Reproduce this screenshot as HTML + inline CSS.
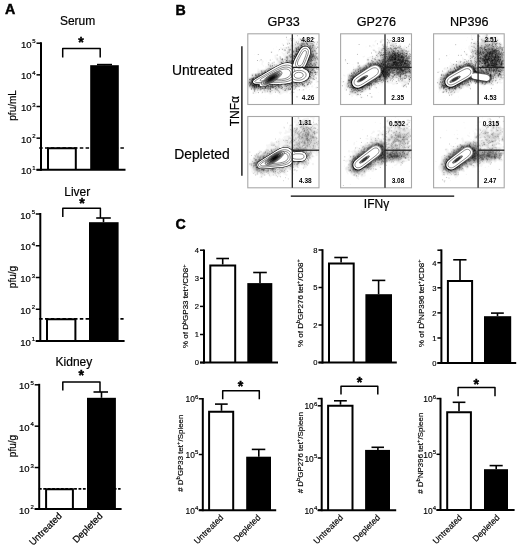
<!DOCTYPE html>
<html><head><meta charset="utf-8"><style>
html,body{margin:0;padding:0;background:#fff;}
body{width:520px;height:551px;overflow:hidden;}
svg{display:block;}
text{font-family:'Liberation Sans', Arial, Helvetica, sans-serif;fill:#000;stroke:#000;stroke-width:0.2px;}
text[font-weight=bold]{stroke-width:0.45px;}
</style></head><body>
<svg width="520" height="551" viewBox="0 0 520 551">
<rect width="520" height="551" fill="#fff"/>
<text x="5.10" y="13.80" font-size="14.2" text-anchor="start" font-weight="bold">A</text>
<text x="77.60" y="24.80" font-size="12" text-anchor="middle">Serum</text>
<path d="M48.00 169.80V148.30H75.80V169.80" fill="#fff" stroke="#000" stroke-width="2"/>
<rect x="90.20" y="65.20" width="28.60" height="104.60" fill="#000" stroke="none" stroke-width="0"/>
<line x1="104.50" y1="65.20" x2="104.50" y2="64.60" stroke="#000" stroke-width="1.6" />
<line x1="97.00" y1="64.60" x2="112.00" y2="64.60" stroke="#000" stroke-width="1.6" />
<line x1="39.20" y1="148.00" x2="124.50" y2="148.00" stroke="#000" stroke-width="1.6" stroke-dasharray="3.5 2.3"/>
<line x1="41.00" y1="42.20" x2="41.00" y2="170.80" stroke="#000" stroke-width="2" />
<line x1="36.50" y1="43.20" x2="41.00" y2="43.20" stroke="#000" stroke-width="1.5" />
<text x="35.70" y="47.80" font-size="9.5" text-anchor="end">10<tspan dx="0.9" dy="-4.5" font-size="6.0">5</tspan></text>
<line x1="36.50" y1="74.85" x2="41.00" y2="74.85" stroke="#000" stroke-width="1.5" />
<text x="35.70" y="79.45" font-size="9.5" text-anchor="end">10<tspan dx="0.9" dy="-4.5" font-size="6.0">4</tspan></text>
<line x1="36.50" y1="106.50" x2="41.00" y2="106.50" stroke="#000" stroke-width="1.5" />
<text x="35.70" y="111.10" font-size="9.5" text-anchor="end">10<tspan dx="0.9" dy="-4.5" font-size="6.0">3</tspan></text>
<line x1="36.50" y1="138.15" x2="41.00" y2="138.15" stroke="#000" stroke-width="1.5" />
<text x="35.70" y="142.75" font-size="9.5" text-anchor="end">10<tspan dx="0.9" dy="-4.5" font-size="6.0">2</tspan></text>
<line x1="36.50" y1="169.80" x2="41.00" y2="169.80" stroke="#000" stroke-width="1.5" />
<text x="35.70" y="174.40" font-size="9.5" text-anchor="end">10<tspan dx="0.9" dy="-4.5" font-size="6.0">1</tspan></text>
<line x1="36.50" y1="169.80" x2="125.50" y2="169.80" stroke="#000" stroke-width="2" />
<polyline points="62.70,57.50 62.70,48.50 100.20,48.50 100.20,57.50" stroke="#000" stroke-width="1.5" fill="none" stroke-linejoin="round"/>
<text x="81.00" y="47.00" font-size="14.2" text-anchor="middle" font-weight="bold">*</text>
<text x="16.20" y="105.40" font-size="10" text-anchor="middle" transform="rotate(-90 16.20 105.40)">pfu/mL</text>
<text x="77.30" y="196.20" font-size="12" text-anchor="middle">Liver</text>
<path d="M47.00 341.00V319.20H75.40V341.00" fill="#fff" stroke="#000" stroke-width="2"/>
<rect x="89.00" y="222.20" width="29.60" height="118.80" fill="#000" stroke="none" stroke-width="0"/>
<line x1="103.50" y1="222.20" x2="103.50" y2="218.00" stroke="#000" stroke-width="1.6" />
<line x1="96.20" y1="218.00" x2="110.80" y2="218.00" stroke="#000" stroke-width="1.6" />
<line x1="39.20" y1="318.90" x2="123.60" y2="318.90" stroke="#000" stroke-width="1.6" stroke-dasharray="3.5 2.3"/>
<line x1="40.30" y1="213.00" x2="40.30" y2="342.00" stroke="#000" stroke-width="2" />
<line x1="35.80" y1="214.00" x2="40.30" y2="214.00" stroke="#000" stroke-width="1.5" />
<text x="35.00" y="218.60" font-size="9.5" text-anchor="end">10<tspan dx="0.9" dy="-4.5" font-size="6.0">5</tspan></text>
<line x1="35.80" y1="245.75" x2="40.30" y2="245.75" stroke="#000" stroke-width="1.5" />
<text x="35.00" y="250.35" font-size="9.5" text-anchor="end">10<tspan dx="0.9" dy="-4.5" font-size="6.0">4</tspan></text>
<line x1="35.80" y1="277.50" x2="40.30" y2="277.50" stroke="#000" stroke-width="1.5" />
<text x="35.00" y="282.10" font-size="9.5" text-anchor="end">10<tspan dx="0.9" dy="-4.5" font-size="6.0">3</tspan></text>
<line x1="35.80" y1="309.25" x2="40.30" y2="309.25" stroke="#000" stroke-width="1.5" />
<text x="35.00" y="313.85" font-size="9.5" text-anchor="end">10<tspan dx="0.9" dy="-4.5" font-size="6.0">2</tspan></text>
<line x1="35.80" y1="341.00" x2="40.30" y2="341.00" stroke="#000" stroke-width="1.5" />
<text x="35.00" y="345.60" font-size="9.5" text-anchor="end">10<tspan dx="0.9" dy="-4.5" font-size="6.0">1</tspan></text>
<line x1="35.80" y1="341.00" x2="124.60" y2="341.00" stroke="#000" stroke-width="2" />
<polyline points="62.80,217.00 62.80,208.30 100.40,208.30 100.40,218.00" stroke="#000" stroke-width="1.5" fill="none" stroke-linejoin="round"/>
<text x="82.00" y="208.00" font-size="14.2" text-anchor="middle" font-weight="bold">*</text>
<text x="16.20" y="277.00" font-size="10" text-anchor="middle" transform="rotate(-90 16.20 277.00)">pfu/g</text>
<text x="73.90" y="365.70" font-size="12" text-anchor="middle">Kidney</text>
<path d="M46.10 508.91V489.20H72.90V508.91" fill="#fff" stroke="#000" stroke-width="2"/>
<rect x="87.00" y="397.80" width="28.90" height="111.11" fill="#000" stroke="none" stroke-width="0"/>
<line x1="101.50" y1="397.80" x2="101.50" y2="392.00" stroke="#000" stroke-width="1.6" />
<line x1="93.50" y1="392.00" x2="108.00" y2="392.00" stroke="#000" stroke-width="1.6" />
<line x1="38.90" y1="488.90" x2="120.60" y2="488.90" stroke="#000" stroke-width="1.6" stroke-dasharray="2.8 1.6"/>
<line x1="39.20" y1="383.80" x2="39.20" y2="509.91" stroke="#000" stroke-width="2" />
<line x1="34.70" y1="384.80" x2="39.20" y2="384.80" stroke="#000" stroke-width="1.5" />
<text x="33.90" y="389.40" font-size="9.5" text-anchor="end">10<tspan dx="0.9" dy="-4.5" font-size="6.0">5</tspan></text>
<line x1="34.70" y1="426.17" x2="39.20" y2="426.17" stroke="#000" stroke-width="1.5" />
<text x="33.90" y="430.77" font-size="9.5" text-anchor="end">10<tspan dx="0.9" dy="-4.5" font-size="6.0">4</tspan></text>
<line x1="34.70" y1="467.54" x2="39.20" y2="467.54" stroke="#000" stroke-width="1.5" />
<text x="33.90" y="472.14" font-size="9.5" text-anchor="end">10<tspan dx="0.9" dy="-4.5" font-size="6.0">3</tspan></text>
<line x1="34.70" y1="508.91" x2="39.20" y2="508.91" stroke="#000" stroke-width="1.5" />
<text x="33.90" y="513.51" font-size="9.5" text-anchor="end">10<tspan dx="0.9" dy="-4.5" font-size="6.0">2</tspan></text>
<line x1="34.70" y1="508.91" x2="121.60" y2="508.91" stroke="#000" stroke-width="2" />
<polyline points="62.80,390.40 62.80,381.90 100.00,381.90 100.00,392.00" stroke="#000" stroke-width="1.5" fill="none" stroke-linejoin="round"/>
<text x="81.30" y="380.00" font-size="14.2" text-anchor="middle" font-weight="bold">*</text>
<text x="16.20" y="446.00" font-size="10" text-anchor="middle" transform="rotate(-90 16.20 446.00)">pfu/g</text>
<text x="62.50" y="516.60" font-size="9.5" text-anchor="end" transform="rotate(-45 62.50 516.60)">Untreated</text>
<text x="103.30" y="516.60" font-size="9.5" text-anchor="end" transform="rotate(-45 103.30 516.60)">Depleted</text>
<text x="175.60" y="14.50" font-size="14.2" text-anchor="start" font-weight="bold">B</text>
<text x="283.65" y="25.60" font-size="12.6" text-anchor="middle">GP33</text>
<text x="376.30" y="25.60" font-size="12.6" text-anchor="middle">GP276</text>
<text x="469.15" y="25.60" font-size="12.6" text-anchor="middle">NP396</text>
<g clip-path="url(#cp00)"><clipPath id="cp00"><rect x="247.7" y="33.8" width="71.90" height="71.20"/></clipPath><path d="M308.5 35.4 307.9 35.4 307.6 35 308 34 308.4 34 308.7 34.6 308.5 35.4ZM297.2 36 296.5 36 296.5 35.2 297.3 35.3 297.2 36ZM316.5 36 315.8 36 315.9 35.2 316.6 35.3 316.5 36ZM280.9 95.1 279.9 95.1 278.7 94 276.2 92.3 273 93.3 271.9 94.4 270.5 94.8 269.5 94.5 267.5 92.6 265.2 93.5 263.2 92.8 262.4 94 261.9 94.2 261.2 93.6 261.1 92 258.9 91.5 258.4 91.6 258.8 92.6 258.2 93.2 257.2 93.1 255.5 93.8 254.2 93.5 252.5 93.4 252.3 93 252.5 91.6 252.3 90.6 250.5 90 247.9 87.7 247.7 82.6 247.9 77.8 250.6 76.6 250.6 74.6 250.9 74 251.5 73.4 252.9 72.8 254.5 73 256.2 72.7 256.9 72.4 257.6 68.6 257.9 68.2 258.5 68.2 259.2 69.4 259.9 69.7 262.9 69.1 264.2 69 265 68.6 265.4 68 265.1 66.6 265.9 66.3 267.2 66.6 267.4 66.3 267.3 63.6 267.7 62.3 268.1 62 268.9 62 270 63.3 270.5 63.5 271.7 62.3 273.9 61.7 274.4 62 274.8 63 275.2 63.4 275.9 63.5 276.5 63.3 277 62.6 277 62.3 276.4 61.3 275.8 59.6 274.8 58.6 274.5 58 274.7 57 274.3 55.6 274.8 55 276.5 54.4 277.2 54.5 277.3 55.3 276.2 56 275.8 56.3 275.9 56.6 277.2 57.1 278.2 57.9 278.5 57.9 279.2 56.6 279.9 56.3 281.4 57.3 283.5 57.9 283.9 57.8 283.9 57 283.1 56 282.5 54 281.5 53.1 281.3 52.6 281.5 52.2 282.2 52.1 283.2 52.9 284.5 53.3 285.1 53 285.1 52.3 284.9 51.9 283.5 51.5 282.5 50.2 281.2 49.6 280.3 48.6 280.1 48 280.4 47.3 280.9 47.1 282.5 48.1 283.5 47.3 286.2 47.1 289.2 45.7 289.2 44.9 287.2 44.8 286.4 44 286.5 42.6 287.7 41.3 287.3 40.6 286.1 40 286.2 38.3 285.6 37.3 285.9 36.9 286.6 37 286.6 38.6 287.9 39.5 288.9 39.3 290.2 38 292.9 37.8 294.2 38.4 296.2 40.2 296.9 40.5 298 39.6 298.5 38 299.2 37.5 303.9 38.9 304.5 38.6 305.9 37.4 306.5 37.4 308.9 39.8 309.1 39.6 309.4 38.6 309.9 38.3 312.5 38.2 313.5 37.8 314.2 37.9 314.3 38.6 313 39.3 312.6 40 313.4 40.6 315.2 41.3 316.9 40.9 317.7 41.3 318.1 42.3 317.2 45 318.6 47 318.5 47.6 317.7 49 317.7 52 318 54.6 319 56.3 319.2 57.4 319.4 63.6 319.2 65.2 318.1 66.3 318.5 67.3 319.2 67.7 319.4 69.6 319.2 70.6 318.2 71.1 317.9 71.6 317.9 72.6 318.5 74.6 318.4 75.3 317.9 75.9 316.6 76.3 316.5 76.6 316.7 77.6 316.6 80.3 317.9 81 318.1 82 317.5 82.6 316.2 83.1 315.9 82.9 315.5 82.3 316 81 315.8 80.6 314.9 80.3 312.9 80.9 312.7 83 312.2 83.9 311.2 84.7 309.5 85 309.4 85.6 309.8 86.6 309.5 87.5 308.9 87.9 307.1 87.6 306.8 88 306.8 89 306.5 89.4 305.9 89.5 305 88.6 303.2 87.6 301.2 87.2 299.9 87.9 298.2 88 297.2 88.6 297.1 89.3 297.5 89.4 299.2 88.9 299.5 89 299.8 89.6 299.3 90.3 297.2 90.9 296.7 90.6 296.2 89.6 295.5 89.7 293.5 90.4 291.9 89.6 290.5 91 288.5 91.6 287.9 93 287.5 93.3 286.9 93.4 285.2 92.8 284.5 92.9 282.2 93.7 280.9 95.1ZM291.1 43.6 291.6 43 292.2 42.7 293.2 43.3 293.5 43.2 294.1 42.3 294.2 41.6 293.9 41.3 292.5 41.2 290.9 41.4 289.5 41.1 289 41.3 289 41.6 290 42.6 290.4 43.6 290.5 43.8 291.1 43.6ZM283.2 46 282.5 45.6 281.8 44.3 281.6 43.6 281.9 43.2 282.2 43.1 282.7 43.3 283.6 44.6 283.7 45.6 283.2 46ZM276.9 47.4 276.1 47.3 276.2 46.6 276.9 46.6 276.9 47.4ZM264.1 84.6 269.5 82.5 271.9 82 278.5 82.5 281.2 82.3 283.2 82.7 286.2 81.8 287.9 81.7 290.2 80.8 292.5 80.3 294.9 80.1 297.5 80.6 300.2 80.6 303.5 79.6 305.5 78.3 306.5 77.1 307.2 76 307.5 74.6 307.3 74 305.9 71.6 303.5 70.5 302.8 70 302.3 69 302.2 68 302.5 67 303.5 65.1 305.9 59.7 306.7 57 308.4 53.3 308.3 50.6 307.5 49 306.6 48.3 304.5 48 303.5 48.3 302.9 49 300.5 51.9 298.7 55.6 296.9 58.1 295.1 63.3 293.9 65 293.2 65.3 292.2 65.3 289.2 64.3 286.9 64.1 284.9 63.3 283.5 64.8 280.3 65.3 276.5 67.6 275.2 68.7 273.5 69.5 272.5 70.5 270.7 71.3 269.5 72.4 267.8 73.3 266.2 74.5 259.2 78 255.5 80.6 255.4 81.3 255.9 81.6 259.2 81.7 260.2 82.1 261 83 262.1 84.6 263.2 84.8 264.1 84.6ZM273.9 49.4 273.1 49.3 273.2 48.6 273.9 48.6 273.9 49.4ZM278.9 51.8 278.2 51.7 277.9 51 278.4 49 279.2 48.7 279.6 49 279.7 49.3 279.2 51.3 278.9 51.8ZM286.9 50 286.9 49 286.5 48.8 286 49.3 286.1 50 286.5 50.2 286.9 50ZM272.2 53 271.2 53.3 270.5 52.8 270.3 52 270.9 51.2 271.9 51 272.5 51.4 272.7 52.3 272.2 53ZM254.5 54.7 253.8 54.6 253.9 53.9 254.6 54 254.5 54.7ZM258.2 54.7 257.5 54.6 257.5 53.9 258.3 54 258.2 54.7ZM272.9 59.7 272.5 59.9 272 59.6 272.1 59 272.5 58.8 273 59 273.1 59.3 272.9 59.7ZM262.5 65.2 261.5 64.8 261.3 64.3 261.7 63 261.5 61 261.2 60.7 260.9 60.8 260.1 61.6 259.5 61.9 258.8 61.3 258.9 60.8 260.5 59.2 261.2 59.2 261.9 60 263.2 60.4 263.7 61 263.6 62 262.7 63.6 262.8 65 262.5 65.2ZM270.2 60.4 269.9 60.5 269.4 60.3 269.5 59.6 269.9 59.4 270.4 59.6 270.5 60 270.2 60.4ZM257.9 60.7 257.2 60.9 256.9 60.7 256.8 60 257.5 59.9 257.9 60.3 257.9 60.7ZM266.5 61.4 265.8 61.3 265.7 61 265.9 60.6 266.6 60.6 266.8 61 266.5 61.4ZM264.2 66.3 263.9 66.5 263.2 66.4 262.6 65.3 262.9 65 263.9 65.4 264.3 66 264.2 66.3ZM314.9 85.1 314.5 85.2 314 85 314.2 84.2 314.5 84.1 315 84.3 314.9 85.1ZM312.2 87.7 311.3 87.3 311 86.6 311.2 85.7 311.9 85.2 312.9 85.3 313.4 86 313.2 87.1 312.2 87.7ZM316.9 88.7 315.9 88.8 315.4 88.3 315.3 87.3 315.9 86.5 316.9 86.5 317.4 87 317.4 88 316.9 88.7ZM302.5 91.1 301.5 91.1 301.2 90.3 302.5 89.1 303.5 89 303.8 89.3 303.8 90 302.5 91.1ZM309.9 90 309.1 90 309 89.6 309.2 89.1 309.5 89 310 89.3 309.9 90ZM292.5 96 292.2 96.2 291.5 96.2 291 95.6 290.7 94.6 289.5 94.1 289.2 93.6 289.3 93.3 290.9 91.2 292.2 91.8 293.5 91.6 294 92 294 92.6 293 93.6 293 95 292.5 96ZM277.5 96.4 276.8 96.3 276.9 95.6 277.6 95.6 277.5 96.4ZM297.9 97.7 297.2 97.9 296.2 97.5 295.8 96.6 296.1 96 296.9 95.7 297.9 96.1 298.3 97 297.9 97.7ZM266.2 99 265.5 99 265.5 98.2 266.3 98.3 266.2 99ZM306.5 100 305.8 100 305.9 99.2 306.6 99.3 306.5 100Z" fill="rgb(245,245,245)"/><path d="M280.5 93.8 280.2 93.9 276.5 91.3 275.9 91.1 274.5 91.4 273.2 90.8 272.5 90.9 271.9 91.5 270.5 93.3 270.2 93.4 269.2 93 267.9 91.2 267.2 91.4 265.5 92.7 264.9 92.7 264.2 92.2 263.2 90.4 262.5 90 260.5 91 259.9 91 258.5 90.5 256.2 90.5 255.8 91 255.8 92.3 255.5 92.6 253.9 92 253.4 91.6 252.9 90 250.9 89.3 248.9 87.7 247.9 85.7 247.7 82.3 248 79 248.9 78 250.5 77.4 251.2 76.9 251.5 76.3 251.3 74.6 251.9 74 252.9 73.7 254.2 74 255.2 73.5 256.9 73.2 257.6 72.6 258.2 71 258.5 70.8 259.5 71.4 260.9 70.2 264.9 69.4 268 67.3 268.4 66.6 268.1 64.3 268.5 63.6 270.5 64.4 271.5 64.4 272.5 63.8 273.2 63.6 275.5 64.6 276.2 64.5 278.5 63.4 278.2 61.9 277.2 60.6 277.2 60 277.5 59.7 278.9 60.6 279.2 60.6 279.5 60.3 280.2 58.5 281.5 58 282.5 58.2 283.9 58.9 284.5 58.9 284.8 58.3 284.9 55.8 285.5 55.5 287.3 55.6 287.8 55.3 288.1 54.6 287.9 54 286.6 53.3 286.3 52.3 286.4 51.6 287.6 50.3 287.9 47.6 288.1 47.3 289.9 46.7 290.4 45.3 291.2 44.8 292.2 44.6 294 45 294.7 43 295.5 41.8 296.2 41.7 297.4 42 299.2 43 299.9 42.9 300.3 42.3 300.4 41.3 300.3 40.6 299.4 39.3 299.8 38.6 301.2 38.7 303.9 39.7 305.9 38.7 306.5 38.7 307.3 39.3 308.5 40.9 309.9 41 311.5 41.6 313.2 41.5 314.7 42 315.1 42.6 314.8 43.6 314.8 44.3 316.2 46.3 317.4 47 317 48.3 316.8 51.3 317.4 53.3 317.3 55 318.2 56.3 318.7 59 318.1 61 318.9 63.3 318.5 64.6 317 66 317.2 66.6 318.8 68.6 319 69.3 318.2 70.1 316.5 70.1 316.1 70.3 316.2 70.8 317 72 317.6 74.6 317.2 75.1 314.9 75.6 314.9 76.3 315.7 77.6 315.5 78.2 313.5 80 312.2 80.2 311.2 79.6 310.8 79.6 310.7 80 312.1 81.6 312.2 82.3 311.9 83.2 310.9 83.9 309.2 84.1 307.9 85.9 306.5 86.4 305.2 87.2 304.5 87.2 300.9 86.3 299.5 86.9 297.5 87.4 295.9 88.7 293.9 89.5 293.2 89.4 292.2 88.7 291.5 88.7 290.2 90.3 287.6 91.3 286.5 92 283.2 91.2 281.5 90 279.9 89.9 279.7 90 279.8 90.3 280.4 90.6 280.7 91.3 280.5 93.8ZM290.9 40.1 290.6 40 290.5 39.6 290.9 39.5 291.2 40 290.9 40.1ZM288.9 43.7 287.8 43.6 287.7 43 288.2 42.7 288.9 42.8 289.1 43.3 288.9 43.7ZM292 49.3 293.2 48.6 293.2 48 292.9 47.3 291.5 47 290.9 47.3 290.6 48 291.2 49.2 291.5 49.4 292 49.3ZM263.5 85.3 269.2 83.1 272.2 82.4 278.5 83 280.9 82.8 283.2 83.3 285.5 82.5 287.9 82.2 289.5 81.4 292.2 80.7 294.9 80.5 297.2 81 300.2 81.2 303.9 80 305.9 78.6 307.5 76.3 307.9 75 307.9 74 306.2 71.3 303.9 70.2 303.1 69.6 302.7 69 302.6 68 303.1 66.6 304.2 64.7 308.9 53.3 308.8 50.6 307.9 48.6 307.1 48 305.2 47.5 303.9 47.6 303.2 48 300.1 51.6 298.4 55.3 296.5 57.7 295.4 60.6 294.6 63.3 293.5 64.6 292.2 64.8 288.9 63.7 286.9 63.5 284.5 62.3 283.7 64 283.2 64.4 279.4 64.6 278.6 65.3 276.5 66.3 275 68 273.4 68.6 272.2 70 270.3 71 269.2 72 267.5 72.8 265.9 74.2 258.9 77.6 255.2 80.3 254.8 81.3 255.2 81.7 256.9 82.2 259.5 82.2 260.5 83 261.6 85 263.5 85.3ZM284.9 50.8 284.2 50.9 283.7 50.3 283.8 49.6 284.2 49.3 284.9 49.5 285.2 50 284.9 50.8Z" fill="rgb(232,232,232)"/><path d="M270.2 92.1 269.5 92.1 268.8 90.6 268.2 90.3 266.5 90.3 265.6 91.6 264.9 91.7 263.6 90 262.5 89.5 261.9 89.6 260.9 90.4 260.2 90.6 258.5 89.9 255.9 89.7 254.2 90.7 252.9 89.3 251.2 88.8 249.1 87 247.9 84.1 247.8 83 247.9 81.3 248.3 80.6 248.7 79 249.2 78.4 251.4 77.3 252.9 75.5 253.9 75.6 255.2 74.1 257.2 73.7 258.9 72.4 260.2 72.4 261.2 70.8 264.9 69.9 266.5 69.1 267.5 68.2 269.1 67.3 269 65.3 269.9 65 272.2 65 272.6 65.3 272.6 68 272 69.6 270.2 70.5 268.9 71.8 267.5 72.3 265.9 73.8 261.2 76 255.5 79.4 254.6 81 254.6 81.6 254.9 81.9 256.5 82.4 259.5 82.5 260.5 83.3 261.4 85.3 263.2 85.7 264.2 85.5 269.5 83.4 272.2 82.7 278.5 83.3 280.9 83.1 283.2 83.8 284.9 83 287.9 82.6 289.9 81.7 292.2 81.1 294.9 80.9 297.2 81.4 300.2 81.6 304.5 80.1 306.5 78.5 307.8 76.6 308.3 75 308.1 73.6 306.9 71.5 305.9 70.7 303.6 69.6 303.1 69 302.9 68.3 303.1 67.3 304.4 65 306.5 60 307.4 57.3 308.5 55.3 309.2 53.4 309.1 50.3 307.9 48.1 306.9 47.5 304.9 47.1 303.5 47.2 302.9 47.8 299.7 51.6 298.1 55.3 296.2 57.6 295.1 60.3 294.2 63.3 293.2 64.4 292.2 64.5 289 63.3 286.9 63.1 285.6 62.3 285 61.6 284.9 61 285 60.3 285.8 59 285.5 57.3 286.2 56.5 287.9 56.2 289.2 54.5 291.2 53.2 291.6 52.6 291.9 50.3 292.5 49.8 294 49.3 294.6 47.6 297.2 45.6 297.4 45.3 297.1 44.3 297.5 43.7 299.2 43.7 300.5 43 301.5 40 302.2 40 303.5 40.5 304 41 304.2 41.6 304.5 41.7 305.1 41.3 305.4 40 305.9 39.6 306.5 39.6 308.2 41.5 309.9 41.6 311.5 42.5 313.2 42.3 313.9 42.5 314 43 313.5 43.6 313.6 44 314.8 45.3 316.3 48.6 316.2 49.3 315.5 50.5 315.5 51.6 316.8 53 316.9 54 316.7 55.3 317.8 57 317.8 59.6 316.6 61 316.6 61.3 318 62.6 318.2 63.6 317.9 64.5 316.8 65 316.3 65.6 316.5 66.6 317.4 68.6 316.9 68.9 315.5 68.4 315.2 68.5 315 69 315.3 70.6 316.3 72.3 316.3 74 316.2 74.3 315.5 74.6 314.2 74.3 313.9 74.7 313.6 75.6 314.3 77.3 313.8 79 313.2 79.6 312.5 79.7 311.2 78.7 310.9 78.7 309.9 80 309.9 80.3 311.5 81.6 311.6 82.3 311.2 83 310.5 83.3 309.2 83.4 307.9 84.7 307.2 85 306.5 84.8 305.9 83.5 305.2 83.3 304.4 84 304.8 85.6 304.5 86.3 303.5 86.4 300.9 85.7 300.2 85.8 296.9 87 295.4 88.3 294.2 88.8 293.5 88.8 292.2 88.1 291.2 88.1 289.9 89.9 287.9 90.5 284.9 90.3 284.5 90 284.9 88.6 283.5 87.5 283.2 87.4 282.5 88.5 281.9 89 278.5 89.2 277.2 90.3 274.7 90.3 274.2 90 273.5 89 272.3 89 271.7 89.3 271.6 90.6 270.2 92.1ZM292.2 45.9 291.9 45.9 291.8 45.6 292.3 45.6 292.2 45.9ZM288.9 53.3 287.6 53 287.1 52 288.2 50.5 288.5 49 288.9 48.6 289.5 48.5 290.2 48.9 290.5 49.6 289.8 51 289.6 52.6 288.9 53.3ZM282.9 64.1 280.2 63.9 279.6 63.3 279.3 62.6 279.4 61.6 280.7 61 280.7 59.3 281.5 58.6 282.5 58.7 283.2 59.3 283.5 60 283 61.3 283.5 62.3 283.5 63.3 282.9 64.1ZM282 61.3 281.8 61.3 282 61.3ZM252.5 75.5 252.5 74.9 252.7 75.3 252.5 75.5Z" fill="rgb(215,215,215)"/><path d="M270.2 90.5 268.9 89.7 267.2 89.5 265.9 88.7 264.5 89.5 261.9 89.1 260.2 90 258.9 89.5 256.2 89.2 254.2 89.6 252.9 88.8 251.5 88.4 249.5 86.6 247.9 82.6 248.9 80.6 249.2 79.3 252.5 76.9 254.5 76.3 255.5 74.6 257.2 74.2 258.9 73.1 260.5 73 261.9 71.5 263.8 70.6 266.5 69.9 268.2 68.4 270.9 67.5 271.5 67.8 271.8 68.3 271.8 69 271.5 69.4 269.9 70.2 268.5 71.5 267.2 71.9 265.5 73.7 263.9 74.2 261.5 75.4 255.5 79 254.9 79.6 254.3 81 254.2 81.6 254.5 82 256.5 82.7 258.9 82.6 259.5 82.8 260.4 83.6 261.2 85.6 261.9 85.9 263.2 86.1 264.2 85.9 266.1 85 269.5 83.8 272.2 83 273.2 83 275.2 83.6 278.9 83.7 280.9 83.5 283.2 84.6 284.9 83.4 287.9 82.9 289.9 82 291.9 81.5 294.9 81.2 296.9 81.8 300.5 82.1 304.9 80.5 306.9 78.7 308.1 77 308.8 75 308.6 74 307.1 71.3 306.2 70.5 303.9 69.5 303.2 68.3 303.4 67.3 304.7 65 307.7 57.3 308.7 55.6 309.6 53.3 309.5 50.3 307.9 47.5 307.2 47.2 304.9 46.8 303.5 46.8 302.9 47.2 300.9 50 299.3 51.6 297.8 55.3 295.8 57.6 294.7 60.3 294.1 63 293.2 64 291.9 64.1 289.2 62.9 286.9 62.6 285.6 61.6 285.4 60.6 286.2 59.8 286.9 59.7 287.9 60.1 288.9 60 289.5 59.9 290.2 59.3 290.4 59 290.3 58.3 288.9 57 289.1 55.6 289.9 55.2 291.2 55.2 293.1 54 292.4 52.3 292.7 50.6 294.5 49.8 295.3 48 296 47.3 297.5 46.3 299.2 46 299.2 44.6 301.1 43 301.7 41.3 302 41 302.5 40.9 302.9 41.2 303.3 42.3 303.9 42.8 304.5 42.8 306.5 41.7 308.2 42.2 309.5 42.2 311.5 43.4 312.5 44.4 313.9 45.2 315.3 48.6 314.4 52.3 314.5 52.7 315.9 52.8 316.3 53.3 316.3 54.3 315.5 55.6 315.7 56 317 56.6 317.3 57.3 317.2 59.3 315.5 60.6 317.2 63.6 316 65 315.3 67 313.9 68 314.7 71 315.6 72.3 315.5 72.8 315.2 73.1 313.5 73.1 312.5 74.9 311.5 75.6 310.8 77.6 309.9 79.2 308 81 308.1 81.6 308.5 81.8 309.6 81.3 310.2 81.3 310.7 81.6 310.7 82.3 308.9 82.5 307.9 83.7 307.2 84.1 306.2 82.8 305.5 82.6 304.9 82.8 303.8 83.6 303.6 85.3 303.2 85.5 302.2 85.5 300.5 85 299.5 85.1 297.5 85.7 294.9 87.1 294.2 86.2 293.5 85.9 292.5 87.2 290.5 87.5 289.9 89.3 289.2 89.7 287.9 89.7 287.2 89.4 286.6 88.6 286.2 87.4 284.2 86.7 283.2 85.2 282.9 85.1 282.1 86 282.3 87.6 281.5 88.5 279.2 88.5 277.7 87.6 276.5 87.5 276.3 88 276.7 89 276.4 89.3 275.2 89.4 273.9 88.4 271.7 88.6 271 89 270.2 90.5ZM309.6 44.3 309.2 43.7 308.9 43.8 308.9 44.4 309.2 44.6 309.6 44.3ZM288.9 52.4 288.5 52.6 288 52.3 288.1 51.6 288.9 51.6 288.9 52.4ZM288.2 58.3 287.5 58.6 286.9 58.5 286.3 58 286.2 57.6 286.9 57.1 287.9 57.2 288.4 57.6 288.2 58.3ZM313.6 62 314.1 61 314.2 60.6 313.9 60.5 313.1 61.6 313.2 62.1 313.6 62ZM282.2 63.7 280.4 63.3 280 62.6 280.2 62 280.9 61.9 282.7 62.6 282.9 63.3 282.2 63.7ZM312.9 79 312.5 79 312.2 78.6 312.2 78.2 312.5 77.9 312.9 77.9 313.2 78.3 312.9 79Z" fill="rgb(197,197,197)"/><path d="M307.2 80 307.4 78.6 308.6 77 309.4 74.6 307.2 71 306.2 70.2 304.1 69.3 303.6 68.6 303.5 68 303.8 67 305.1 65 308 57.3 309.1 55.6 309.9 53.3 309.8 50 307.9 46.9 307.2 46.6 305.2 46.4 302.9 46.5 300.8 49.6 298.8 51.6 297.8 54.6 297.2 55.6 295.6 57.3 294.5 59.6 293.9 62.6 293.2 63.7 292.5 63.9 291.9 63.8 289.2 62.4 286.9 62 286.2 61.5 286 61 286.2 60.6 286.5 60.5 287.9 61.1 288.9 60.9 290.9 59.8 292.5 59.3 292.4 58.6 291.3 57.3 291.3 56.6 292.2 55.5 293.9 54.6 294.2 53 293.5 52 293.5 51.3 294.9 50.3 296.1 48 297.5 46.9 299.5 46.8 299.9 46.3 300 44.6 301.2 43.7 302.2 43.4 302.9 43.7 304.9 44 305.5 43 306.5 42.5 307.7 43 308.1 44.6 308.5 45.2 310.5 45.6 311.5 45.1 312.6 45.6 313.2 46.3 313.6 47.3 314 50.3 313.6 52.3 314.3 54 314.5 55.6 315.1 56.6 316.5 57.3 316.7 58 316.3 59 315.5 59.4 313.5 59 312.8 60.6 311.6 62.3 312.4 64.3 312.9 64.6 314.5 63.4 314.6 62.3 314.9 61.9 315.3 62 315.8 63 315.2 65.5 314.5 66.4 312.9 66.5 312.5 67 312.2 68.3 313.5 69.3 313.7 70.3 313.4 70.6 312.4 71 312.2 71.3 312.6 72.6 312.4 73.3 310.4 75 310.4 76.6 309.5 79 308.9 79.6 307.2 80ZM268.5 70.7 268.2 70.9 267.7 70.6 268.5 69.1 270.2 68.6 270.9 68.7 270.9 69 270.5 69.3 269.2 69.8 268.5 70.7ZM269.9 89 267.5 89 265.9 88 264.2 88.8 261.5 88.7 260.2 89 256.2 88.8 254.2 88.9 251.5 87.8 250.2 86.5 248.7 83 248.7 82 250.5 79 252.5 77.5 254.8 77 255.9 75.2 258.9 73.8 260.9 73.5 261.9 72.6 263.2 72.2 263.8 71.3 264.5 70.8 265.9 70.8 266.4 71.3 266.5 71.6 265.9 73 265.2 73.5 263.5 73.8 255.2 78.6 254.5 79.6 253.9 81.6 254.5 82.3 255.9 82.7 257.2 82.9 258.9 82.8 259.5 83 260.2 83.7 261.1 86 262.9 86.5 263.9 86.4 266.5 85.2 272.5 83.3 275.2 84 279.2 84.2 280.7 84 281.5 84.3 281.6 84.6 281.2 85.6 281.7 87.3 281.2 88 279.9 88 278.2 87.2 276.2 86.9 273.5 88 271.2 88.3 269.9 89ZM287.2 86 285.9 86.3 284.9 86 284.2 85.1 284.4 84.3 285.2 83.8 288.2 83.2 290.2 82.2 294.2 81.5 295.4 81.6 297.2 82.4 299.1 82.3 300.1 83 300.1 83.3 299.5 83.9 297.9 84.3 296.5 85 295.2 84.3 293.5 83.8 292.2 84.7 290.5 85 289.2 85.8 287.2 86ZM302.2 84.6 301.3 84 301.1 83.3 301.3 83 303.9 81.5 304.5 81.4 305.1 81.6 303.2 83 302.7 84.3 302.2 84.6ZM288.5 88.1 288.2 88 288.5 87.9 288.5 88.1Z" fill="rgb(176,176,176)"/><path d="M306.9 44.1 306.5 44 306.5 43.6 306.9 43.7 306.9 44.1ZM294.2 59 293.5 59.1 293.2 58.6 292.7 57.3 292.6 56.3 294.5 54.6 294.9 53.4 295.5 52.3 295.6 51 296.7 48.3 297.5 47.6 298.9 47.7 299.9 47.2 300.6 46.3 300.7 45 301.2 44.7 302 46.3 301.8 47.6 300.2 49.9 297.7 51.6 297.9 53 297.6 54.3 296.9 55.5 295.5 56.7 294.2 59ZM310.5 73.8 309.5 73.8 308.9 73 308 71 306.6 70 304.2 69 303.8 68 304.1 67 305.5 65 308.2 57.7 309.4 56 310.4 53.3 310.8 50.6 309 47.6 308.8 46.6 309.2 46.3 310.2 46.7 311.4 47.6 311.6 48.3 311.2 49.6 311.4 51 311.9 52.3 313.3 53.3 314.1 57 313.9 57.4 312.4 58 312.4 60.3 311.9 61.1 310.7 62 310.7 62.6 311.9 66.3 311.7 67.3 310.2 68.6 308.6 69 309.1 70.3 310.5 70.5 311.5 72 311.5 73 310.5 73.8ZM315.2 58.3 314.7 58 314.9 57.8 315.4 58 315.2 58.3ZM292.9 63.4 291.5 63.3 290.3 62.3 290 61.6 290.8 60.6 292.9 60.1 293.5 60.1 293.8 61 293.7 62 293.3 63 292.9 63.4ZM265.2 73.1 264.5 73.1 264 72.6 264.2 71.7 264.9 71.2 265.5 71.4 265.9 72 265.7 72.6 265.2 73.1ZM257.2 77 256.5 77.2 256 77 256.5 75.6 258.8 74.6 259.5 74.7 259.7 75 259.3 75.6 257.2 77ZM268.5 88.4 267.5 88.4 265.9 87.1 264.2 88.1 261.5 88 257.9 88.5 254.2 88.2 251.9 87.3 250.8 86.3 249.3 83 249.3 82.3 250.2 81.1 251.2 79 252.5 78 253.5 77.8 254.2 78.2 254.4 78.6 253.7 81.3 253.9 82.2 256.5 83.1 258.9 83.1 259.5 83.3 260.1 84 260.8 86.3 261.9 86.9 263.2 87.2 263.9 87.1 265.5 86.5 266.5 85.6 268.9 85 272.5 83.7 273.2 83.8 274.9 84.6 277.9 84.4 279.5 85 279.8 85.3 279.8 86 279.2 86.4 277.9 86.6 275.2 86.4 273 87.6 270.9 87.8 268.5 88.4ZM308.5 79 308.2 79 308.2 78.3 308.9 77.8 309.2 78.4 308.5 79ZM288.9 85 287.5 85 286.9 84.6 287 84.3 290.4 82.6 294.5 82 295.4 82.3 295.7 82.6 295.6 83 295.2 83.2 293.2 82.9 291.8 84 288.9 85Z" fill="rgb(154,154,154)"/><path d="M299.2 50.1 298.5 50.3 297.9 50 297.9 49 300.9 47.6 300.2 49.2 299.2 50.1ZM294.2 57.7 293.9 57.8 293.5 57.3 293.7 56.3 294.9 55.6 295.5 53.5 296.2 53 296.9 53 297.3 53.6 296.9 54.6 296.4 55.3 295.2 55.9 294.2 57.7ZM307.2 64.4 306.5 64.3 306.5 64 308.5 58.1 309 57.3 310 56.3 310.9 54 311.5 53.7 312.2 53.9 312.6 54.3 313 56 312.7 56.6 311.4 57.3 311.4 58.3 311.9 59.6 311.7 60.3 311.2 60.8 309.7 61.3 309.2 62.8 307.2 64.4ZM292.2 63 291.5 62.6 291.3 61.6 292.1 61 292.9 60.9 293.2 61.3 293.1 62.3 292.9 62.7 292.2 63ZM306.9 69.4 304.9 68.9 304.2 68.3 304.3 67.3 305.5 65.8 306.2 65.5 307.9 66.7 309.9 66.2 310.9 66.3 311 67 310.1 67.6 309.2 67.8 307.9 67.7 307.5 68 307.2 69.3 306.9 69.4ZM310.2 73 309.9 73 309.4 72.6 309.3 72 309.5 71.6 310.2 71.6 310.5 72 310.5 72.6 310.2 73ZM259.5 87.7 256.5 87.8 254.2 87.5 252.5 86.9 251.5 86 251 85 250.4 82.6 251.2 80 251.9 78.9 253.2 78.4 253.8 79 253.8 79.6 253.2 81.6 253.5 82.4 256.5 83.4 258.9 83.3 259.5 83.7 260 84.6 260.4 87 260.3 87.3 259.5 87.7ZM271.5 86.4 270.7 86.3 270.5 85.6 271.9 84.6 272.5 84.4 272.9 84.6 272.8 85 271.5 86.4ZM277.9 85.8 276.9 85.7 276.7 85.3 277.2 85 277.9 85.1 278.2 85.3 278.2 85.6 277.9 85.8ZM268.2 87.4 267.9 87.6 267.5 87.5 267.2 87 267.1 86.3 267.5 86 268 86 268.4 86.3 268.2 87.4Z" fill="rgb(128,128,128)"/><path d="M305.9 68.4 305 68.3 304.8 67.6 305.2 67 305.9 66.7 306.3 67 306.4 67.6 306.2 68.2 305.9 68.4ZM256.5 87 253.5 86.5 252.5 86 252 85.3 251.5 83.2 251.6 81 251.9 80 252.5 79.3 252.9 79.3 253.2 79.6 252.5 82 252.9 82.6 256.9 83.9 258.9 83.7 259.5 84.3 259.7 85.6 259.3 86.6 258.9 86.8 257.5 86.7 256.5 87Z" fill="rgb(101,101,101)"/><path d="M304.1 82h.6M267.4 70.6h.6M254.1 77.4h.6M272 66h.6M269 68.8h.6M286.3 88.7h.6M262.8 88.5h.6M255.6 85.9h.6M296.1 84.4h.6M280.9 59.6h.6M261.2 87.9h.6M265.9 87h.6M267.8 68.8h.6M253.3 85.3h.6M256.4 87h.6M271.9 69.3h.6M254.1 87h.6M260.2 88.7h.6M288.3 88.5h.6M256.8 74h.6M251.3 82h.6M272.5 85.1h.6M261.4 89.1h.6M253.1 80.2h.6M289 84.2h.6M277.5 84.1h.6M286.8 60.5h.6M296.8 86.1h.6M274.5 65.1h.6M270.9 69.2h.6M270.3 65.2h.6M252.5 85.6h.6M265.1 87.4h.6M271.9 63.2h.6M257.6 76.3h.6M270.2 88h.6M258.1 92.6h.6M281.1 84.2h.6M278.1 84.8h.6M277.9 86.7h.6M258.1 84.2h.6M274 84.6h.6M281.7 84.3h.6M265 88.5h.6M278.6 84.8h.6M253.3 78.6h.6M267.5 90.1h.6M280.7 84.3h.6M253.6 88.8h.6M250.3 84.8h.6M254.8 84.5h.6M265.3 87.7h.6M269.8 91.4h.6M267.8 71.1h.6M262.3 73.8h.6M283.2 61.8h.6M264.8 72.7h.6M265.3 88h.6M278.5 87.8h.6M287.1 59.6h.6M280.3 85.6h.6M255 83.8h.6M272.6 87.8h.6M263.3 73.9h.6M276.5 85.5h.6M276.8 90.5h.6M250.1 83.9h.6M286.1 60.6h.6M286.1 84.1h.6M270.1 91.9h.6M266.6 85.7h.6M279.3 65h.6M260.3 89.7h.6M289.9 85.1h.6M254.4 84.5h.6M254.3 86.9h.6M252.2 79.9h.6M272.4 86.5h.6M285.2 84.2h.6M253.9 85.1h.6M254.7 83.9h.6M260.3 75.2h.6M262.6 74.4h.6M252 81.6h.6M272.8 86.9h.6M282.2 59.2h.6M282.4 63.2h.6M258.8 85.8h.6M255.7 85.4h.6M272.8 84.8h.6M270.8 83.9h.6M269.2 86.5h.6M271.9 84.9h.6M254.1 86.1h.6M270.8 68.8h.6M255.7 75.5h.6M250.1 84.9h.6M266.5 69.8h.6M256.5 85h.6M248.7 83.4h.6M276.2 65.2h.6M252.6 81.5h.6M291.4 82.6h.6M258.7 85.6h.6M258.3 74.5h.6M251.1 82.9h.6M282.1 87.7h.6M256.5 84.2h.6M278.5 86.3h.6M252.2 79.3h.6M258.3 86h.6M279.3 85.8h.6M256.2 84.2h.6M251.8 78.7h.6M260.9 74.1h.6M304 85.9h.6M274 86.7h.6M307.3 84.4h.6M272.1 65.6h.6M292.7 82.3h.6M260.1 87.4h.6M250.7 84.3h.6M264.6 72.7h.6M252.2 81.4h.6M251.2 83.4h.6M290 57.6h.6M258.4 88.3h.6M271.5 84.5h.6M259.4 85.9h.6M273.7 86.6h.6M297.5 85.3h.6M259.3 85h.6M249.4 82.4h.6M255.7 77.5h.6M250.3 83.4h.6M259 76.3h.6M254.2 87.3h.6M262.3 92.2h.6M281 62.4h.6M266.4 86.3h.6M262.8 73.3h.6M273 87.2h.6M270.4 85.2h.6M281.8 86.9h.6M256 85.9h.6M265.1 72.5h.6M305.6 67.8h.6M285.1 90.3h.6M261.9 86.6h.6M261.7 72.5h.6M284.7 49.9h.6M251.2 81.1h.6M258.8 84.1h.6M270 89.2h.6M274.7 67.5h.6M290 89.4h.6M253.7 79h.6M287.8 62.6h.6M253.9 83.6h.6M255.7 87.8h.6M253.9 87.3h.6M274.4 84.2h.6M290.9 86.8h.6M292.2 86.8h.6M264.8 72.1h.6M271.7 90.6h.6M276.8 59.1h.6M264.7 71.3h.6M275.5 88.6h.6M288.3 89.6h.6M255 78.2h.6M254.2 91h.6M275.5 85.9h.6M288.8 87.2h.6M291.6 87.4h.6M282.7 63.8h.6M272.1 85.6h.6M259.4 75.2h.6M262.5 88.6h.6M266.5 88.6h.6M296.2 82.8h.6M254.6 89.1h.6M256.5 86.2h.6M260.9 70.9h.6M275 92.2h.6M280.9 63h.6M252.1 84h.6M264.7 88.4h.6M253.8 86h.6M289.1 52h.6M256.9 84.1h.6M255.1 74.2h.6M252.9 79.9h.6M259.5 87.1h.6M255.9 75.1h.6M257.1 84.1h.6M292.3 82h.6M256.5 84h.6M251.2 89.5h.6M262.4 74.8h.6M265 87.1h.6M254.7 85.6h.6M258.2 86.1h.6M281.9 87.7h.6M287.7 85.4h.6M253.6 84.1h.6M258 85.7h.6M276.3 84.1h.6M289.7 89.5h.6M261.8 73.4h.6M275.2 88.9h.6M290.3 84.4h.6M269.6 84.4h.6M286.3 60.3h.6M268.2 89.1h.6M251.9 75.6h.6M254.7 88.7h.6M251.3 88.5h.6M276 89.1h.6M280.8 88.5h.6M288.9 84.3h.6M261.2 73.9h.6M256.8 76.4h.6M256.6 76.8h.6M291.4 92h.6M251.7 82.3h.6M257.6 84.5h.6M250 82.6h.6M249.2 85.5h.6M299.4 83.7h.6M258.9 75.6h.6M277.8 84.6h.6M282 59.2h.6M255.7 77.8h.6M294.4 85.2h.6M253.2 85.2h.6M257.9 84.2h.6M285.9 86h.6M249.3 82.4h.6M258.5 86.8h.6M250.9 83.8h.6M252.4 78.5h.6M270.7 86.2h.6M287.5 58.1h.6M292.6 62.6h.6M275 86.8h.6M272.4 84.3h.6M254.5 84.5h.6M281.5 88.6h.6M268.1 86.8h.6M290.8 61.3h.6M290 89h.6M275.3 84.7h.6M282.7 63.1h.6M267 91.7h.6M286.1 56.8h.6M256.6 84.7h.6M254.3 85.9h.6M248.7 84.7h.6M310 72.5h.6M255.2 84.5h.6M255.3 77.2h.6M265.1 72.7h.6M250.9 80.3h.6M276.4 87.5h.6M254.1 84.5h.6M255.5 75.6h.6M279.2 92.2h.6M255.8 77.2h.6M254.1 90.9h.6M268.6 62.8h.6M270.2 89.7h.6M295.1 87.9h.6M270.5 86.9h.6M277.2 89.1h.6M279.3 87.2h.6M287.5 56.4h.6M293.6 92.3h.6M259.4 73.9h.6M256.8 77h.6M291.6 83.9h.6M249 79.6h.6M260.3 87.6h.6M263.2 73.2h.6M267.8 86.2h.6M267.4 72h.6M253.3 77.5h.6M262.5 88.5h.6M269.8 88.3h.6M284.7 84.7h.6M263.9 88.9h.6M254.7 89.8h.6M304.6 86.1h.6M255.3 85h.6M256.1 85.4h.6M284.7 59.4h.6M281.4 62.9h.6M285 90h.6M289.5 83.4h.6M254.9 84.2h.6M252.9 85.3h.6M286.3 86.5h.6M291.9 61h.6M282.7 89.3h.6M252.4 82.6h.6M292.3 83.2h.6M258.5 75.7h.6M271.6 87.3h.6M264.2 87.9h.6M272.8 87.7h.6M265.6 70.7h.6M253 83.4h.6M253.1 85.8h.6M277.3 85h.6M262.2 87h.6M272.8 67.9h.6M268.4 64.8h.6M251.9 79.9h.6M253.6 83.3h.6M284.6 88.7h.6M271.9 87h.6M249.8 85.1h.6M251.6 84.8h.6M254.1 83.5h.6M273.6 67.1h.6M252.6 86.2h.6M289.5 89.2h.6M293.4 60.9h.6M265.1 87.5h.6M285.8 84.1h.6M275.1 86.4h.6M284.6 84.2h.6M311 70.5h.6M267.6 88.2h.6M249.5 79.3h.6M278.4 85.3h.6M262.6 86.5h.6M285.8 61.8h.6M277.8 85h.6M253.9 89.2h.6M279.8 85.9h.6M253.1 78.6h.6M292.6 61.1h.6M287 83.6h.6M279.9 58.2h.6M273.8 62.2h.6M255.8 87.4h.6M253.6 79.8h.6M289.5 61.3h.6M281.3 84.9h.6M259.3 84.5h.6M287.4 85.1h.6M251.8 85.4h.6M250.8 78.7h.6M278.1 86.7h.6M258.5 86.2h.6M252.9 93.1h.6M278.2 90.9h.6M269.6 88.9h.6M250.3 79.6h.6M264.6 72.9h.6M260.1 75.3h.6M257.5 90.1h.6M305.6 67.6h.6M253.1 78.8h.6M252.7 81.2h.6M254.5 78.8h.6M262.7 73.2h.6M258.4 85.2h.6M284.9 84.3h.6M249.5 86.6h.6M258 76h.6M270.2 66.5h.6M297.6 84h.6M260.1 85.8h.6M284.3 90.4h.6M271.3 86.4h.6M252 79.4h.6M256.2 77.9h.6M261.6 71.3h.6M263.8 90.1h.6M291.8 62.8h.6M294.9 83.8h.6M255.4 75h.6M272.1 87.1h.6M292.3 86.6h.6M291 83.6h.6M252.6 87.3h.6M264.9 72.1h.6M293.8 89.3h.6M267.9 86.8h.6M268.5 70.3h.6M265.7 86.2h.6M284.8 86h.6M258.5 73.9h.6M270.6 86.9h.6M271.7 67.1h.6M266 86.3h.6M256.5 85.8h.6M295.9 86.6h.6M257.5 77.2h.6M296.7 96.8h.6M258.5 86.4h.6M254.1 84.2h.6M276.6 85.3h.6M304.3 85.3h.6M281.4 86.3h.6M253.1 80.3h.6M256.1 84.3h.6M269.8 69.3h.6M255.1 85.2h.6M270.3 86.4h.6M255.8 86.8h.6M268.2 71.2h.6M270.4 88.9h.6M310.4 57.5h.6M293.6 57.2h.6M295.9 54.1h.6M297.2 43.7h.6M311.1 50h.6M297.2 52.5h.6M305.6 66.3h.6M310.9 59.8h.6M292.4 62.2h.6M302 46.3h.6M310.7 56h.6M306.7 67.1h.6M308.2 59.8h.6M308.1 64.2h.6M294.3 56.7h.6M313 54.1h.6M301.2 45.2h.6M309 61.9h.6M297.6 49.3h.6M308.1 60.8h.6M301.7 47.2h.6M306 42.8h.6M303.5 44.3h.6M295.9 51.2h.6M307.3 64.3h.6M311.2 53.4h.6M308.4 60.4h.6M312.4 58.2h.6M307.2 44.7h.6M293.2 62.3h.6M295.7 56.6h.6M310.1 48.1h.6M316.6 44.2h.6M311.1 63.8h.6M298.5 46.9h.6M306.7 63.4h.6M307.1 44.3h.6M294.5 59.6h.6M308.7 67.9h.6M310.2 49.4h.6M293.2 55.6h.6M301.4 46.8h.6M288.9 55.4h.6M316.1 48.5h.6M291.4 62.9h.6M291.6 60.6h.6M287 62.1h.6M307.7 64.3h.6M315.9 53.2h.6M313.4 45h.6M310 63h.6M312.1 54.8h.6M308.5 47.4h.6M308 62.9h.6M293.6 61.2h.6M311.4 55h.6M285.9 57.9h.6M308 45.5h.6M300 39.3h.6M312.8 55.3h.6M299.4 49.6h.6M306.4 38h.6M304.2 45.4h.6M303.4 43.1h.6M309.4 46.1h.6M311.6 52.3h.6M296.1 55.6h.6M294.3 56.7h.6M293.6 58.6h.6M309.2 57h.6M300.2 47.2h.6M308.6 64.9h.6M311.2 57.7h.6M303.9 43.9h.6M310.7 48.4h.6M312 51.5h.6M311.2 51.7h.6M294.1 59.7h.6M315 51.7h.6M310.2 63.6h.6M297.5 51.7h.6M304 40.7h.6M311.3 54.6h.6M310.1 45.6h.6M310.8 56h.6M299 49.4h.6M290.8 61.9h.6M309 58h.6M309 57.2h.6M308.8 67.4h.6M306.3 64.5h.6M311.7 60.6h.6M311.5 48.3h.6M294.2 56.1h.6M298.5 52.2h.6M310.8 58.7h.6M294.6 55.7h.6M303.8 43.4h.6M296.6 50.5h.6M308.6 61.9h.6M311.4 54h.6M294 58.5h.6M298.3 49h.6M295.2 59h.6M304.3 68.8h.6M295.7 54.5h.6M310.2 67.1h.6M306.5 65.5h.6M308.6 60.4h.6M313 54.3h.6M296.9 55.4h.6M298.5 51.9h.6M302 47h.6M307.1 62.1h.6M294.8 56.3h.6M309 71.4h.6M294 60.7h.6M295.5 54h.6M293.6 62.3h.6M306.7 66.4h.6M306.9 66.2h.6M295.8 54.1h.6M296.4 55.2h.6M305.7 39.7h.6M300.9 44h.6M307.5 61.8h.6M310.2 46.6h.6M310.8 64.2h.6M302.5 46.1h.6M313.8 42.5h.6M293.5 61.3h.6M310.1 56.2h.6M297.7 47.5h.6M312 43.8h.6M312.8 56.2h.6M296.9 54.4h.6M311.9 56.4h.6M292.4 56h.6M311 59.9h.6M299.8 45.3h.6M294.6 58.2h.6M309.6 66.2h.6M312.2 46.1h.6M306.6 43.4h.6M295.5 54.4h.6M312.1 47.5h.6M297.9 50.2h.6M295.9 50.7h.6M292.3 62.6h.6M313.7 55.8h.6M312.1 45.4h.6M304.8 67.6h.6M299.2 49.5h.6M309.3 65h.6M316.5 68.5h.6M305.5 82.1h.6M303.5 85.9h.6M305.9 80.3h.6M309.2 76.6h.6M304.6 68.4h.6M308.3 78.5h.6M306 82.1h.6M299.1 83.1h.6M307.4 69.3h.6M313.6 76.6h.6M307.7 69h.6M287.7 85h.6M295.7 82.2h.6M307 80.8h.6M294.7 82.1h.6M300 82.7h.6M312.9 70.9h.6M311.6 82h.6M310.4 83.9h.6M310.4 67.5h.6M312.8 78.8h.6M303.5 89.8h.6M313.1 68.7h.6M310.2 74.6h.6M309.9 78.7h.6M307.1 66.8h.6M297.2 82.4h.6M299.4 89.8h.6M311.8 69.8h.6M316.7 69.4h.6M309 76.5h.6M302.5 83.5h.6M305.8 67.9h.6M300.8 84h.6M302.5 84.2h.6M304.4 83.4h.6M292.3 94.4h.6M311.7 72.8h.6M294.6 83.7h.6M291.4 84h.6M306.1 66.4h.6M306.6 64.2h.6M315.6 74.3h.6M308.8 66.6h.6M310.1 72.3h.6M310.1 77.4h.6M318.4 68.7h.6M310.1 71.7h.6M304.6 81.5h.6M317.2 72.1h.6M313.7 75.5h.6M307 65.4h.6M306.8 79.9h.6M310.1 71.8h.6M312.4 75h.6M314.1 79.5h.6M309.7 76.5h.6M302.6 81.8h.6M298 86.3h.6M308 70.3h.6M301.4 82.2h.6M312.3 72.7h.6M310.5 66.7h.6M315 72.4h.6M315.5 72.9h.6M296.6 84.7h.6M306.8 69.2h.6M302 84.6h.6M307.3 66.5h.6M312.6 73.2h.6M303.4 84.1h.6M308.9 77.4h.6M313.3 79h.6M308.4 71h.6M314.6 72.3h.6M307.3 84.4h.6M315.9 72.4h.6M299.5 82.8h.6M315.9 78.1h.6M311.5 66.8h.6M292.9 85.8h.6M305.7 68.2h.6M291.2 86.6h.6M310.6 72.9h.6M310.1 76.6h.6M302 85.5h.6M308.6 78.5h.6M310.1 73.8h.6M290.4 83.2h.6M295.2 86.1h.6M305 81.1h.6M302.7 84.5h.6M308.5 82.2h.6M304.6 67.4h.6M311.2 72.5h.6M308.4 71.2h.6M312.2 69.7h.6M309.4 80.5h.6M307.9 84.5h.6M308.2 78.2h.6M291.3 83.6h.6M311 77.9h.6M289.8 85.8h.6M308 83.3h.6M307 67.8h.6M296 83.6h.6M309.2 82.4h.6M302.6 84.1h.6M308.1 79.8h.6M308 69.6h.6M309.6 69.3h.6M299.9 84.7h.6M314 70.8h.6M317.8 81.7h.6M306.8 85.2h.6M299.1 86.2h.6M305.5 67.8h.6M310.6 69.1h.6M301.5 83.3h.6M289.8 62.1h.6M313.1 69.1h.6M306.2 81.1h.6M290.3 88.6h.6M308.6 65.1h.6M291.9 45.5h.6M312.5 56.1h.6M296.6 55.8h.6M314.2 72.6h.6M301.4 45.6h.6M279.8 56.9h.6M311.1 57.2h.6M305.2 41.7h.6M314.7 67.7h.6M308 65.1h.6M314.4 57.3h.6M315.8 53.9h.6M314.7 50.5h.6M312.9 58.9h.6M291.3 54.7h.6M310.2 61.2h.6M311.5 67h.6M284.8 50.4h.6M288.8 49.7h.6M314.2 38.4h.6M293.5 58.8h.6M282.1 59.1h.6M309.7 58.9h.6M292.9 63.9h.6M316.7 57h.6M293.2 51.2h.6M293.5 51.6h.6M289 43.4h.6M315.4 74.5h.6M312.6 65.6h.6M310.6 71.2h.6M311.9 56.8h.6M293.1 63h.6M312.3 51h.6M312.2 69h.6M312.1 57.2h.6M296.3 51.5h.6M316.1 66.3h.6M313.4 63.9h.6M318.1 69.9h.6M306.9 43.9h.6M297.1 35.7h.6M318.1 65.2h.6M308.5 59.6h.6M315.5 67.1h.6M310.8 59.7h.6M310.3 55h.6M314.7 60.4h.6M312.3 65.6h.6M316.2 57.2h.6M296.8 54.5h.6M291.4 56.8h.6M308.3 59.2h.6M312 39h.6M292.8 52.5h.6M296.2 48.6h.6M317.8 60h.6M296.6 54.4h.6M296 51.6h.6M315.4 72h.6M316.9 87.5h.6M295.7 56.9h.6M309.2 59.4h.6M309.6 76h.6M310.2 39h.6M286.2 37.3h.6M288.8 60.4h.6M298.6 52.5h.6M310.9 57.9h.6M306.9 63.5h.6M301 47.9h.6M310.4 64.1h.6M315.1 65.7h.6M296.1 49.7h.6M314.8 64.9h.6M302.2 43.7h.6M317.5 58.4h.6M317.3 47.1h.6M296.3 48.2h.6M290.5 49.3h.6M290.6 56.9h.6M296.1 42.1h.6M314.9 59h.6M285.9 47.9h.6M309.8 60.9h.6M292.2 45.6h.6M311.1 75.3h.6M287 53.6h.6M312.5 70.3h.6M313.6 55.8h.6M300.1 47.8h.6M282.5 60.8h.6M311.6 68.7h.6M294.7 56.1h.6M309.6 46.9h.6M308.3 71.8h.6M310.8 43.5h.6M292.6 38.6h.6M315.2 55.9h.6M297.4 51.3h.6M282.1 49.4h.6M295.1 44.8h.6M310.4 55.9h.6M309.7 41.8h.6M310.7 61.4h.6M289.6 50.3h.6M289.8 49.9h.6M297.8 53.7h.6M300 49.3h.6M313 45.4h.6M315.5 64.7h.6M316.2 62.4h.6M287.7 52.3h.6M309.7 47.8h.6M317 59.1h.6M293.5 60.9h.6M314.7 58.4h.6M310.1 58.3h.6M313.7 51.4h.6M295.2 48h.6M308.9 63h.6M309.1 58.4h.6M317.2 42.2h.6M296.1 49.7h.6M292.3 57.7h.6M286.6 57.8h.6M287.4 44h.6M314.6 68.3h.6M290.6 55.9h.6M312.7 57h.6M298.2 47.1h.6M310.4 52.1h.6M290.5 54.3h.6M310.2 56.9h.6M308.3 67.4h.6M290.6 38.7h.6M287 57.9h.6M305.6 66.2h.6M313.7 56.5h.6M317.8 47.3h.6M292.2 50.5h.6M289.7 56.4h.6M316.9 53.4h.6M311.7 64.8h.6M313.9 66.3h.6M301.8 46.3h.6M311.1 62.1h.6M283.3 45.3h.6M298.9 49.2h.6M279 49.5h.6M287.9 47.2h.6M302.1 44.4h.6M317.2 67.6h.6M314.5 50.6h.6M298 42h.6M293.1 61h.6M301.7 43.4h.6M312.1 60.5h.6M311.8 65.9h.6M314 63.7h.6M306.6 43.9h.6M298.4 49.1h.6M309.6 60.2h.6M292.3 55.1h.6M309.2 67.1h.6M301.5 47.7h.6M301.4 45.5h.6M309.5 65.1h.6M313 60h.6M291.3 40.3h.6M257.3 60.5h.6M257.9 54.5h.6M271.4 52.3h.6M305.8 65h.6M298.6 43.7h.6M269.9 60.1h.6M260.8 59.7h.6M276.9 55.1h.6M252.3 75.1h.6M270.5 69.1h.6" stroke="#000" stroke-opacity="0.7" stroke-width=".6" fill="none"/><path d="M280.6 83.9 255.6 83.7 254.3 83.5 253.6 83.1 253.1 82.4 252.9 81.7 253.5 80.4 255.1 79.2 275.3 67.3 280.8 64.5 284.3 63.3 287.3 62.9 290.3 63.3 292.8 64.4 294.4 65.7 295.7 67.2 296.6 68.9 297.2 70.7 297.5 72.7 297.4 74.7 296.8 76.7 296 78.4 294.8 79.9 293.6 81 292.1 81.9 290.3 82.7 286.3 83.6 280.6 83.9ZM264.1 86.2 262.1 86.4 260.6 86.2 259.7 85.4 259.5 84.4 259.9 83.2 261.1 81.4 262.9 79.4 265.1 77.6 270.3 74.1 273.3 72.5 276.3 71.3 278.8 70.5 280.8 70.2 282.6 70.4 283.5 70.9 283.8 71.4 283.9 72.2 283 74.2 281.2 76.4 278.3 79 274.8 81.5 271.1 83.6 267.3 85.2 264.1 86.2ZM299.8 70.2 298.3 70.1 297.1 69.8 295.8 69.1 294.7 67.9 293.9 66.7 293.5 65.2 293.5 63.7 293.8 62.2 294.6 59.9 296.2 56.9 299.4 50.9 300.9 48.7 302.3 47.4 303.6 46.7 305.1 46.4 306.6 46.6 307.6 47 308.6 47.7 309.8 49.4 310.3 51.7 309.9 54.2 306.5 63.2 304.6 66.9 303.7 68.2 302.5 69.2 301.3 69.8 299.8 70.2ZM299.8 82.2 296.8 82.3 293.8 81.7 291.3 80.7 289.3 78.9 288.3 76.9 288.3 74.9 289.1 72.9 290.7 71.2 292.6 69.9 294.8 69 297.3 68.4 299.8 68.3 302.3 68.5 304.6 69.2 306.6 70.3 308.1 71.7 308.9 73.2 309.2 74.9 308.8 76.7 308 78.2 306.4 79.7 304.6 80.8 302.3 81.7 299.8 82.2ZM295.6 73.7 293.6 73.6 291.8 72.9 290.5 71.4 289.8 69.7 289.9 67.7 290.6 65.9 292.1 64.6 293.8 63.9 295.8 64 297.6 64.7 298.9 66.2 299.6 67.9 299.5 69.9 298.8 71.7 297.3 73 295.6 73.7Z" fill="none" stroke="#000" stroke-width="1.2"/><path d="M280.6 83.9 255.6 83.7 254.3 83.5 253.6 83.1 253.1 82.4 252.9 81.7 253.5 80.4 255.1 79.2 275.3 67.3 280.8 64.5 284.3 63.3 287.3 62.9 290.3 63.3 292.8 64.4 294.4 65.7 295.7 67.2 296.6 68.9 297.2 70.7 297.5 72.7 297.4 74.7 296.8 76.7 296 78.4 294.8 79.9 293.6 81 292.1 81.9 290.3 82.7 286.3 83.6 280.6 83.9ZM264.1 86.2 262.1 86.4 260.6 86.2 259.7 85.4 259.5 84.4 259.9 83.2 261.1 81.4 262.9 79.4 265.1 77.6 270.3 74.1 273.3 72.5 276.3 71.3 278.8 70.5 280.8 70.2 282.6 70.4 283.5 70.9 283.8 71.4 283.9 72.2 283 74.2 281.2 76.4 278.3 79 274.8 81.5 271.1 83.6 267.3 85.2 264.1 86.2ZM299.8 70.2 298.3 70.1 297.1 69.8 295.8 69.1 294.7 67.9 293.9 66.7 293.5 65.2 293.5 63.7 293.8 62.2 294.6 59.9 296.2 56.9 299.4 50.9 300.9 48.7 302.3 47.4 303.6 46.7 305.1 46.4 306.6 46.6 307.6 47 308.6 47.7 309.8 49.4 310.3 51.7 309.9 54.2 306.5 63.2 304.6 66.9 303.7 68.2 302.5 69.2 301.3 69.8 299.8 70.2ZM299.8 82.2 296.8 82.3 293.8 81.7 291.3 80.7 289.3 78.9 288.3 76.9 288.3 74.9 289.1 72.9 290.7 71.2 292.6 69.9 294.8 69 297.3 68.4 299.8 68.3 302.3 68.5 304.6 69.2 306.6 70.3 308.1 71.7 308.9 73.2 309.2 74.9 308.8 76.7 308 78.2 306.4 79.7 304.6 80.8 302.3 81.7 299.8 82.2ZM295.6 73.7 293.6 73.6 291.8 72.9 290.5 71.4 289.8 69.7 289.9 67.7 290.6 65.9 292.1 64.6 293.8 63.9 295.8 64 297.6 64.7 298.9 66.2 299.6 67.9 299.5 69.9 298.8 71.7 297.3 73 295.6 73.7Z" fill="#fff"/><path d="M272.8 82.4 257.1 82.5 255.3 82.2 254.8 81.7 254.9 81.2 255.7 80.4 260.2 77.7 276.1 68.8 279.6 67 282.3 65.9 285.8 65.2 287.6 65.1 289.1 65.4 290.6 65.9 291.8 66.6 292.8 67.4 293.8 68.7 294.6 70.2 295 71.7 295.1 73.2 295 74.7 294.5 76.2 293.6 77.7 292.6 78.8 291.3 79.8 288.6 81.1 285.1 81.9 280.6 82.3 272.8 82.4Z" fill="rgb(255,255,255)" stroke="#000" stroke-width=".45"/><path d="M266.8 81.2 261.3 81 260.3 80.7 260 80.2 260.5 79.4 262.2 78.2 269.1 74.2 277.8 69.6 282.8 67.5 286.1 67 288.8 67.4 290.1 68 291.1 68.7 291.9 69.7 292.6 70.9 292.9 72.2 293 73.4 292.8 74.7 292.2 75.9 290.6 77.9 288 79.4 285.1 80.2 281.6 80.7 266.8 81.2Z" fill="rgb(255,255,255)" stroke="#000" stroke-width=".45"/><path d="M278.3 79.4 272.8 79.6 268.8 79.5 267.1 79.2 266.6 78.9 266.4 78.4 266.9 77.7 267.7 76.9 271.3 74.7 277.4 71.4 281.6 69.6 284.3 69 286.6 69 288.3 69.5 289.8 70.7 290.6 72.2 290.6 73.9 290 75.4 288.6 76.9 286.9 77.9 284.6 78.7 281.8 79.2 278.3 79.4Z" fill="rgb(255,255,255)" stroke="#000" stroke-width=".45"/><path d="M263.6 85.2 262.3 85 261.6 84.5 261.4 83.7 261.6 82.7 262.3 81.4 263.6 79.9 267.3 76.8 271.8 74 276.3 72.1 278.3 71.6 279.8 71.4 281.1 71.6 281.9 72.2 282 72.7 282 73.4 280.9 75.4 278.8 77.7 276.1 79.8 272.6 82.1 269.3 83.7 266.1 84.8 263.6 85.2Z" fill="rgb(215,215,215)" stroke="#000" stroke-width=".45"/><path d="M265.8 83.9 264.6 84 263.6 83.7 263.2 83.2 263.2 82.4 263.6 81.4 264.5 80.2 267.5 77.4 271.3 75 275.3 73.2 278.3 72.6 279.3 72.7 280.1 73.2 280.2 74.2 279.5 75.7 278 77.4 275.9 79.2 273.3 80.9 270.6 82.4 268.1 83.4 265.8 83.9Z" fill="rgb(165,165,165)" stroke="#000" stroke-width=".45"/><path d="M267.6 82.7 265.6 82.8 265 82.4 264.8 81.9 265 81.2 265.6 80.2 267.9 77.9 271.1 75.8 274.3 74.3 277.1 73.7 277.8 73.8 278.4 74.2 278.6 74.9 278.1 75.9 277.1 77.2 275.5 78.7 271.6 81.2 269.3 82.2 267.6 82.7Z" fill="rgb(115,115,115)" stroke="#000" stroke-width=".45"/><path d="M268.3 81.7 266.9 81.7 266.6 81.4 266.5 80.9 267.1 79.7 268.9 77.9 271.3 76.4 273.8 75.2 275.8 74.8 276.5 74.9 276.8 75.2 276.9 75.9 276.5 76.7 274.5 78.7 271.3 80.6 268.3 81.7Z" fill="rgb(70,70,70)" stroke="#000" stroke-width=".45"/><path d="M269.1 80.7 268.3 80.6 268.1 79.9 268.8 78.9 270 77.9 271.5 76.9 273.2 76.2 274.6 75.9 275.2 76.2 275.3 76.7 275 77.2 273.4 78.7 271.3 80 269.1 80.7Z" fill="rgb(35,35,35)" stroke="#000" stroke-width=".45"/><path d="M270.8 79.5 270.1 79.6 269.8 79.4 269.9 78.9 270.7 78.2 272.5 77.2 273.3 77 273.6 77.2 273.5 77.7 272.7 78.4 270.8 79.5Z" fill="rgb(10,10,10)" stroke="#000" stroke-width=".45"/><path d="M300.3 68 299.1 68.1 298.1 67.9 297.1 67.4 296.3 66.7 295.8 65.7 295.5 64.7 295.5 63.4 295.8 62.2 297.5 58.2 300.4 52.7 301.8 50.4 302.8 49.3 303.8 48.7 304.8 48.4 306.1 48.4 307.4 49.2 308.2 50.4 308.4 52.2 308 54.2 305.3 61.4 303.7 64.9 302.1 67 300.3 68Z" fill="rgb(255,255,255)" stroke="#000" stroke-width=".45"/><path d="M299.6 65.9 298.3 65.6 297.5 64.4 297.5 62.9 298 60.9 300.8 55.4 302.8 52.1 303.6 51.2 304.3 50.7 305.1 50.6 305.6 50.7 306.1 51.1 306.4 51.7 306.4 53.2 305.8 55.4 304.3 59.4 303.1 62.4 302.1 64.2 300.8 65.5 299.6 65.9Z" fill="rgb(255,255,255)" stroke="#000" stroke-width=".45"/><path d="M299.3 80.2 297.1 80.2 294.8 79.7 293.1 78.8 291.9 77.7 291.4 76.4 291.4 74.9 292.1 73.4 293.3 72.2 294.6 71.4 296.3 70.7 298.1 70.4 299.8 70.4 301.6 70.6 303.2 71.2 304.5 71.9 305.5 72.9 306 73.9 306.1 75.2 305.8 76.4 305.2 77.4 304.1 78.4 302.8 79.2 301.1 79.9 299.3 80.2Z" fill="rgb(255,255,255)" stroke="#000" stroke-width=".45"/><path d="M299.6 78.2 298.3 78.3 297 78.2 295.8 77.8 294.9 77.2 294.4 76.4 294.2 75.7 294.3 74.7 294.8 73.9 296.3 72.8 298.6 72.3 300.8 72.5 302.5 73.4 303.2 74.7 303.2 75.4 302.9 76.2 301.7 77.4 299.6 78.2Z" fill="rgb(255,255,255)" stroke="#000" stroke-width=".45"/></g>
<rect x="247.80" y="33.80" width="71.20" height="70.70" fill="none" stroke="#a8a8a8" stroke-width="1.1"/>
<line x1="292.30" y1="34.30" x2="292.30" y2="104.50" stroke="#222" stroke-width="1.3" />
<line x1="292.30" y1="67.40" x2="319.10" y2="67.40" stroke="#222" stroke-width="1.3" />
<text x="307.50" y="41.80" font-size="6.5" text-anchor="middle" font-weight="bold" style="stroke-width:0">4.82</text>
<text x="308.10" y="99.80" font-size="6.5" text-anchor="middle" font-weight="bold" style="stroke-width:0">4.26</text>
<g clip-path="url(#cp01)"><clipPath id="cp01"><rect x="340.5" y="33.8" width="71.60" height="71.20"/></clipPath><path d="M397.3 40.5 396.7 40.5 396.2 40 395.9 38.6 396.3 37.8 397 37.8 397.4 38.3 397.7 39.6 397.3 40.5ZM362.7 98 360.7 97.8 359.9 96.3 359 95.7 357.3 96.4 356.3 96.3 354.7 94.7 353.8 95 352.7 97 352 97.3 351.7 97.2 351.3 96.6 351 95.3 349.3 95.4 348.5 94.6 348.5 94 349 92.6 348.7 90.3 348 89.1 347.3 88.8 347.3 90.3 346.7 91 346 91.2 345.1 90.6 344.1 89 344.1 88.3 344.7 87.3 344.7 86.3 344.4 85.6 343.5 85 343.5 84.6 344.7 83 346.3 81.6 347.1 78 346.8 74.6 347.3 73.8 349 73.3 350.3 71.8 351.9 70.6 353.1 68 352.8 67 353 66.4 353.7 66.5 354 67.6 354.3 67.9 355.3 67.8 356.3 67.4 357.4 64.6 356.7 63.3 356.7 62.6 357 62.1 357.7 61.8 358.3 61.9 358.8 62.3 359 63 358.9 64 359.1 64.3 360.7 64.5 362 65.1 364.4 64 366.6 62 366.8 61.3 366.2 60 366.2 59.3 367.3 57.6 372.7 55.2 373.3 55.3 374.3 56.4 374.7 56.2 375.2 54.6 375.9 53.3 375.8 53 374.9 52.6 374 51.6 372.7 50.8 372.3 50 372.6 49 373.3 48.7 374 48.9 375 49.8 376.3 50.5 377 51.7 378.2 50 377.6 48.6 377.8 48 378.3 47.3 379.3 46.9 380.3 47.4 381 47.5 381.8 47 381.1 45 381.7 43.9 384 43.1 385.7 43.6 386 42.3 387 40.6 386.4 39.6 386.7 38.9 387.3 38.8 388 39.6 388.7 39.9 390.7 39.6 391.3 40 392.3 41.6 392.7 41.6 393.3 40.5 394 40.5 394.2 41 394.1 42 396.2 43 397 45 397.3 45.4 397.8 45.3 399.5 44 400.3 42.9 401 42.9 401.2 43.3 401.1 44.3 401.7 46.6 402 47.1 403.9 46.6 404.1 45.6 404.7 45.1 405.1 45.3 405.8 46.6 407 47.1 408.4 45.3 408.4 44 409 43.4 411.6 44.6 411.7 45.2 411 45.6 409.3 45.6 409.1 47 410.3 48.6 411.1 50.6 411.1 51.3 410.6 52.3 410.6 52.6 411.7 53.3 411.9 54.3 411.6 57.3 411.9 61.3 411.8 80.3 411.7 80.9 410.4 81.6 409.5 82.6 408.7 84.6 406.6 85.3 406.6 86.6 406 87.3 403.7 87.6 402.7 87.5 401.9 87 401.3 86 401.3 85.3 401.9 84.3 400.7 83.2 399 82.7 397.7 81.9 396.8 81 396.7 79.6 396.3 79.3 395.7 79.6 395.6 80 396.8 81.3 397.6 82.6 397.7 83.3 397.3 84.3 396.7 84.6 395 84.3 394 85.1 393.3 85.3 392.7 85 392 84 391 83.5 390.3 83.4 387.7 83.9 385.7 82.7 384.3 82.3 384 82.6 383.4 84.3 382.4 85.3 382.6 86.3 382.3 86.7 381.7 86.8 381.3 86.3 381.2 86 381.9 85.3 382 85 381 84.3 380.3 84.6 380.4 85.6 380 85.9 379.3 85.8 378.7 85.1 376.7 85.2 376.1 86 376.3 87.6 376 88.1 375 88.1 373.3 86.8 372.7 86.7 371.3 88 370.7 89.6 370 90.4 369 90.6 367.3 90.3 366.8 90.6 366.3 92.1 366 92.3 364.7 92.2 363.3 93.1 361.3 93.6 361.3 95.6 361.5 96.3 363 96.7 363.5 97 363.4 97.6 362.7 98ZM380.7 43 379.8 42.6 379.4 42 379.7 41 380.6 39.6 381.7 39.1 383 39.2 384 39 384.5 39.3 384.6 39.6 384.3 40.1 383 40.9 381.6 42.6 380.7 43ZM404 40.4 403.3 40.3 403.3 39.6 404.1 39.6 404 40.4ZM375.7 42.3 375.3 42.5 374.7 42.4 374.4 41.6 375.3 40.1 376 39.7 376.4 40 376.6 40.6 375.7 42.3ZM377.3 44.4 376.6 44.3 376.4 44 376.7 43.5 377.4 43.6 377.3 44.4ZM359 44.7 358.3 44.6 358.3 43.9 359.1 44 359 44.7ZM388.7 46.3 389 46 389.3 44.3 389.1 44 388.7 43.8 388 44 387.7 44.6 388.3 46.1 388.7 46.3ZM374.7 46.5 374 46.6 372.7 46.1 372.3 45.3 372.5 44.6 373.3 44.3 374.4 45 374.9 45.6 374.7 46.5ZM370 46.6 369.2 46.3 369.3 45.6 370 45.5 370.4 46 370.5 46.3 370 46.6ZM366.3 47.4 365.6 47.3 365.7 46.6 366.4 46.6 366.3 47.4ZM372 47.8 371.2 47.6 370.8 47 370.9 46.6 372.1 46.6 372.3 47.3 372 47.8ZM371.7 53.4 370.9 53.3 371 52.6 371.7 52.6 371.7 53.4ZM357.3 54.7 356.6 54.6 356.7 53.9 357.4 54 357.3 54.7ZM364 57.4 363.3 57.6 362.7 57.4 362.5 56.6 363 56.2 364 55.7 365 55.8 365.2 56.6 364 57.4ZM370.2 59 370.7 58.3 370.7 58 369.5 58 369.3 58.3 369.6 59 370 59.1 370.2 59ZM346.3 62.1 345.3 61.9 344.9 61.3 344.6 60 345 59.1 345.7 59.1 346.1 59.6 346.4 61 346.3 62.1ZM349.7 63.7 349 63.8 348 63.5 347 63.9 346.4 63.3 346.4 62.6 346.7 62.4 348.3 63.1 349.3 62.7 349.8 63 349.7 63.7ZM353.3 64.8 353 65 352.6 64.6 352.7 63.9 353.4 64 353.5 64.3 353.3 64.8ZM358.9 85.6 361.3 84.7 363.3 83.2 366.7 81.3 372.3 77.6 377 74.2 378 72.6 378.1 71.6 378 69.9 377.3 68.7 376.4 68 374.7 67.3 372.6 68 369 69.9 363.3 73.8 357.9 77 355.6 79 354.7 80 353.9 81.6 353.7 82.6 354 83.5 356.3 85.5 357.3 85.7 358.9 85.6ZM348.3 70 347.6 70 347.7 69.2 348.4 69.3 348.3 70ZM345.3 76.4 344.7 76.5 343.1 75.6 342.8 75.3 342.9 74.6 343.7 74.4 345.3 75.3 345.6 76 345.3 76.4ZM342 79.1 341.7 79.2 340.8 79 340.7 78.4 341.3 78.1 342 78.2 342.2 78.6 342 79.1ZM406.7 80 406.7 80ZM343.3 82.7 342.3 82.8 341.7 82.6 341.4 82.3 341.3 81.6 342.3 80.8 343.6 81 343.9 81.3 344 82 343.3 82.7ZM394.7 82.3 394.8 81.6 394.3 80.9 393.6 81 392.4 82 393 82.6 394.7 82.3ZM379.6 84.3 379.8 84 379.3 83.8 379.3 84.3 379.6 84.3ZM342.3 86.1 341.6 86 341.4 85.6 341.7 85.2 342.3 85.1 342.7 85.3 342.7 85.6 342.3 86.1ZM411.7 88.5 411 88.4 410.5 88 410.5 87.3 410.8 87 411.7 86.8 411.7 88.5ZM408 92 407.3 92 407.3 91.2 408.1 91.3 408 92ZM378.7 93 377.9 93 378 92.2 378.7 92.3 378.7 93ZM370 93.7 369.7 93.8 369.3 93.6 369.3 92.9 370.1 93 370 93.7ZM365.3 94.8 364.6 94.6 364.5 94.3 364.7 93.8 365 93.7 365.5 94 365.6 94.3 365.3 94.8ZM395 95 394.3 95 394.3 94.2 395.1 94.3 395 95ZM367.7 96 367 96.1 366.8 95.3 367.3 95.1 367.7 95.2 367.9 95.6 367.7 96ZM371.7 98 370.7 97.6 370.3 97 370.6 96 371.3 95.6 372.3 96 372.7 96.6 372.4 97.6 371.7 98ZM355.3 99.7 354.6 99.6 354.7 98.9 355.4 99 355.3 99.7Z" fill="rgb(245,245,245)"/><path d="M381 41.7 380.7 41.6 380.7 41.3 381 40.6 381.7 40.3 381.7 41 381 41.7ZM357.3 95.8 356.3 95.5 355.3 94 352.3 93.9 350 94.1 349.5 91.6 349.5 90 348.3 88.2 346.5 87.3 345.8 86.3 346 83.6 346.8 82 347.1 80 347.7 78 347.6 75 348 74.5 349.7 73.9 350.8 72.3 352.5 71 353.3 69.3 356.6 68 357.2 67.3 357.9 65.6 358.3 65.4 359.3 65.5 361.7 66.3 363.3 65 364.9 64.3 367.7 61.6 367.8 61.3 367 59.6 367.7 58.8 368 58.8 368.7 59.3 369.3 61.2 369.7 61.5 370.2 61.3 371 59.6 372.4 58.6 373.7 58.1 375 57.9 376.3 58.5 378 58.1 379.1 58.3 379.4 58 379.3 57.3 379 57.2 378 57.6 377.3 57.4 376.7 56.6 376.2 55.3 377 54.1 378.5 51 379 50.5 380 50.2 380.7 48.6 382.6 47.3 382.8 46.3 382.1 45 382.7 44.5 384 44.4 385.3 45 386.7 45.2 387.3 45.8 388 47.1 388.7 47.3 389.4 47 390 46.3 390.3 45.3 390.9 44.3 391 43 391.7 42.7 393 42.8 395.3 43.8 397 46.2 398 46 399.3 44.8 400.3 44.8 400.9 45.6 401.1 47.3 401.7 48 403.7 47.8 404.7 48.3 405.7 49.6 407 50.4 409 50.6 409.3 51.3 408.8 53 410.7 53.5 411.7 54 411.7 54.3 411.7 55.7 411.1 56.3 410.9 57.3 411.8 61 411.8 64.3 411.5 66 411.8 68 411.8 72.6 411.7 74.3 411.2 75.3 411.1 80 410.7 80.5 408.5 82.3 408 83.9 407 84.1 406 83.5 405 83.4 403 82 402.3 82.1 401 81.4 399.7 81.9 399 81.7 397.9 80.6 397.3 78 395 78.7 393.7 78.4 393.2 78.6 392.8 79.6 392.1 80.3 389.3 80.8 389.1 82.3 388.3 83 387.3 83 384.7 81 383.7 81.5 382.9 83 382.3 83.4 381 83.3 379.7 82.5 379.3 82.5 377.7 83.9 376 84.3 374.7 85.9 373.3 85.6 372.3 86 370.8 87.6 370.1 89.3 369.7 89.8 369 89.9 367.3 89.6 364.8 91 363 92.5 360.3 92.6 359.7 92.9 358.8 94.6 357.3 95.8ZM359.3 86 361.3 85.2 364 83.2 367 81.6 372.1 78.3 377.3 74.4 378.3 72.7 378.5 71.6 378.3 69.6 377.5 68.3 376.7 67.6 375 66.9 374 67 372.3 67.6 369.2 69.3 363 73.5 357.7 76.6 354.9 79 354.3 79.7 353.3 82 353.3 83 353.7 83.8 355.3 85.3 356.3 86 358.3 86.1 359.3 86ZM407.4 81.6 407.9 80.3 407.7 78.7 407.3 78.3 404.1 80 403.3 81 403.3 81.4 404.3 80.6 405 80.5 405.9 81 406.7 81.9 407.4 81.6ZM404 86.7 403 86.6 402.7 86.3 402.6 85.6 403.7 84.8 404.7 84.6 404.9 85 404.8 86 404 86.7Z" fill="rgb(232,232,232)"/><path d="M357.3 95.1 356.7 94.7 356.3 93.3 354 93.4 351.3 93.1 350.7 92.8 350.1 91.6 350.4 90.3 350.3 89.6 349.3 88.8 348.5 87.6 347.1 87 346.6 86.3 346.6 85.3 347.3 82 347.4 80 348.2 78 348.1 76.3 348.3 75.3 350.3 74.3 351.2 73 353.5 71 354.3 69.6 356.7 68.4 358.7 66.5 362 66.8 363.3 65.6 365.1 64.6 368 62.4 370.3 62.1 371.7 60.6 373.3 60.8 374.4 60.6 373.8 59.6 374.1 59 374.7 58.9 376 59.3 378 59 379.3 59.1 379.7 59 380.2 58.3 380.5 57 379.2 55.6 378.3 53.6 378.4 52.6 378.8 51.6 379.3 51.3 380 51.4 381.7 52.6 382.2 52.3 382.7 51.3 381.4 50.3 381.2 49.3 382.9 48 384 46 384.7 45.8 386.3 46 386.8 46.3 387.5 47.6 388.3 48 391.3 46.6 391.4 45.6 392.7 43.7 393.3 44 394.2 45 395.6 45.6 396.3 46.6 396.7 46.8 398 46.6 399.3 45.5 400 45.4 400.5 46 400.6 47.6 401.3 48.5 402.3 49 404 49 405 50.5 407.8 51.6 408 54.1 410 53.9 410.7 54.1 411.2 54.6 410.5 57.3 410.8 59.6 411.6 61.6 411.7 64.1 411.1 65.3 411 66.3 411.7 68.1 411.7 72.3 411.7 73 410.7 74.6 410.5 79.3 410 80.3 409.3 80.5 408.7 80.4 408.3 79.6 408.2 78 407.3 77.3 406.7 77.6 405.3 78.8 403.3 79.6 402.3 80.5 401.7 80.6 400 79.1 398.7 79.4 398.7 78 398.3 77.3 397.1 76.3 396.3 76.1 396 76.3 396.2 77 395.9 77.6 395 77.9 394 77.4 392.3 78 391.9 78.3 391.7 79.4 391 79.8 390.2 79.6 389.7 78.7 389 78.7 388.5 79 388 79.6 388.4 81.6 388 82.3 387.3 82.2 386 80.6 385 80.3 383.8 80.6 381.7 82.5 381 82.5 380 81.6 379.3 81.8 378 82.9 376 83.6 374.7 84.7 373 85 372.3 85.4 370.4 87.3 369.7 88.9 369.3 89.2 368.7 89.2 368 88.8 367.3 88.9 364.3 90.6 363.3 91.7 362.7 92.1 360.3 91.8 358.9 92.3 358.1 93 358 94.3 357.3 95.1ZM359.4 86.3 361.7 85.3 364 83.5 367 82 372.2 78.6 377.5 74.6 378.5 73 378.8 71.6 378.6 69.6 377.7 68.1 376.7 67.3 375 66.6 374 66.6 372.3 67.3 369 69.1 362.7 73.4 357.7 76.1 354.4 79 353 82 353 83 353.4 84 355.3 85.7 356.3 86.3 358.3 86.5 359.4 86.3ZM391 77.3 391 77.3Z" fill="rgb(215,215,215)"/><path d="M354.3 92.7 353.3 92.6 351.2 92 351 91.3 351.5 90.3 351.4 89.6 349.7 88.5 348.7 86.7 347.7 86.3 347.5 86 347.9 84.3 347.7 80.3 348.9 78 348.7 76.6 348.9 76 351.7 74 353 72 354.6 71.3 355.3 70.3 358.7 67.3 359.3 67.1 361.3 67.3 362.3 67.2 363.7 66 368.5 63 370.7 62.4 372 61.5 375.3 61.7 375.9 61.3 376.3 60.3 376.8 60 378 59.6 379.3 59.8 380 59.6 381.6 58 381.9 57 381.7 56.6 380.3 55.8 379.9 55.3 379.4 53 379.7 52.6 380 52.6 381.3 53.6 382 53.7 383 53.3 384.7 50.6 384.3 49.5 383.7 49 384.3 47.2 384.7 47 384.9 47.3 384.7 48.6 385 48.8 386.7 48.1 388.3 48.8 390.3 48 392 48.8 392.7 48.9 393.1 48.6 394 47.2 394.7 46.8 397 47.7 399.7 46.9 400.2 48.3 403 50.1 403.3 51 403.9 51.6 405.3 52.4 407 52.5 407.2 53 407.1 54.6 407.3 55 408 55 409.7 54.6 410.3 54.9 410.1 57.3 410.1 59.3 411.1 61.3 411.2 63.3 410.7 66.3 411.4 70 411.2 72.3 410.7 73.5 409.7 74.3 408 73.6 407.4 74 406.9 74.6 406.8 76 404.9 78.3 403.3 78.8 402.9 78.6 402.7 78.3 402.9 77.6 404.5 76.6 404.3 75.5 403.7 75 402.7 75.4 401.6 76.6 400.3 77.7 399.7 77.7 397.3 75.8 396 75.4 394.5 76 393 77.2 392.3 77.3 391.7 76.8 391.2 76 392.3 74.8 392.4 74.3 392 74 391.3 73.9 390.9 74.3 390.7 75.6 389.7 77.5 388 78.6 387 79.8 384 79.9 381.3 81.2 380 80.8 379.3 81 378 82.4 373 84.4 369.3 87.6 367.7 87.9 366.2 89 363.7 90.3 362.7 91.4 362 91.5 360.3 91.3 357.3 92.4 355.7 92.2 354.3 92.7ZM399.1 50 399.4 49.6 399.3 49.1 398.3 48.5 397.3 48.3 396.6 49.3 396.7 49.9 399.1 50ZM359.3 86.6 361.7 85.7 364 83.8 367.1 82.3 368.3 81.3 372.3 78.9 374.7 76.9 377.7 74.8 378.8 73 379 71.6 378.8 69.3 377.7 67.7 376.6 67 374.7 66.3 372.3 67 369 68.7 366.3 70.7 363.7 72.2 362.7 73.1 357.3 75.9 354 79 352.7 82 352.7 83 353.1 84 356 86.4 358.3 86.8 359.3 86.6ZM409.3 77.3 408.3 76.6 408 76 409 75 409.7 74.8 410 75.3 410.1 76.3 409.7 77.2 409.3 77.3ZM409.3 79.7 409 79.3 409.3 78.7 409.7 78.9 409.7 79.3 409.3 79.7Z" fill="rgb(197,197,197)"/><path d="M395.3 48.7 394.9 48.6 395 48.3 395.3 48.3 395.3 48.7ZM357.7 91.7 356.7 91.6 355 90.7 354.3 91 353.7 91.6 353.2 91.6 352.7 91.1 351.7 89 349.8 88 348.1 80.6 348.4 79.6 349.9 77.6 350.2 76.3 350.6 75.6 351.3 74.9 352.9 74 353.3 72.5 354 72.2 355 72.3 356 71.6 357.3 69.2 358.6 68.6 359.3 67.9 362.7 67.6 365.3 65.5 367.3 65 369.2 63.3 372 62.3 375.7 62.2 377.3 61.2 378.7 61.9 380 61.4 380.7 60 382.5 58.3 382.8 56.6 382.7 55.9 380.8 55.3 380.5 54.6 380.7 54.3 382.3 54.6 383.3 54.3 383.9 53.6 384.5 52 385.7 51 386 49.6 386.7 49.1 387.3 49.6 387.4 50.3 387 51 387.3 51.3 389 50.2 390.3 50.7 391.3 49.8 393.7 49.7 395 50 396.3 51.2 397.7 50.9 399.3 51.3 400.6 50 401 49.9 401.6 50.3 401.7 51.4 403.9 52.3 405.6 53.6 405.9 54.6 406.7 55.7 407.3 55.9 408.7 55.6 409.3 55.7 409.6 56.6 409.3 59.6 410.6 61.3 410.8 63.3 410.4 66.6 410.9 70 410.8 72 410.6 72.6 410 73.3 409.3 73.4 407.7 73 405.7 74.7 404.3 74.3 403.3 74.5 400 76.8 399.3 76.7 397.3 75.3 396 74.9 394 75.5 392.7 76.6 392.2 76.3 392.2 76 393.2 75 393.2 74 392 73.4 391 73.5 390.3 74.3 389.3 77 386.7 79.2 383.7 79.4 382.3 78.9 382 79.6 381.5 80 379 80.5 377.7 82.1 375.3 82.8 373.7 82.9 370.3 86.1 369 86.8 367.7 87 364.9 89 363.3 89.6 362.2 90.6 360.3 90.6 359 91.3 357.7 91.7ZM359.4 87 362 85.8 364.3 83.8 367.3 82.5 368.7 81.4 372.3 79.2 374.7 77.2 377.9 75 378.9 73.3 379.2 72 379 69.3 377.9 67.6 376.7 66.7 374.7 66 372.3 66.7 369 68.4 365.3 71.1 363.7 71.9 362.3 73 357.3 75.5 353.9 78.6 352.4 82 352.4 83 352.7 84 356 86.8 358.7 87.1 359.4 87Z" fill="rgb(176,176,176)"/><path d="M358.3 91 357 90.9 355 89.9 353.3 90 351.7 88.4 350.3 87.7 349.9 86.6 350.2 84.3 349.4 83 348.6 80.6 348.9 80 350.8 77.6 351.1 76 351.6 75.3 353.7 74.5 354.3 73.4 355.4 73 358 71.3 360.3 69.2 363 68.2 365.7 66.1 367.3 66.1 368.3 65.8 369.3 64 370 63.5 374.7 62.7 379 62.7 380.2 62.3 380.9 61.6 383.4 58.3 383.7 56.6 384.8 55 385 53 385.2 52.6 386.3 52.8 389 51.7 390 52.3 390.3 52.2 392.7 50.6 393.7 50.4 394.7 50.6 395.3 51.1 396.3 52.4 398 52 400.7 52.8 402.3 52.4 403.3 52.6 404.1 53.3 404.3 54.6 405.7 55.6 406.7 56.8 408.3 56.6 408.7 56.7 408.9 58 408.2 59.3 408.6 60 410.1 61.3 410.4 63 409.9 67 410.4 70.3 410.2 72 409.7 72.6 409 72.6 407.7 72.1 406 73.6 404 73.6 400 75.6 399 74.9 397.7 74.8 395.7 74.2 395.3 74 395.3 73 395 72.1 394.4 71.6 394 71.6 393 72.7 391.3 72.7 390.7 73 390.2 73.6 388.8 76.6 386.3 78.6 384 78.7 382.7 77.8 382 77.7 381.6 78 380.7 79.4 378.3 79.9 377.3 81.6 375.7 82.2 373.7 82.1 371.3 84.7 370 85.7 369 86.1 367.3 86.3 366 86.9 364.3 88.5 362.7 89.1 361.7 89.7 359.7 89.1 359.4 90.3 358.3 91ZM359.6 87.3 360.7 86.6 362 86.2 364.3 84.1 367.3 82.9 368.8 81.6 372.3 79.6 374.7 77.5 378.2 75 379.4 72.6 379.4 70 379 68.6 377.7 67.1 374.7 65.6 373.7 65.7 372 66.4 369 67.9 366.5 70 365 71 363.4 71.6 362.3 72.7 360 73.6 357 75.2 355.5 77 353.4 78.6 352.1 82 352 83.3 352.3 84 353.2 85 356 87.1 359 87.6 359.6 87.3Z" fill="rgb(154,154,154)"/><path d="M362 88.3 360.7 88.4 360.1 88 360.2 87.6 360.7 87.1 362.3 86.6 364.7 84.3 367.7 83.2 369 81.9 372.7 80 374.9 77.6 378 75.7 378.8 74.6 379.6 73 379.5 69 378 66.9 375 65.1 374 64.8 372.3 65.3 370.6 66.6 369.7 66.9 369.3 66.8 370 64.3 370.7 64.1 372 64.9 373.3 64.3 374.7 63.4 376 63.7 379.3 63.6 382.3 61.4 383 61.6 383.7 62.3 384 62.3 385 60.8 386.7 59.3 386.9 58.6 386.7 58.3 386 58.9 385.3 58.7 384.7 57.6 385 57 386.3 57.3 387 58.1 388.7 56 388.8 55 389.1 54.6 391.3 53.6 392.5 52.6 393.3 51.4 394 51.2 394.9 51.6 396 53.5 396.7 53.5 398 53.1 399 53.2 401.9 55 405 56 405.4 56.6 404.6 58 404.7 58.7 405.3 59.2 407.7 59.9 409.3 61.6 409.6 65.6 408.9 67.6 408.9 69 408.7 69.3 407.3 69.3 406.8 69.6 406.5 72 406 72.7 405.3 72.7 404 71.9 403.3 71.8 401.3 73.6 400.4 73 399.3 72.7 398.3 72.9 397 73.7 396.7 73.6 396.4 73 396.4 72.3 397.1 70.6 396.7 70.3 394 70.4 392 71.1 391 71.2 388.3 76.2 386.3 77.7 385.7 78 384.3 78 382 77 381.3 77.3 380 78.9 379.3 78.8 378.7 78.3 378 78.2 377.6 78.6 377 80.3 376.5 81 373.7 81.3 371.9 83 370.9 84.3 370 85 369 85.5 366.3 86 365 86.6 363.8 88 362 88.3ZM361.3 72.7 360 72.6 359.8 71 360.2 70.3 361 69.9 362.3 69.9 363.2 69 365.7 67 367 66.8 368.3 67 368.5 67.3 368.4 67.6 367.3 69 364.7 70.7 363.3 71 362.3 72.3 361.3 72.7ZM351 82.8 350.3 82.5 350.1 80.6 350.7 79 351.9 78 351.7 76.3 352 75.8 354 75.2 355.3 74 357 72.9 357.7 72.8 358.7 73.2 358.7 73.6 358.3 74 356.7 74.4 354.9 77 352.6 78.3 352.5 80 351 82.8ZM358 90 357.3 90 355.3 88.9 353.3 89.1 350.9 87.3 350.6 86.3 351.3 84.6 352 84.5 354.3 86.2 355.7 87.6 357.5 87.6 358.3 88 358.5 88.6 358 90Z" fill="rgb(128,128,128)"/><path d="M385 77.3 384 77.2 382 76.3 381 76.5 379.7 77.6 377.6 77 379.1 75 379.9 73.3 379.9 69.3 379.4 68 377.7 65.9 376.7 65.3 376.5 65 376.7 64.8 380.4 64.6 380.9 64.3 381.3 63.3 382 62.8 382.3 62.8 383 63.7 384.7 63.5 385 63.3 385.3 62.3 385.7 62.1 385.9 62.6 385.4 63.6 386.3 64.3 386.7 64.3 388 63.2 389.3 63.6 391 63.4 391.6 62 391.4 61.3 391 61 389.3 60.6 387.7 61.5 387 61.3 386.9 61 387.8 59.6 388.7 57.5 390.3 56.3 390.7 55.3 394 53 396 54.7 398.3 54.2 400 55.3 403.3 56.6 403.6 57 403.9 59 404.7 60.3 406.7 60.3 407.8 61 407.9 61.6 407 62.2 404.7 60.8 404.2 61 404.2 61.3 405.7 62.5 407 63 408.4 65.3 408.3 65.7 406.9 66 406.3 67.8 405 70.3 404.7 70.3 404 69.9 403.9 69.6 404.2 68.6 403.9 68 402 67.6 401.6 67.6 401.7 68.6 402 69.2 403.1 70 402.3 70.9 401.3 71.2 399 71.2 398.6 70 398.3 69.6 395.7 69 394.3 69.1 392.3 69.7 390.7 69.6 390 69.8 389.2 70.6 389.4 72.3 388.7 74 387.9 74.6 386.8 76.3 386 77 385 77.3ZM406.1 65.3 405.7 64.8 405 65 405 65.3 405.3 65.5 406.1 65.3ZM391 67.6 390.9 67 389.7 66.1 389.3 66.6 389.4 67.3 390.3 67.8 391 67.6ZM399.7 67 399.7 67ZM366.7 68.6 366 68.9 365.7 68.6 366.3 67.8 367.1 67.6 367.3 68 366.7 68.6ZM364.3 70 364 70 364.3 69.7 364.3 70ZM375 80 374 80 373.9 79.3 374.3 78.7 376 77.4 377.3 77.2 376.3 79.3 375 80ZM365 85.7 364.3 85.6 365.1 84.6 366.3 84.2 367.7 84.1 368.3 83.7 369.3 82.4 370 82.2 370.4 82.3 370.5 83.3 369.6 84.3 368.7 84.7 367.3 84.8 365 85.7ZM354 88.1 353.3 88.1 352.7 87.6 352.4 87 352.6 86.3 353.3 86.2 354 86.6 354.4 87.6 354 88.1Z" fill="rgb(101,101,101)"/><path d="M372.8 81.1h.6M376.3 78.2h.6M382.7 71.6h.6M379.3 76.1h.6M370.4 83.3h.6M371.4 65.9h.6M377.7 63.1h.6M372.2 82.1h.6M355 88.8h.6M380 65.2h.6M352.2 77.6h.6M379.3 77.3h.6M376.9 65.9h.6M364.9 84.9h.6M375.6 57.3h.6M378.3 66.1h.6M361 87h.6M369.7 64.9h.6M382 72.9h.6M351.7 75.3h.6M363.1 86.1h.6M366 69.6h.6M353.9 90.6h.6M361.9 88h.6M351.8 92.2h.6M363.1 68.1h.6M358.7 74.1h.6M374.6 79.4h.6M358.8 72.8h.6M380.8 70.5h.6M370.6 65.5h.6M351.3 89.9h.6M367.2 87.2h.6M370 67.5h.6M351.6 76.3h.6M360.7 87.5h.6M366.7 85h.6M363.8 85.7h.6M353.9 88.6h.6M353.2 78.2h.6M370.5 66.1h.6M384.7 68.5h.6M366.5 68.4h.6M379.5 77.1h.6M353.1 76h.6M359.3 88.4h.6M363.4 86.8h.6M375.2 64.3h.6M351.6 81.8h.6M381.4 63.6h.6M353.4 77.2h.6M365 84.8h.6M369.1 85.9h.6M347.5 87h.6M360.1 88.4h.6M379.8 79.5h.6M351.2 73.5h.6M376.6 77.6h.6M382.5 68.1h.6M382 64.9h.6M366.2 69.2h.6M365.1 65.8h.6M352.6 79.8h.6M369.2 85.2h.6M361.4 72.5h.6M380.4 69.5h.6M378.2 66.3h.6M378.3 66.3h.6M350.6 83h.6M364.8 84.7h.6M368 67.2h.6M368.7 83.8h.6M361.6 70.8h.6M373 64.7h.6M352.8 87h.6M363.5 87.8h.6M383.1 61.1h.6M367.1 59.8h.6M369.1 82.7h.6M355.5 87.9h.6M385.3 72.1h.6M384.7 70.9h.6M348.5 85.8h.6M372.5 65.6h.6M377.7 66.5h.6M369.1 67.9h.6M378.4 77h.6M382.3 62.2h.6M365.1 69.1h.6M378 65.1h.6M377.2 81.9h.6M381 74.1h.6M366.5 67.8h.6M375.1 63.5h.6M353.3 74.1h.6M348.8 80.4h.6M377.3 64.8h.6M380.7 72.2h.6M362.3 87.2h.6M362.2 89h.6M382.9 70.1h.6M386.5 70.3h.6M362.3 91.6h.6M361.3 87.7h.6M375.1 63.1h.6M370.4 67.2h.6M383 75.3h.6M376.5 65.4h.6M369.5 87.3h.6M353.9 87h.6M383.4 74.4h.6M353.7 86.1h.6M359.7 68.2h.6M380.7 65.4h.6M373.7 63h.6M354.9 92.5h.6M371.2 84h.6M360.7 70.9h.6M376.8 55h.6M372.8 64.4h.6M368.4 63.4h.6M385.6 73h.6M365.8 70h.6M354.8 92.8h.6M360.7 92.5h.6M362 72.3h.6M347.8 83.1h.6M378.6 76.3h.6M349.9 79.2h.6M371.9 80.8h.6M367.8 85.1h.6M349.5 94.4h.6M368.9 85h.6M371.6 80.8h.6M380.5 73.7h.6M352.6 78.1h.6M350.2 85.2h.6M365.5 86.2h.6M371 60.7h.6M379.3 66.7h.6M377.8 76.7h.6M368.1 59.8h.6M383 70h.6M369.4 66.6h.6M372.9 63.5h.6M352.9 79h.6M348 82.9h.6M388.9 70.3h.6M364.9 70.1h.6M364.8 68.3h.6M363.3 69.6h.6M360.3 87.5h.6M364.8 68.1h.6M352 85.1h.6M364.9 87.8h.6M374.9 81.1h.6M375.2 78.8h.6M361.9 87.9h.6M352 87.5h.6M380.6 66.6h.6M361.2 88.9h.6M366.9 68.7h.6M347.2 83.9h.6M379.6 76.8h.6M371.8 82.7h.6M363.9 70.4h.6M377.8 65.9h.6M357.2 89.7h.6M350.8 83.2h.6M357.9 66.3h.6M357.3 91.6h.6M367 64.1h.6M366.6 86.6h.6M350.1 78h.6M384.4 70.5h.6M374 79.9h.6M367.7 83.4h.6M359.8 69.8h.6M356 90.6h.6M349.7 76h.6M373.2 81h.6M352.6 88.6h.6M383.4 64.6h.6M368.8 85.1h.6M376.2 64.9h.6M384.8 72.7h.6M378.3 60h.6M350.5 76.3h.6M374.5 63.7h.6M365.4 89h.6M358.2 71.7h.6M377 76.9h.6M359.1 88.4h.6M346.2 89.9h.6M353.4 86.3h.6M372.5 58.6h.6M349.9 91.8h.6M351.5 79h.6M371.3 86.9h.6M368.3 84.9h.6M361 69.8h.6M381.7 69h.6M351.6 85.2h.6M361.5 72.5h.6M362 71.9h.6M377.7 77.4h.6M363.2 68.7h.6M365.1 85h.6M351.6 80h.6M348.4 80.7h.6M376.9 64.8h.6M377.1 66.3h.6M379.6 66.8h.6M367.4 68.2h.6M381.4 72.2h.6M379.8 66.4h.6M370.9 64.2h.6M361.1 87.5h.6M372.9 79.6h.6M374.6 58.9h.6M369.3 66.7h.6M353.9 72.9h.6M356.9 88.2h.6M375 78.9h.6M371.9 63.2h.6M381.3 63.6h.6M351.7 81.8h.6M353.2 86.6h.6M349 75.2h.6M355.1 89.2h.6M378.7 66.2h.6M380.1 79h.6M359.1 73.9h.6M350.8 75.9h.6M368 65.1h.6M351 86.7h.6M374.6 81.3h.6M381 71.6h.6M351.1 78.9h.6M354.7 75.5h.6M375.8 80.7h.6M379.1 79.6h.6M380.9 71.4h.6M367 85.1h.6M366.2 84.5h.6M380.7 72.5h.6M382.9 68.9h.6M355.3 87.4h.6M356.6 88h.6M380.9 70.2h.6M364.3 69.3h.6M349.5 82h.6M374.8 81.9h.6M351.8 91.5h.6M352.7 85.7h.6M353.4 85.9h.6M357.7 74.8h.6M348.5 80.9h.6M378.6 77.5h.6M362.1 72.4h.6M384.2 71.4h.6M353.1 86.8h.6M376.1 78.1h.6M354.2 87.1h.6M380.8 63.9h.6M379.3 64.6h.6M358.6 73.7h.6M373.5 81.9h.6M363.7 69.6h.6M374.7 59.1h.6M352.6 79.3h.6M351.7 84.6h.6M382.7 69.2h.6M354.1 73h.6M354.5 89.4h.6M381.7 66.4h.6M354.3 87.9h.6M360.9 91.5h.6M355.2 76.5h.6M378.8 67.2h.6M367.4 85.4h.6M349.4 87.6h.6M373.1 79.7h.6M375.1 80h.6M373.4 84.3h.6M379 79.9h.6M369 67.5h.6M354 76.8h.6M348.3 79.3h.6M357.3 88.2h.6M353 88h.6M357.7 88.4h.6M376.8 63.1h.6M379.1 76.6h.6M351.1 82.3h.6M364.4 86.9h.6M353.5 77.4h.6M358.9 73.7h.6M362 69.3h.6M372.8 65.9h.6M352.2 85.4h.6M377.7 62.5h.6M362.3 89.4h.6M358.6 90h.6M369.5 67.1h.6M351.7 77.9h.6M375 79.3h.6M375.6 78.7h.6M380.1 76.5h.6M379.5 76.1h.6M382.8 70.5h.6M360.1 94.5h.6M366.6 87.2h.6M362.8 71.5h.6M357.9 70.2h.6M362.1 69.2h.6M376.6 77.7h.6M379.1 64.7h.6M382.9 81.4h.6M353.8 73.2h.6M376.1 64.9h.6M372.9 61.5h.6M380.4 67h.6M373 65.2h.6M382.8 69h.6M379.5 63.1h.6M366 84.9h.6M349.4 80.2h.6M360.4 73.3h.6M381.8 61.6h.6M368.7 82.5h.6M353.3 72.2h.6M355.6 73.9h.6M381.9 63.1h.6M372.8 80.6h.6M360 90.1h.6M358 90.7h.6M351.3 85h.6M380.2 75.9h.6M377.9 79.4h.6M374.6 65h.6M348 86.6h.6M353.7 77.1h.6M364.2 70.8h.6M362.4 87.3h.6M377 64.1h.6M367.5 84h.6M349.8 82.6h.6M364.1 70h.6M366.7 84.8h.6M365.9 84.5h.6M381.5 79.8h.6M367.5 68.5h.6M351.5 89.5h.6M359.8 73.3h.6M385.2 74.3h.6M386.8 68.2h.6M368.4 85h.6M357.8 88.2h.6M375.6 77.8h.6M375.6 82.5h.6M353.4 76h.6M376.8 80.4h.6M374.7 81.9h.6M349.9 87.4h.6M352.2 85.3h.6M370.7 81.4h.6M350.3 81.1h.6M371 85.2h.6M352.1 76.4h.6M358.4 71.5h.6M352.8 88.5h.6M379.1 60h.6M360 70.9h.6M359.4 65.9h.6M379.3 75.8h.6M369.2 88.7h.6M365.9 69h.6M373.7 83.2h.6M383.6 67.6h.6M359.5 73.2h.6M383.3 64.6h.6M366.1 67.4h.6M363.7 86.9h.6M358.6 90.3h.6M374 79.7h.6M371.8 60.7h.6M379.1 77.2h.6M356.9 72.5h.6M357.5 88.4h.6M351 84.3h.6M376.7 61.5h.6M381.2 74.6h.6M364.4 67.7h.6M351.6 75.2h.6M366.4 66.1h.6M371.7 85.5h.6M377.9 63.4h.6M362.2 70.3h.6M358.1 69.6h.6M369.6 88.3h.6M370.9 64.3h.6M383.5 75.1h.6M352.9 87.9h.6M384.8 64.3h.6M370.9 84h.6M376.6 82.1h.6M351.7 79.8h.6M385.9 70.1h.6M369.7 89.3h.6M359.7 67.9h.6M370.6 82.9h.6M374.2 64.9h.6M376.7 78h.6M369.5 66.5h.6M380.8 67.9h.6M358.8 90.2h.6M354.9 90.2h.6M355.5 87.8h.6M352.3 80h.6M374.1 65.3h.6M352.6 91h.6M376.5 78.5h.6M370.5 65.5h.6M383.2 67.8h.6M378.6 78.2h.6M379.8 75.3h.6M369.5 84.4h.6M360.4 72.5h.6M374.7 64.2h.6M348.7 77.2h.6M385.8 71.3h.6M366.2 66.1h.6M368.3 84.3h.6M363.2 71.3h.6M353.5 90.2h.6M374.4 79.1h.6M364.8 84.7h.6M350.9 87.6h.6M380.4 77h.6M351.3 82.4h.6M370.3 83.5h.6M383.7 69.5h.6M356.3 75h.6M348.8 80.7h.6M352.5 74.3h.6M380.4 72.5h.6M357.9 94.4h.6M352.1 83.2h.6M354.9 71.5h.6M380 67h.6M364.3 69.9h.6M369.8 63.3h.6M378.7 60.7h.6M380.4 81.1h.6M351.5 73.1h.6M369.3 65.2h.6M343.5 81.7h.6M367.6 67h.6M380.8 80.8h.6M378.8 66.3h.6M375.7 81.6h.6M370.9 81.2h.6M379.4 74.9h.6M351.7 80.8h.6M376.9 77.5h.6M375.9 87.8h.6M370.6 84.5h.6M368.5 64.4h.6M371 83.7h.6M355.3 70.3h.6M371.6 97h.6M370.9 81.9h.6M387.9 76.1h.6M351.3 78.7h.6M374.7 84.7h.6M353.3 87h.6M357.6 63h.6M379.9 74.2h.6M379.4 65.3h.6M367.3 95.7h.6M380.6 71h.6M355 74.5h.6M376.3 65.7h.6M378 76.5h.6M377.4 79.5h.6M370.5 63.6h.6M353.5 69.7h.6M376.5 81.1h.6M383.7 71.9h.6M349.7 80.6h.6M379.1 81.4h.6M358.6 71.5h.6M379.5 77.1h.6M386.2 77h.6M377.5 76.5h.6M396.7 67.4h.6M385.2 66.3h.6M381.7 64.3h.6M358.2 63.1h.6M375.9 78.3h.6M352 86.9h.6M360.4 71.1h.6M369.3 83.5h.6M360.9 97.6h.6M342.1 85.8h.6M381.5 75.1h.6M369.8 93.5h.6M381.4 80.6h.6M382 72.9h.6M350.6 79.2h.6M361.9 71.7h.6M359.9 90.6h.6M375.3 59.7h.6M348.2 85.2h.6M356.3 73h.6M378.2 81.4h.6M359.4 90.8h.6M390.7 64.7h.6M394.2 63.6h.6M393.7 64.3h.6M392.1 56.6h.6M394.9 56.3h.6M400.3 54.6h.6M404.8 61.1h.6M385 61.7h.6M401.2 56.8h.6M390.1 53.9h.6M382.9 62.9h.6M389.2 65.2h.6M400.2 63.8h.6M379.6 52.2h.6M394 67.7h.6M386 54.1h.6M403.1 86.6h.6M394.6 74.5h.6M399.3 63.6h.6M388.7 67h.6M395.5 48h.6M403.1 51.1h.6M386.9 44.9h.6M385.4 58.5h.6M395.9 77h.6M391.9 71.1h.6M399.3 61h.6M402.1 59.5h.6M396.1 63.7h.6M401.5 69.8h.6M396.3 48.4h.6M402.6 53h.6M395.4 58.6h.6M387 54.2h.6M389.3 56h.6M388.8 71h.6M390.9 66.3h.6M386.8 65.8h.6M390.3 67.7h.6M396.6 57.5h.6M397.9 60.5h.6M398.2 59.7h.6M402.4 51.8h.6M378.9 51.9h.6M400.4 60h.6M398.7 59.7h.6M397.2 62.9h.6M400.8 69h.6M392.2 52.7h.6M390.3 45.3h.6M401.2 62.9h.6M403 65h.6M402.7 56.9h.6M376.9 62.2h.6M396 70.1h.6M404.5 62.7h.6M380.2 69.2h.6M382.5 60h.6M394.8 74.9h.6M403.2 61.9h.6M400.2 78.1h.6M390.2 55.8h.6M405.4 63.3h.6M377.1 43.9h.6M402.9 58h.6M396.4 65.9h.6M401.6 64.2h.6M398.9 60.4h.6M410.5 72.4h.6M400.9 65.1h.6M405.4 75.4h.6M400.1 76.9h.6M410.3 77.7h.6M396.4 54.6h.6M401.3 64h.6M386.6 70.9h.6M392.5 59.1h.6M401.6 55.9h.6M404 55.3h.6M391.7 66h.6M391.2 75.9h.6M387.1 60.8h.6M391.5 51.7h.6M404.4 57.1h.6M406.8 63.8h.6M397.1 53.4h.6M382.9 65.6h.6M394 62.4h.6M406.5 68.4h.6M400.3 67.1h.6M395.3 59.7h.6M383.1 54.5h.6M405.1 56.2h.6M402.3 61.5h.6M395 68h.6M397.2 52.9h.6M392.4 70.8h.6M406.7 60.6h.6M398.5 56.5h.6M389.3 70h.6M404.6 73.1h.6M405.1 61.7h.6M402 70.3h.6M402.2 57.6h.6M393.3 61.1h.6M389.5 69.2h.6M410.5 63h.6M397 69.8h.6M395 57.6h.6M383.2 55.9h.6M395.3 49h.6M410 56.6h.6M410.1 75.8h.6M399 62.5h.6M394.4 57.8h.6M383.8 59.6h.6M390.6 61.4h.6M396.9 59.1h.6M408.4 76.2h.6M408.8 78.2h.6M407.2 51.9h.6M408.5 66.9h.6M394.5 61.5h.6M390.6 58h.6M384.6 46.8h.6M404.5 70.5h.6M391.6 45.4h.6M395 65h.6M396.3 63.3h.6M394.8 64.8h.6M399.8 64.9h.6M398.6 56.3h.6M391.9 49.8h.6M400.7 58h.6M404.1 63.3h.6M406.7 69.3h.6M397.7 50.4h.6M390.1 59.3h.6M399.8 54.2h.6M383.7 48h.6M391.2 55.5h.6M396.7 58.8h.6M409.5 71.8h.6M406 47.6h.6M391.8 68.8h.6M392.7 53.9h.6M399.8 61.9h.6M398.3 60.1h.6M397.8 55.4h.6M385.9 69.5h.6M391.5 59.4h.6M394.2 66.8h.6M405.1 64.4h.6M398 59.1h.6M384.4 56.5h.6M408.7 69.7h.6M389.5 63.4h.6M400.9 68.2h.6M396.9 56.5h.6M408.5 68.6h.6M407.2 65h.6M386.8 46.6h.6M397.7 54.1h.6M385.4 62.3h.6M390.6 68.2h.6M409.6 56h.6M404.7 78.2h.6M381.3 68.5h.6M400.1 60.2h.6M401.9 59.2h.6M386 61.6h.6M395.1 62.3h.6M405.7 64.3h.6M396.9 60.1h.6M399 65.3h.6M372.1 62h.6M401.2 65.9h.6M379.9 60.6h.6M395.2 48.3h.6M390.5 60.2h.6M391.2 60.3h.6M409.3 79.4h.6M398.1 59.5h.6M398 65.8h.6M385 66h.6M400.1 71h.6M392.1 59.4h.6M392.7 66.1h.6M392.4 62.8h.6M383.4 48.4h.6M392.1 68.4h.6M403.1 57.7h.6M384.5 44.9h.6M395.7 70.8h.6M395.4 61.4h.6M405.4 61.3h.6M391.4 67.3h.6M392.3 57.4h.6M406.9 67.1h.6M406.2 86.9h.6M405.8 50.9h.6M402 64.4h.6M401 48.7h.6M393.4 63h.6M393.3 51.3h.6M407.5 57.5h.6M406.7 66.8h.6M401.1 55.5h.6M397.9 56.8h.6M409.2 76.2h.6M405.9 75.5h.6M402.2 56.3h.6M393.3 70.4h.6M384.3 63.9h.6M401.9 70.9h.6M392.2 68.6h.6M406.1 55.2h.6M388.7 59.2h.6M391.8 59.7h.6M387.1 59.3h.6M406.7 75.8h.6M402.1 56.2h.6M404.9 75.2h.6M405.5 60.5h.6M398.6 73.5h.6M389.1 51.9h.6M398.7 54.7h.6M384.4 62.8h.6M390.4 80.2h.6M394.4 59.6h.6M404.1 78.5h.6M397 67.2h.6M395.3 61.6h.6M397 74.3h.6M392.2 67.1h.6M400.6 62.7h.6M387 75.3h.6M387.2 39.4h.6M395.1 59.2h.6M403.1 58.4h.6M393.1 51.4h.6M383.9 49.2h.6M400.3 68.3h.6M396 61.8h.6M398 54.6h.6M390.2 66.4h.6M393.8 48.2h.6M398.2 63.9h.6M393.7 65.1h.6M388.2 67.1h.6M397.6 65.6h.6M381.6 72.7h.6M406.2 60.3h.6M392.2 61.6h.6M403.7 67.6h.6M392.8 65.7h.6M393.7 62.7h.6M382.7 50.2h.6M401.9 55.8h.6M394.9 62.1h.6M384.7 57.7h.6M393.2 65.8h.6M395.4 67.9h.6M403.6 59.1h.6M395.9 57.8h.6M394.3 59.5h.6M386.3 54.5h.6M399.8 76.6h.6M385.9 77.8h.6M399.9 74.9h.6M401.4 57h.6M395.6 64.9h.6M396.1 61h.6M408.2 64.4h.6M409 69.4h.6M393.8 67.6h.6M395.8 59.5h.6M389.3 66h.6M405.1 67.7h.6M399.7 73.2h.6M392.7 72.9h.6M402.8 72.7h.6M389.1 59.1h.6M390.3 56.6h.6M401.1 64.8h.6M394 59.6h.6M405.4 67.2h.6M403.9 73.6h.6M390.5 47.9h.6M401.1 57.8h.6M403.4 60.2h.6M393.4 63.1h.6M392.1 64.7h.6M400.8 65.2h.6M386.5 47.9h.6M382.6 45h.6M393.6 64.5h.6M407.8 61.8h.6M393.3 55.7h.6M400.5 62.8h.6M404.1 62.6h.6M387.5 42.4h.6M400.8 69.3h.6M398 65.2h.6M400.2 75.1h.6M392.4 80.9h.6M394.6 52.8h.6M389.6 54.8h.6M395.2 64h.6M394.4 58.6h.6M406.4 53.4h.6M388.6 59.4h.6M400.8 69.3h.6M397.7 64.2h.6M408 68.5h.6M388.8 56.6h.6M398.5 71.5h.6M391.2 57.8h.6M393.9 57.4h.6M397.3 69h.6M405 67.8h.6M403.2 64.7h.6M392.6 58.3h.6M385.9 76h.6M399.2 65.5h.6M388.1 61.6h.6M382.9 60h.6M383.5 46.4h.6M408.5 70.5h.6M400.5 55.8h.6M397.6 70.8h.6M390 48.2h.6M403.5 64.1h.6M399.8 59.3h.6M397.1 64.5h.6M395.9 62.3h.6M381.8 82.4h.6M397.4 64.9h.6M393.3 67.2h.6M380.1 62.9h.6M388.5 40.8h.6M401.7 74.1h.6M397.4 40.1h.6M400.1 79.4h.6M389.6 64.9h.6M396.3 66.5h.6M394.3 72.7h.6M394.6 54.3h.6M409.7 72.8h.6M399.1 55.4h.6M401.3 62.9h.6M409.3 81.7h.6M398 67.3h.6M389.6 63.9h.6M401.4 65.2h.6M398 50.6h.6M389 61.5h.6M408.5 46.2h.6M391.8 50.8h.6M389 53.2h.6M373.7 50.3h.6M383.3 61.9h.6M393.5 64.1h.6M401.7 61.3h.6M410.9 71.8h.6M400.4 72.9h.6M393.3 67.6h.6M394.3 64.7h.6M389 42.7h.6M383 64.4h.6M394.6 62.5h.6M379.3 60.5h.6M400.6 71.9h.6M375.6 52h.6M399.8 48.2h.6M378.4 53.4h.6M399 59.4h.6M389.6 52.5h.6M401.6 74h.6M397 65.2h.6M408 61.2h.6M396.7 62.4h.6M393.2 56.2h.6M402.4 67.1h.6M388.9 67h.6M398.6 80.7h.6M393.7 59.3h.6M405.6 65.5h.6M395 59.9h.6M393.1 65.4h.6M401.9 62.1h.6M393.2 50.4h.6M393.4 46.4h.6M386.9 48.8h.6M396.5 65.3h.6M396 66.2h.6M384.4 48.5h.6M404 66.3h.6M386.2 52.3h.6M387.1 68.3h.6M396.8 54h.6M401.8 50.1h.6M401.2 56.9h.6M409.5 79.9h.6M405.8 66.1h.6M398.2 72.5h.6M393.7 62.2h.6M388.3 55.8h.6M388.8 65.7h.6M384.4 68.8h.6M410 77.5h.6M371.4 53h.6M393.4 59.1h.6M394.6 56.9h.6M392.1 56.8h.6M402.9 74h.6M400.7 69.1h.6M390.8 68.7h.6M385 53h.6M401.8 67.8h.6M381.4 60.2h.6M400.8 57.1h.6M403.4 65.6h.6M394.8 62.4h.6M395.5 59.2h.6M400.2 57.5h.6M398 62.6h.6M410.6 70.6h.6M391.3 58.8h.6M387.7 56.9h.6M393.9 64.3h.6M400.5 67.3h.6M397 63.9h.6M409.5 53.5h.6M388.8 74.3h.6M395.3 69.2h.6M396.8 83.5h.6M402.3 71.5h.6M396.2 71.2h.6M394.1 55.4h.6M407.4 58.5h.6M397.6 74.8h.6M405.8 56.9h.6M397.2 60.3h.6M399.2 68.7h.6M403.6 66.1h.6M392.3 67.5h.6M402 66.2h.6M409.7 64h.6M396.2 64.3h.6M402.9 60.3h.6M405.1 73.1h.6M403.4 54.3h.6M408.6 58h.6M390.1 59.3h.6M400.6 53.5h.6M400.8 68.3h.6M381.2 54.4h.6M402.2 61.9h.6M382.6 48.8h.6M394.8 67h.6M407 65.7h.6M394.9 59h.6M409.3 44.2h.6M397.6 68.9h.6M396.5 73h.6M389.5 57h.6M409.9 54.6h.6M395 55.9h.6M394.9 57.2h.6M409.1 71.5h.6M392 57.4h.6M400.9 60.4h.6M380.6 57.9h.6M399.4 65h.6M398 51.6h.6M393 57.4h.6M389.8 62h.6M390.8 60.6h.6M387.6 62.6h.6M398.1 62.3h.6M409.5 62.4h.6M391.7 60.9h.6M388.2 48.5h.6M409.7 71.7h.6M393.5 62.2h.6M403.3 71.4h.6M402.3 69.6h.6M392.6 72.1h.6M385.8 62.4h.6M402.9 61.6h.6M394 67h.6M392.3 53h.6M397.3 72.3h.6M386.7 61.3h.6M398.2 56.8h.6M395.3 59.1h.6M395.2 58.7h.6M405.8 63.6h.6M406.6 69.1h.6M403.3 70.4h.6M397.7 73.6h.6M404 54.2h.6M391.1 65h.6M402.1 78.2h.6M394.2 70.5h.6M403.1 67.2h.6M384.8 50.3h.6M392.8 57.6h.6M405.2 63.4h.6M402.6 57.6h.6M395 58.1h.6M401.4 70.4h.6M408.7 64.5h.6M387.1 43.1h.6M395.5 68h.6M387.7 50.1h.6M395 56h.6M387.2 66.2h.6M394.9 56.9h.6M400.9 62.5h.6M402.7 61.2h.6M387.1 58.4h.6M404 57.8h.6M398 74h.6M382.9 63.2h.6M402.3 53.5h.6M395.3 66.7h.6M382.8 61.8h.6M396.7 72.7h.6M400.5 72.6h.6M408.3 84.1h.6M392.1 60.6h.6M400.7 52h.6M393.1 62.8h.6M383.3 60.1h.6M400.1 74.4h.6M404.9 73.8h.6M393.8 55.1h.6M391 57.6h.6M396 45.6h.6M406.7 72.7h.6M388.6 73.9h.6M397.7 52.7h.6M391.6 65.1h.6M400.2 58.2h.6M393.3 77h.6M399.7 70.3h.6M401.8 59.5h.6M400.8 70.3h.6M388.6 58.5h.6M405.7 71.9h.6M369.6 46h.6M410.8 72.8h.6M385.1 49.8h.6M403.2 56.3h.6M393.1 55.8h.6M390 68.6h.6M393.9 67.6h.6M396 81.5h.6M382.5 59.9h.6M388 53.2h.6M407.3 62.7h.6M394.1 54.9h.6M406.2 76.6h.6M404.5 71.1h.6M399.8 69.5h.6M385.7 66.1h.6M387.3 63.7h.6M395.4 67.8h.6M393.9 63.9h.6M405.5 84.6h.6M394.6 63.7h.6M385.7 56.5h.6M397 63.3h.6M395.2 65.7h.6M393 62.7h.6M404.9 51h.6M400.9 53.5h.6M400.1 68.7h.6M399.4 52.2h.6M400 63.4h.6M384 60.4h.6M403.2 73.4h.6M395.4 60.9h.6M391.3 49h.6M386.5 56.3h.6M407.6 60.1h.6M387.3 75.2h.6M410.8 61.6h.6M396.4 64.6h.6M391.3 59h.6M388.2 61.2h.6M395.5 63.4h.6M383.6 59.6h.6M388.8 54.8h.6M398.4 54.7h.6M405.9 55.5h.6M396.1 48.9h.6M396.9 63.8h.6M377.6 56.8h.6M402.1 74.2h.6M409.1 66.4h.6M400.7 70.1h.6M401.5 61.9h.6M396.8 65.7h.6M395.8 64.7h.6M392.9 76.3h.6M393.8 53.3h.6M399 64.7h.6M397.4 60.4h.6M380.9 75.3h.6M399.2 56h.6M399.2 61.9h.6M396.6 58.1h.6M391.4 58h.6M388.5 63.5h.6M394.4 75.2h.6M405.7 72.1h.6M400.8 56.8h.6M408.6 65.3h.6M400.8 60.7h.6M406.4 51h.6M390.7 40.5h.6M390.7 65.3h.6M386.4 50.5h.6M392.3 59.8h.6M400.1 59.6h.6M401.8 62.8h.6M410.3 63.6h.6M409.5 62h.6M394.3 59.2h.6M402.3 70.5h.6M397.6 62.3h.6M398.8 73.8h.6M396.4 63.6h.6M397.6 62.2h.6M396.3 62.7h.6M393.8 61.3h.6M392.9 48.9h.6M391.2 72.9h.6M408 71.4h.6M391.2 55.6h.6M382.4 71.7h.6M400.3 75.5h.6M394.5 67.5h.6M392.4 54h.6M395.1 54.3h.6M398.2 58.8h.6M389.1 74.6h.6M389.4 69.9h.6M396.7 57.4h.6M395.2 65.5h.6M389.3 57.9h.6M393.8 61.7h.6M398.7 69.1h.6M387.3 63.4h.6M389.9 59.1h.6M409.6 70.1h.6M385.3 57.9h.6M390.4 66.2h.6M398.3 63.4h.6M395.1 55.7h.6M388 70.7h.6M408 56.3h.6M400.5 66.3h.6M400 62.9h.6M395 53.6h.6M392 65h.6M403.8 58.1h.6M390.3 55.2h.6M406.1 59h.6M395.2 65h.6M403 70.8h.6M398.9 68.6h.6M401.6 62h.6M388.7 63.1h.6M399.9 59.8h.6M387.1 57.7h.6M391.7 68.4h.6M390.2 68.9h.6M408.4 67.8h.6M392.7 64.3h.6M396.9 56.9h.6M384.1 61.4h.6M401.6 73.2h.6M404.3 69h.6M388.2 54.5h.6M394.7 63.9h.6M397.8 69.1h.6M405.8 58.4h.6M393.9 59.2h.6M402.8 60.4h.6M382.1 62.1h.6M401.1 61.4h.6M396.9 68.6h.6M383.9 54.5h.6M400.1 63.9h.6M391.5 59.8h.6M399.3 62.1h.6M388.8 51.5h.6M395.7 43.6h.6M385.6 66.1h.6M390.3 63.2h.6M400.3 61.3h.6M394.5 54.8h.6M401.7 50.8h.6M402.1 62h.6M379 61.1h.6M402.9 70.7h.6M400.7 65.6h.6M406.7 64.2h.6M398.5 66.1h.6M391.3 54.4h.6M397.5 53.3h.6M387.6 60.3h.6M400.9 71.5h.6M396.4 68.8h.6M398.3 69h.6M398.5 60h.6M396.4 53h.6M391.5 63h.6M375.4 64.8h.6M401.5 68.3h.6M392.4 77h.6M397.2 55.7h.6M397.5 72.4h.6M405.3 60.1h.6M408.9 63.3h.6M408.5 63.8h.6M409 62h.6M388.1 62h.6M369.8 64.4h.6M397.3 53.1h.6M399.3 60.3h.6M380.5 71.5h.6M402.1 63.5h.6M402.4 66.8h.6M397.8 66h.6M394.5 59.1h.6M406.2 53.9h.6M405.1 62.7h.6M406.9 67.7h.6M397.3 47.7h.6M396.9 68.6h.6M396.1 61.2h.6M400.1 76.8h.6M393.2 58.2h.6M395.9 55.6h.6M405 71.6h.6M393.9 70.7h.6M407 66.1h.6M402.8 69.8h.6M398.3 59h.6M400.8 61.9h.6M401.2 70.6h.6M385.7 58.8h.6M407.1 68.2h.6M385.5 62.1h.6M393.7 58.1h.6M403.8 85.3h.6M409.1 65.6h.6M398.9 54.5h.6M398.6 63.1h.6M400.1 54.1h.6M392.7 73h.6M396.7 56.9h.6M394.8 59.6h.6M395.4 55.2h.6M383.5 58.8h.6M390.1 72.3h.6M404.9 63.2h.6M407.9 83.6h.6M402.9 59.9h.6M399.5 47.3h.6M408.7 58.5h.6M394.8 58.3h.6M394.9 62.8h.6M389.1 60.4h.6M410.9 61.3h.6M403.3 73h.6M385.3 54.4h.6M392.5 65.6h.6M398.7 75.9h.6M383.5 75.9h.6M390.4 60.8h.6M406.9 53.4h.6M404.1 63.9h.6M399.7 76.4h.6M392 56.6h.6M399.6 68h.6M381.6 55.1h.6M394.4 54.7h.6M405.1 67.8h.6M402.7 54.6h.6M391.3 56.8h.6M400.1 46.6h.6M400.9 61.2h.6M395.1 64.1h.6M395.2 58.4h.6M408.8 58.3h.6M383.3 54.5h.6M402.1 54.1h.6M392.8 57.4h.6M402.3 79.9h.6M396.7 77.4h.6M404.9 63.5h.6M394.5 55.1h.6M393.2 51.8h.6M385.8 72.6h.6M387.5 52h.6M408.7 64.8h.6M388.8 63.2h.6M403.4 66.6h.6M404.1 63.2h.6M390.5 66.5h.6M395.5 68h.6M404.3 52.7h.6M385.9 57h.6M376.2 55.5h.6M386.9 60.8h.6M402.4 57.2h.6M392.6 67.6h.6M398.9 62.5h.6M394.6 62.6h.6M406.6 60.8h.6M403.9 66.2h.6M384 52h.6M395.5 52.8h.6M401.5 57.2h.6M392.4 57.7h.6M405.7 60.7h.6M408.6 72.2h.6M396.6 62.6h.6M398.2 69.2h.6M396.4 63.2h.6M386.3 67.9h.6M388.6 60h.6M389 66.6h.6M389.1 75.8h.6M399.3 57h.6M406 72.4h.6M391 64.1h.6M383 70.2h.6M399.4 57.4h.6M396 71.2h.6M386.8 56.5h.6M391.9 63.6h.6M394.2 48.5h.6M392.7 68.1h.6M402.2 58.9h.6M407.2 60.7h.6M407.2 54.4h.6M403.5 61.7h.6M407.5 61.8h.6M386.3 67.8h.6M388.2 59.7h.6M397.5 62.1h.6M391.1 49h.6M397.3 60.1h.6M401.8 53.3h.6M393.2 53.5h.6M405.5 53.5h.6M393.2 60h.6M397.4 67h.6M399.9 63.6h.6M405.4 60h.6M394.4 54.5h.6M392.9 64.3h.6M405 56.1h.6M394.2 62.6h.6M393.3 62.5h.6M393.6 53.6h.6M385 52.3h.6M395.2 61.8h.6M400.2 67.8h.6M407.3 69.8h.6M399.1 72.2h.6M400.5 65.7h.6M398.1 67h.6M410.1 73.9h.6M382.9 61.6h.6M406.8 63.5h.6M396.3 75h.6M389.4 72.2h.6M406.4 56.5h.6M398.2 56.1h.6M398.4 60.3h.6M397.3 67.3h.6M405.2 66.7h.6M381.1 52.2h.6M396.6 55.7h.6M394.6 74.5h.6M391.6 67.8h.6M406.5 63.6h.6M406.4 66.9h.6M405.1 78.5h.6M396.7 73.5h.6M401.3 60.7h.6M400.4 53.1h.6M400.1 69h.6M372.2 56.8h.6M392 78.4h.6M398.4 52.2h.6M399.4 70.9h.6M380.6 64.2h.6M383.3 52.6h.6M398.6 54.4h.6M392.3 56.2h.6M401 69.6h.6M382.7 79.6h.6M386 60.1h.6M393.6 62.6h.6M403.3 61.8h.6M406.9 71.5h.6M400.8 56.8h.6M402.4 60.7h.6M386.2 62.2h.6M406.5 57.9h.6M393.8 69.8h.6M389.7 60.6h.6M404.6 67.5h.6M407.8 61h.6M402.6 70.1h.6M395 55.9h.6M393.1 70.8h.6M392.8 59.8h.6M388.9 61.2h.6M400.9 64.5h.6M386.9 64.9h.6M406 77.7h.6M398.2 47.2h.6M399 67.4h.6M387.9 53.3h.6M406.9 59.3h.6M402.3 60.5h.6M380.5 52.8h.6M394.9 62.7h.6M394.1 57.7h.6M396.5 68.4h.6M405.9 65.6h.6M395 58.1h.6M410.7 58.6h.6M407.1 72.2h.6M404.1 75.9h.6M404.2 63.9h.6M399 72.1h.6M387.9 66.7h.6M385.5 62.2h.6M394.1 51.6h.6M397.3 69.3h.6M397.7 63.4h.6M407.7 66h.6M380.6 42.1h.6M395.4 50.1h.6M392 56h.6M406.6 64.9h.6M392.5 58.3h.6M392.2 53.9h.6M403.4 71h.6M392.5 60.2h.6M390.9 69.6h.6M399.8 67.9h.6M392.7 65.5h.6M381.8 55.5h.6M398.6 54.8h.6M396.9 50.6h.6M408 66.4h.6M410.8 67.8h.6M392.9 64h.6M409.3 71.3h.6M401.7 67.5h.6M400.6 64.3h.6M396.8 59h.6M398.4 57.4h.6M395.8 59.9h.6M386.6 61.2h.6M380.4 55.5h.6M396 55.9h.6M394.8 52.3h.6M402.1 62.5h.6M389.8 49h.6M405.5 69.8h.6M402.5 70.8h.6M409.2 69h.6M387.3 65.9h.6M393.7 62.5h.6M404.3 64.3h.6M400.4 60.9h.6M391.3 56.7h.6M389.7 57h.6M378.2 63.4h.6M394.6 72.5h.6M403.1 74.2h.6M394 63.2h.6M401.8 55.9h.6M408.6 51.3h.6M400.9 78.6h.6M389 52.8h.6M394.5 68.8h.6M399.1 60.4h.6M406.3 53.6h.6M395.1 54.4h.6M398.2 58.4h.6M404.1 60.5h.6M402.4 60.7h.6M385.2 64.6h.6M397.5 69.2h.6M397.7 64h.6M404.3 63.5h.6M399.3 61.1h.6M398.1 72.7h.6M402.1 72.1h.6M394.8 61.2h.6M389 57.9h.6M382.6 61.1h.6M390.8 59.3h.6M405.4 69.6h.6M401 57.8h.6M401.6 80.8h.6M380.4 56.1h.6M393.9 60.4h.6M388.6 73.2h.6M393.6 68.5h.6M403.8 50h.6M394.1 53.5h.6M391.1 70.8h.6M390.3 60.1h.6M384.1 69.6h.6M390.6 61.2h.6M398.3 78.9h.6M398.3 65.9h.6M392.5 56.1h.6M399.3 58.4h.6M399.8 67.6h.6M394.3 70h.6M393.3 73.2h.6M400 65.7h.6M396.3 67.7h.6M399.1 59.6h.6M396.9 65.3h.6M404.4 69.3h.6M389.7 57.4h.6M394.7 58.6h.6M410.2 61.4h.6M381.8 57.3h.6M402.9 57.2h.6M385.3 64.2h.6M404.6 85.6h.6M381.1 50.2h.6M405.5 61.8h.6M388.9 58.9h.6M387.8 62.1h.6M405.1 66.3h.6M401.9 50.7h.6M379.9 61.6h.6M402 68.2h.6M382.5 55.2h.6M403.2 59.5h.6M409 57.1h.6M403.8 62.7h.6M381.7 64h.6M409.3 79.5h.6M400.8 73.9h.6M387.5 66.3h.6M389.8 57.4h.6M395.6 53.5h.6M399.7 71.8h.6M406.1 55.5h.6M392.4 72.1h.6M405.7 58.9h.6M383.9 72.7h.6M398 55.8h.6M396.3 65.4h.6M387.9 64.1h.6M383 63.6h.6M395.7 64.7h.6M402.4 72.1h.6M399.1 66.8h.6M387.8 67.4h.6M388.3 66.9h.6M385.3 81.6h.6M383 71.5h.6M382.7 74h.6M385.6 71.6h.6M387.2 71.9h.6M393.1 79.3h.6M381.8 72.7h.6M393 72.2h.6M385 67.5h.6M388.5 73.9h.6M382 71h.6M384.9 73.3h.6M383.5 74h.6M386.7 73.3h.6M381.4 68.3h.6M383.3 74.6h.6M387 78h.6M386.6 67.7h.6M382 70.8h.6M384.9 65.2h.6M387.3 69.5h.6M385.4 71.3h.6M385.4 75.2h.6M382.1 74.2h.6M381.6 66.1h.6M384.5 72.9h.6M383.2 64.6h.6M384.3 76.8h.6M380.4 69.6h.6M387 74.1h.6M384.2 65.3h.6M385 76.5h.6M388.9 69h.6M386 74.8h.6M392.2 73.4h.6M386.7 78.9h.6M381.9 73.2h.6M385.1 66.7h.6M385.3 71.8h.6M385.4 68.4h.6M383.1 72.6h.6M384.5 69.4h.6M380.9 69.5h.6M381.9 71h.6M378.7 76.4h.6M385 66.6h.6M380.7 70.1h.6M387.7 64.2h.6M384.4 71.5h.6M387.5 73.3h.6M380.1 73.4h.6M384.6 72.6h.6M383.5 70.9h.6M385.5 74.6h.6M386.1 75h.6M387 66.6h.6M379.2 65.2h.6M386.6 68.3h.6M389.7 72.2h.6M382.6 73.6h.6M383.2 71h.6M383.4 70.9h.6M387.6 74.8h.6M383.3 71.6h.6M383.6 75h.6M381.7 65.9h.6M382.8 57.8h.6M386.6 65.1h.6M387.6 64.9h.6M388.3 69.3h.6M387.8 64.2h.6M381.9 72.9h.6M387.3 71h.6M386.7 69.3h.6M384.2 68.3h.6M383.7 67.4h.6M384.6 73.5h.6M379.8 78.6h.6M388.2 76.5h.6M383.8 78.7h.6M386 76.7h.6M392.7 77h.6M386.2 71.1h.6M384.3 76.2h.6M382 73.2h.6M384.9 71.6h.6M382.1 73.6h.6M388.6 73.5h.6M383.9 74.8h.6M382.6 72.1h.6M385 75.3h.6M383.9 78.3h.6M385.6 70.5h.6M380.6 77.2h.6M385.1 77h.6M385.2 74.4h.6M387.4 81.5h.6M382.9 71.4h.6M390.9 71.8h.6M383.2 71.3h.6M388.4 76.1h.6M389.6 77.6h.6M383.6 76.6h.6M386 68.5h.6M384.2 76h.6M387 72.4h.6M382.6 67.4h.6M381 72.4h.6M383.5 69.3h.6M384.2 70.3h.6M382.8 67.4h.6M387.3 72.3h.6M390.8 78.7h.6M385.8 73h.6M383.1 74.9h.6M380.8 68.1h.6M384.3 73.9h.6M384.9 72.7h.6M386.5 78.9h.6M384.9 66.9h.6M382 71.5h.6M382.7 71h.6M387.7 70.5h.6M390.6 71.2h.6M386.9 72.5h.6M380.9 72.2h.6M385.8 72h.6M380.4 65.6h.6M388 75.1h.6M378.7 76.2h.6M382.4 71.4h.6M381.6 71h.6M377.9 65.5h.6M385.1 77.7h.6M380 66.2h.6M383.3 69.7h.6M385.8 65.8h.6M388.2 69.3h.6M385.3 71.3h.6M385.8 66.6h.6M383.2 72.6h.6M383.9 68.6h.6M387.4 74.7h.6M382.6 79.3h.6M390.7 65.9h.6M382.7 72.8h.6M382.9 72.1h.6M384.4 69.6h.6M384.8 69.5h.6M384.8 68.2h.6M383.8 68.2h.6M381 66.8h.6M383.7 68.5h.6M389.8 75.2h.6M386.2 73.1h.6M388.5 69.1h.6M382.4 66.9h.6M385.1 69.4h.6M383.4 74.8h.6M384.9 77h.6M386.3 73.5h.6M383.1 65.6h.6M393.9 75.2h.6M382.6 73.3h.6M384.8 69.6h.6M380.7 70.9h.6M381.8 70.8h.6M384.6 67.3h.6M385.6 66.1h.6M385.7 66.8h.6M386.8 74.9h.6M385.3 68.6h.6M385.6 79.4h.6M384.4 76.6h.6M384.2 72.4h.6M383.7 75.5h.6M390.4 72.4h.6M389.3 73.9h.6M388.3 74.8h.6M383.2 73.5h.6M384.2 76.5h.6M380.4 74.8h.6M385.4 78.2h.6M388.5 67.8h.6M386.1 74.4h.6M383.2 68.3h.6M388 70.2h.6M384.5 73.2h.6M389.2 70.8h.6M382.2 66.8h.6M381.4 70.4h.6M385.2 66.7h.6M383.3 76.6h.6M382.3 70.9h.6M384.5 66.8h.6M384.2 69.4h.6M385.5 72.7h.6M389.7 73.7h.6M389.5 75h.6M383.1 80.4h.6M389.2 76h.6M382.8 80.4h.6M383.3 75.9h.6M386.6 72.4h.6M387 71.1h.6M388.9 68.7h.6M387.8 76.8h.6M391.9 65.6h.6M400.2 61.8h.6M358.8 44.5h.6M357.5 94.5h.6M377.9 83.4h.6M345.3 59.9h.6M357.1 54.4h.6M347 63.5h.6M394.7 56.5h.6M368.1 63h.6" stroke="#000" stroke-opacity="0.7" stroke-width=".6" fill="none"/><linearGradient id="og01" gradientUnits="userSpaceOnUse" x1="356.5" y1="85.8" x2="378.5" y2="65.8"><stop offset="0" stop-color="#000"/><stop offset="1" stop-color="#999"/></linearGradient><path d="M358.6 87.7 356.9 87.8 355.1 87.3 353.6 86.2 352.6 84.7 352.1 82.9 352.2 81.2 353 79.4 354.1 78 355.9 76.5 358.4 74.8 368.6 68.3 371.9 66.5 373.9 65.9 375.6 65.8 377.4 66.3 378.9 67.4 380 69.2 380.4 71.4 379.8 73.7 378.4 75.6 375.1 78.1 363.4 85.6 360.6 87.1 358.6 87.7ZM357.1 83.4 355.4 83.5 355 83.2 355 82.7 356.3 80.9 359.1 78.6 362.4 76.5 365.9 74.8 368.4 74.1 369.4 74 369.9 74.2 370 74.9 369.2 76.2 365.9 79 361.4 81.7 359.1 82.8 357.1 83.4Z" fill="none" stroke="url(#og01)" stroke-width="1.8"/><path d="M358.6 87.7 356.9 87.8 355.1 87.3 353.6 86.2 352.6 84.7 352.1 82.9 352.2 81.2 353 79.4 354.1 78 355.9 76.5 358.4 74.8 368.6 68.3 371.9 66.5 373.9 65.9 375.6 65.8 377.4 66.3 378.9 67.4 380 69.2 380.4 71.4 379.8 73.7 378.4 75.6 375.1 78.1 363.4 85.6 360.6 87.1 358.6 87.7ZM357.1 83.4 355.4 83.5 355 83.2 355 82.7 356.3 80.9 359.1 78.6 362.4 76.5 365.9 74.8 368.4 74.1 369.4 74 369.9 74.2 370 74.9 369.2 76.2 365.9 79 361.4 81.7 359.1 82.8 357.1 83.4Z" fill="#fff"/><path d="M358.9 85.7 357.4 85.8 356.1 85.5 355.1 84.9 354.3 83.7 354.1 82.4 354.3 81.2 354.9 79.9 356 78.7 360.9 75.3 369.4 69.9 372.1 68.4 373.6 67.9 375.1 67.8 376.4 68.1 377.6 68.9 378.3 70.4 378.4 71.9 377.8 73.4 376.5 74.9 373.6 77 363.1 83.7 360.6 85.1 358.9 85.7Z" fill="rgb(255,255,255)" stroke="#000" stroke-width=".45"/><path d="M359.1 81.9 357.6 82.1 357.3 81.7 358 80.4 360.1 78.7 362.6 77.1 364.9 76 366.9 75.5 367.7 75.7 367.7 76.2 367.2 76.9 364.9 78.9 361.9 80.8 359.1 81.9Z" fill="rgb(140,140,140)" stroke="#000" stroke-width=".45"/><path d="M360.1 80.7 359.6 80.6 359.6 80.2 361.2 78.7 363.9 77.2 364.9 76.9 365.4 77 365.5 77.2 365.2 77.7 363.8 78.9 361.6 80.2 360.1 80.7Z" fill="rgb(60,60,60)" stroke="#000" stroke-width=".45"/></g>
<rect x="340.60" y="33.80" width="70.90" height="70.70" fill="none" stroke="#a8a8a8" stroke-width="1.1"/>
<line x1="385.00" y1="34.30" x2="385.00" y2="104.50" stroke="#222" stroke-width="1.3" />
<line x1="385.00" y1="67.40" x2="411.60" y2="67.40" stroke="#222" stroke-width="1.3" />
<text x="398.00" y="41.80" font-size="6.5" text-anchor="middle" font-weight="bold" style="stroke-width:0">3.33</text>
<text x="397.70" y="99.80" font-size="6.5" text-anchor="middle" font-weight="bold" style="stroke-width:0">2.35</text>
<g clip-path="url(#cp02)"><clipPath id="cp02"><rect x="433.5" y="33.8" width="71.30" height="71.20"/></clipPath><path d="M449.3 95.8 448.6 95.6 448.3 94.3 447.3 93.6 445.7 93.4 444.7 92.8 443 93.4 442 93.2 441.5 92.6 441.4 92 442 90.2 441 90.9 439.4 91.6 439 92.7 438.3 92.7 438.1 92.3 438.3 91.8 439 91.3 439 91 437.6 86.6 437.7 84.3 436.7 83 436.7 82.3 437.8 81 437.4 80 437.5 79.3 438.5 78.3 439.9 76.3 440.2 74 442.1 72.3 441.7 71.3 441.8 70.6 442.7 70.4 443.9 71.3 445.3 71.9 446.3 71 446.3 70.3 446 70 444.7 70.4 443.7 70 443.4 69 443.7 67.9 444.3 67.3 445 67.2 446.3 67.5 447.7 67.3 448.7 67.8 448.8 66 450.3 65 450.8 64.3 450.8 63.6 450 63.1 449.8 62.6 450.3 62.1 450.8 62.3 451.3 63.1 451.7 63.2 456 62.9 456.5 62.6 455.8 61.6 456 60.8 458 60.7 459.7 59.6 460.3 59.8 462 61.3 462.5 60.6 461.8 58 462 57.1 462.7 57.2 463.7 58.6 466.3 59.6 467.8 59.6 468.6 59.3 468.8 58.3 468.1 57 468 56.3 468.3 55.8 470.7 54.8 471 54.3 470.9 53.6 469.9 52.3 469.5 50.6 468.3 49.3 468.1 47.3 468.2 46.3 468.7 45.7 470 45.1 470.4 44.6 470.2 43 470.7 42.1 471.3 41.9 472.7 42.2 474 41.3 475.3 41.2 476 39.9 477.3 39 477.5 38 477 37 476.9 36.3 477.3 35.6 478 35.1 479 34.9 479.7 35.2 480.3 36 480.5 37 481 37.3 481.8 37 482.3 35.5 483.7 35.3 484.7 34 485.7 33.8 487.7 34 488.2 35.6 489.3 36.9 492 36.7 493.7 36.2 495 36.4 496.3 36 497.3 36.4 497.8 37 498.3 38.6 499.8 39.3 499.9 40 499.3 40.7 499.3 41.3 500.7 42 502.3 43.8 502.8 44.6 503 45.9 504.3 46.7 504.4 47 504.6 67.6 504.2 72.6 504.4 75.6 503.8 76.6 504 78.3 503.6 79.3 502.7 80.1 501.3 80.4 500.9 81.3 501.3 81.9 502.7 82.2 502.8 83 502.3 83.3 500.3 83.7 498.3 83 496.7 84.2 496 84.3 495.4 84 495 82.9 494.7 82.9 492.3 85.4 490.3 85.7 488.3 84.9 486.7 84.9 485.6 85.3 484.5 86.6 484 86.9 483.5 86.6 482.7 85.6 480 85.3 478 84.4 475 84.4 473.2 83.3 472.3 83.2 471.3 84 470.5 86 471 88.3 470.7 89.1 470 89.1 469 88.2 467 88.1 465 87.1 464 88.6 462.3 89 459.9 90.6 459 92.3 458.3 92.9 457.7 92.9 456.7 92.4 453.3 94.6 451.7 95.3 450.3 95.1 449.3 95.8ZM472 40.1 471.3 40.1 471 39.6 471 37.6 471.3 36.6 470.8 35.3 471.3 34.7 472.1 35.3 471.7 36.3 472.5 37.6 472.3 39.6 472 40.1ZM474 36 473.4 35.6 473.3 35.3 473.4 35 474 34.7 474.5 35.3 474.3 35.8 474 36ZM467.7 38.1 467 38.1 466.8 37.6 467 37.2 467.7 37.3 467.7 38.1ZM474.7 38.4 474.3 38.5 473.8 38.3 473.6 38 474 37.3 474.3 37.3 474.8 37.6 474.7 38.4ZM466.7 40.7 465.9 40.6 466 39.9 466.7 39.8 466.9 40.3 466.7 40.7ZM480.1 41.3 480.2 40.6 479.7 39.9 478.7 39.9 478.1 40.3 478.3 41 478.7 41.3 480.1 41.3ZM455.7 45 454.9 45 455 44.2 455.7 44.3 455.7 45ZM466 49 465.3 49 465.3 48.2 466.1 48.3 466.2 48.6 466 49ZM462 49.7 461.3 49.6 461.3 48.9 462.1 49 462.2 49.3 462 49.7ZM467 55.6 466 55.5 465.4 55 464.7 52.6 463.6 52 463.7 51.2 464.3 51.2 465 52.3 466.7 52.8 467.7 53.6 467.9 54.3 467.9 55 467.7 55.4 467 55.6ZM450 55 449.3 55 449.3 54.2 450.1 54.3 450 55ZM458.3 55.8 457.6 55.6 457.7 54.9 458 54.8 458.5 55 458.7 55.3 458.3 55.8ZM461 55.8 460.7 55.9 460.1 55.6 460 55.3 460.1 55 460.7 54.8 461 54.9 461.2 55.3 461 55.8ZM446.7 56 445.9 56 446 55.2 446.7 55.3 446.7 56ZM448.7 59 447.9 59 448 58.2 448.7 58.3 448.7 59ZM439.3 59.5 439 59.6 438.6 59.3 438.7 58.6 439.4 58.6 439.5 59 439.3 59.5ZM439.7 62 438.9 62 438.8 61.6 439 61.1 439.3 61 439.8 61.3 439.7 62ZM451.7 84.6 455.4 83.3 460.7 79.7 465.7 77.3 470 74.3 470.3 73.6 470.6 71.3 470.3 70.5 469.7 69.6 468.7 69 467.5 68.6 466.1 68.6 465 68.9 463.7 69.8 460.7 71 455.3 74.5 453 75.6 449.1 78 447.1 80.6 446.9 81.6 447.3 83 447.9 84 448.8 84.6 450.3 84.9 451.7 84.6ZM438.3 72.7 437.3 72.7 437.2 72 439.3 71.1 440.2 71.3 440.3 71.6 440 72.2 438.3 72.7ZM487.2 78.6 487.4 78.3 487.3 77.5 487 77 486.3 76.6 478 75.5 474.3 75.4 473.5 75.6 473.4 76 473.9 76.6 475.4 77.3 485.3 78.8 487.2 78.6ZM498.1 81.3 498.2 81 498 80.6 497.1 81.3 497.7 81.6 498.1 81.3ZM491.3 88.7 490.6 88.6 490.7 87.9 491.4 88 491.3 88.7ZM502.7 90 501.9 90 502 89.2 502.7 89.3 502.7 90ZM496 90.7 495.3 90.6 495.3 89.9 496.1 90 496 90.7ZM444.3 96.4 443.6 96.3 443.7 95.6 444.4 95.6 444.3 96.4ZM458.7 97.4 457.9 97.3 458 96.6 458.7 96.6 458.7 97.4ZM478 102.4 477.3 102.3 477.3 101.6 478.1 101.6 478 102.4Z" fill="rgb(245,245,245)"/><path d="M453.7 93.3 452.7 93.6 451.9 93.3 450.3 93.4 449 93.1 448.4 92.6 448.8 91.6 448.3 91.3 447.7 92.1 446.7 92.5 446 92.4 444.7 91.6 443.3 92.4 442.7 92.5 442.3 92 443.3 90.6 443 89.6 441.7 89 440.3 90.2 439.7 90 439.4 89.6 438.8 88 438.6 85 438 83 438.9 81.3 439.2 79 440.8 76.6 440.6 75 441 74 442 73.5 443.7 73.2 446 72.3 447.6 70 449 69.3 449.7 68.2 450.6 67.3 450.8 66 452 64.7 454.7 63.9 457.8 64 458.1 63.6 458.1 62 459 61.3 459.7 61.1 460.3 61.2 460.9 62 460.9 63 461.3 63.2 463.3 61.5 464.7 61.5 465.2 60.6 465.7 60.4 467.7 60.6 468.7 61.1 469.2 61 469.7 59.3 469.9 57.3 470.5 56.3 472 54.6 471.7 53.3 470.7 52.2 470.4 51.6 470.8 49.3 471.7 48.6 472.2 48.6 473 49.4 473.5 49.3 473.8 49 473.6 48.6 472.3 48 471.8 46.3 473.7 44.6 473.7 43.2 474.3 42.6 476.3 42.5 477.3 41.8 479.7 42.3 480.6 42 481.1 41.3 480.4 39.3 480.7 38.5 482.7 38 483.3 38.3 484 39.2 485.6 38 484.8 36 484.9 35.3 485.3 34.8 486 34.5 486.7 34.7 487.3 36 489 37.9 490.7 37.6 493 37.8 493.2 38 493.2 39 493.7 39.3 496.7 38.6 497.3 39 498 40 498.2 42 500.3 42.6 501.8 44.3 502 45 502 46.3 503.3 47.3 503.7 48.6 504.3 49.8 504.5 56 504.3 57.1 503.9 58 504.3 59.2 504.5 60.6 504.5 68.3 504.3 70.5 503.5 72.3 503.3 74.6 502.3 76.3 503.3 77.6 503.4 78.3 503 79.2 502.3 79.6 501.7 79.6 500 79 498.7 78.1 498 78.2 497 80 495.3 81.3 494 81.4 493.3 82.9 492.2 83.6 491.4 84.6 490.7 84.9 489 84.3 488 84.2 486.3 84.5 484.3 85.2 481.7 84.9 479.3 84 475.3 83.9 473 82.6 472 82.5 470.6 83.6 470.2 85 469.3 86.1 467.3 87.1 466.7 87 465.3 86.2 464.7 86.1 463.7 87.3 462.3 88.1 460.7 89.5 459.7 89.7 458 89.2 457.3 90.3 456 91 455.3 92.5 453.7 93.3ZM479 36.4 478.7 36.5 478.4 36.3 478.7 36.1 479 36.4ZM473.1 59.3 473.3 58.6 473 58 472.3 58.3 471.7 59 472.3 59.4 473.1 59.3ZM445 69.3 444.5 69.3 444.2 69 444.3 68.3 444.7 68.1 445.3 68.3 445.4 68.6 445 69.3ZM450.4 85.3 452.7 84.8 455.8 83.6 460.7 80.2 466 77.6 469 75.4 470.4 74.6 470.7 74.3 471 71.3 470.7 70.3 470 69.4 469 68.6 467.8 68.3 465.3 68.3 463.3 69.5 460.9 70.3 455.3 74.1 448.9 77.6 446.7 80.3 446.5 81.3 446.6 82.3 447 83.5 448 84.7 449 85.2 450.4 85.3ZM487.6 79 487.9 78.3 487.8 77.6 487.3 76.7 486.7 76.2 478 75.1 474.3 75 473 75.3 472.9 75.6 473.3 76.7 475 77.6 483.3 78.8 485 79.2 487 79.2 487.6 79Z" fill="rgb(232,232,232)"/><path d="M451 92.3 450.2 92.3 450.1 91 449.3 90.6 448 90.4 447 91.5 446.3 91.7 444.4 90.3 443.7 89.3 441.7 88.2 441 88.3 440.3 89.1 440 89 439.7 88.6 439.4 87.3 439.7 85.6 439 84.2 438.9 83.3 440 80.6 440.2 79 441.7 76.6 441.7 76 441.4 75 441.7 74.4 442.3 74.1 444.3 74 446.3 72.5 448 70.6 449.3 70.1 450.3 68.4 451 68.2 452 68.5 452.3 68.4 453.1 67.3 454.8 66.6 455.1 65 455.7 64.6 457.3 64.9 458.7 64.4 461.2 64 462 63.6 463.3 62.5 465.1 62.6 466.3 61.4 468 62 470 62 470.3 61.6 470.4 60.6 470.7 60.3 471.3 60.1 472.4 60.6 472.4 62.3 473.2 63.3 473.8 63.3 474.1 62.6 473.9 61.3 475.1 59.6 474.4 58.6 474.2 57.3 474 57 473.3 56.8 471.7 57.5 471.3 57.3 471.7 56.3 472.7 55.5 473.3 55.5 474.7 56.2 475.1 55.6 474.7 54.6 472.9 53.6 472.5 52.3 471.6 51.6 471.5 51.3 471.7 51 473.3 50.4 475 49.3 474.6 48.3 473.1 47.3 473.1 46.3 473.7 45.6 474.3 45.5 474.9 46 475.4 47 476 47.4 476.3 47.1 476.6 45.6 477 45.1 478 44.8 479.3 45.3 479.7 45.1 480.5 44 480.7 43 481.7 42 481.5 40 481.7 39.5 482.3 39.5 483.7 40.3 484.6 42 485.3 42.4 485.9 42.3 485.6 41.3 485.8 40 487.3 39.4 488.3 39.9 489 40.6 488.9 42.6 489.3 42.9 490.5 42.6 491.8 40.6 492.7 40.3 493.4 40.6 494.7 41.8 496.7 41.7 498 42.9 499.5 43 500.2 43.3 501 44.6 500.9 46.3 502.8 48 503.6 49.6 503.8 51.3 504.3 51.9 504.4 52.3 504.3 56.1 503.4 57.3 503.3 58 504.3 60.3 504.3 62.6 503.9 64 504 65.6 504.4 66.6 504.4 68.6 503.6 71 502.8 72.3 502.4 74.3 501.1 76.6 501.3 77.3 502.3 77.4 502.7 77.7 502.7 78.7 502.3 79 501.7 79 500.7 77.8 498 77.5 497.2 78 496.7 79.1 495.7 79.4 495.2 78.3 494.8 78 494.3 77.9 492.3 80.3 492.7 82 492.3 82.5 490.3 83.6 487 84 484.3 84.7 481.3 84.4 480 83.3 475.3 83.4 473 82.1 472 81.9 470.7 82.6 469.4 83 469.7 84.6 469 85.4 467 86.2 465 85.3 464.3 85.4 463.3 86.6 462 87.5 460.7 89 459.7 89.1 458.3 88.5 457.7 88.5 456.7 89.8 453.8 90.3 451 92.3ZM496.7 41.5 495.9 40.3 496.3 39.7 497 39.9 497.3 40.3 497.2 41 496.7 41.5ZM478.3 43.7 478 43.3 478.3 43 478.8 43.3 478.3 43.7ZM482.7 44.3 482.3 44.3 482.7 44.3ZM498.1 46.6 498.9 46 499 45.3 498.3 44.6 497.7 44.3 496.7 45 496.4 46 497.2 46.6 498.1 46.6ZM452 85.3 456 83.9 460.7 80.5 466 78 469.3 75.4 471.2 74.6 471 73 471.2 71 470 69 469 68.3 467.3 67.9 465 68.1 463.3 69.2 460.7 70.1 454.7 74.2 449.8 76.6 448.5 77.6 447 79.3 446.3 80.4 446.2 81.6 446.5 83.3 447.5 84.6 448.7 85.5 450.3 85.6 452 85.3ZM487.7 79.3 488.1 78.6 488.1 77.6 487.7 76.6 487 76 481.3 75.4 478.7 74.8 474.3 74.7 472.8 75 472.4 75.3 473.2 77 475 77.9 483 79 485 79.5 487 79.5 487.7 79.3Z" fill="rgb(215,215,215)"/><path d="M487.7 42 486.7 41.3 487 40.6 487.7 40.6 488.2 41 488.2 41.6 487.7 42ZM446.7 90.7 446.3 90.8 445.7 90.3 445.1 89 443 88.5 441 87.2 440.6 86.6 440.6 85.3 440 83.3 440.9 80.6 441.2 78.6 442.4 76.6 442.6 75 444.7 74.6 445.4 73.6 448 71.6 450 70.6 450.7 69.1 452.3 69.6 452.9 69.3 453.7 67.9 454.3 67.7 455.3 68.1 455.6 68 456.3 66.3 457.3 66 458.7 65 462 64.3 463.7 63.5 466.7 62.6 471.3 62.7 472 63.1 473 64.1 473.7 64.2 474.1 64 474.6 63.3 474.9 61.3 476 60.3 476.6 59 476.4 58 476.6 57 475.7 55 474.7 53.6 474.6 53 475.3 51.7 476.1 49.6 478 48.5 478.3 48 478.3 47.6 477.3 46.9 477.5 46 478 45.8 479 46.7 480.2 46.3 481 45.5 483.7 45.5 484.1 45.3 484.6 44 485 43.6 489 43.6 490.7 43.4 491.6 43 492.3 41.9 492.8 41.6 493.7 42.4 496 42.6 496.8 43.3 496.5 44.3 494.7 46.2 494.7 47.3 496 47 497.7 47.4 499.7 46.6 502.3 48.3 503.1 50 503.1 50.6 502.5 51.6 503.3 52.1 503.6 52.6 503.5 54 503.8 55.6 502.6 58 504.1 61.3 503.5 63.3 503.5 66 504.3 67.3 504.3 67.9 503.6 69 503.1 71 501.5 72.6 501.2 75 499.8 76.6 497.7 76.9 496.3 76.4 495.3 76.9 494 77.2 491.7 80.3 491.2 82 490.4 82.6 489 83.2 484.7 84.2 482 84.2 481.3 83.9 480.5 83 480 82.7 477.3 83.1 475.7 83 472.7 81.4 471.7 81.4 470.3 82 469 82.2 466.7 84.7 465 84.5 464 84.7 462.7 86.1 461.7 86.4 461 88 460.3 88.5 459.7 88.5 457.7 87.9 456 89.5 453.9 89.6 452 90.4 449 90.1 447.3 89.6 447 89.8 446.7 90.7ZM500.1 49.6 500.3 49 500 48.7 499.4 49.3 499.7 49.8 500 49.8 500.1 49.6ZM479.6 66.6 479.8 66.3 479.7 66 477.7 65.1 477.3 65 476.7 65.5 476.7 65.7 477 65.8 478 65.7 479 66.7 479.6 66.6ZM451.8 85.6 456 84.2 460.7 80.8 466.3 78.1 469.3 75.7 470.7 75.2 471.7 75.3 473 77.1 475 78.2 482.7 79.2 485 79.7 487.7 79.7 488.3 78.9 488.4 77.6 487.7 76.1 487 75.6 481.3 75.1 479 74.6 472 74.6 471.4 74 471.2 73.3 471.4 70.6 470 68.6 469 68.1 467.3 67.7 465.3 67.7 463 69.1 460.3 69.9 454.7 73.9 449.7 76.4 448.3 77.4 446.6 79.3 446.1 80.3 445.9 81.6 446.2 83.3 447 84.6 448 85.5 448.7 85.8 451.8 85.6Z" fill="rgb(197,197,197)"/><path d="M495.3 44.1 494.8 44 494.9 43.6 495.3 43.3 495.7 43.6 495.3 44.1ZM452.3 89.7 448.7 89.6 446.3 88.1 443.3 88.2 442.4 87.6 441.5 86.6 440.9 82.6 441.8 78.6 443.1 77 443.5 76 444.9 75.3 445.7 74 447.3 72.7 451 70.8 453.3 70 454.3 69.1 456 68.6 457 67.4 457.8 67 458.3 66 459 65.4 462.7 64.9 466 63.3 469 63.1 471 63.4 471.7 63.6 473 64.9 473.7 65.1 475.3 64.2 475.7 66 476.3 66.7 477.7 66.8 479 67.8 480 67.3 480.7 66.6 480.7 65.6 478.7 64.6 478.3 64 478.2 62.3 476.7 61.2 476.7 60.6 477.4 59.3 477.6 58 478.4 56.6 478.3 56.3 476.7 55.3 475.8 53 476.7 50 477.3 49.7 478.7 49.6 479.3 49.3 479.4 48 480 47.3 481 47.1 483 47.5 483.8 46.6 485 46 485.2 44.6 485.7 44.3 489.7 44.3 490.3 44.6 490.3 45 489.3 46 489.7 46.1 490.2 46 492 45.1 493 45.4 493.5 46 493.7 47.3 494.1 48 496 48 497.7 48.8 500 52 500.7 52.3 502.3 52.5 502.9 53 503.3 55.6 501.7 58 503 59.7 503.5 61 503 66.3 503.5 67.3 503.5 68 502.8 70.6 500.8 72.3 500.7 74.3 500 75.2 498.3 76 497.7 75.9 497.3 75 497.9 73 497.7 72.5 496 73.4 492.3 72.3 491.7 72.6 491.7 73.3 492.7 73.9 494 74.1 494.6 75 494.6 75.6 493.3 76.6 492.5 78.6 491.2 80.3 490.5 81.6 489.3 82.5 486 83.5 482.3 83.8 481.7 83.6 480.3 82.4 476.3 82.7 474.7 82.2 473 81.1 471.3 80.9 470 81.4 468.7 81.6 467.3 82.9 465.7 83.7 464 84 462.3 85.3 461 85.5 460.6 86 460.5 87.3 460 87.9 457.7 87.5 457 87.8 455.9 89 453.7 89.2 452.3 89.7ZM502.3 50.3 501.7 50.6 501.1 50.3 501 49.6 501.3 48.9 501.7 48.8 502.3 49.3 502.5 50 502.3 50.3ZM475.7 64.2 475.7 63 476 62.9 476.1 63.6 475.7 64.2ZM482.5 64.6 482.3 64.1 482 64 481.6 64.6 482 64.9 482.5 64.6ZM451.6 86 456 84.6 461 80.8 466.3 78.5 469 76.2 470.3 75.5 471 75.4 471.7 75.7 472.9 77.3 474.7 78.4 483 79.5 484.7 80 487.3 80.1 488 80 488.6 79 488.7 78 487.9 76 487.3 75.3 483.3 75.1 479 74.3 472.3 74.4 471.8 74 471.5 73.3 471.7 70.6 470.3 68.6 469.3 67.9 467.3 67.4 465 67.5 463 68.8 460.3 69.6 454.6 73.6 449.7 76.1 448.1 77.3 446.3 79.3 445.7 80.6 445.6 82 445.9 83.3 446.6 84.6 448.3 86.2 451.6 86ZM484.1 69.3 483.7 68.9 483.2 69 483.1 69.3 483.7 69.6 484.1 69.3Z" fill="rgb(176,176,176)"/><path d="M453 89 452 89.3 449 89.2 448.3 88.9 447.3 87.8 445 87.4 443.3 87.6 442.3 86.6 442.1 85.6 442.8 84.3 442 83.8 441.8 83 442.2 81.6 442.3 79 444.1 76.6 445.4 75.6 446.3 74 447.3 73.4 449 73 451.1 71.3 453.3 70.6 455 69.5 456 69.1 457 68.2 458.5 67.3 458.9 66.3 459.3 65.9 463 65.5 465 64.2 466.3 63.7 469.3 63.7 471.3 64.1 473.3 65.8 475 66.3 476.3 67.6 477.3 67.7 477.7 68 478 69 478.3 69.2 479.3 69.2 480.3 68.1 481.3 67.7 482 70 482.7 70.5 484.7 71.5 485 71.2 485.1 70.6 485.1 69 484.9 68.3 483.7 67.6 481.7 67.8 481.4 67.6 481.7 66.1 483.2 65 483 63.8 482.3 63.2 481.7 63.2 481.1 63.6 480.5 64.6 479.8 64.6 479.3 64 479.2 62.3 477.9 60.6 478.6 59.6 478.5 58 479.6 56 479.3 55.4 478 55.2 477.4 54.6 477.1 52.6 477.3 51.9 478.3 51.7 479.7 50.8 481.3 50.5 482.7 51.1 483.3 51 483.7 50.6 483.7 49.3 484 48.9 484.7 48.8 486.3 48.9 487.7 47.7 490.3 47.6 492.7 47.7 494 48.6 495.7 48.7 497.8 50.3 499.7 52.5 502 53.4 502.6 55.6 502.2 56.3 501.2 57 500.9 58 501.3 59 502.7 60.3 502.9 61.3 502.6 63.3 502.8 65 502.1 66.6 502.7 68 502.2 70.3 499.7 72 497.3 71.4 496.7 71.5 495.7 72.2 492.7 71.7 491.3 71.9 490.5 72.3 490.3 72.6 490.5 73.3 492 75 492.3 77.6 492 78.6 489.7 81.5 486.3 83.1 485 83.2 483.7 82.8 482.3 83.2 480.3 81.9 476.7 82.3 474.9 81.6 473.3 80.7 471 80.4 469.7 80.9 468.3 81 467.1 82.3 463.7 83.5 462.3 84.5 460.7 85.1 460.2 85.6 459.7 87.1 459 87.3 457.3 87.1 455.7 88.5 453 89ZM482 49.6 481.7 49.5 481.5 48.6 482.2 49 482 49.6ZM448.8 86.6 453 86 456 85 458.7 82.7 461 81.1 466.3 78.8 469.3 76.3 470.3 75.8 471.5 76 472.7 77.5 474.7 78.8 482.7 79.7 484.7 80.2 488 80.5 488.8 79.3 489 78 488 75.2 487.7 74.9 483.7 74.9 481.3 74.6 479.3 74.1 472.3 74 471.9 73.6 471.7 73 472 71.3 471.8 70.3 470.3 68.2 469.3 67.6 467 67.1 465 67.1 462.7 68.7 460.3 69.2 459 70.3 454.1 73.6 450 75.5 448 77 446.1 79 445.7 79.7 445.3 81.3 445.5 83.6 447.7 86.5 448 86.7 448.8 86.6ZM477 70.3 477.3 70 477.2 69.6 476.7 69.5 476.5 70 477 70.3ZM499 75 498.3 74.9 498.1 74.3 498.5 73.3 499.3 72.5 500 73.2 500.1 74 499.8 74.6 499 75Z" fill="rgb(154,154,154)"/><path d="M495.3 71 491.3 71.2 489.3 70.9 488.8 70.6 488.4 70 488.9 68.6 488.8 68.3 488 68 486.7 68.1 486 67.9 483.5 66.3 483.8 64.6 483.3 63.4 482.7 62.4 481.7 61.6 481.3 60 479.7 59 479.2 58.3 479.6 57.3 480.7 56.7 482 58.3 482.9 58 483.8 55.3 483.7 54 485 52.9 486 51.1 487.3 50.5 488.7 49.2 490.3 49.3 492 49 495.3 49.2 497 50.6 497.1 51.3 496.8 52 497 52.4 499 52.9 500 53.6 500.4 54.3 500.4 55 500 55.6 500.1 58.3 501.9 61.6 501.8 63 502.3 65 502 65.5 500.2 67.3 498.7 67.4 497.7 68 496.7 69.7 495.3 71ZM481 55.4 480 54.1 478.7 53.7 478.6 53.3 480 51.9 481.3 51.6 483.3 52.5 484 53.6 483.7 53.9 482 54.3 481 55.4ZM444.3 83.1 443.6 82.6 442.9 79.6 444.7 77.1 445.9 76 446.7 74.5 447.7 74.1 450 74.1 450.7 72.3 451.4 71.6 454 70.8 455 70.1 456.3 69.5 457.7 68.3 459 67.8 460 66.6 464 66 465 64.9 466 64.4 469.3 64.2 471.3 64.7 473.1 66.3 475.1 67.3 475.7 68.3 475.8 70.3 476.7 70.9 480 71 481 70.8 484.7 72.8 485.3 72.8 486.3 72.1 487 72.1 488.1 72.6 488.5 73.3 488.4 74 486.3 74.6 483.3 74.6 481.3 74.3 479.3 73.7 476.3 74 472.7 73.9 472.3 73.6 472 73 472.3 71 472.2 70.3 470.3 67.8 469.7 67.4 467 66.7 464.7 66.5 464.3 66.6 462.7 68.3 460 68.8 458.9 70 453.7 73.6 450 74.7 445.5 79 444.8 81.3 444.6 82.6 444.3 83.1ZM493.1 68.6 493.3 68.3 492.7 67.8 492 67.6 491.6 68 491.7 68.6 492 68.8 493.1 68.6ZM486.3 70 486.1 69.6 486.3 69.2 486.6 69.6 486.3 70ZM489.7 80.4 489.2 80.3 489.4 78.3 488.6 75.6 488.7 74.4 489 74 490 74.1 490.8 74.6 491.2 75.3 491.7 77.3 491.5 78.6 489.7 80.4ZM452.3 88.6 449.2 88.6 448.7 88.3 448.6 87.6 449.4 87 453.3 86.6 456 85.7 459 82.8 461.3 81.3 464 80.5 466.7 79.2 468.9 77 470 76.2 470.7 76 471.3 76.2 472.4 77.6 473.7 78.6 474.5 79.6 474.2 80 473.7 80.1 471.3 79.8 469.7 80.4 467.7 80.4 466.7 81 465.3 81.4 464.5 82.3 463 83 460.7 84.6 459.8 85.3 459 86.5 456.7 86.5 455.3 87.9 453.7 88 452.3 88.6ZM486.3 82.7 485.3 82.8 483.7 82.2 482 82.4 480.3 81.4 477 81.7 476.1 81.3 474.8 80 475.7 79.4 476.7 79.3 480.7 79.9 482.7 80 484.7 80.6 486.7 80.6 487.4 81 487.6 81.6 487.1 82.3 486.3 82.7ZM446.3 86.7 444.7 86.3 443.4 86.6 443.1 86 445 84.7 446.3 86 446.5 86.3 446.3 86.7Z" fill="rgb(128,128,128)"/><path d="M495.7 67.6 494 67.4 489.7 66 489 66.1 487.3 67.2 486 67 485.2 66.3 485 65 482.6 60.6 482.9 59.3 483.9 58 484.7 54.6 486 53.1 487 52.8 488 53.3 489.7 51.2 490.3 51.1 491.7 51.5 492 51.4 492.8 50.3 494.3 49.8 495 49.9 495.4 50.3 495.5 50.6 494.9 52 494.9 53 497 54 497.6 55 498.7 55.8 499.1 57 498.3 58.6 498.7 59.2 499.7 59.8 500 60.3 499.8 61 499.3 61.3 498 62.1 497 62.3 496.8 62.6 497.5 63.6 497.5 64.3 496.8 65.6 496.6 67.3 495.7 67.6ZM494.3 56 494.7 55.3 494.3 54.1 493.7 54.2 492.9 54.6 492.7 55.3 493 56 493.7 56.2 494.3 56ZM496.6 59 496.7 58.5 496.3 58.4 496.1 59 496.3 59.2 496.6 59ZM490 63.3 490 62.6 489.7 62 489.3 61.6 488.7 61.5 488.3 62 487.9 63.3 489.3 63.6 490 63.3ZM486.1 65 486.7 64.5 487.2 63.6 486.3 63.9 485.5 65 486.1 65ZM501 65.1 500.5 65 500.3 64.6 500.6 64 501 64.1 501.3 64.5 501.3 64.8 501 65.1ZM476.7 73.6 473.3 73.6 472.7 73.4 472.3 72.6 472.6 70.3 471.1 68 470 66.9 468 66.6 467.3 66.3 466.7 65.6 467 65.3 469 64.8 471 65.3 472.7 67 474.7 67.8 475.1 68.6 475.3 70.3 475.7 71 479.8 72.6 479.3 73 476.7 73.6ZM462 68 461 68 460.8 67.6 461.7 67.1 462.7 67.2 462.6 67.6 462 68ZM458.3 69.7 457.7 69.9 457.4 69.6 457.8 69 458.3 68.8 458.7 69 458.7 69.3 458.3 69.7ZM452 73.6 451.3 73.2 451.3 72.6 451.7 72.1 454.3 71.5 455.7 70.5 456.5 70.6 456.1 71.3 453.8 73 452 73.6ZM483.7 74 481.1 73.6 480.3 73 480.3 72.6 481.3 72.3 482.3 72.4 484.1 73.6 484 74 483.7 74ZM486.7 73.6 486.7 73.4 486.7 73.6ZM490.7 78.4 490.3 78.5 490 78.2 489.2 76.3 489.2 75.3 489.7 75 490.4 75.3 490.9 76.6 491 77.6 490.7 78.4ZM447.7 75.7 447.5 75.6 447.7 75.7ZM470 79.7 468.7 79.7 468.1 79.3 468 79 469 77.3 469.8 76.6 470.7 76.4 471.3 76.7 473 79 472.7 79.3 471.3 79.3 470 79.7ZM444 80.3 444 79.9 444.3 80 444 80.3ZM477.7 81 476.8 80.6 476.7 80.2 477.7 80 479.3 80.3 479.3 80.6 477.7 81ZM482.7 81.7 481.7 81.3 481.5 80.6 482.7 80.4 483.7 81 483.7 81.3 482.7 81.7ZM486.3 82.1 485.3 82.2 484.7 81.6 484.8 81.3 485.6 81 486.3 81 486.8 81.3 486.8 81.6 486.3 82.1ZM458.3 85.6 457.8 85.3 457.8 85 459 83.3 461.7 81.7 462.8 81.6 462.9 82 462.6 82.3 458.3 85.6Z" fill="rgb(101,101,101)"/><path d="M461.9 67h.6M448.1 75.9h.6M467 64.6h.6M457.2 85.6h.6M445.9 76.9h.6M455.7 71.4h.6M447.8 76.1h.6M470.5 77.1h.6M455.8 71.3h.6M454.8 87.3h.6M457.4 84.2h.6M466.2 67h.6M464.9 64.6h.6M469.2 66.9h.6M471.4 79h.6M455.7 70.8h.6M471.8 80.8h.6M467.5 78.4h.6M465.5 80.5h.6M447.5 76.8h.6M472 65.7h.6M460.3 66.1h.6M469 67h.6M456.9 86h.6M469.9 66h.6M452.3 72.9h.6M468.5 64.8h.6M453.7 72.5h.6M444.2 78.4h.6M459.1 84.1h.6M472.6 68.5h.6M473.8 71.6h.6M475.2 66h.6M470.2 64.1h.6M450.9 87.1h.6M448.3 75.6h.6M463.6 81.2h.6M449.6 88.1h.6M449.6 87.2h.6M454.3 92.2h.6M470.5 67.6h.6M458.9 66.3h.6M471.4 76.2h.6M448.1 92.8h.6M469.2 64.9h.6M482.2 63.3h.6M467.9 80.8h.6M461.9 66.2h.6M446.4 89.4h.6M442.2 81.8h.6M449.4 72.4h.6M443.7 87.1h.6M464.5 66.6h.6M471.6 63.1h.6M466.2 80.7h.6M466.9 80.1h.6M468.4 63.9h.6M467.5 81.4h.6M442.9 85.8h.6M465.2 66.9h.6M444.7 75.5h.6M456.4 87.3h.6M449.8 72.8h.6M450.2 73.1h.6M464.3 83.9h.6M469.5 67h.6M476.1 62.6h.6M469 63.5h.6M466.2 66.8h.6M448.2 74.1h.6M442.1 82h.6M453.1 72.9h.6M454.8 72.2h.6M460.9 68.6h.6M449.3 90.7h.6M482 70.7h.6M458.4 85.1h.6M441.8 84.9h.6M464.7 59.5h.6M464.8 83h.6M474.6 71.8h.6M477.9 66.1h.6M477.2 73h.6M460.5 84h.6M464.2 82.8h.6M459.3 83.8h.6M455.6 70h.6M474.8 71.6h.6M462.7 84.8h.6M469.3 78.5h.6M472.3 66h.6M467.8 65.4h.6M466.5 80.3h.6M454.3 88.2h.6M444.5 86.8h.6M465.8 81.7h.6M463.9 66.6h.6M444.3 88.1h.6M468.2 79.9h.6M447.5 86.2h.6M451.9 73h.6M471.4 60.9h.6M467.5 82.4h.6M469.8 78.8h.6M441.5 75.6h.6M470.2 67.3h.6M452.3 86.8h.6M450.1 72h.6M454.3 71.2h.6M463.8 62.3h.6M449.9 72h.6M451.7 72.2h.6M477.1 68.7h.6M445.4 86.9h.6M443.1 88.2h.6M456.8 71.4h.6M444.6 85.3h.6M441.7 86.4h.6M445 89.6h.6M473.4 69.4h.6M444.6 81.2h.6M470.3 79.6h.6M459.9 83.5h.6M458.4 69.6h.6M455 86.8h.6M447.1 74.6h.6M455 87.8h.6M445.7 74.9h.6M471.5 68.4h.6M467.5 65h.6M449.3 88.1h.6M465.7 65h.6M474.7 70.8h.6M459.3 87.4h.6M443.4 83.4h.6M450.2 75.5h.6M453.8 73.1h.6M455.3 72h.6M441.3 74.9h.6M468.9 67h.6M459.6 67.1h.6M451.8 71.6h.6M462.6 81.2h.6M456.5 67h.6M440.9 83.1h.6M437.4 82.7h.6M469.5 66.1h.6M472.6 73.1h.6M466.3 63.8h.6M468.3 84.1h.6M478.9 63.6h.6M471.1 67.3h.6M470.8 63.2h.6M446.6 86.4h.6M470.2 76.9h.6M458.9 69h.6M454.8 88.3h.6M471.3 82.9h.6M467.9 65.9h.6M441 87.8h.6M462.5 67.2h.6M457.6 86.1h.6M444 80.9h.6M441.7 85h.6M459.5 66.5h.6M440.3 82.5h.6M459.4 66.7h.6M449.1 75.9h.6M463.5 63.1h.6M473.3 67.8h.6M474.3 69.6h.6M441.8 82.6h.6M443.2 75.2h.6M461.3 81.9h.6M462 84.3h.6M453.4 72.7h.6M469.1 85.4h.6M462.4 68.3h.6M448.3 71.1h.6M474.3 68.4h.6M474.2 70.1h.6M444 83.5h.6M465.6 66.1h.6M461.2 82.1h.6M463.1 81h.6M454.2 85.9h.6M466.1 83.4h.6M453.4 64.5h.6M474.6 71.6h.6M458.9 68.9h.6M473 71.3h.6M460.3 68.1h.6M455.3 70.2h.6M455.5 85.3h.6M471.4 67.9h.6M476 73.3h.6M453.1 71.5h.6M468.7 78h.6M473.7 71.7h.6M463.2 65.9h.6M471 78.7h.6M458 68.9h.6M445.9 87h.6M443.8 87.2h.6M443 88.2h.6M443.3 87.5h.6M454 68.5h.6M464.7 64.6h.6M475.9 72.9h.6M451.9 73.2h.6M456.7 71.1h.6M453 73h.6M465 81.2h.6M464.5 80.3h.6M473.7 66.8h.6M460.5 67.7h.6M449.3 88.9h.6M447.2 76.6h.6M452.6 87.4h.6M468.2 78.4h.6M443.8 82.1h.6M457.8 84h.6M464.9 84.8h.6M465 79.9h.6M447.1 75.2h.6M446.7 75.5h.6M455.1 89.6h.6M452.3 87.9h.6M446.6 76.8h.6M455.1 71.8h.6M453.3 90.3h.6M461.4 82h.6M467.2 65.6h.6M455.5 88.4h.6M441 86.7h.6M458.2 69.7h.6M445.5 78.1h.6M452.2 73.8h.6M445.2 85.7h.6M471.1 67.4h.6M445 82.6h.6M466.9 63.2h.6M443.2 86.1h.6M467.6 82.2h.6M455.4 72.5h.6M470.7 61.8h.6M473.2 67.1h.6M473.7 70.4h.6M448.3 74.9h.6M451.3 74.4h.6M468.2 60.6h.6M468.3 66.1h.6M475.5 72.5h.6M454.7 88.5h.6M450.5 72.6h.6M460.9 88.2h.6M468.6 66.1h.6M460 84.1h.6M454 88.4h.6M459 85.7h.6M466.1 61.3h.6M443.4 89.1h.6M479.4 64.5h.6M460.4 67.5h.6M467.2 80.8h.6M439.6 87.9h.6M453.7 89.1h.6M449.7 87.8h.6M462 83.1h.6M462.8 66.2h.6M457.3 70.5h.6M464 62h.6M453.6 73.2h.6M465.9 63.7h.6M458.8 87.6h.6M477.3 69.9h.6M451.7 73.8h.6M443.1 85.8h.6M461.3 65.3h.6M446.1 87.1h.6M441.5 77.8h.6M470.9 78.3h.6M468.7 79.2h.6M461 84.1h.6M472.1 69.3h.6M474.5 72h.6M447.5 87.7h.6M473.2 69.3h.6M453.1 71h.6M467.7 61.7h.6M446.3 75.9h.6M446.3 90.9h.6M441.6 79.3h.6M448.4 88.5h.6M452.1 87.1h.6M442.6 85.3h.6M449.6 74.7h.6M439.4 84.1h.6M452.9 87.2h.6M462.3 81.9h.6M448.4 72.2h.6M444.2 86h.6M462 68.1h.6M457.2 71.4h.6M456.7 67.6h.6M458.3 84.7h.6M469.8 79.5h.6M475.7 69h.6M443.9 87.8h.6M474.5 70.4h.6M459.7 84.5h.6M455.9 65.8h.6M443.5 84.3h.6M472.1 67h.6M442.3 85.7h.6M474.4 68.3h.6M441.5 74.8h.6M460.4 82.8h.6M462.4 67.4h.6M456.5 66.9h.6M442.1 84.7h.6M446 77.9h.6M475 71.6h.6M475.8 59.2h.6M463.2 84.3h.6M442.8 92.4h.6M448.3 76h.6M462.9 81.3h.6M468 63.7h.6M473.1 71.1h.6M451.5 87.9h.6M444.9 79.6h.6M446.2 78.4h.6M477.8 66.1h.6M460.1 66.9h.6M473.4 68.1h.6M463.5 80.8h.6M460.1 62.2h.6M456.3 70.4h.6M444.6 87.3h.6M460.2 83.3h.6M440.8 84.8h.6M477.2 70.9h.6M461 67.9h.6M454.1 72h.6M446.9 77.3h.6M467.7 79.3h.6M444.1 85.4h.6M454.8 85.6h.6M463.2 81h.6M463.7 64.8h.6M463.2 67.7h.6M477 68.1h.6M449.3 72.9h.6M473.4 68.3h.6M461.8 68h.6M440.1 81.5h.6M461.4 68h.6M448.9 87h.6M450.2 75.3h.6M468 82.5h.6M456.7 67.2h.6M473.2 66.5h.6M444.4 84h.6M443.6 78.6h.6M450.8 73.9h.6M452.3 72.3h.6M462.3 83.3h.6M464 81.4h.6M449.6 87.2h.6M473.4 69.1h.6M471.7 79.8h.6M445.6 86.7h.6M453.9 86.4h.6M455.4 69.3h.6M469.4 78.2h.6M475.8 67.7h.6M457.1 69.3h.6M471.1 66.9h.6M459.7 67.9h.6M448.3 86.5h.6M470.1 78.2h.6M444 81.6h.6M458.5 69.5h.6M448.6 88.2h.6M472.3 63.9h.6M463 66.2h.6M475.3 68.7h.6M473.9 79.4h.6M473.1 72h.6M450.5 88.1h.6M444.8 84.6h.6M465.2 80.1h.6M444.6 77.3h.6M440.4 79.5h.6M452.5 88.4h.6M471.6 67.3h.6M463.8 83.9h.6M459 68.3h.6M446.4 91.7h.6M454.4 67.8h.6M447.5 76.6h.6M455.9 70.9h.6M445.6 86.4h.6M451.7 91.5h.6M463.2 67.9h.6M459.1 85.3h.6M456.6 71.2h.6M475 71h.6M444.7 80.6h.6M452.4 86.6h.6M470.7 66.4h.6M454.5 71.7h.6M462.1 82h.6M464.8 83h.6M470.5 66.3h.6M470.1 76.7h.6M462 82h.6M465.3 80.2h.6M444.2 82.1h.6M466.3 82h.6M455.9 87.7h.6M446.8 74.3h.6M455.4 71.8h.6M461.9 84.9h.6M465.1 81.5h.6M469 78.1h.6M465.6 79.9h.6M443 81.1h.6M450.7 92.5h.6M472.4 69.3h.6M443.1 79h.6M468.1 82h.6M461.6 83.9h.6M450.4 68.9h.6M445.4 84.7h.6M447.4 73.3h.6M457.8 86.2h.6M453.4 73.1h.6M458 69.2h.6M455.2 85.5h.6M475.4 65.9h.6M449.2 88.7h.6M455.7 86.3h.6M454.9 86.6h.6M443.5 85.9h.6M460.3 83.1h.6M464.1 81.5h.6M468.9 84.9h.6M447.4 67.9h.6M471 77.9h.6M451 87.1h.6M456.5 64.3h.6M451.5 94.9h.6M440 77.9h.6M455.9 64.9h.6M448.9 88.8h.6M470.5 78.1h.6M469.5 65h.6M451 74.5h.6M444.6 78.6h.6M467.7 84.9h.6M468.5 63.4h.6M466.5 66.8h.6M442.8 92.1h.6M469.3 78.5h.6M461.3 83.3h.6M477.5 67.4h.6M482.9 67.1h.6M470.4 88.8h.6M449.8 75.2h.6M443.7 91.8h.6M473.4 64.7h.6M457.4 85.9h.6M457.6 68.1h.6M437.7 72.3h.6M456.4 61.5h.6M447.3 74.9h.6M457.4 67.2h.6M472.3 73.9h.6M449.2 95.3h.6M453.1 72.5h.6M462.6 82.1h.6M457.3 69.4h.6M458.7 86.1h.6M454.4 68.1h.6M471.3 67.5h.6M460.6 61.6h.6M452.5 72.4h.6M459 65.9h.6M472.8 78.8h.6M477.4 80.7h.6M478.6 72.9h.6M477.2 72.8h.6M476 72.4h.6M478.4 70.9h.6M486.5 81.2h.6M476.5 82.2h.6M489.5 78.4h.6M478.5 72.7h.6M481.7 70.6h.6M473.2 72.2h.6M472.9 73.5h.6M488.9 82h.6M470.1 81.7h.6M477.3 80.3h.6M474.7 81h.6M471.2 77.4h.6M486.3 81.3h.6M489.6 82.5h.6M481.3 81.9h.6M493 76.7h.6M484.8 74.1h.6M491.8 81.8h.6M476.6 80.2h.6M473.8 79h.6M469.2 77.9h.6M489.2 80.1h.6M474.2 72.6h.6M477.9 80.5h.6M473 72.8h.6M479.4 72.9h.6M488.1 81.8h.6M471.9 78.2h.6M482.3 82.7h.6M474.9 73.2h.6M470.5 76.8h.6M471.6 77.7h.6M480.2 72.9h.6M476.8 71.8h.6M481.7 80.4h.6M471.4 77.9h.6M489.4 81.6h.6M483.2 73.4h.6M478.5 73.2h.6M481.6 73.9h.6M478.1 72.8h.6M477.9 82.4h.6M476 72.8h.6M479.5 71h.6M472.8 73.4h.6M474 81h.6M486.4 81.9h.6M489.3 75.8h.6M474.7 73.3h.6M472.9 73.2h.6M484.5 74.5h.6M485.7 81.2h.6M474.8 71.1h.6M486.3 72.1h.6M479 72.9h.6M480 73.3h.6M475.4 83.5h.6M474 79.5h.6M489.4 80.8h.6M488.3 75.4h.6M475.4 71.2h.6M489.6 76.4h.6M492.8 74.9h.6M478.2 72.6h.6M491.8 75.8h.6M484.5 74h.6M483 81h.6M474.9 79.5h.6M489.8 79.3h.6M491 80h.6M494.1 75.1h.6M475.6 72h.6M470.1 80.6h.6M483.3 80.8h.6M476.1 81.4h.6M489.5 80.1h.6M490.8 77.5h.6M477.8 72.1h.6M482.7 71.1h.6M474.5 72.6h.6M481.2 73.9h.6M473.4 70.7h.6M475.8 72.9h.6M477.6 80.5h.6M479.8 80.8h.6M476.1 80h.6M473.2 72.8h.6M485.3 83.3h.6M481 73.4h.6M490.2 75.6h.6M478 80.6h.6M492.6 76.4h.6M476.1 79.5h.6M484.6 73.9h.6M477.4 82.2h.6M474.9 73.2h.6M480.8 70.4h.6M489.4 79.8h.6M476.2 79.6h.6M481 72.8h.6M476.4 72.6h.6M475 72.2h.6M476.4 71.6h.6M475.6 79.7h.6M474 71.7h.6M476.4 82h.6M482.4 81.9h.6M484.8 84.1h.6M489.9 75.3h.6M483.9 81.6h.6M490.2 76.9h.6M475.6 70.3h.6M489.5 76.3h.6M477.8 73.5h.6M476.8 80.5h.6M489.8 78h.6M489.4 79.4h.6M483.2 80.7h.6M474.9 80.6h.6M483.1 81.1h.6M483.9 74.2h.6M473.2 71.8h.6M476.2 72.8h.6M473.5 72.9h.6M476.7 81h.6M488.8 74.7h.6M489.7 80.1h.6M481.7 80.4h.6M471.7 77.3h.6M470.3 81.7h.6M486.7 82.9h.6M484.6 84.5h.6M488.4 73.2h.6M484.1 74.1h.6M476.2 73.1h.6M473.1 78.7h.6M490.4 79.2h.6M482.5 82h.6M473.9 72.1h.6M470.8 77.7h.6M486.9 74.1h.6M490.1 77h.6M485.4 81.9h.6M490.2 75.3h.6M486.6 72.4h.6M471.7 78.5h.6M480.6 80.3h.6M480.2 81.7h.6M472.5 74h.6M485.8 81.1h.6M475.4 70.7h.6M486.9 71.3h.6M486.2 74.6h.6M479 73.7h.6M476.6 73.5h.6M486.3 82.2h.6M490.6 75.9h.6M475.6 71.7h.6M480.9 74h.6M473.6 79h.6M474.1 73.1h.6M483.6 73.5h.6M490.9 78.3h.6M478.7 79.9h.6M489.9 77.2h.6M483.7 74.5h.6M474.8 72.4h.6M482.7 81h.6M477.2 72.4h.6M479.9 73.2h.6M472.9 78.6h.6M485.2 72.1h.6M478.8 80h.6M475.4 82.1h.6M487.7 73.5h.6M487.3 74.6h.6M482.7 71.7h.6M484.5 73.2h.6M475.4 79.5h.6M480.7 80.3h.6M490.2 80h.6M472.4 79.3h.6M474.4 80.9h.6M482.5 74.3h.6M476.5 79.9h.6M478.1 73.4h.6M478.8 81.9h.6M476.2 71.7h.6M482 73.4h.6M482.3 83.5h.6M484.8 81.6h.6M484.1 73.1h.6M473 70h.6M490.4 74.8h.6M481.4 73.9h.6M486.6 82h.6M480.5 80.2h.6M491.5 78.4h.6M479.6 80.4h.6M471.9 79.2h.6M489.8 76.4h.6M476.5 81.2h.6M489.3 44.6h.6M479.1 67.2h.6M501 62.8h.6M489.2 71.1h.6M500.6 65.9h.6M482.6 60.4h.6M484 56.9h.6M491.4 64.7h.6M485.5 69.2h.6M487.3 40.5h.6M485.3 56.9h.6M487.5 39.8h.6M473 51.8h.6M487.1 59.4h.6M481.9 63.4h.6M495.1 74.1h.6M492.1 53h.6M493.5 50.5h.6M491.5 79.3h.6M490.7 54.4h.6M497.1 51.2h.6M493.2 71.8h.6M494.7 61.2h.6M497.6 60.7h.6M486.8 72.6h.6M488.2 56.8h.6M499 63.2h.6M485.3 49.6h.6M485.9 39.5h.6M483.5 66h.6M485.4 62.4h.6M487.3 59.4h.6M483.7 60.2h.6M483.2 58.4h.6M490 38.7h.6M503.1 74.2h.6M493.5 73.1h.6M484.7 59.6h.6M491.3 65.7h.6M494.4 64.5h.6M500.1 69.4h.6M475.8 52.1h.6M491.2 75h.6M494 66.4h.6M486.3 59.1h.6M484.1 52.8h.6M493 46.6h.6M493.3 80.1h.6M488.9 60h.6M492.3 55.1h.6M492.5 43h.6M500.5 59.6h.6M488.4 65.1h.6M487.8 55.6h.6M493.3 78.5h.6M488 71.9h.6M491.4 83.6h.6M486.5 66h.6M495.2 57.3h.6M474.3 69.4h.6M497 57h.6M494.5 50.6h.6M491.8 61.4h.6M478.5 60.8h.6M490.3 66.4h.6M481.6 58.1h.6M483.6 59.2h.6M502.1 57.9h.6M486 71.1h.6M496.5 51.3h.6M485 58.9h.6M471.9 57.8h.6M494.4 57.7h.6M494.5 62.7h.6M495.6 56.9h.6M492.7 65.8h.6M494.7 52h.6M487.1 61.5h.6M488.6 70.8h.6M487.8 48.3h.6M494.6 59.9h.6M485.1 49.4h.6M487.9 57.1h.6M487.7 66.8h.6M494.1 58.3h.6M488.2 58.2h.6M498.3 64.3h.6M496.9 64.8h.6M496.5 72.1h.6M488.6 64.1h.6M494.5 50.5h.6M503.8 75.5h.6M495.2 55.5h.6M500.7 64h.6M486.9 49.2h.6M482.3 59.1h.6M487.9 65.1h.6M496.8 43.2h.6M501.5 62.1h.6M484.6 57.3h.6M478.2 53.5h.6M502.2 53.2h.6M486.8 58.7h.6M479.8 59h.6M498.8 62.9h.6M498.3 71.2h.6M475.5 53.2h.6M482.3 67.2h.6M493.9 67.1h.6M487 62.2h.6M486.7 69.6h.6M491.7 50.9h.6M501.5 66.3h.6M491.5 65.4h.6M496.9 58h.6M487.9 73.2h.6M501.3 64.4h.6M492.8 63.7h.6M484.8 63.7h.6M497.2 46.4h.6M496.3 57.5h.6M490.7 60.9h.6M493.9 69.7h.6M498.3 57h.6M486.1 49.6h.6M480.9 48.2h.6M485.6 64.5h.6M498.5 66h.6M489.1 49.3h.6M494.7 59.7h.6M493.6 72.2h.6M475 64.6h.6M493.8 65.8h.6M496 64.1h.6M489.1 49h.6M490.4 75.3h.6M485.2 59.1h.6M497.7 50.6h.6M492.9 59.3h.6M495.8 51.7h.6M494.6 66.3h.6M497 48.5h.6M489.8 59.7h.6M485.2 67.7h.6M497.1 61.9h.6M498.3 62.1h.6M483.6 49h.6M502.3 49.6h.6M491.5 71h.6M477.3 45.9h.6M479.2 55.2h.6M501.7 48.2h.6M487.4 62.4h.6M499.4 54.7h.6M491 58.7h.6M491.2 60.1h.6M495.3 50.1h.6M494.4 58.2h.6M474.5 70h.6M492.3 60.7h.6M497.2 67.2h.6M496.8 68.3h.6M485 59.1h.6M482.3 48h.6M490.8 55.6h.6M485.9 55.7h.6M490.8 51.3h.6M498.5 54.2h.6M483.2 51.8h.6M480.8 60.3h.6M477.2 54.8h.6M496.3 62.9h.6M495.4 46.1h.6M487.2 59.6h.6M486.6 55.4h.6M489.5 53.8h.6M492.3 60h.6M478 67.5h.6M477 51.2h.6M484.9 61.9h.6M490.6 74.8h.6M488 64.2h.6M502.4 56.8h.6M487.2 53.6h.6M483.6 70.7h.6M497.4 68h.6M496.4 66.7h.6M497.4 55.4h.6M496.5 61h.6M502.9 60.4h.6M499.7 66.1h.6M479.9 51h.6M491.3 72.3h.6M487.2 60.6h.6M484.1 48.3h.6M480.1 52.1h.6M495.9 51.7h.6M487.6 44.9h.6M496.2 50.3h.6M492.6 67.7h.6M500.2 54.4h.6M491.1 56.2h.6M472.5 49.9h.6M497 60.5h.6M489.1 58.2h.6M495.5 72.4h.6M485.2 62.8h.6M484.6 72.1h.6M503.4 70.6h.6M496 49h.6M486.9 61.8h.6M493 68.8h.6M493.6 70.8h.6M495 44.7h.6M487.6 54.9h.6M494.1 67.4h.6M496.5 73.4h.6M502.5 61.2h.6M483.1 57h.6M479.3 52.9h.6M494.9 54.5h.6M497.5 58.8h.6M486.9 56.8h.6M487 62.3h.6M482.7 56.3h.6M501 65h.6M492.1 60.3h.6M484.7 57.9h.6M482.2 68h.6M492 60.7h.6M499.3 73.9h.6M496.1 70.7h.6M491.3 68.2h.6M492.6 54.1h.6M498.7 62h.6M489.6 44.8h.6M494.7 63.8h.6M503.4 52.8h.6M481.2 62.7h.6M484.9 66.3h.6M485.2 57h.6M479.7 50.1h.6M484 63.4h.6M483.9 72.6h.6M494.9 70.7h.6M492 52.5h.6M483.5 53.2h.6M482.5 58.9h.6M490.5 76.3h.6M501 77.2h.6M498.8 53h.6M499.5 62.2h.6M490.1 58.9h.6M489.2 70.3h.6M493.5 51.3h.6M478.6 53.8h.6M491.9 53.1h.6M480.8 70.2h.6M487.4 62h.6M479 62h.6M489.7 68.2h.6M480.4 68.8h.6M492.9 57.8h.6M486.5 67.2h.6M474.5 60.3h.6M491.2 69.8h.6M492.3 48.3h.6M485.3 44.7h.6M501.8 57.9h.6M489.5 58.9h.6M495.1 44.2h.6M484 59.8h.6M489.7 47.9h.6M480.2 49.7h.6M488.8 58h.6M486.9 66h.6M483.2 72.6h.6M494.1 61.3h.6M487.2 64.8h.6M486.8 56.2h.6M492 66h.6M488.8 60.4h.6M494.1 47.8h.6M492.6 53.5h.6M471.7 57.1h.6M493.7 51.2h.6M490.8 65.6h.6M493.7 51.5h.6M495.1 67.1h.6M487.8 65.4h.6M499.2 50h.6M492.6 55.8h.6M495.2 60.6h.6M484.2 42.2h.6M481.9 50.2h.6M493.4 47.8h.6M484.4 55.9h.6M490.9 48.7h.6M483.1 71.5h.6M481.7 71.3h.6M481.7 55h.6M499.1 43.8h.6M498.9 62.1h.6M492.1 80.9h.6M485.2 58h.6M487.3 35h.6M485.8 55.3h.6M496 62.8h.6M481.9 65.8h.6M495.2 80.9h.6M494.9 65h.6M495.3 50.4h.6M491.8 65.5h.6M496.1 58.4h.6M478.3 51.9h.6M488.2 57.4h.6M489.6 81.8h.6M479.2 61h.6M482.5 60.1h.6M495 52h.6M489.6 56.3h.6M486.9 63.8h.6M488.3 46.1h.6M485.1 63.9h.6M481.5 46.1h.6M485.3 57.6h.6M482 49.6h.6M496.7 64.7h.6M503.6 52.6h.6M491.6 63.6h.6M486.5 54.4h.6M488.6 56.5h.6M480.5 61.3h.6M480.6 53.9h.6M497.5 65.9h.6M488.9 68h.6M490.1 51.9h.6M480.2 68.5h.6M502.9 68.9h.6M486.3 59h.6M494.7 65.1h.6M482.5 63.6h.6M499.9 48h.6M501.6 49.8h.6M490.2 71.2h.6M491.4 88.4h.6M475.4 61.5h.6M471.4 42.9h.6M490.6 38.6h.6M497.3 73.8h.6M478.8 53h.6M483.7 48.3h.6M492.9 55.7h.6M483.9 68.4h.6M490 74.7h.6M498 59.2h.6M495.3 66.6h.6M496.9 70h.6M499.4 75h.6M490.9 53.3h.6M489.2 54.6h.6M499.8 56.7h.6M489.7 52.5h.6M480.3 61.1h.6M489.1 64.6h.6M500.4 71.8h.6M493.6 51.1h.6M478.8 51.2h.6M496.5 53.1h.6M496.7 64.1h.6M498.8 51.5h.6M491.6 49.4h.6M484.8 64h.6M490.8 63.3h.6M488.3 49.8h.6M495.2 49.5h.6M494.6 58.2h.6M488.8 60.4h.6M469.6 66.7h.6M494.9 56.2h.6M489.6 70.9h.6M478.8 49h.6M484.2 60.4h.6M485.9 70.8h.6M499.9 57.6h.6M498.9 74.2h.6M484.9 63.3h.6M486.2 36.3h.6M497.4 60.4h.6M497.2 72.3h.6M490.9 45.6h.6M495.9 45.1h.6M489 60.6h.6M484.5 56h.6M484.2 61.3h.6M495.7 63.5h.6M488.1 48.3h.6M492.7 78.5h.6M499.2 70.2h.6M489.5 76.5h.6M495.9 53.8h.6M487.1 71.3h.6M499.6 47h.6M502.3 63.3h.6M500.7 74.5h.6M495.4 68.4h.6M492.2 49.3h.6M482.8 66.4h.6M491 67.5h.6M481.9 50.1h.6M498.1 59.1h.6M497.9 66.9h.6M484.7 57.2h.6M491.9 54.5h.6M492.1 62.3h.6M489.7 49.7h.6M501.6 47.6h.6M499.7 60.8h.6M503.9 52.2h.6M500.8 57.9h.6M495.1 55h.6M492.3 65.6h.6M495.1 54.5h.6M493.3 61.8h.6M500 74.7h.6M501.3 64.4h.6M494.5 63.2h.6M497.8 59.6h.6M502.6 64.3h.6M493.4 57.6h.6M490.6 53.9h.6M485.1 56.9h.6M481 54.7h.6M494.6 59.5h.6M485.8 55.9h.6M480.2 62.2h.6M485.1 56.1h.6M497.3 82.8h.6M484.7 62.8h.6M495.6 44.1h.6M491.8 50.8h.6M486.2 70h.6M495.6 52.8h.6M485.2 60.3h.6M496 60.1h.6M483.8 60.2h.6M489.8 56.4h.6M500.3 54.4h.6M486.9 52.6h.6M494 64.7h.6M484.6 63.5h.6M493.2 60.2h.6M480 56.9h.6M487 51.2h.6M498.2 70.2h.6M488.9 56.7h.6M497.9 50.8h.6M493.8 65.3h.6M494.6 63h.6M488.2 62.2h.6M478.6 70.7h.6M485.8 65.6h.6M474.6 67.3h.6M492.9 65.3h.6M499.7 47.8h.6M498.5 56.1h.6M498.6 71.5h.6M496.8 64.8h.6M497.7 53.3h.6M480 52.5h.6M483.3 61.7h.6M498.4 76h.6M496.7 53.9h.6M483.1 60.5h.6M495.1 65.2h.6M489.5 69h.6M488.4 52.8h.6M495.1 57.3h.6M489.8 56.7h.6M503 59.8h.6M476.1 63h.6M484.1 60.2h.6M495.3 52.1h.6M484.3 52.3h.6M498 50.2h.6M495.9 56.7h.6M488.1 38.7h.6M480 57.8h.6M493.7 53.2h.6M497.8 56.5h.6M499.6 53.3h.6M492.3 44.8h.6M474.6 51h.6M499.6 71.7h.6M493 70.6h.6M495.6 51.9h.6M485.6 62.3h.6M471.6 46.4h.6M495.7 53.2h.6M482.2 66.6h.6M479.4 55.4h.6M495.3 71.9h.6M481 65h.6M490.4 78.7h.6M489.6 65.3h.6M485.8 54.3h.6M489.7 66.9h.6M484.8 63.4h.6M488 67.8h.6M493.8 63.2h.6M492.6 56.6h.6M489 54.2h.6M493.6 60.4h.6M478.7 58.6h.6M495.7 55.4h.6M491.4 65.5h.6M497.3 57.6h.6M486.4 62.5h.6M497 56.3h.6M495.5 54.8h.6M499.7 48.8h.6M499.4 71.4h.6M487.1 52.9h.6M493.9 59.8h.6M490.6 62.8h.6M483.2 51.8h.6M473.5 43.5h.6M485.3 69.5h.6M494.9 56.9h.6M470.3 58.5h.6M484.2 47.3h.6M480.5 58h.6M492.2 51.7h.6M488.3 51.6h.6M496.1 69.5h.6M473.7 70.1h.6M493.4 70.8h.6M493.1 69.6h.6M480.3 54.1h.6M486.1 59.5h.6M493.5 65.1h.6M488 63.1h.6M496.8 55.4h.6M502.9 61.3h.6M496.4 59.1h.6M485.7 70.3h.6M488.7 69.6h.6M494.9 57.7h.6M494.6 59.4h.6M494.7 69.4h.6M500.1 58.9h.6M487.2 65.6h.6M490.3 62.5h.6M501.8 54.4h.6M480.9 71.2h.6M483 54h.6M493.4 56.2h.6M500.2 75h.6M490.5 52.9h.6M489.6 69.1h.6M503 63.6h.6M492.7 84.8h.6M487.3 66.7h.6M490.7 75.3h.6M492.1 63.9h.6M466.5 54.7h.6M473.1 56.2h.6M485.1 49.5h.6M487.7 40.9h.6M499.5 59.4h.6M475.2 57.7h.6M487.2 55.1h.6M497.9 57.1h.6M492.7 60.6h.6M470.1 60.6h.6M487.4 52.3h.6M495.7 67.1h.6M493.4 66.2h.6M500.4 54.1h.6M498.6 59.6h.6M501.4 63.2h.6M485.2 50.5h.6M494.9 56.7h.6M485.9 60.5h.6M483.5 55.9h.6M500.5 63.8h.6M501 63.3h.6M483.8 60.9h.6M489.6 56.6h.6M489.2 58.8h.6M496.2 65.3h.6M486.1 57.2h.6M495.8 67h.6M501.1 62.7h.6M494.9 77.4h.6M478.2 43.5h.6M501.9 48.2h.6M500.9 52.5h.6M503.6 47.2h.6M475.8 68.1h.6M485 65.5h.6M478 58.5h.6M479.1 60.4h.6M479.6 47.3h.6M495.2 63.2h.6M494.7 52.6h.6M480.6 47.8h.6M487.8 64.6h.6M497.8 54.4h.6M487.8 73.7h.6M494.6 64.2h.6M493.7 63h.6M497.2 69h.6M495.6 61.7h.6M503.2 58.3h.6M497.9 52.8h.6M494 69.9h.6M482.3 52.9h.6M496.1 69.8h.6M489.4 52.8h.6M495.7 63.4h.6M490.9 68.6h.6M483.9 63h.6M491 54.2h.6M492.5 57.4h.6M491.9 49.8h.6M492.2 60.5h.6M491.2 60.6h.6M498.8 61h.6M496.9 70.7h.6M495.7 62.5h.6M502.8 72.4h.6M495.5 59.8h.6M488 65.8h.6M486.2 34.8h.6M496.3 71.1h.6M491.8 57.3h.6M493.4 63.6h.6M490.4 74.3h.6M472.6 54h.6M484.8 67.6h.6M502.3 70.9h.6M492.3 61.7h.6M489.5 52.9h.6M481.6 45.7h.6M500.1 71.6h.6M495.2 64.7h.6M500.8 72.3h.6M482 67.2h.6M499.9 46.3h.6M491.5 58.3h.6M495.8 56.1h.6M475.4 63.3h.6M495.8 67h.6M488.7 59.9h.6M496.4 46.1h.6M498.2 58.9h.6M494.3 58.3h.6M498.5 74.7h.6M487.1 60.2h.6M501.1 63.5h.6M501.6 64.7h.6M493.9 74.9h.6M498.4 68.7h.6M488 53h.6M494.1 51.7h.6M490.6 53.5h.6M480.4 65.3h.6M490.1 53.2h.6M488.1 58.1h.6M486.9 60.4h.6M495.9 47.7h.6M490.1 61.3h.6M475.8 54.4h.6M488.3 59.1h.6M489.1 58.2h.6M490.1 57.6h.6M493.7 59.5h.6M487.8 58.5h.6M500.2 59.3h.6M485.7 56.9h.6M496.8 40.6h.6M488.3 59.4h.6M486.1 50.7h.6M487.3 66.5h.6M503 64.3h.6M473.8 65.2h.6M491.1 60.1h.6M492.9 52.9h.6M484.1 64.9h.6M496.4 70.3h.6M486.6 73.7h.6M475 65.5h.6M500 77.1h.6M484.9 74.4h.6M503.7 57.2h.6M481.5 39.7h.6M501.7 61.5h.6M488.3 64.6h.6M486.1 62h.6M493.6 56.9h.6M488.8 63.9h.6M492.7 54.1h.6M499.6 56.7h.6M495.7 57.4h.6M490.8 53h.6M479.3 58.1h.6M495.1 73.5h.6M491.8 53.2h.6M487.8 45.8h.6M495.7 80.4h.6M474.4 69.7h.6M486.5 59.9h.6M473.8 47.3h.6M493.6 51.9h.6M497.2 60.2h.6M482 51.5h.6M501 75.9h.6M486.1 54.7h.6M499.7 65.9h.6M490.3 63.6h.6M502.6 66h.6M487.4 54.2h.6M502.7 68.5h.6M488.9 52.1h.6M488.1 58.2h.6M480.5 68.3h.6M496.7 61.4h.6M482 56.1h.6M487.9 66.7h.6M482.3 66.8h.6M486.5 69.8h.6M494.6 57.5h.6M497.4 50.6h.6M491 56.3h.6M499.1 63.8h.6M489.4 55.9h.6M481.6 57.4h.6M492.2 48.8h.6M501.6 67.8h.6M494.5 50.6h.6M489.9 54h.6M498.2 57.4h.6M487.2 59.2h.6M498.7 61.1h.6M491.3 64.6h.6M490.8 59.2h.6M487.7 50h.6M492.7 70.6h.6M489.6 64h.6M497.6 60.9h.6M495.8 60.8h.6M486.3 55.4h.6M491.5 41.7h.6M486.5 46.8h.6M486.4 68.9h.6M493.2 41.7h.6M491.6 61.7h.6M498 70.5h.6M488.3 62.4h.6M491.8 66.2h.6M475.3 68.1h.6M477.8 57.1h.6M464.3 51.7h.6M486.9 52.5h.6M486.7 56.6h.6M477.5 68.8h.6M493 65.4h.6M492 46.8h.6M477.1 50.8h.6M495.5 61.1h.6M494.8 75.1h.6M479.7 61.5h.6M489.9 51.4h.6M496.5 68.5h.6M493 77.4h.6M492.5 62.8h.6M478.8 36.1h.6M495.2 65.6h.6M494.3 63h.6M484.8 51.9h.6M480.2 52.9h.6M491.7 55.2h.6M492.4 50h.6M478.3 52.1h.6M491.2 55.3h.6M485.2 42.3h.6M472.3 51.2h.6M497.7 75.4h.6M484.9 61.4h.6M475.9 61.7h.6M495.3 56.6h.6M492.2 56.3h.6M488.4 53.9h.6M500.9 53.5h.6M486.6 69.5h.6M488.1 59.6h.6M492.5 59.9h.6M501.8 55h.6M492.4 63.9h.6M493 63.5h.6M499.2 52.2h.6M484.3 40.5h.6M494.2 49.3h.6M478.3 45.8h.6M483.5 59.6h.6M484.2 47h.6M494.1 70.5h.6M499.1 73.7h.6M487.9 41.3h.6M493.5 65h.6M489.7 80.4h.6M489 54.9h.6M489.2 53.7h.6M487 60h.6M486.5 60.2h.6M496.2 73.3h.6M498.8 57.8h.6M489.1 45.1h.6M500.5 67.2h.6M482.9 72.2h.6M503.4 67.5h.6M488.8 65.9h.6M493.9 66.5h.6M477.5 61.3h.6M489.5 53.1h.6M494.9 71.5h.6M471.5 52.4h.6M497.9 71.3h.6M489.3 54.2h.6M482 58.9h.6M489.5 54.8h.6M496.5 68.2h.6M492.2 65.6h.6M475.2 53.6h.6M488.8 58.6h.6M477.3 41.6h.6M492.3 45.9h.6M489.9 65.1h.6M477.9 48.8h.6M485.5 68.1h.6M492.8 50.8h.6M491.2 76.5h.6M497.4 66.8h.6M478.2 68.1h.6M500.6 71h.6M473.8 62.2h.6M500.9 51.9h.6M483 56.7h.6M503.8 55h.6M503.8 60.2h.6M495.2 67.1h.6M501.1 64.9h.6M488.1 58.8h.6M490.9 57.9h.6M494.3 73.5h.6M493.3 48.9h.6M487.8 65.4h.6M474.8 50.5h.6M484.2 60.6h.6M494.1 53.1h.6M479.5 36.2h.6M490.6 57.9h.6M501 70.5h.6M488.3 53.2h.6M475.5 64.4h.6M488.4 63.7h.6M491.3 51.5h.6M491.7 61.9h.6M489.9 52h.6M493.4 53h.6M496.5 52.9h.6M488.3 66h.6M474.3 58.7h.6M489.3 65.4h.6M490.5 72.3h.6M493.7 64.5h.6M477.7 51.7h.6M491.4 61.3h.6M492.9 60.2h.6M499.6 79.4h.6M496.6 64.2h.6M500.3 64.4h.6M499.4 61.5h.6M502.6 62.1h.6M493.4 46.5h.6M483.4 52.8h.6M485.7 62.8h.6M490.9 61.5h.6M496 43.5h.6M484.8 63.1h.6M479.2 61.3h.6M495.6 60.8h.6M499 68.1h.6M489.4 66.2h.6M502.1 50.4h.6M499 71.2h.6M490.5 62h.6M488.8 70h.6M498.6 57.5h.6M496.3 50.6h.6M484.4 48.2h.6M502.8 47.7h.6M477.7 50.5h.6M485.6 61.4h.6M492.6 65h.6M483.5 58.8h.6M491.5 70.1h.6M485.4 55.1h.6M491.5 63.5h.6M480.3 52.1h.6M491.9 64.1h.6M489.2 70.1h.6M490.7 73.6h.6M498.4 76.8h.6M494.4 42.9h.6M501.9 75h.6M489.8 53h.6M503.1 54.9h.6M493.3 41.8h.6M491.7 62.8h.6M487.7 65.6h.6M498.1 56.5h.6M495.6 49.9h.6M483.2 68.5h.6M477.7 58.6h.6M485.4 47.3h.6M477.2 67.2h.6M496.2 64.6h.6M496.9 59h.6M486.4 55.8h.6M480.2 51.3h.6M495.6 61.7h.6M478.2 64h.6M475.5 48.6h.6M481.3 47.9h.6M490 61.1h.6M489 56.1h.6M495.4 58.5h.6M492.5 60.2h.6M489 69.1h.6M484.5 56.8h.6M499 57.7h.6M502.8 77.6h.6M493.2 67.9h.6M482.2 61.2h.6M497.5 40.3h.6M499.7 73.6h.6M485.3 61.1h.6M475.6 44h.6M493.9 65.6h.6M498.9 51.4h.6M484.9 49.7h.6M485.8 51.1h.6M491.3 52.7h.6M470.4 56h.6M481.8 58.6h.6M490 52.4h.6M493.9 58.8h.6M494.7 46.4h.6M489.3 81.5h.6M491 37.9h.6M497.9 52.9h.6M484 50.3h.6M498 59.4h.6M500.3 57h.6M502.5 63.3h.6M499.4 73.6h.6M494 59.3h.6M492.5 51.6h.6M503.8 68.2h.6M491.2 59.1h.6M501.5 64.2h.6M494.6 54.8h.6M501 56h.6M487.5 60.2h.6M485.7 59h.6M485.7 59.6h.6M498.6 49h.6M491.3 63.1h.6M484 49.4h.6M482.7 40.9h.6M496.6 62.2h.6M481.6 48.5h.6M492 59.9h.6M489.3 75.6h.6M498.4 75.5h.6M486.1 61.2h.6M488.6 69.2h.6M486.8 66.5h.6M494.1 75h.6M500.5 60.6h.6M483.3 53.4h.6M485 46.9h.6M480.6 59h.6M485.9 49.7h.6M481.5 54.2h.6M486 61.1h.6M488.3 59.4h.6M487.1 67.2h.6M480 58.5h.6M479.9 47.4h.6M497.8 47.5h.6M497.2 68.5h.6M491.3 47.9h.6M491.9 56.3h.6M490.8 54.9h.6M485.8 55h.6M492.1 53.7h.6M495.2 59.8h.6M495.9 67.9h.6M502 60.4h.6M492.4 62.7h.6M485.5 59h.6M486 51.3h.6M486.1 59.5h.6M478.3 60.2h.6M496.3 64.4h.6M494.3 61.2h.6M496.8 54.4h.6M480.6 68.8h.6M495.2 63.3h.6M481 63.5h.6M497.8 48.7h.6M487.2 46.7h.6M503.5 67.4h.6M477.4 58.2h.6M489.6 65.2h.6M490.8 60.5h.6M491.4 68.2h.6M492.6 43.8h.6M484.1 61.3h.6M493.1 71.4h.6M500.5 44.5h.6M486.4 45.4h.6M469.1 65.4h.6M499.3 66.6h.6M479.3 53.9h.6M494 56.6h.6M484.5 60h.6M493.4 66.3h.6M495.4 57.1h.6M481.7 69.7h.6M501 61.9h.6M491.4 58.4h.6M491.9 44.4h.6M487.6 61.7h.6M482.1 52.6h.6M477 52.5h.6M495.6 64.6h.6M476.8 56.8h.6M488.3 67.1h.6M482.6 66h.6M481.6 67.2h.6M500.7 66.6h.6M480.1 61.6h.6M499.9 59.5h.6M496.1 48.1h.6M460.9 55.3h.6M472.8 79.9h.6M455.5 44.7h.6M473 70.9h.6M472.7 56h.6M479.7 48.4h.6M458 55.3h.6M455.5 70.2h.6M474.4 43.4h.6M471.9 39.6h.6M442.3 71.1h.6M458.2 67.2h.6M477.9 56.5h.6M446.5 55.7h.6M485.2 54.8h.6M438.9 59h.6" stroke="#000" stroke-opacity="0.7" stroke-width=".6" fill="none"/><linearGradient id="og02" gradientUnits="userSpaceOnUse" x1="453.5" y1="86.8" x2="457.5" y2="65.8"><stop offset="0" stop-color="#000"/><stop offset="1" stop-color="#888"/></linearGradient><path d="M451.4 86.7 449.6 86.7 448 86.2 446.6 85.1 445.7 83.7 445.3 82.2 445.4 80.4 446.1 78.9 447.4 77.4 449.1 76.1 451.6 74.6 461.9 68.8 464.9 67.3 466.6 66.9 468.4 66.9 470.1 67.5 471.4 68.5 472.5 70.4 472.7 72.4 472.1 74.4 470.6 76.2 467.6 78.3 456.1 84.8 453.4 86.2 451.4 86.7ZM449.6 83.7 447.9 83.8 447.4 83.5 447.4 82.9 448.8 81.2 451.9 78.8 455.4 76.8 458.9 75.3 461.4 74.7 462.1 74.8 462.6 75.1 462.5 75.9 461.7 76.9 460.1 78.4 458.1 79.8 453.6 82.3 449.6 83.7ZM486.6 80.9 483.4 80.6 473.6 78.8 472.6 78.3 471.8 77.4 471.5 76.4 471.6 75.2 472.1 74.3 472.9 73.7 473.9 73.4 474.9 73.3 484.9 74.6 487.6 75.3 488.4 75.7 489.1 76.4 489.6 77.4 489.6 78.4 489.3 79.4 488.6 80.2 487.6 80.8 486.6 80.9Z" fill="none" stroke="url(#og02)" stroke-width="1.8"/><path d="M451.4 86.7 449.6 86.7 448 86.2 446.6 85.1 445.7 83.7 445.3 82.2 445.4 80.4 446.1 78.9 447.4 77.4 449.1 76.1 451.6 74.6 461.9 68.8 464.9 67.3 466.6 66.9 468.4 66.9 470.1 67.5 471.4 68.5 472.5 70.4 472.7 72.4 472.1 74.4 470.6 76.2 467.6 78.3 456.1 84.8 453.4 86.2 451.4 86.7ZM449.6 83.7 447.9 83.8 447.4 83.5 447.4 82.9 448.8 81.2 451.9 78.8 455.4 76.8 458.9 75.3 461.4 74.7 462.1 74.8 462.6 75.1 462.5 75.9 461.7 76.9 460.1 78.4 458.1 79.8 453.6 82.3 449.6 83.7ZM486.6 80.9 483.4 80.6 473.6 78.8 472.6 78.3 471.8 77.4 471.5 76.4 471.6 75.2 472.1 74.3 472.9 73.7 473.9 73.4 474.9 73.3 484.9 74.6 487.6 75.3 488.4 75.7 489.1 76.4 489.6 77.4 489.6 78.4 489.3 79.4 488.6 80.2 487.6 80.8 486.6 80.9Z" fill="#fff"/><path d="M451.1 84.9 449.9 84.9 448.6 84.4 447.7 83.4 447.3 82.4 447.2 81.4 447.5 80.2 448.3 78.9 449.4 77.9 454.1 75 462.1 70.5 464.9 69.2 466.4 68.7 467.9 68.7 469.1 69.1 470.1 69.9 470.8 71.4 470.7 72.9 469.9 74.4 468.6 75.7 465.6 77.6 455.1 83.5 452.9 84.5 451.1 84.9Z" fill="rgb(255,255,255)" stroke="#000" stroke-width=".45"/><path d="M450.9 82.4 449.9 82.4 449.7 82.2 449.8 81.7 450.8 80.4 452.9 78.9 455.4 77.5 457.9 76.5 459.6 76.1 460.3 76.4 460.2 76.9 459.7 77.7 457.1 79.7 453.9 81.5 450.9 82.4Z" fill="rgb(140,140,140)" stroke="#000" stroke-width=".45"/><path d="M453.1 81 452.1 81 452 80.7 453.7 79.2 456.6 77.7 457.6 77.5 458 77.7 457.6 78.4 456.3 79.4 454.6 80.4 453.1 81Z" fill="rgb(60,60,60)" stroke="#000" stroke-width=".45"/></g>
<rect x="433.60" y="33.80" width="70.60" height="70.70" fill="none" stroke="#a8a8a8" stroke-width="1.1"/>
<line x1="478.10" y1="34.30" x2="478.10" y2="104.50" stroke="#222" stroke-width="1.3" />
<line x1="478.10" y1="67.40" x2="504.30" y2="67.40" stroke="#222" stroke-width="1.3" />
<text x="490.90" y="41.80" font-size="6.5" text-anchor="middle" font-weight="bold" style="stroke-width:0">2.51</text>
<text x="490.40" y="99.80" font-size="6.5" text-anchor="middle" font-weight="bold" style="stroke-width:0">4.53</text>
<g clip-path="url(#cp10)"><clipPath id="cp10"><rect x="247.7" y="116.5" width="71.90" height="71.80"/></clipPath><path d="M260.5 178.1 259.9 178.2 259.3 177.7 259.9 175 259.5 174.1 259.1 174 257.9 175.3 255.5 175.8 254.9 175.5 254.1 174.3 252.9 174 252.1 173.3 251.4 171.7 251.5 170 250.8 169.3 249.5 165.9 248.6 164.3 248.9 163.3 250.5 162 250.5 160 249.9 159 250.2 158.7 250.5 158.8 250.9 159.3 251.5 159.6 252.2 159.3 252.7 157.7 253.3 156.7 253.9 155 255.5 153.4 256.9 153 257.8 152.3 258.6 150.7 259.2 150 259.9 149.9 261.2 150.4 261.6 150.7 262.2 151.7 262.5 151.7 263.2 151.3 265.6 149 266.7 147.3 266.6 146.7 265.9 145.3 265.9 144.9 266.2 144.6 267.5 144.6 269.2 144.2 269.7 143.7 270.3 142 270.9 141.4 271.9 141.3 273.3 142 274.9 142.1 275.9 141.1 277.5 140.1 278.9 137.9 279.5 137.7 280.2 138 280.6 138.7 280.9 139.9 281.2 139.8 281.7 138.7 282.2 138.4 282.9 138.3 283.5 138.9 283.9 138.9 284 138.7 283.3 138 283.3 137.3 283.6 136.7 284.5 136 290 134.7 290.2 134 290.2 133.3 289.5 132.7 288.2 133.3 286.9 133.3 285.2 134.2 284.5 134 284.1 133 285.4 131.3 285.1 130 285.4 129.7 285.9 129.7 287 130.7 288.7 130.7 288.2 129 288.8 127.7 289.1 125.3 289.9 124.4 290.9 124.1 291.9 124.2 292.4 124.7 292.5 126.3 292.8 126.7 293.5 126.8 294.9 126.7 295.2 126.3 295.1 125.3 295.5 123.4 294.2 122.7 293.7 122 294.7 120.3 294.3 118.3 294.6 117.7 294.9 117.5 295.5 117.8 296.3 118.7 296.6 119.7 297.2 120.1 297.5 119.7 296.9 118.7 296.8 118 297.3 116.7 297.5 116.6 299.2 116.7 300.1 118.7 301.2 119.9 301.5 120 303.9 118.3 305.9 118.2 307.2 117.4 308.2 117.4 309 118 308.9 119.3 310.5 121 310.9 122.8 312.2 123.8 312.5 123.8 312.8 123.3 312.5 122.3 313.2 121 312.5 118.7 312.1 118.3 310.2 118.1 309.9 117.7 310 117.3 310.3 116.7 310.9 116.6 313.3 116.7 313.5 117.1 314.5 117 314.9 117.7 314.2 119 314.7 120.7 313.8 121.7 313.7 122.3 313.9 122.7 316.5 122.9 317.9 124 318.1 125 317.8 128.3 318.2 129 319.2 129.9 319.3 130.3 319 132.3 317.1 135.3 318.2 137 318.2 139.3 319.2 140.4 319.4 143 319.2 144.6 318.7 145.3 319.3 147 319.2 152.6 317.9 154 317.8 155.3 317.5 155.9 316.9 156.1 316 156 315.5 155.5 315.3 154 313.9 153.7 313.2 153.8 313.1 154.3 313.5 155.3 314.2 156.3 314.8 156.7 314.9 157 314.5 157.3 313.2 157.5 312 158.3 311.5 159.3 311.8 160.3 311.5 160.7 311.2 160.6 310.5 159.9 309.9 160.2 309.7 161 310.3 162 310.3 162.7 308.7 165.3 307.2 166.3 306.5 167.7 305.2 168.4 303.2 168.5 302.7 168.3 302.5 167.7 303.1 166.3 303 165.7 300.9 165.2 300.4 165.3 299.7 166.3 297.9 167.9 297.2 168 295.9 167.7 295.5 167.8 295.2 168.3 295.3 169 295.5 169.4 296.5 169.9 297 170.3 296.9 172.3 296.5 172.6 296.2 172.4 296.1 171.3 295.5 170.6 292.5 171.7 292.1 172 292.2 172.5 293.5 172.8 294.2 173.3 294.2 174.1 293.5 174.8 292.9 174.9 292.3 174.7 291.8 173.3 291 172.7 290.9 172 291.4 171.3 291.3 170.7 288.2 170.2 287.9 170.3 287.9 171.5 286.5 172.4 285.9 173.3 286.9 173.8 287.5 174.3 287.5 175.3 286.9 175.9 285.9 175.8 284.9 174.4 283.7 174.7 282.9 173.5 282.2 173.2 281.5 173.5 280.6 175 280.7 176.7 280.2 177.2 278.2 176.5 277.2 177.1 275.5 176.2 272.2 175.7 271.6 176 270.9 177.2 270.2 177.2 267.9 175.1 267.2 174.7 266.9 174.7 265.5 175.8 263.4 176.3 263.2 177.3 262.9 177.7 261.9 177.6 260.5 178.1ZM267.5 118.4 267.5 118.4ZM318.5 120.8 318.2 120.9 318 120.7 318.2 120.4 318.5 120.5 318.5 120.8ZM287.2 123.1 287.2 123.1ZM284.2 128.4 283.5 128.3 283.2 127.7 283.4 126.3 283.9 126 284.2 126.1 284.5 126.7 284.5 127.7 284.2 128.4ZM280.9 135.2 280.5 135.1 280.2 134.3 279.2 133.6 278.7 133 278.7 132.3 279.2 131.7 279.9 131.5 281 131.7 281.9 132.1 281.9 132.7 281 134 281.1 135 280.9 135.2ZM261.9 137.1 261.9 137.1ZM275.2 139.1 275.2 139.1ZM250.9 143.4 250.9 143.4ZM261.5 144.1 261.5 144.1ZM266.2 166.7 270.2 166.5 273.5 166 279.5 166.3 283.1 165.7 289.6 163.3 290.2 162.8 291.9 160.3 292.9 159.6 294.2 159.5 296.2 159.9 302.2 159.3 304.9 158.4 305 158 304.9 156.9 304.2 155.1 303.3 154 300.5 153.2 294.9 153.5 293.2 153.2 291.9 152.4 290.5 151 287.9 149.3 285.9 148.3 284.2 148.5 282.9 148.2 280.9 146.7 280.5 146.7 280.7 148.7 280.1 149.7 276.5 151.7 274.2 153.6 272.2 154.5 270.5 156.1 267.9 157.3 266.5 158.6 260.6 162.7 259.5 163.8 258.9 165 259.5 166.1 260.5 166.8 266.2 166.7ZM262.5 150 262.3 149.7 262.5 149.5 262.7 149.7 262.5 150ZM249.5 152.1 249.5 152.1ZM251.2 155.4 251.2 155.4ZM313.2 165.4 312.2 165.1 311.7 164.3 311.7 163.3 312.5 162.7 313.5 162.8 314.2 163.7 314.2 164.7 313.2 165.4ZM305.9 170.1 305.9 169.9 305.9 170.1ZM304.2 173.7 304.2 173.7ZM277.9 175.7 277.9 175.3 277.5 175.1 277.2 175.3 277.5 175.7 277.9 175.7ZM290.9 175.8 290.9 175.5 291.1 175.7 290.9 175.8ZM284.9 177.8 284.9 177.6 284.9 177.8ZM253.9 178.7 253.9 178.7ZM287.9 178.7 287.9 178.7ZM283.2 180.7 283.2 180.7Z" fill="rgb(245,245,245)"/><path d="M298.5 118.5 298.2 118.5 297.9 118 298.2 117.5 298.5 117.6 298.8 118 298.5 118.5ZM262.5 175.4 261.2 175.6 260.3 173.7 259.2 173 258.2 173.3 257.5 174.5 256.5 174.7 255.7 174.7 255.4 174 255.9 173 255.8 172.3 253.5 171.3 253 170.3 252 167.7 250.6 166.3 249.7 164.7 249.8 163.7 251.4 162.7 251.8 161 252.9 160.3 253.3 158.3 254.5 156.2 256.2 154.6 258.5 153.4 259.2 154.4 260.2 154.7 260.9 154.3 262 153 266.9 149.1 267.9 149.2 269.2 150.3 269.5 150.2 270.2 148.9 270.9 148.2 272.5 148.3 274.2 147.8 274.9 147 274.7 146.3 272.5 146.4 270.8 145 270.7 144.3 271.1 142.7 271.9 142.4 274.2 143.3 275.1 144 275.7 145.3 276.9 145.7 278 145 278.3 144 278 143 277 142.3 277 142 278.5 141.2 280 143.3 279.9 144.3 279.3 145.7 280 148 279.8 149 275.9 151.3 274.2 152.9 271.9 154.1 270.5 155.5 267.9 156.7 266.2 158.2 260.3 162.3 259.2 163.5 258.4 165 258.6 165.7 259.9 167.1 260.5 167.3 262.5 167.1 265.5 167.2 269.9 167 273.5 166.5 279.9 167.1 281.5 166.5 283.9 166.1 288.5 164.2 289.9 163.8 290.5 163.3 292.3 160.7 293.2 160.1 294.2 160 296.2 160.5 298.5 160 301.9 159.9 305.5 159.1 305.8 158.7 305.1 156 303.9 153.7 300.5 152.7 295.2 153 293.5 152.8 292.2 152.1 290.9 150.7 288.5 148.9 286.2 147.6 284.2 147.8 282.9 147.4 282.2 146.7 282.1 146 282.7 145.3 284.9 144.3 285.5 143.7 285.3 142.7 284.2 142.1 284 141.7 284.1 140.7 284.9 139.6 285.5 139.3 286.2 139.4 288.2 139.9 289.5 140.8 290.3 140.3 290.5 139.3 288.9 139 287.7 137.3 287.5 136.7 287.9 136.1 288.9 135.9 290.2 136.5 291.5 138.4 292.7 138 292.9 137 292.2 134.7 293.2 133 292.5 132.2 291.2 131.9 290.5 131.4 290.2 130.7 290.2 129.7 291.2 128.9 292.5 128.8 293.2 128 294.2 127.5 296.9 127.5 297.4 128 298.2 129.3 298.5 129.2 298.8 128.7 298.7 128 297.5 125.3 298.1 124.3 297.6 123.3 297.7 122.7 298.2 122.6 299.5 123.4 300.5 123.3 300.7 122 301 121.3 303.5 119.8 304.2 119.6 304.5 119.7 304.8 120.7 305.2 121.1 307.9 120.9 309.2 121.4 309.5 121.8 309.7 123.7 308.1 125.3 308.2 125.7 309.5 126.3 311.2 125.6 313.5 125.9 316.5 128 316.7 128.7 316.4 129.3 314.1 129.7 314.3 130 315.5 130.3 317.5 130.3 317.9 130.7 318.1 131.3 317.9 133 317.2 133.9 316 134.7 315.8 135.3 317.4 137 317.5 137.7 317.2 139.7 318.2 140.8 319 143 318 145.3 318.3 147.7 317.4 149 317.6 152 317.5 152.3 316.9 152.5 315.2 151.5 314.2 152.4 312.2 153 312.1 153.7 312.8 155.7 312.8 156.3 312.2 156.9 311.2 157 310.6 158.3 309 160 308.3 161.7 308.9 163 308.5 164.1 307.9 164.7 305.9 165.1 304.9 165.7 305.6 166.7 305.3 167.3 304.5 167.5 304.2 167.3 304.1 166.7 304.4 165.7 303.6 165 300.2 164.1 299.8 164.3 299.1 165.7 297.5 166.8 295.2 166.5 294.1 167.7 292 168.3 290.5 169.4 289.5 169.4 287.9 168.6 287.2 168.7 286.2 170.3 285.8 172 284.9 172.9 284.2 173 282.9 172.4 281 172.7 280.2 173 279.3 174 278.5 174.3 276.5 173.6 275.2 174 274.5 174 272.2 173.6 271.2 173.1 270.5 173.2 269.2 174.1 268.5 174.2 266.9 173.1 265.8 173 265 173.3 265.3 174.3 265 175 263.5 175.1 262.5 175.4ZM316.9 125 314.5 124.9 314.1 124.7 314.1 124.3 314.9 123.7 316.1 123.7 317 124.3 316.9 125ZM300.2 125.3 300.7 125 300.9 124.6 299.6 125.3 300.2 125.3ZM296.4 136.3 296.2 136 296 136.3 296.4 136.3ZM290.9 145.7 291.3 145 291.2 144.7 290.9 144.6 290.5 144.7 290.4 145 290.5 145.6 290.9 145.7ZM260.5 152.5 259.5 152.6 259.3 152.3 259.3 151.7 259.7 151 260.2 150.9 260.9 151.4 261 152 260.5 152.5ZM313.2 164.4 312.9 164.4 312.6 164 312.9 163.6 313.2 163.7 313.2 164.4Z" fill="rgb(232,232,232)"/><path d="M307.9 160.2 307.5 160.3 307.2 160.1 306.5 158.9 305.3 155.3 303.9 153.1 302.2 152.9 300.5 152.3 297.9 152.6 294.5 152.7 293.5 152.5 292.2 151.6 288.5 148.1 286.5 146.9 284.2 147.3 283.5 147 283.2 146.3 283.5 145.9 284.5 145.3 286.9 144.8 288.5 145.3 289.8 146.7 290.9 147.2 291.5 147.3 291.9 147 292.1 145.7 292.9 144.7 293.5 144.1 294.9 143.7 295.3 143 295.2 142.7 294.9 142.5 292.9 143.1 290.9 142.7 290.5 142 290.6 141.3 291.2 140.1 291.9 139.4 292.5 139.2 294.2 139.2 295.2 137.8 296.5 138 296.9 137.8 297.6 136.3 297.6 135.3 296.5 134.3 295.9 134.1 295.4 135.3 294.5 136.3 293.9 136.4 293.5 136.1 293.2 135.3 293.2 134.7 294.1 133.3 294.1 133 292.9 131.5 291.6 130.7 291.6 130.3 293.5 129.8 293.9 128.7 294.3 128.3 296.2 128.3 297.1 129 297.2 131 297.5 131.3 300.5 132.1 301.5 132 301.7 131 301.5 129.3 301.2 128.9 299.9 128 299.7 127 300.2 126.3 301.9 125.3 302.3 123.7 301.5 122.3 301.6 122 301.9 121.7 303.2 121.3 304.9 121.9 306.9 121.9 308.4 123.3 308 124 306.9 124.7 305.2 124.9 303.8 126 303.7 126.3 303.9 126.6 305.2 125.8 305.9 125.7 306.9 125.9 309.5 127.3 310.9 126.7 311.5 126.8 313.3 130.3 316.9 131.8 317.3 132.3 316.9 133 315.9 133.5 314.8 135.3 315.1 136 316.8 137.3 316.8 138 316.1 139.3 316.1 139.7 316.8 141.3 317.5 141.8 318.2 142.6 318.3 143.7 316.9 145.5 315.9 144.2 315.5 144.1 314.8 145 314.8 145.3 315.7 147 315.9 148.3 315.5 148.9 312.9 148.5 311 149.7 312.8 151.3 312.7 151.7 311.7 152.3 311.3 153 311.5 155.1 310.5 155.6 309.9 158 307.9 160.2ZM314.5 128.5 313.5 128.3 313.4 127.7 313.7 127.3 314.2 127.3 314.7 127.7 314.9 128.3 314.5 128.5ZM289.9 138.2 289.5 138 289.5 137.6 290 137.7 290.1 138 289.9 138.2ZM297.5 140.7 298.1 140 298.1 139.3 297.5 138.7 296.9 138.4 295.9 139.7 295.8 140.3 296.5 141 297.5 140.7ZM315.3 139.3 315.2 139 314.6 139 314.9 139.6 315.3 139.3ZM286.2 140.8 285.5 140.8 285.5 140.3 286.3 140.3 286.5 140.7 286.2 140.8ZM273.2 145.7 272.5 145.5 272.3 145 272.5 144.3 273.2 144 273.8 144.3 274 145 273.9 145.3 273.2 145.7ZM301.6 145 301.9 144.7 301.8 144.3 301.2 144.1 301.1 144.7 301.6 145ZM312 146.7 312 146.3 311.5 146 311.3 146.3 311.7 146.7 312 146.7ZM262.2 174.3 261.9 174.3 261.1 173.3 260.2 172.7 259.2 172.5 257.2 172.5 253.9 170.4 253.4 169.7 253 167.3 252.2 166.4 250.9 165.3 250.5 164.7 250.5 164.3 250.9 164 251.9 164.2 252.2 164 252.5 162 253.9 161 253.8 159.7 254 158.7 254.9 157.2 256.2 156.3 257.2 155 258.2 154.8 259.9 155.4 261.2 155 262.7 153.3 266.9 150.1 267.9 150.3 268.9 151.5 269.5 151.7 270.9 149.3 274.2 148.8 275.4 148 276.2 146.9 278.2 146.4 278.7 146.7 279.2 147.6 279.1 148.7 277.9 149.2 276.6 150.3 275.5 150.8 274.2 152.4 271.5 153.8 270.2 155.2 267.9 156.2 266.2 157.7 260.6 161.7 259.3 163 258.2 164.6 258.1 165.3 259.5 167.3 260.5 167.7 262.9 167.4 265.9 167.7 270.2 167.4 273.5 166.8 275.9 167 277.5 167.6 279.9 167.9 281.5 167 284.2 166.6 286.2 165.5 290.2 164.2 292.9 160.7 293.9 160.3 296.2 161 298.5 160.3 301.5 160.4 304.5 159.8 305.2 159.9 306.6 160.7 307.8 163 307.5 163.4 305.5 164.1 302.5 164.1 301.2 163.5 300.2 163.5 299.2 164 298.5 165.1 297.5 165.7 296.9 165.7 295.2 164.8 294.9 164.9 293.5 166.6 291.9 167.6 290.9 167.7 288.5 167.4 287.9 167.6 286.2 168.3 285.1 170.3 284.9 171.7 284.5 171.9 284.1 171.7 283.9 170.7 283.5 170.4 283.2 170.5 282.9 171.3 282.2 171.8 281.2 172 280.2 171.9 279.2 171.3 278.7 170 277.9 169.7 277.5 169.8 277.1 170.7 276.5 171.2 275.6 172.7 274.9 173.2 273.9 173 269.9 171.4 269.4 171.7 269.6 172.7 268.9 173.2 266.9 172.4 264.5 172.3 263 173 262.2 174.3ZM294.7 147 294.5 147 294.7 147ZM310.2 150.7 310.8 150 310.7 149.7 309.2 149.3 308.9 149.3 308.5 149.6 308.2 150.3 308.3 150.7 308.9 151 310.2 150.7ZM278.5 173 277.9 173.1 277.5 172.7 277.4 172 277.9 171.2 278.2 171.2 278.5 171.7 278.5 173Z" fill="rgb(215,215,215)"/><path d="M304.2 123.7 303.5 123.9 303.5 123 304.2 122.8 304.6 123 304.2 123.7ZM307.9 158.9 307.2 158.7 306.8 158.3 305.6 155 304.2 152.7 302.5 152.6 300.5 151.8 298.5 152.2 293.9 152.2 292.2 151.2 289.6 148.3 289.5 148 289.9 147.7 292.5 148.3 294.5 148.3 295.2 148 297.2 146.7 297.2 146.3 295.2 145.2 294.2 145.7 293.6 145.7 293.9 145 295.2 144.8 295.9 143.9 296.9 143.3 297.5 142.3 298 142 302.1 140.7 302.2 140.3 301.9 140.1 300.9 140.1 300.5 139.9 299.9 139 300.5 137.7 300.5 137.3 299.9 137.4 299.2 138.3 298.5 137.7 298.4 137.3 298.5 136.3 299.2 135.1 300.5 135.6 301.8 134 303.5 133.9 304.1 133 303.9 132.4 302.9 131.8 302.5 131.3 302.4 128.7 300.6 127.3 300.9 126.7 301.5 126.4 302.2 126.6 303 127.7 304.5 128.3 305.1 127 305.5 126.6 306.5 126.4 307.8 127 309.4 129 308.5 129.6 308.4 130.3 310.2 134 310.5 134.4 311.9 134.4 312.5 134.8 313.8 137 313.5 138 311.7 139 311.5 140.7 311 142.3 310.5 143 309.4 143.7 309.4 145.7 307.3 147.7 307.6 149 307.2 150.7 307.4 151.7 307.9 151.9 310.2 152 310.4 152.3 309.8 154 309.5 156.7 307.9 158.9ZM311.5 130.8 310.9 130.5 309.8 129 310.9 128.8 311.5 129.3 312 130 311.9 130.6 311.5 130.8ZM295.9 132.1 294.9 132.3 294.5 132 294.4 131.3 295.5 130.7 295.9 131.3 295.9 132.1ZM313.9 134.3 312.5 133.6 312 133 312.2 132 313.2 131.2 314.5 131.3 315.3 132.3 314.9 133.7 314.5 134.1 313.9 134.3ZM299.2 134.9 298.9 134.9 297.7 134 296.9 132.7 298.2 132.4 299.7 133 299.8 133.7 299.2 134.9ZM309.8 138 309.5 137.2 309.2 137.2 308.9 138 309.2 138.3 309.5 138.3 309.8 138ZM313.5 141.1 313.2 141.2 312.9 140.7 313.2 140 313.5 140 313.8 140.3 313.5 141.1ZM292.5 141.7 291.8 141.3 291.8 140.7 292.2 140.4 292.9 140.7 293.4 141.3 292.5 141.7ZM306.9 142.3 306.1 141.3 305.5 141.1 305.3 141.3 305.5 141.9 306.1 142.3 306.5 142.5 306.9 142.3ZM306.4 147.7 305.9 145.7 303.5 145.3 302.2 143.5 300.5 142.5 300.2 142.9 300.1 145 300.7 146 303.2 147.7 304.9 147.3 305.9 147.9 306.2 147.9 306.4 147.7ZM317.2 143.6 316.8 143.3 316.9 143 317.4 143 317.5 143.3 317.2 143.6ZM310.9 148.5 310.1 148.3 309.9 147.7 310.2 147.3 310.9 147.5 311.2 147.9 310.9 148.5ZM274.9 172.4 273.9 172.4 269.9 170.4 269.2 170.6 267.9 171.8 266.9 171.8 265.2 171.3 263.9 171.8 261.5 172.1 257.5 171.8 255.1 170.3 254.5 169.3 254.1 167.3 252.7 165.7 253 164.3 252.9 163 253.2 162.3 254.9 161.3 255 161 254.6 160 254.8 159.3 256.5 158.7 256.8 158.3 257 156.3 257.4 155.7 258.2 155.6 259.2 156.3 259.5 156.3 261.5 155.5 263.5 153.8 265.2 154.4 266.4 153 266.5 151.6 267.2 151.4 268.2 152.4 269.9 152.4 270.3 152 270.8 150.3 271.2 150 272.5 150 274 150.7 274.2 151.3 273.4 152.3 271.2 153.5 269.9 155 267.9 155.7 265.9 157.5 260.2 161.7 258.5 163.5 257.8 164.7 257.7 165.3 259.2 167.4 260.2 168.1 262.9 167.6 265.9 168.2 270.2 167.8 273.2 167.1 275.9 167.5 276.5 168 276.5 168.3 275.2 172 274.9 172.4ZM292.2 166.7 291.5 167 290.5 166.9 288.7 166 288.5 165.7 289.2 165.1 290.5 164.6 292.5 162.3 292.9 161.3 293.5 160.8 294.5 160.8 296.2 161.8 297.3 161 298.5 160.6 301.5 160.9 304.5 160.5 305.9 161.2 306.6 162.3 306.3 163 305.9 163.2 304.2 162.8 302.9 163.3 301.8 162.7 301.2 162.6 299.2 163.4 297.9 164.7 297.2 164.9 296.2 164.5 295.5 163.3 294.5 163.9 293.3 165.7 292.2 166.7ZM287.2 167 286.2 167.3 285.6 167 285.6 166.7 286.5 166 288 166 287.2 167ZM281.5 169.5 281.2 169.6 280.8 169 280.9 168.3 281.5 167.7 282.5 167.5 283.7 167.7 283.9 168 283.8 168.3 282.5 168.8 281.5 169.5ZM281.5 171.2 280.8 171 280.8 170.3 281.2 170 281.7 170.7 281.5 171.2Z" fill="rgb(197,197,197)"/><path d="M306.9 128.1 306.2 128 306 127.3 306.5 127.1 307 127.3 307.1 127.7 306.9 128.1ZM306.9 130 306.9 130ZM303.9 131.3 303.3 131 303.2 130.7 303.9 130.2 304.3 130.3 304.6 131 303.9 131.3ZM309.9 142.1 309.2 142.1 308.5 141.5 306.9 140.9 304.8 139.3 305.5 137.3 304.4 135.7 304.5 134.3 305.2 133.3 306.6 133 307.1 131.7 307.5 131.3 308.5 132 309 133.7 308.9 135.3 308 137.7 308 138.3 308.9 140 310 141 309.9 142.1ZM314.2 132.8 313.9 132.9 313.5 132.7 313.5 132 314.2 132 314.2 132.8ZM311.9 137.8 311 137.7 310.4 136.7 310.5 135.7 311.1 135.3 311.9 135.4 312.5 136.3 312.5 137.3 311.9 137.8ZM302.2 138.9 301.5 138.7 301.4 138.3 301.8 136.3 302.2 135.9 302.5 136 302.8 136.7 302.6 138.3 302.2 138.9ZM305.5 144.7 304.5 144.8 303.9 144.4 303.3 143 302.2 142.4 302.2 142 302.9 141.8 305.9 143.3 306.5 144 306.4 144.3 305.5 144.7ZM308.2 145.4 307.9 145.5 307.6 145.3 307.5 144.6 308.2 144.6 308.2 145.4ZM307.5 157.1 306.9 157 306.5 156.6 304.9 152 304.5 151.8 302.8 152.3 300.9 151.3 298.9 151.8 294.2 151.9 292.5 151 292 150.3 291.6 149.3 291.8 149 292.9 148.9 295.4 149.3 296.5 148.2 298.3 148 299.5 147.3 301.2 147.5 302.5 148.7 304.5 148.4 304.9 149 305.2 150.2 305.9 150.3 306.2 150.7 306.4 152 306.7 152.7 308.3 153.7 308.7 154.3 308.9 156 307.5 157.1ZM272.2 152.4 271.5 152.6 271.1 152.3 271.1 151.3 271.5 150.8 272.2 150.9 272.8 151.3 272.7 152 272.2 152.4ZM259.2 171.4 256.9 170.9 255.7 170 254.9 167.2 253.6 165.7 253.7 162.7 255.5 161.7 256.2 160.4 257.5 159.7 258.9 157.9 262.9 155.3 263.9 154.9 265.5 155.2 267.2 153.6 269.2 153 270.2 153.3 270.2 154 269.9 154.4 267.9 155 265.4 157.3 262.2 159.6 259.2 162.2 257.6 164.3 257.3 165 257.4 165.7 259.9 168.5 260.5 168.6 262.2 167.9 263.2 167.9 264.7 168.3 265.2 169 264.7 170.3 263.9 171.1 259.2 171.4ZM297.9 163.8 297.2 164 296.8 163.3 297 162 297.5 161.4 299.2 160.9 300.7 161.3 300.8 161.7 300.4 162.3 297.9 163.8ZM291.5 166.1 290.9 165.7 291.5 164.3 292.2 163.6 293.2 163.2 293.5 161.5 293.9 161.3 294.5 161.4 295 162 294.9 162.5 293.6 163.3 293.2 164.7 292.5 165.5 291.5 166.1ZM267.9 171.1 267.2 171.2 266.5 170.7 266.4 169.3 267 168.7 269.5 168.6 272 167.7 273.2 167.5 274.9 167.8 275.4 168 275.6 168.3 275.2 169.3 273.5 170.5 272.2 170.5 269.5 169.2 269.2 169.2 267.9 171.1Z" fill="rgb(176,176,176)"/><path d="M307.2 137 306.9 137.3 305.5 135.7 305.3 135 305.5 134.5 307.5 134.6 307.9 135 307.8 135.7 307.2 137ZM307.2 139.9 306.5 139.7 306.3 139.3 306.2 139 306.5 138.2 306.9 138.3 307.2 138.8 307.4 139.7 307.2 139.9ZM299.2 151.1 297.5 151.2 296.8 150.7 297.5 149.5 298.9 149.7 300.2 149.3 300.8 149.3 300.9 150 299.2 151.1ZM295.2 151.4 294.2 151.4 293.4 151 292.6 150.3 292.7 149.7 293.2 149.6 296.1 150.7 296 151 295.2 151.4ZM303.2 151.8 302.3 151.7 301.8 150.7 302.4 150 303.5 149.7 303.9 150.1 303.9 151 303.2 151.8ZM307.5 155.7 307.2 155.7 307.2 154.7 307.6 155 307.5 155.7ZM263.2 158.4 262.5 158.4 262.2 158.1 261.9 157 262.5 156.2 263.5 156 264.5 156.3 264.8 156.7 264.2 157.7 263.2 158.4ZM258.5 170.1 257.2 170.1 256.5 169.7 255.4 166.7 254.5 165.7 254.6 163.3 254.9 162.8 257.9 160.3 259.1 158.7 260.2 158.4 261 159 261.1 159.3 261 160 258.4 162.7 257 164.7 256.8 165.3 257 166 258.3 167.3 259.2 169 259.1 169.7 258.5 170.1ZM298.2 162.7 297.8 162.3 298.2 161.6 299.2 161.4 299.8 161.7 299.8 162 299.4 162.3 298.2 162.7ZM273.2 169.7 272.5 169.8 272 169.7 271.5 169.2 271.4 168.7 272.5 168 273.9 168.2 274.2 168.7 273.2 169.7ZM263.9 170.4 263.2 170.6 261.5 170.5 260.8 170 260.7 169.3 261.9 168.3 262.9 168.2 263.9 168.3 264.4 168.7 264.5 169.3 263.9 170.4Z" fill="rgb(154,154,154)"/><path d="M256.2 164.5 255.9 164.7 255.6 164 255.9 163.1 258.5 160.9 259.5 159.7 259.9 159.6 259.9 160.3 258.9 161.1 257.2 163.5 256.2 164.5ZM257.9 168.7 257.2 168.7 256.5 168 256.4 167.3 256.5 166.9 257.2 166.9 257.6 167.3 257.9 168 257.9 168.7ZM263.5 169.8 262.2 169.9 261.6 169.3 262.2 168.7 263.2 168.6 263.8 169 263.5 169.8Z" fill="rgb(128,128,128)"/><path d="M270.3 170.6h.6M309.1 140.3h.6M260.4 172.9h.6M295.9 148.4h.6M261.3 172.6h.6M277.3 176.8h.6M267.8 173.3h.6M257.5 161.9h.6M275.9 167.9h.6M296 150.5h.6M289.9 169h.6M283.3 147h.6M256.8 167.9h.6M263.2 157.3h.6M295.7 166h.6M256.8 165.9h.6M261.6 169h.6M256.4 169.9h.6M263.5 170.9h.6M268.2 171h.6M267.9 169.8h.6M268.8 168.4h.6M254 158.6h.6M264.1 169.1h.6M263.7 157.3h.6M258.6 160.2h.6M270 154h.6M302.5 162.4h.6M262.6 173.3h.6M275.6 150.3h.6M262.8 158.9h.6M257.6 166.9h.6M298.5 161.4h.6M296.7 170.6h.6M273.8 169.9h.6M281.2 171h.6M260.7 160h.6M272.2 169.1h.6M270.9 145.2h.6M260.8 151.9h.6M265.8 170.7h.6M256.9 163.8h.6M272.4 170.2h.6M256.3 167h.6M267 154h.6M293 147.3h.6M266.7 149.9h.6M291.7 163.8h.6M249.3 164h.6M263.8 152.9h.6M251.4 165.2h.6M254.7 165.3h.6M253.5 173.3h.6M277.1 169.8h.6M263.1 170.7h.6M272.6 152.8h.6M258.2 167.9h.6M250.8 163.8h.6M260.2 168.4h.6M282.2 171.1h.6M271.6 152.6h.6M258.8 160.3h.6M283.8 172.3h.6M287.7 147.7h.6M279.7 168.9h.6M286.8 145.9h.6M273 167.9h.6M254.3 162.9h.6M283.2 167.6h.6M254.5 162.9h.6M276.1 167.7h.6M269 151.6h.6M263.4 158.2h.6M297.7 167.4h.6M268.6 153.1h.6M267 153.3h.6M272.7 168.8h.6M292.4 164.4h.6M276 149.6h.6M259.5 170.7h.6M262.9 157.3h.6M292 167.6h.6M287.5 171.4h.6M255.7 164.8h.6M293.8 170h.6M278.9 148.4h.6M256.7 161.5h.6M283.6 167.5h.6M289.6 146.5h.6M265 152h.6M284.4 170.5h.6M260.4 158.1h.6M283 171.4h.6M291.8 148.5h.6M271.1 150.7h.6M255.1 156.3h.6M298 149.7h.6M275.3 171.5h.6M279 171.7h.6M278.6 169.1h.6M259.9 156.6h.6M270.9 169.2h.6M276.2 142h.6M264.8 152.8h.6M267.2 171h.6M257 170.9h.6M261 176.8h.6M269.6 153.8h.6M301.6 164.1h.6M265.3 152h.6M269.1 154h.6M271.1 150.4h.6M275.5 146.5h.6M256.5 167.4h.6M275.1 171.9h.6M265.2 157.2h.6M263.8 153.5h.6M280.4 176.8h.6M256.7 162.8h.6M292 164.9h.6M265.2 168.6h.6M270.2 154.7h.6M260.7 155.3h.6M277.2 148.8h.6M272.8 168.6h.6M261.7 158.5h.6M298 149.4h.6M274.2 145h.6M260.3 160.6h.6M257.1 167h.6M260 160.3h.6M259.9 157.2h.6M281.7 171.8h.6M266.6 155.5h.6M254.3 163.1h.6M264.7 169.9h.6M297.5 164h.6M267.4 155.9h.6M255.4 165.5h.6M257.8 157.3h.6M265.3 153.1h.6M261.8 168.6h.6M273 171.7h.6M287.6 166.8h.6M258.6 171.2h.6M256.4 159.7h.6M269.7 154.9h.6M264 157.4h.6M256.6 155.1h.6M255.2 162.3h.6M264.7 170.4h.6M262.3 168.8h.6M261.2 160.2h.6M279.4 168.2h.6M259.6 160.2h.6M287 142.3h.6M255.2 163.9h.6M257.5 174.1h.6M263.1 169.2h.6M285.6 169h.6M273.2 171.9h.6M261.2 169.6h.6M295.9 147.9h.6M256.7 167.3h.6M257.7 156.8h.6M292.5 150.4h.6M262 169.8h.6M291.4 134h.6M268.1 170.4h.6M258.3 168.2h.6M286.9 140.6h.6M282.5 168.2h.6M252.8 163.7h.6M308.4 160.6h.6M255.4 159.9h.6M264.9 156.8h.6M270.8 169.6h.6M263.6 169.5h.6M272.9 174.8h.6M292.9 139.9h.6M263.9 155.4h.6M274.3 151h.6M275.5 150.2h.6M263.8 172.2h.6M259.4 159.6h.6M272.8 145.4h.6M258.5 153.7h.6M293.1 161.9h.6M292.3 146.7h.6M290 165.8h.6M254.8 160.3h.6M256.1 162.6h.6M279 148.7h.6M265.8 172h.6M252.4 161.5h.6M262.3 159.7h.6M266.6 172.1h.6M255.5 164.7h.6M254.6 172.2h.6M291.6 140.5h.6M262.5 169.7h.6M274.8 169.1h.6M255.7 163.6h.6M256.1 159.8h.6M277 167.6h.6M266.6 168.3h.6M253.4 165.9h.6M274.9 173.9h.6M263.5 170.1h.6M295.8 150.6h.6M257.1 172.9h.6M268.3 150.2h.6M269.8 168.7h.6M281.8 170h.6M253.2 166.7h.6M291.1 149.4h.6M260.9 169.9h.6M251.3 155.5h.6M264.5 175.1h.6M275.8 168.2h.6M283 140.3h.6M255 160.1h.6M255.8 160.3h.6M254.9 159.2h.6M301.2 149.6h.6M260.3 159.9h.6M290.3 141.8h.6M273.2 169.1h.6M259.4 158h.6M253.7 165.4h.6M298.5 148.9h.6M272.9 170.1h.6M257.2 163.7h.6M263.7 168.7h.6M258.3 161.5h.6M257 169.2h.6M252.7 167.8h.6M256.4 167.8h.6M275.5 148.8h.6M279.9 148.7h.6M290.7 166.3h.6M270.9 149.4h.6M280.4 172.6h.6M294.5 161.8h.6M258.6 159.4h.6M258 167.9h.6M288.7 146.7h.6M259.2 152.8h.6M294.7 169.8h.6M263.9 158.4h.6M272.4 168.8h.6M293.5 161.2h.6M256.3 167.4h.6M274.4 149.8h.6M293.4 167.2h.6M293.2 150.8h.6M262.9 168.9h.6M257.1 161.7h.6M287.6 145.8h.6M259.4 169h.6M250.8 164h.6M271.9 169.9h.6M253.5 158.2h.6M263.7 157.2h.6M255.4 175h.6M270.8 151.8h.6M279.9 170.2h.6M285.8 140.6h.6M271.6 170.8h.6M263 156.4h.6M254.7 155.5h.6M269.1 175h.6M259.6 157.9h.6M305.9 164.1h.6M291.8 149.2h.6M264.1 157.9h.6M272 151.4h.6M274.4 168.3h.6M275.1 169.6h.6M293.9 145.3h.6M263.6 170.3h.6M253.5 163.2h.6M259.5 160.2h.6M266.1 155.8h.6M277.6 172.6h.6M273.2 149.9h.6M267.8 171.3h.6M269.7 154.2h.6M290.3 165.3h.6M275.9 175.3h.6M301.5 162.5h.6M299.2 151.6h.6M303.1 168.1h.6M309.1 153.9h.6M293 150.9h.6M308.2 154h.6M295.9 164.2h.6M307 156.2h.6M297.2 166.1h.6M302.4 149h.6M306 152.5h.6M306.2 151.3h.6M302.7 151.9h.6M292.7 150.1h.6M294 163h.6M304.5 160.9h.6M304.5 148.2h.6M298 162.7h.6M301.9 151.1h.6M296.5 151.3h.6M300 151h.6M308.7 153.5h.6M298.5 161.7h.6M290.4 166.4h.6M306.4 149.1h.6M297.3 164.2h.6M303.9 161.1h.6M307 155.7h.6M294.4 150.9h.6M304.4 164.6h.6M299.5 151.2h.6M293.9 161.7h.6M307.1 156.7h.6M297.4 148.3h.6M303.5 161.6h.6M294.5 150.3h.6M294 164.5h.6M298.9 162.1h.6M295.8 148.9h.6M305.1 161.7h.6M300.1 161.4h.6M302.8 161.4h.6M297.5 151.7h.6M300.5 161.5h.6M302.5 151.4h.6M302.8 151.2h.6M302.9 163.1h.6M307.5 158.6h.6M299.1 161.7h.6M308.2 155h.6M303.6 151.8h.6M297.2 162.3h.6M303.6 151.2h.6M305 149h.6M309.9 157.9h.6M303.7 150.6h.6M309.7 155.1h.6M303.7 149.8h.6M298.1 163.3h.6M308 163.1h.6M308.1 159.6h.6M307.2 153.4h.6M294.6 148.3h.6M294.5 161.5h.6M302.6 150.6h.6M296.7 164.4h.6M292.3 164.4h.6M297.8 163.2h.6M295.5 162.3h.6M298 151h.6M294.7 151.5h.6M306.9 165.1h.6M307.3 158.1h.6M304.2 130.5h.6M304.9 141.2h.6M298.5 122.6h.6M298.4 134.4h.6M305.8 132.9h.6M313.9 143.2h.6M313.6 128.4h.6M310.6 154.1h.6M304.6 129.2h.6M316.4 138.9h.6M314.6 127.9h.6M302.8 134h.6M315.8 137.5h.6M295.8 139.4h.6M306.2 136.1h.6M302.5 129.6h.6M306.4 128.1h.6M312.7 137.2h.6M313.8 140.1h.6M312 136.7h.6M300.9 132.6h.6M313 132.3h.6M316.7 132.7h.6M304.1 141h.6M307.3 139.8h.6M307.7 127.5h.6M310.4 143.3h.6M306.2 138.9h.6M304.5 142.5h.6M299.8 150.3h.6M311.4 131h.6M312.1 134.8h.6M311.4 140.7h.6M290 129.4h.6M297.9 143.5h.6M308.6 140.1h.6M289.9 125.4h.6M307.5 138.7h.6M302.9 131.8h.6M295.5 130.5h.6M307.3 145.9h.6M308.3 155.3h.6M309.9 129.7h.6M304.8 147.7h.6M307.4 138.8h.6M306.3 137.2h.6M307 133.6h.6M305.9 145.7h.6M318.5 120.5h.6M298.7 146.3h.6M287.2 123h.6M314.6 137.3h.6M310.1 142h.6M318.5 152.1h.6M316.7 138.5h.6M313 137.4h.6M292 144h.6M302.9 125.8h.6M307.6 144h.6M313.5 124.9h.6M303.2 145.5h.6M307.7 123.3h.6M291.1 132.2h.6M304.2 143.2h.6M278.6 141.3h.6M301 131.6h.6M304 142.9h.6M291.7 140h.6M303.1 127.1h.6M302.9 133.6h.6M307.1 138.4h.6M289.3 143h.6M297.5 148.8h.6M303.2 150.6h.6M302 145.8h.6M307.3 140.5h.6M311.3 127.5h.6M308.8 133.9h.6M291.4 135.6h.6M297 128.5h.6M307.9 143h.6M313.7 148.5h.6M308.1 139.6h.6M289.8 138.2h.6M301.7 137.2h.6M314.2 131.3h.6M306 132.2h.6M309.9 135.2h.6M294.2 140.3h.6M302.7 137.4h.6M303.9 135.7h.6M304.8 136.6h.6M307.6 136.9h.6M313.2 136.5h.6M308 131.1h.6M308.3 131.9h.6M307.2 141.3h.6M305.4 134.1h.6M316.3 123.9h.6M302.2 134.1h.6M309.2 132.3h.6M307.8 134.2h.6M299.3 130.9h.6M307 130.1h.6M311 142.2h.6M309.4 129.1h.6M296.7 125h.6M316.9 124.9h.6M306.2 130.2h.6M304 131.1h.6M307.4 134.8h.6M294.5 128.4h.6M312.4 148.5h.6M310.5 136.8h.6M309.7 146.6h.6M303.8 145.4h.6M303.6 123.4h.6M304.1 130.9h.6M317.9 141.2h.6M295.8 131.2h.6M299 134.9h.6M308.4 135h.6M303.7 128.2h.6M304.6 131.1h.6M316.4 142.5h.6M300.1 127.4h.6M310.9 124.3h.6M300.4 124h.6M295.6 137.9h.6M305.5 132.5h.6M298.3 118h.6M311.1 153.1h.6M303 148.6h.6M297.8 137.3h.6M309.1 156.1h.6M291.6 130.2h.6M311.7 138.6h.6M311.2 140.1h.6M299.8 150.2h.6M314.9 146h.6M303.8 152.2h.6M307.4 146h.6M301.5 126.6h.6M313.2 146.8h.6M305 142.9h.6M296.2 128.9h.6M307.8 142.2h.6M315.4 128.4h.6M299.2 135.9h.6M299.8 136.5h.6M295 132.5h.6M305.6 147h.6M309.2 144.9h.6M307.7 140.1h.6M299.1 137.9h.6M307.6 137.3h.6M291 125.3h.6M296.7 127.5h.6M310 152h.6M314.3 132.2h.6M296.7 129.4h.6M294.5 140.4h.6M308.2 135.3h.6M299.5 143.6h.6M314 134.2h.6M314.2 133.3h.6M301.2 142.6h.6M302.8 151h.6M310.6 152.9h.6M307.2 124.5h.6M300.2 132.3h.6M307.8 134.5h.6M310.4 128.2h.6M314.7 124.7h.6M307 142.7h.6M306.3 160.8h.6M298 131.7h.6M296.8 132.8h.6M290.8 143.1h.6M318.3 143.2h.6M303.7 150.3h.6M310.2 129.9h.6M302.4 146.6h.6M283.9 127.9h.6M314.7 143.7h.6M292.8 141.4h.6M303.6 138.8h.6M305.9 138.8h.6M303.6 129h.6M308.7 128.4h.6M307.3 129.5h.6M308 133.2h.6M302.4 137.8h.6M313.4 148h.6M293.4 137.1h.6M303.8 141.5h.6M316.1 150.7h.6M299.5 138.8h.6M313.2 122.3h.6M299.2 134.1h.6M299.3 147.7h.6M312 137.5h.6M317.5 144.9h.6M305.4 134.8h.6M313.8 138.2h.6M307.3 154.7h.6M318.5 147.5h.6M313.2 138.1h.6M295.9 142.8h.6M296.9 133.3h.6M297.8 145.3h.6M305.2 147.1h.6M305.1 122h.6M308.6 128.4h.6M300.1 148.1h.6M314.7 133.6h.6M301.8 122h.6M296.8 144.5h.6M317.5 129.6h.6M318 141.4h.6M299.4 142.1h.6M301.3 138h.6M303.4 160.7h.6M309.9 138.6h.6M292.9 138.8h.6M296.6 129.9h.6M309.5 139h.6M308.6 123.8h.6M298.3 140.2h.6M305.6 153.3h.6M288.5 139.1h.6M312.3 126h.6M312.9 145.9h.6M298.2 136h.6M302.6 135.5h.6M308.9 144.5h.6M308.1 124.6h.6M305.8 140.2h.6M310.6 151.1h.6M307.6 150.4h.6M299.8 133.6h.6M312.9 145.4h.6M303.5 128.5h.6M299.3 144.4h.6M309.4 157.9h.6M312.6 156.2h.6M287.9 178.9h.6M291.7 142.2h.6M249.6 152.1h.6M285 177.7h.6M302.4 141.2h.6M283.4 180.7h.6M278.6 173.7h.6M275.4 139h.6M257.8 153.9h.6M256 154.1h.6" stroke="#000" stroke-opacity="0.45" stroke-width=".6" fill="none"/><path d="M264.1 168.4 260.3 168.4 259.2 168.1 258.3 167.6 257.5 166.6 257.2 165.4 257.3 164.1 257.8 163.1 258.8 162 260.6 160.8 277.3 150.2 280.1 148.8 282.3 148.1 284.6 147.7 286.6 147.8 288.6 148.3 290.3 149.3 291.9 150.6 293.1 152.4 293.9 154.1 294.2 155.9 294.3 157.9 293.9 159.6 293.3 161.1 292.3 162.6 291 163.9 289.3 165 286.3 166.2 282.6 166.9 264.1 168.4ZM267.6 165.9 265.6 166 264.3 165.8 263.6 165.1 263.4 163.9 263.9 162.4 264.9 160.9 266.4 159.1 268.6 157.1 273.6 153.6 276.1 152.2 278.8 151 281.1 150.3 283.1 150 284.6 150.1 285.6 150.6 285.9 151.1 286 151.9 285.3 153.9 283.4 156.4 280.8 158.9 277.6 161.3 274.1 163.4 270.6 165 267.6 165.9ZM300.1 161.1 294.6 161 293.1 160.6 291.8 159.9 290.7 158.6 290.2 157.1 290.3 155.4 291.1 153.9 292.1 152.9 293.1 152.4 296.1 151.9 301.8 152 303.3 152.4 304.6 153.1 305.6 154.2 306.1 155.6 306.2 157.1 305.7 158.6 304.8 159.7 303.6 160.5 302.1 160.9 300.1 161.1ZM290.3 160.9 288.3 160.8 286.3 159.8 284.9 158.1 284.3 156.1 284.4 154.1 285.4 152.1 287.1 150.7 289.1 150.1 291.1 150.2 293.1 151.2 294.5 152.9 295.1 154.9 295 156.9 294 158.9 292.3 160.3 290.3 160.9Z" fill="none" stroke="#000" stroke-width="1.1"/><path d="M264.1 168.4 260.3 168.4 259.2 168.1 258.3 167.6 257.5 166.6 257.2 165.4 257.3 164.1 257.8 163.1 258.8 162 260.6 160.8 277.3 150.2 280.1 148.8 282.3 148.1 284.6 147.7 286.6 147.8 288.6 148.3 290.3 149.3 291.9 150.6 293.1 152.4 293.9 154.1 294.2 155.9 294.3 157.9 293.9 159.6 293.3 161.1 292.3 162.6 291 163.9 289.3 165 286.3 166.2 282.6 166.9 264.1 168.4ZM267.6 165.9 265.6 166 264.3 165.8 263.6 165.1 263.4 163.9 263.9 162.4 264.9 160.9 266.4 159.1 268.6 157.1 273.6 153.6 276.1 152.2 278.8 151 281.1 150.3 283.1 150 284.6 150.1 285.6 150.6 285.9 151.1 286 151.9 285.3 153.9 283.4 156.4 280.8 158.9 277.6 161.3 274.1 163.4 270.6 165 267.6 165.9ZM300.1 161.1 294.6 161 293.1 160.6 291.8 159.9 290.7 158.6 290.2 157.1 290.3 155.4 291.1 153.9 292.1 152.9 293.1 152.4 296.1 151.9 301.8 152 303.3 152.4 304.6 153.1 305.6 154.2 306.1 155.6 306.2 157.1 305.7 158.6 304.8 159.7 303.6 160.5 302.1 160.9 300.1 161.1ZM290.3 160.9 288.3 160.8 286.3 159.8 284.9 158.1 284.3 156.1 284.4 154.1 285.4 152.1 287.1 150.7 289.1 150.1 291.1 150.2 293.1 151.2 294.5 152.9 295.1 154.9 295 156.9 294 158.9 292.3 160.3 290.3 160.9Z" fill="#fff"/><path d="M264.3 167.1 261.3 167.3 259.6 166.9 258.9 166.4 258.5 165.6 258.5 164.9 258.8 163.9 259.7 162.9 261.6 161.6 273.8 154 278.3 151.5 280.6 150.5 282.6 149.9 284.3 149.7 286.1 149.8 287.8 150.3 289.3 151.1 290.6 152.4 291.4 153.6 291.9 154.9 292.2 156.4 292.1 157.9 291.8 159.4 291.1 160.6 290.2 161.9 289 162.9 287.6 163.8 284.8 164.8 281.3 165.5 264.3 167.1Z" fill="rgb(255,255,255)" stroke="#000" stroke-width=".45"/><path d="M263.8 165.9 262.1 165.9 260.9 165.6 260.5 165.1 260.5 164.4 261.7 163.1 265.9 160.4 275.1 154.8 279.6 152.5 282.8 151.6 284.3 151.4 285.8 151.6 287.1 152 288.3 152.8 289.3 153.9 289.8 154.9 290.2 157.1 290.1 158.4 289.6 159.6 288.1 161.4 285.6 162.9 282.8 163.7 279.3 164.4 263.8 165.9Z" fill="rgb(255,255,255)" stroke="#000" stroke-width=".45"/><path d="M270.3 163.9 266.8 163.8 266 163.6 265.7 163.1 266.7 161.9 269.1 160.1 273.8 157.1 278.1 154.8 281.3 153.5 284.1 153.2 285.3 153.4 286.3 153.9 287.3 154.6 287.8 155.4 288.2 157.1 287.7 158.9 286.6 160.3 284.8 161.5 282.6 162.3 279.8 162.9 270.3 163.9Z" fill="rgb(255,255,255)" stroke="#000" stroke-width=".45"/><path d="M268.8 164.7 267.1 164.8 266 164.6 265.3 164.1 265.1 163.1 265.5 161.9 266.4 160.4 269.6 157.2 273.8 154.2 278.3 152 280.3 151.4 282.1 151.2 283.3 151.3 284.1 151.9 284.3 152.4 284.3 153.1 283.6 154.6 282.1 156.6 279.8 158.8 277.3 160.7 274.3 162.5 271.6 163.8 268.8 164.7Z" fill="rgb(215,215,215)" stroke="#000" stroke-width=".45"/><path d="M269.1 163.6 268.1 163.7 267.2 163.4 266.8 162.9 266.8 161.9 267.2 160.9 268.1 159.6 270.7 157.1 274.1 154.8 277.8 153 280.8 152.3 281.8 152.5 282.5 152.9 282.6 153.9 282 155.4 280.6 157.1 278.7 158.9 276.3 160.6 273.6 162.2 271.1 163.2 269.1 163.6Z" fill="rgb(165,165,165)" stroke="#000" stroke-width=".45"/><path d="M270.8 162.4 269.6 162.6 268.8 162.4 268.3 161.9 268.3 161.4 269.2 159.6 271.1 157.6 274.1 155.5 277.1 154 279.6 153.4 280.3 153.5 280.9 153.9 281.1 154.6 280.7 155.6 279.8 156.9 278.3 158.4 274.6 160.9 272.6 161.9 270.8 162.4Z" fill="rgb(115,115,115)" stroke="#000" stroke-width=".45"/><path d="M271.6 161.4 270.3 161.4 270 161.1 269.8 160.6 270.4 159.4 272.1 157.6 274.2 156.1 276.6 154.9 278.3 154.5 279.1 154.6 279.4 154.9 279.6 155.4 279.2 156.4 277.3 158.4 274.3 160.4 271.6 161.4Z" fill="rgb(70,70,70)" stroke="#000" stroke-width=".45"/><path d="M272.1 160.4 271.4 160.1 271.5 159.4 272.2 158.4 273.3 157.4 276.1 155.9 277.3 155.6 278 155.9 278 156.4 277.6 157.1 276.1 158.6 274 159.9 272.1 160.4Z" fill="rgb(35,35,35)" stroke="#000" stroke-width=".45"/><path d="M273.8 159.2 272.9 159.1 273 158.6 273.7 157.9 275.4 156.9 276.1 156.7 276.5 156.9 276.4 157.4 275.7 158.1 273.8 159.2Z" fill="rgb(10,10,10)" stroke="#000" stroke-width=".45"/><path d="M300.8 159.2 296.6 159.2 294.1 158.8 293.1 158.2 292.5 157.4 292.3 156.6 292.5 155.6 293.6 154.5 295.6 153.8 299.8 153.8 302.3 154.2 303.1 154.6 303.7 155.4 304 156.1 304 157.1 303.6 157.9 302.8 158.5 300.8 159.2Z" fill="rgb(255,255,255)" stroke="#000" stroke-width=".45"/></g>
<rect x="247.80" y="116.50" width="71.20" height="71.30" fill="none" stroke="#a8a8a8" stroke-width="1.1"/>
<line x1="292.30" y1="117.00" x2="292.30" y2="187.80" stroke="#222" stroke-width="1.3" />
<line x1="292.30" y1="150.20" x2="319.10" y2="150.20" stroke="#222" stroke-width="1.3" />
<text x="305.20" y="125.30" font-size="6.5" text-anchor="middle" font-weight="bold" style="stroke-width:0">1.31</text>
<text x="305.30" y="183.30" font-size="6.5" text-anchor="middle" font-weight="bold" style="stroke-width:0">4.38</text>
<g clip-path="url(#cp11)"><clipPath id="cp11"><rect x="340.5" y="116.5" width="71.60" height="71.80"/></clipPath><path d="M395.7 118.2 395.3 118.3 394.8 118 394.7 117.3 394.9 116.7 395.7 116.7 396 117.7 395.7 118.2ZM382 118.5 381.7 118.6 381.1 118.3 381 118 381.3 117.4 381.7 117.3 382.2 117.7 382.3 118 382 118.5ZM390 124.9 388 124 386.1 121.7 386 121 386.3 120 387.3 119 388.7 118.9 389.6 119.3 390.2 120 390 121.3 390.4 121 390.5 120.3 390.9 119.7 391.7 119.3 392.2 119.7 392.4 120.3 392 122.3 390 124.9ZM398.7 121.7 397.7 121.8 397.1 121 397.2 120 398 119.2 398.8 119.3 399.3 120 399.2 121 398.7 121.7ZM358.7 179.7 356.7 178.7 355.5 177 353.3 176.2 350.7 174.7 349.7 172.9 349 172.3 348.3 172.1 347.8 172.3 347.7 172.7 348.4 173.3 348.7 174 348.3 174.5 347.7 174.5 347 173.1 346.1 172.3 345.9 171 345.1 170 344.7 169 344.7 168 345 167.3 347.2 165.7 347.6 163.7 348.5 162.3 348.3 161.8 348 161.6 346.7 162.5 346 162.4 345.4 162 344.7 160.7 346 159.8 347.3 159.7 348.7 158.3 348.9 157.3 348.6 155.3 349 154.7 349.7 154.6 351.3 155.3 352.1 154.7 352.4 153.7 351.2 151.7 351.3 151 351.8 150.7 353 150.4 354.7 149 354.7 147.7 355.3 147.1 357 146.6 358.3 147.4 360.3 147.7 360.7 147.5 360.8 147 360.7 146.4 360.1 145.7 360 145.3 360.3 144.8 361 144.7 362 145.3 363.2 145 363.9 144.7 364.7 143.5 366.7 142.1 367.3 142 368 142.4 368.7 142.3 369.2 141.7 369.7 140.7 369.8 136.7 370.3 135.9 371.3 136 372.7 137.3 375.7 137.2 376.3 137 376.5 135 376.9 134.3 377.7 133.8 379.3 133.6 379.5 133.3 379.4 132.3 379 131.8 377.7 131.7 377.1 131.3 377 131 377.3 130.4 379.3 129.9 380 129.9 380.8 131.7 381.3 132 382 132.2 382.3 131 382.7 130.3 383.3 130 384.7 130.3 385.1 130 384.7 128.7 383.3 127.8 382.9 127.3 383 126.7 383.3 126.3 386.7 125.7 388.3 125.9 389.7 125.1 391 125.3 392.3 124.3 393.7 123.9 395.3 124 396.7 123.6 398 124.2 400.5 122 402.3 121.7 403 120.3 403.7 119.9 404.3 120.2 404.8 120.7 405.7 122.9 406 123 406.6 122.7 407 122 406.2 120.7 406.3 120 406.7 119.4 407.3 119.1 408 119.1 409.7 119.9 410 120.3 410 121 409.6 123 408.8 124.7 409.4 126.3 409.1 127.7 409.5 128.3 411.7 128.9 411.7 129.3 411.4 130.7 411.5 132 411.2 133.3 411.7 134.4 411.7 135.7 411 138.3 411.2 139 411.7 139.4 411.8 141.3 411.7 141.9 410.7 142.1 410.3 142.3 409.7 143.7 409.8 144 411.7 144.3 411.8 145 411.7 146.7 411.2 147.7 411.3 148.2 411.7 148.5 411.9 150 411.8 154 411.6 156 411.7 158.7 410 159.7 409 160.9 407 161.2 406.3 161.9 404.7 162.3 401 165.6 400.7 165.7 400.1 165.3 399.8 164 399 163.6 397.7 164 396.9 165.3 395 166 394.3 166 394 165.3 394.3 164.5 395.7 164.2 396.3 163.7 396.4 163 395.7 162.4 395.3 162.4 394.3 163.6 394 163.6 392.3 163.2 390.3 163.4 389 162.8 388.3 162.8 387 164 387 165.3 386.7 166 384.3 166.7 383.7 166.3 383.3 165.6 382.7 165.4 381.1 166.3 380.7 167.7 380 168.1 379.3 167.8 378.3 166.8 377.7 166.4 375.9 166.7 374.9 167.3 375 167.7 376 168 376.6 168.7 376.7 169.3 376.3 170.1 375.7 170.4 374.3 170.2 373.7 171.6 373 172 372 171.9 371 170.7 370.7 170.7 370.1 171 369.3 171.9 368.7 172 368 171.7 367.3 171.8 366.2 172.7 365.5 173.7 365.9 175.7 365.5 176.3 365 176.6 363.3 176.7 362.3 177.4 361.7 177.5 360.9 177 360 175.7 359.7 175.5 359.1 175.7 358.2 177.3 359.3 179 359.2 179.3 358.7 179.7ZM358 121.5 357.7 121.6 357.1 121.3 357 121 357.3 120.5 357.7 120.4 358.2 120.7 358.3 121 358 121.5ZM375.7 122.9 375.3 123 374.8 122.7 374.7 122.3 375 121.8 375.3 121.7 375.9 122 376 122.3 375.7 122.9ZM380.7 123.9 380.3 124 379.8 123.7 379.7 123.3 380 122.8 380.3 122.7 380.9 123 381 123.3 380.7 123.9ZM380.7 128.7 380.3 128.6 380 128 380.3 127.5 380.7 127.4 381.2 127.7 381.3 128 380.7 128.7ZM363 130.2 362.7 130.3 362.1 130 362 129.7 362.3 129.1 362.7 129 363.2 129.3 363.3 129.7 363 130.2ZM371.7 134.3 371.1 134 371.1 133.3 372 132.6 372.7 131.2 373.7 130.6 374.6 131 374.9 131.7 374.5 132.7 372.8 133.3 372.3 134 371.7 134.3ZM380.8 138.3 382 137 380.7 135.4 380.3 135.1 380 135.1 379 136.7 379 137.3 380 138.3 380.8 138.3ZM367 136.8 366.7 136.7 366.4 136 366.7 135.5 367 135.4 367.3 135.5 367.6 136 367.3 136.6 367 136.8ZM360.3 138.9 360 139 359.5 138.7 359.4 138.3 359.7 137.8 360 137.7 360.5 138 360.6 138.3 360.3 138.9ZM368 139.7 365.8 139.3 365.4 139 365.4 138.3 366.3 137.8 368.3 138.3 368.9 139 368.8 139.3 368 139.7ZM347.7 141.2 347.3 141.3 346.8 141 346.7 140.7 347 140.1 347.3 140 347.9 140.3 348 140.7 347.7 141.2ZM356.7 142 356 141.8 355.9 141.3 356.7 140.7 357.2 141 357.3 141.3 357.2 141.7 356.7 142ZM354.3 145.2 353.7 145.2 353.3 144.3 353.7 142.5 354.3 142 355 142.2 355.2 142.7 354.8 144.7 354.3 145.2ZM361.3 143 361 142.9 360.7 142.3 361 141.8 361.3 141.7 361.7 141.8 362 142.3 361.7 142.9 361.3 143ZM359.5 167.3 361.5 166.3 363.3 164.6 366.2 162.7 367.7 161.2 376.6 154.3 378 152.4 378.5 151.3 378.3 149.6 377.8 148.7 376.3 148.1 373.7 148.4 369 152.2 362 157 360.7 158.5 358.7 159.9 355.9 162.3 355.3 163 354.9 164.3 355 165.3 355.3 166.1 356.2 167 357 167.4 358 167.6 359.5 167.3ZM357 149.7 357.8 149 357.7 148.5 356.7 148.5 355.6 149 355.5 149.3 356 149.8 357 149.7ZM349.7 152.4 348.7 152.5 348 152 347.8 151 348.3 150.3 349.3 150.1 350.4 151 350.4 151.7 349.7 152.4ZM345 157.2 344.7 157.3 344.1 157 344 156.7 344.3 156.1 344.7 156 345.2 156.3 345.3 156.7 345 157.2ZM343.7 161 343.1 160.7 343 160.3 343.1 160 343.7 159.7 344.4 160 344.7 160.7 343.7 161ZM405.6 160.3 405.3 160.3 405.6 160.3ZM344.7 166.8 343.8 166.3 343.7 166 344 165.5 344.7 165.5 345 165.9 345 166.6 344.7 166.8ZM393 167.9 392.7 168 392.1 167.7 392 167.3 392.3 166.8 393 166.7 393.3 167 393 167.9ZM409.7 171.9 409.3 172 408.8 171.7 408.7 171.3 409 170.8 409.3 170.7 409.9 171 410 171.3 409.7 171.9ZM370.7 178.9 370.3 179 369.8 178.7 369.7 178.3 370 177.8 370.3 177.7 370.9 178 371 178.3 370.7 178.9ZM350.7 184.9 350.3 185 349.8 184.7 349.7 184.3 350 183.8 350.3 183.7 350.9 184 351 184.3 350.7 184.9ZM343.3 185.9 343 186 342.5 185.7 342.4 185.3 342.7 184.8 343 184.7 343.5 185 343.6 185.3 343.3 185.9Z" fill="rgb(245,245,245)"/><path d="M388 121.5 387.7 121.6 387.1 121.3 386.9 120.7 387.3 119.9 388 119.7 388.6 120 388.7 120.3 388 121.5ZM407.7 120.7 407.3 120.3 407.7 120.1 408 120.3 408 120.7 407.7 120.7ZM389.3 123.1 388.7 123.2 388.4 122.7 389 122.5 389.3 123.1ZM407 125.4 406.2 125 406.1 124.3 408.3 122.6 408.5 123 407.9 124.7 407 125.4ZM356.7 176.4 353.9 175.7 353.2 175 353 174.2 351.3 174.1 350 172.3 348.2 171 347.7 170 347.3 169.7 346 169.7 345.5 169 345.6 168.3 346.8 167 348.3 166 348.1 164 349.1 162.7 349.3 162 348.7 160.7 348.7 160 350.3 159.4 350.8 158.7 350.7 158.2 349.9 157.3 350 156.1 350.3 156.1 351.3 156.6 352.7 154.9 353.3 154.5 354.4 154.3 354.7 154 354.6 153 354 151.7 354.3 150.6 355.3 150.5 356.7 151.6 357 151.5 357.7 150.5 359 150.3 359.9 149 361.3 148.3 362 146.7 362.6 146 364.3 145.4 365.3 144.3 366 144.2 367 144.6 367.7 144.5 369.5 143 370.3 141.3 371.3 140.3 372.3 140 373 141 373.7 141.3 374.8 138.7 375.3 138.3 377.3 138.4 377.5 138.7 377.5 140 378 140.7 378.3 140.5 378.5 139.3 378.7 139 379 139 381 139.6 382.3 140.3 382.7 140.3 382.9 140 382.7 138.7 383.5 137.3 381.4 135 381.1 134.3 381.1 133.7 382 133.4 383.7 134.3 384.7 134.5 384.9 134.3 384.6 133 384.7 132 385.7 131.7 387 132.4 387.3 132.3 388.1 129.7 387.5 127.7 388.7 127.5 390 126.3 391.3 126.3 392.3 125.1 393 124.7 394 124.5 394.7 124.7 396 126.1 396.3 126.1 399.7 124.2 400.3 124.1 401 125.3 401.3 127.7 401.7 128.5 402 128.6 402.9 127.7 402.7 126 403.3 125.3 404.3 125.3 405.3 126.8 407 126.8 407.9 127.3 408.7 129 410 129.9 410.3 130.5 410.6 131.7 410.4 133.3 411 135 410.4 137.7 409.2 139.3 409.9 140.7 409.8 141.7 409.3 143 408.4 144.7 409 145.1 410.7 144.9 411.4 145.3 411.4 145.7 410.5 147 410.1 148 410.4 148.7 411.7 149.6 411.7 150.3 411.3 153.3 410.5 155 410.5 156 410.9 157.7 410.7 158.3 409 158.7 408.7 160 408.3 160.2 407.8 160 406.7 159.1 405 159.3 403.3 159.3 403 159.7 404.2 161 404.2 161.7 403.7 162.2 401.7 163.3 401 163.3 399.3 162.4 397.7 162.6 396.4 161.7 395 161.3 394.6 161.3 393.7 162.3 393.3 162.4 390.7 162.6 389.3 161.9 388.7 161.9 385.3 164 383 164.5 381 165.6 379.3 165.9 377.3 165.5 376.7 165.6 374.3 166.5 373 168.6 371.3 169.5 370.3 169.9 367.7 170.3 364.7 173.4 363 174.5 362 176.2 361.3 176.1 360.7 174.7 360.3 174.6 358.7 174.8 357.3 174.6 357.1 175 357.2 176 356.7 176.4ZM394.1 130.7 394.4 130.3 394 129.3 394.2 128 393.7 127.2 392.3 127.3 390.6 129 390.8 129.7 391.3 130.1 394.1 130.7ZM397.1 129.3 397 128 396.3 127.2 395.8 127.7 395.4 129.3 396.3 129.7 397.1 129.3ZM407.3 130.7 407.3 130.7ZM392.2 133.7 391.4 132.3 390.7 131.8 389.5 132 388.9 132.7 390.3 133.8 392 133.9 392.2 133.7ZM389.1 136.7 389.3 136.3 389.2 135.7 388.3 134.9 387.7 133.1 387.3 133.2 386.8 134.3 385.7 135 385.9 135.3 387 136.6 388.7 137 389.1 136.7ZM378 136 377.4 135.7 377.4 135 378 134.5 378.7 134.6 378.9 135.3 378 136ZM386.2 138.7 386.3 138 386 137.8 385.4 138 385.7 138.8 386 138.9 386.2 138.7ZM386.4 141 386.2 140.3 385.7 139.9 385 140.3 384.8 140.7 385 141 385.7 141.3 386.4 141ZM390.7 142.3 391.4 141.3 391.3 140.8 390.1 142.3 390.3 142.6 390.7 142.3ZM397.5 143.3 397.3 142.8 396.7 142.7 396.5 143 396.8 143.3 397.5 143.3ZM358.2 168 360.3 167.5 361.8 166.7 363.7 164.8 366.4 163 368 161.5 376.8 154.7 378.8 151.7 378.7 149.3 378.1 148.3 377.7 148 376.3 147.7 374 147.8 373.3 148.1 368.7 151.9 361.7 156.7 360.2 158.3 358.3 159.6 355.6 162 354.6 163.7 354.4 164.7 354.7 165.8 355.2 166.7 356.3 167.6 357.3 168 358.2 168ZM407 150 407.4 149.7 407.3 149.3 406.3 148.7 406 148.7 405.7 149 406 149.9 406.3 150.1 407 150ZM372.7 170.8 372.7 170.6 372.7 170.8Z" fill="rgb(232,232,232)"/><path d="M394.3 126 393.3 126.3 392.7 126 393 125.5 393.7 125.3 394.3 125.6 394.3 126ZM355.7 175.2 355 175.2 354.3 175 353.7 173.1 353 172.9 351.7 173.2 350.1 171.7 348.6 170.7 348.5 169.7 349.2 168.3 348.6 167.3 349.1 166 348.6 164.3 349.6 162.7 350.1 160.7 352 158 352.3 156.3 352.7 155.5 353.3 155 355.1 155 355.3 154.5 355.4 153.3 356 152.7 357.7 152.5 358.3 152.3 360.5 149.7 362 148.7 363 146.6 364.7 146.1 365.7 145.1 366.3 145.1 367.3 145.8 367.7 145.7 369 144.3 370.3 144.1 370.7 143.7 370.7 142.3 371.3 141.7 372 141.6 373.7 142.1 374.3 142 374.6 141.7 375 140 375.3 139.5 376 139.3 376.5 139.7 377.3 141.3 378 141.7 378.8 141.7 379.3 140.4 380 140.1 381 140.4 382.3 141.2 384 141.1 386.3 142.3 386.7 142.7 387.3 146.3 387.7 146.5 389 146 389.7 144.7 390.9 143.3 392.3 141 392.5 140 392.3 139.7 391.7 139.5 391 139.8 390.3 141 388.7 142.3 389.2 143.7 389 144 388.3 144.1 387.9 143.7 388.4 142.3 387.7 141.5 387.2 140.3 387.3 139 388 138.4 389.6 138 389.9 137.7 390.2 135.3 390.7 134.7 391.7 134.7 393 135.5 393.7 135.1 394 134 392.9 132.7 392.7 132 394.7 131.7 396 130.4 397 130.7 397.7 132.1 398 132.3 399.5 131.3 399.5 130.3 398 129.3 397.5 127 397.9 126 399 125.2 400 125.3 400.5 126 400.9 128.7 400.6 130.3 400.8 131.3 401.2 132.3 402.3 133.4 402.7 133.4 404 132.6 405 133.2 405.3 133.2 407 132.4 408 132.2 409.3 131.4 409.6 131.7 409.6 133 410.3 134.9 410.3 135.7 409.6 137.7 408.3 138.7 407.7 140 409.1 141 409.1 142.3 408.6 143.3 407.7 144.1 407 144.1 406 143.7 405.7 143.9 404.8 145 404.6 145.7 405 146.4 406 147 407.7 145.8 409.7 146 409.5 147 408.7 148.2 408 148.5 407.3 148.4 406 147.5 405.3 148 405 149 405.6 150.3 406.3 150.8 410 149.5 411 150 411.2 150.7 410.9 151.3 409.7 152 409.2 152.7 409.7 154 409.6 157 407.3 157.8 405.3 158.9 403 158.4 401.3 160 399.7 160.5 398.3 161.2 397.7 161.2 394.3 160.4 392.9 161.7 391.7 162 390 161.3 389 161.2 388.3 161.4 386.7 162.5 385 162.9 383 163.8 381 165 379.3 164.5 378.3 164.7 377.3 164.2 377 164.3 375.7 165.3 373.7 166 372.4 167.7 370.7 169.1 367.3 169.6 366 171.3 364 173.1 363 173.2 362 172.3 361.7 172.4 360 173.9 359 174.1 357 173.9 356.3 174.3 355.7 175.2ZM407 128.5 406.2 128.3 406 128 406.3 127.7 407 127.7 407.3 128.3 407 128.5ZM405.3 131.7 404.3 131.7 403 131 402.4 130.3 402.7 129 404 127.7 404.8 128 405.2 129.3 406 130.7 406 131.3 405.3 131.7ZM390 131.1 389 131.3 388.7 131 389 129.9 389.3 129.7 390 130.1 390.3 130.7 390 131.1ZM408.3 136 408.3 135.7 408 135.4 407.5 135.7 407.7 136.1 408.3 136ZM406.2 142.3 407.3 140.7 407.2 140.3 405.7 140.2 404.9 141 404.8 141.7 405.3 142.4 405.7 142.6 406.2 142.3ZM397.9 144 398.3 143 398 142.5 396.7 142.1 395.8 142.7 395.8 143.3 396.1 143.7 397.3 144.2 397.9 144ZM401.8 147 401.5 146.3 401 146.1 400.4 146.7 400.4 147 401 147.3 401.8 147ZM358.2 168.3 360.7 167.7 361.9 167 364 164.9 366.4 163.3 369.7 160.5 371.7 159.2 377 154.9 379.1 151.7 378.9 149.3 378.3 148.1 377.7 147.7 376.3 147.4 373.3 147.7 368.7 151.6 366.8 152.7 364.3 154.7 361.6 156.3 360 158.1 358.1 159.3 355.3 161.8 354.2 163.7 354.1 164.7 354.3 165.8 355 166.9 356 167.8 357.3 168.3 358.2 168.3ZM407.1 156.7 407 156.5 407.1 156.7ZM348 167.7 347.7 167.7 348 167.6 348 167.7Z" fill="rgb(215,215,215)"/><path d="M399.7 128.7 399 128.6 398.7 128.3 398.4 127.3 398.5 126.3 399.3 125.8 399.8 126 400.1 126.7 400 128.3 399.7 128.7ZM404.7 130.4 404 130.6 403.3 130.3 403.1 129.7 403.3 129.2 403.7 128.9 404.1 129 404.7 130 404.7 130.4ZM355.7 174 355 174.1 354 172.5 353.3 172.2 351.7 172.2 350.6 171 349.7 170.7 349.2 170.3 349.4 169.7 350.5 169 349.7 167.3 349.7 165.7 349.3 164.3 350 163 350.5 161 352.5 158 353 155.8 353.7 155.4 354.7 155.7 355.3 155.6 356.3 153.5 358.7 152.7 361 150 362.7 149.5 363 148 363.4 147.3 364.3 147 366.3 147.3 367.3 147 368 146.5 369 145 370.3 144.8 371.2 144.3 371.6 143.7 371.7 142.7 372 142.5 374.3 142.5 376.3 141.7 379.3 142.5 379.7 142.3 380 141.2 380.7 141 382.3 141.8 384 141.7 385.4 142.7 386.4 145.3 386.7 147.2 387 147.4 388.3 146.9 389.2 147 389.3 147.7 388.5 149.7 389.1 150.3 389.7 150.6 392.3 149.3 392.3 149 391.7 148.8 391.2 148.3 390.7 147 390.2 146.3 390.1 145.7 390.4 145 391.6 144 391.9 142.3 395.3 137 394.5 135.7 394.8 134.3 395.3 133.7 396.3 133.1 397.7 133.7 399.3 132.4 400 132.3 400.9 133.3 401.7 135.4 402 135.7 403.3 134.8 405 134.5 406.3 133.8 406.8 134 406.9 134.3 406.1 135.7 406.4 136.3 407.2 137.3 407.2 138.7 406.7 139.4 405.3 139.3 403.9 141.3 404 142 404.7 143.3 403.5 144.7 403.6 145.7 403.3 146.6 402.7 145.7 402.9 144.3 402 143.9 401 144 399.7 145.3 398.9 145.3 398.5 144.7 399.3 142.7 398.7 142.2 397 141.7 396.3 141.6 395.7 142 394.7 143.1 392.8 144.3 392.7 144.7 393.3 145.1 395.3 144.1 396.3 144.4 397.1 145 397.3 146.3 398.9 147.3 400.8 149.7 401.3 150 402.3 149.8 403.2 149 403.3 146.8 403.7 146.5 404.4 147.3 404.2 149 405.5 151.3 405.7 152.8 406 152.8 406.5 151.7 407.4 151 408.7 150.7 409.3 150.8 409.6 151 408.6 152.3 409 154.3 408.8 155.7 408.3 156 407 155.4 405.7 155.5 405.4 156 406.2 157.7 405.7 158.3 404.7 158.5 403.7 157.9 403 157.7 401 159.4 397.7 160.4 396.3 160.4 394.7 159.7 394 159.7 392 161.3 390.3 160.5 388.7 160.7 387.7 161 386.7 161.7 385 162 381 164.4 380.3 164 380 162 379.5 162 378.3 162.9 376.7 162.6 376.3 162.7 375.3 164.4 373 165.3 370.3 168.4 369.3 168.8 367.3 168.9 365.7 169.9 365 169.7 364.8 170 365.3 170.3 365.3 170.7 364.9 171.3 364 172 363.3 172 362.7 171.3 362 171.3 359.7 173.3 357 173.5 355.7 174ZM392 138.2 391.3 138.3 390.8 137.7 390.8 136.3 391.3 135.6 392 135.8 392.6 136.7 392.5 137.7 392 138.2ZM400.9 139.7 401.5 138.7 401.3 137.6 400 138.3 398.4 138.7 398.4 139 398.7 139.3 400.3 139.8 400.9 139.7ZM389.3 141.2 388.3 141.1 387.7 140 388 139.2 389 138.7 390 138.9 390.3 139.3 390.2 140.3 389.3 141.2ZM407.7 143.4 407.1 143.3 406.9 142.7 407.7 141.6 408.3 141.4 408.5 142.3 408.2 143 407.7 143.4ZM408.3 147.4 408 147.6 407.5 147.3 407.5 147 408 146.7 408.4 147 408.3 147.4ZM357.9 168.7 360.7 168.1 362 167.3 364 165.2 366.7 163.5 370 160.6 372 159.3 373.3 158 377.2 155 379.3 151.7 379.1 149 378.3 147.7 376.7 147.1 373.3 147.3 372 148.7 368.3 151.5 366.7 152.4 364.3 154.4 361.3 156.1 359.8 158 358 159.1 356.8 160.3 355.1 161.7 353.9 163.7 353.7 164.7 354 165.7 354.7 167 355.7 167.9 356.7 168.4 357.9 168.7ZM394.2 149.3 394.7 148.7 394.3 147.6 394 147.3 393 149 394.2 149.3Z" fill="rgb(197,197,197)"/><path d="M398.3 138 397.3 137.9 397 137.6 396.4 136.7 396.1 135.3 396.7 134.9 398.7 134.3 399.7 133.6 400.3 134.2 400.7 135 400.5 137 399.7 137.8 398.3 138ZM403 140.4 402.3 140.1 402.2 139.7 402.5 138.7 402.3 137 403.3 135.8 404.7 135.7 405.1 136.3 405.1 137 403.4 138.7 403.7 139.7 403.6 140 403 140.4ZM393.3 143.2 392.7 143.3 392.3 143 392.4 142.3 394 141 395 139.3 395.7 138.7 397 139 399.5 140.7 399.5 141 399 141.4 398 141.4 396.7 141 395.7 141.2 394.8 141.7 393.3 143.2ZM389.3 140.5 388.7 140.5 388.4 140 389 139.3 389.7 139.7 389.7 140.1 389.3 140.5ZM357 173 355.7 173.1 354.5 172 352.2 171.3 351.9 171 351.7 169 350.3 167 350.4 165.7 350.1 164.3 350.6 162 352.7 158.3 353.3 156.4 353.7 156.1 355 156.3 355.6 156 357 154 359.3 152.7 361.3 150.7 363 150.4 363.5 150 364 148.2 364.3 148.1 365.3 148.8 365.7 148.7 368 147.1 369.3 145.6 371 145 373 143.4 376.7 142.6 379.7 143.1 381 142.3 382.3 142.6 383.7 142.2 384.2 142.3 384.9 143 384.7 144.7 385.7 145.4 385.9 146 385.6 148 386.7 149 387.3 150.2 389.3 151.7 392.7 150 394.7 150.1 396 149.4 397 149.6 398.7 150.7 399.7 150.5 401.3 150.7 403.7 150 404.2 150.3 404.7 151 404.8 153 405.3 154.3 404.6 156 404.7 156.7 405.4 157.3 405.4 157.7 405 158 404.4 157.7 404 157.1 403.3 157 400.7 158.8 398.7 159.1 397 159.7 396 159.7 394 159 392 160 390.7 159.5 388 160.2 385.3 160 384.8 160.3 383.9 162 381.7 163 381.3 162.9 380.5 161.3 380 161.1 378 161.6 376.7 161.3 376 161.7 375 163 372.3 164.5 371 166.5 369.7 167.9 368.7 168.3 364.7 168.8 364.2 169 363.3 170.2 361.3 171 360 172.1 357 173ZM395.7 146.6 395 146.4 394.7 145.7 395 145.2 395.7 144.9 396 145.1 396.2 145.7 395.7 146.6ZM357.9 169 360.7 168.4 362.3 167.5 364.2 165.3 366.8 163.7 370.3 160.6 372.1 159.7 373.3 158.3 377.3 155.2 379.1 152.7 379.6 151.7 379.3 148.9 378.7 147.6 378 147.2 376.7 146.9 373 147.1 371.7 148.6 368.3 151.2 366.3 152.2 364 154.3 361 155.9 359.7 157.8 357.7 159 356.7 160.1 355 161.3 353.6 163.3 353.4 164.3 353.5 165.3 354.7 167.5 356.3 168.7 357.9 169ZM392.3 147.6 392 147.2 392.3 147.2 392.3 147.6ZM397.3 148.7 396.4 148.3 396.2 148 396.4 147.7 397.7 147.7 398 148.3 397.3 148.7ZM407.7 154.7 406.3 154.3 406.3 154 407.3 152.5 407.7 152.5 408.1 154 408 154.5 407.7 154.7Z" fill="rgb(176,176,176)"/><path d="M399.3 137.4 398.3 137.5 397.7 137.3 397.1 136.7 397.1 135.7 398 135.2 399.3 135.5 399.7 136 399.8 136.7 399.3 137.4ZM357.3 172.4 356.1 172.3 355 171.6 352.8 170.7 352.1 168.7 351 166.7 351 165.3 350.7 164 351.2 162 353.7 157.3 354 156.9 355.7 156.5 357.3 154.4 359.8 153 361.7 151.3 364.3 150.4 365.7 150.5 366.6 148.7 369.3 146.2 374 143.7 377 143.2 379.7 143.5 381.3 143.2 382.7 143.3 383.8 143 384.1 143.7 383.7 145.3 384.4 146.7 384.9 148.3 386 149.3 386.7 150.7 387.8 151.3 388.6 152.3 389 152.5 390 152.3 392.7 150.7 393.3 150.7 394.3 151.4 395.7 150.4 396.3 150.3 397.3 150.7 398.3 151.8 399.7 152.3 400.5 154 401.3 154.6 402 154.3 402.6 153.3 401.5 152.3 401.4 151.7 402.7 150.9 403.3 150.9 403.9 151.3 404.2 154 404 155.3 403.5 156 401.3 157.6 399.3 157.9 396.3 159 394.3 158.6 392.3 158.8 390.7 158.5 388 159.6 386.7 159 386 159 384 159.7 383.4 161.3 382.3 162 381.7 161.9 380.7 160.6 378.3 160.8 376.7 160.4 376 160.8 374.7 162.4 373 162.8 371.6 164.3 370.7 165.9 369.3 167.4 368.3 167.8 364 168.5 362.7 169.8 357.3 172.4ZM358.4 169.3 361 168.7 362.7 167.8 364.2 165.7 367 163.9 370.3 160.9 372.3 160 373.7 158.3 377.7 155.2 379.4 152.7 379.8 151.7 379.5 148.7 378.7 147.2 377 146.6 373 146.5 371.6 148.3 368.3 150.9 366.3 151.6 364.3 153.8 360.7 155.6 359.4 157.7 357.5 158.7 356.4 160 354.5 161.3 353.3 163 352.8 164.3 352.9 165 353.8 167 356 168.9 357.3 169.4 358.4 169.3Z" fill="rgb(154,154,154)"/><path d="M398.7 136.7 398.1 136.7 397.9 136.3 398.3 136.1 398.7 136.3 398.7 136.7ZM365.3 167.7 363.8 167.7 363.7 167 364.2 166 367.3 164 370.7 161.1 371.7 160.7 372.9 160.7 373.5 159 377.7 155.5 379.8 152.3 380 151.3 379.8 149 379.3 147.4 378.7 146.7 378 146.4 374.7 146.1 373.7 145.7 373.5 145.3 373.7 145 374.7 144.2 377.7 143.7 379.7 144 382 144 382.8 144.7 384.3 148.3 385.7 150 385.6 152 385.8 152.3 387.3 152.3 388.3 153.4 390.7 153 391.7 152.1 392.3 151.9 393.1 153 393.7 153.2 394.7 152.8 395.5 151.7 396.3 151.3 396.9 152 397.3 154 398.9 155.3 398.8 156.3 398.4 157 396 158.2 394 158 392.3 158.1 390.3 157.7 388.3 158.2 387.7 157.1 387 157 386.3 157.2 385.3 158.3 381.7 159.6 378.7 160.2 377 159.7 375.7 160.3 374.3 161.3 373 161 372 163 368.7 167 365.3 167.7ZM368 150.7 367.3 150.9 366.7 150.7 366.7 149.7 367 148.9 369.7 146.5 371 145.9 372 145.8 372.2 146.3 371.7 147.9 368 150.7ZM352.7 162.5 352.3 162.6 352 162.3 352 161.7 354.2 157.7 356 157 357.7 154.8 360.3 153.5 362.3 151.7 364 151.1 365 151.4 365.2 152.3 364.4 153.3 362.7 154.3 360.3 154.9 359.9 155.3 359.2 157.3 358.7 157.8 357.2 158.3 356.2 159.7 354.3 160.9 352.7 162.5ZM386.8 156 387.7 155.4 387.8 154.7 387.7 154.2 386.3 154.1 385.9 154.3 385.8 155 385.9 155.7 386.3 156 386.8 156ZM357 171.4 355.7 170.9 354 170.7 353.3 170.2 352.7 168 351.8 166.7 352 165.8 352.3 165.7 353 166.3 353.4 167.7 354.7 168.5 356 169.8 357.3 170.5 357.5 171 357 171.4ZM360 170 359.2 170 360 169.7 360 170Z" fill="rgb(128,128,128)"/><path d="M375 159.8 374.2 159.7 374.2 159 376.3 157.4 378.3 155.3 380.3 152 380 147.7 379.3 146.4 378 145.3 377.9 145 378.3 144.7 381.7 144.9 382.2 145.3 382.9 147 384.9 150.3 384.6 152 385 155.3 384.7 157 384.1 157.7 382.3 158.6 379 159.3 377 158.8 375 159.8ZM368 149.8 367.7 149.8 367.7 149.3 369.5 147.3 370.6 146.7 371.3 146.7 371.4 147.3 371 147.9 368 149.8ZM363.3 153.4 362.4 153.3 362.7 152.4 363.3 151.9 364.3 152 364.3 152.7 363.3 153.4ZM392.3 157.3 391.3 157.2 390.4 156.7 389.2 155.3 389 154.7 389.2 154.3 389.7 154.1 390.7 154.2 392.7 155.4 394 154.4 394.7 154.4 397 155.3 397.4 156 397.2 156.7 396 157.2 393.7 157.1 392.3 157.3ZM358.3 157.4 357.3 157.4 357.1 157 357.4 156 358.3 155.4 358.7 155.7 358.9 156.3 358.7 157 358.3 157.4ZM355 159.8 354.3 159.9 354 159.7 354.1 159 354.7 158.3 355.7 158.1 356 158.4 356 159 355 159.8ZM365.7 167.1 364.7 167.2 364.4 166.7 365.3 165.7 367.7 164.6 370.7 161.8 371.4 161.7 371.5 162 371.3 162.5 369.7 164.4 368.4 165.3 367.6 166.3 365.7 167.1Z" fill="rgb(101,101,101)"/><path d="M352.1 167.8h.6M368 148h.6M364.5 152h.6M373.6 161.3h.6M356.4 159h.6M376.8 159.5h.6M367.2 148.6h.6M370.7 142.5h.6M350.5 157h.6M365.1 148.3h.6M364.8 166.2h.6M355.9 159.9h.6M380 146.9h.6M360.9 171.6h.6M379.4 155h.6M349.8 170.2h.6M382.2 145.2h.6M378.5 157.2h.6M356.8 171.5h.6M375.7 158.1h.6M357.5 172.7h.6M351.5 167.9h.6M363.2 149.6h.6M352.9 161.4h.6M380.8 144.3h.6M352.6 160.7h.6M378.7 144.7h.6M371 165h.6M378.3 157.5h.6M380.6 148.3h.6M365.8 152.1h.6M376.4 145.8h.6M359 148.4h.6M355.5 156.7h.6M367 151h.6M375.8 146h.6M361 150.9h.6M383.4 154.2h.6M378.1 143.6h.6M368.6 163.2h.6M348.3 167.8h.6M348.7 169.8h.6M352.3 159.8h.6M375.6 160.6h.6M352 161.9h.6M358.5 157.3h.6M380.4 152.8h.6M350.1 160.7h.6M358.5 154h.6M371.4 146.7h.6M380.1 153.6h.6M351.2 161.7h.6M366 166h.6M378.1 158h.6M368.2 167.5h.6M357.2 156.5h.6M376.7 144.1h.6M378.6 143.5h.6M384.6 148.3h.6M375.3 158.3h.6M348.8 170.9h.6M364.8 151.8h.6M375.2 159.9h.6M373.5 160.5h.6M359.1 155.7h.6M380.6 154.1h.6M370.3 163.8h.6M352.2 161.9h.6M358.4 153.9h.6M379.2 159.7h.6M352.4 160.3h.6M363.6 153.3h.6M355.1 157.5h.6M367.7 149.2h.6M379.7 156.4h.6M351.9 163.3h.6M374.8 165.9h.6M375.2 146h.6M371.1 163.8h.6M364.3 171.1h.6M349.1 160.9h.6M364.3 167.2h.6M361.6 168.5h.6M369.9 162.3h.6M368.6 164.1h.6M355.8 159.9h.6M380.8 147.3h.6M371.5 147.9h.6M385.6 150.7h.6M354.7 157.8h.6M367.4 167.6h.6M351.1 162.2h.6M369.9 164.8h.6M352.9 158.7h.6M383.9 144.4h.6M368.8 149.5h.6M364.2 167.4h.6M376.6 158.8h.6M354.4 175h.6M360.5 154.2h.6M353.4 167h.6M366.8 168h.6M352.2 169.5h.6M370.1 148.9h.6M366.2 151.9h.6M365.4 165.6h.6M364.6 172.8h.6M363.4 167.7h.6M366 165h.6M353.8 169.1h.6M381.8 152.9h.6M379.8 153.8h.6M381.1 141.8h.6M370.9 162.6h.6M353 166.7h.6M364.8 152.6h.6M378.4 145h.6M370.7 166h.6M373.9 160h.6M382.4 152.6h.6M381.6 146.7h.6M373.6 164.6h.6M351.4 164.6h.6M378.2 145.1h.6M368.2 169.3h.6M361.8 154.8h.6M369.2 163.2h.6M367.7 147.3h.6M374.9 158.4h.6M360.1 169.3h.6M356 175.9h.6M381.5 145.9h.6M358 156.7h.6M378.6 163.8h.6M380.8 152.2h.6M382.9 154.9h.6M350.1 170.5h.6M361.8 174.8h.6M366.5 168.9h.6M370.9 148.2h.6M380.7 146.4h.6M356.7 156.8h.6M362 154.7h.6M364.7 166.3h.6M375 145h.6M375.7 144.4h.6M371 161.7h.6M364.5 152.7h.6M377.9 143.6h.6M354.4 158.7h.6M361.5 154.4h.6M366.5 151.5h.6M381.9 147.3h.6M353.2 166.2h.6M381.9 152.1h.6M367.2 148.9h.6M376.1 144.4h.6M351.9 166h.6M381 148.7h.6M367.7 164.5h.6M359.2 169.9h.6M356.7 155.8h.6M364.8 166.9h.6M370.8 147.5h.6M380.8 146.7h.6M382.1 148.7h.6M368.5 164.2h.6M375.6 159.2h.6M353 170.9h.6M367.9 165.1h.6M378.2 157.3h.6M370.9 139.3h.6M373.2 166.2h.6M380.7 144.9h.6M373.8 146h.6M357.5 157.5h.6M364.9 167.3h.6M365.9 166.2h.6M381.6 158.9h.6M358.6 174.5h.6M356.3 169.6h.6M384.2 143.9h.6M355 160.2h.6M381.5 154.2h.6M349.9 170.5h.6M353.8 155.4h.6M382.5 149.6h.6M356.1 158.9h.6M362.5 154.5h.6M354.6 168.4h.6M358.8 157.6h.6M360.2 156.1h.6M363.3 150.9h.6M350.5 156.5h.6M364.2 151.4h.6M373.4 162.3h.6M382 150.6h.6M378.1 146.4h.6M377.5 146.4h.6M381.4 145.4h.6M353.2 168.7h.6M376.8 159.9h.6M379.2 156.7h.6M353.9 159.6h.6M359.1 169.8h.6M357.6 156.9h.6M353 169.4h.6M367.6 150.4h.6M352.8 165.7h.6M357.8 176.1h.6M365.4 166.6h.6M360.7 170.2h.6M369.7 166.7h.6M374.4 163h.6M359.2 170.6h.6M381.7 149.9h.6M384.1 152.6h.6M370.7 147.2h.6M382.9 151.7h.6M367.2 151h.6M371.5 166.2h.6M364 149.7h.6M374.2 146.2h.6M375.2 144.7h.6M353.2 163.8h.6M358.1 169.9h.6M370 148.7h.6M378.1 159h.6M370.2 164.6h.6M353.1 163.5h.6M381 149.7h.6M354.8 170.3h.6M375 160.9h.6M368.8 168.7h.6M358.6 173.4h.6M387.2 148.4h.6M381.9 145.7h.6M353.1 168.6h.6M384.8 151.2h.6M380 155.3h.6M371.9 146.1h.6M381.5 155.9h.6M380.2 155.5h.6M351.8 163.7h.6M370.1 164.1h.6M367 167.3h.6M355.2 170.6h.6M377.6 146h.6M359.4 156.9h.6M352.7 166.8h.6M377.8 158.4h.6M366.3 166.7h.6M381.9 149.2h.6M358.1 157.5h.6M356.4 175.8h.6M363.5 153.6h.6M368.3 165.2h.6M350.2 169.2h.6M364.6 152.2h.6M364 166.6h.6M382.4 149.3h.6M375 140.3h.6M355.1 158.2h.6M364.2 148.2h.6M353.1 168.7h.6M378.8 157.4h.6M353.2 156.8h.6M354.9 169h.6M368.3 166.1h.6M362.2 170.7h.6M379.6 154.9h.6M354 171.8h.6M368.9 164.3h.6M363 169.3h.6M348.5 164.9h.6M368.4 163.5h.6M382.1 151h.6M367.6 167.1h.6M379.8 155.1h.6M353.5 161.9h.6M358.1 151.1h.6M380.8 147.3h.6M374 145.5h.6M353.7 169.2h.6M355.1 169h.6M379.8 154.8h.6M363.5 154.2h.6M375.4 161.5h.6M384.3 153.9h.6M376.1 145.1h.6M371.7 147.8h.6M378 145.7h.6M359.6 154.6h.6M380.8 155.5h.6M380.3 157.9h.6M368.4 149.3h.6M381.7 152.8h.6M365.1 152.7h.6M376.2 157.5h.6M372 145h.6M358.7 155.5h.6M357.1 157h.6M358.5 156.8h.6M371.9 142.9h.6M385 145.8h.6M355.8 158.1h.6M351.9 166.1h.6M369.3 144.8h.6M353.7 172h.6M361.3 154.6h.6M381.8 151.7h.6M377.6 160.9h.6M355.7 171h.6M370.2 148.3h.6M364.5 171.4h.6M352.8 162.2h.6M368.8 164.5h.6M352.9 156.7h.6M362.8 151.7h.6M343.8 160.3h.6M380.7 146.3h.6M356.8 171.3h.6M366.5 147.6h.6M383.1 147.7h.6M350.9 171.8h.6M354.8 168.7h.6M358.1 171h.6M371.8 161.9h.6M363.7 151.7h.6M353.4 159.3h.6M373.6 146.4h.6M377.2 143.5h.6M380.4 145.9h.6M361.6 149.9h.6M376.7 142.7h.6M371 147.6h.6M379.4 144.1h.6M376.2 159.2h.6M371.6 145.9h.6M368.3 145h.6M380.9 159.1h.6M366.5 150.3h.6M358.1 155.5h.6M357.7 157.7h.6M364.1 167.4h.6M359.4 170.1h.6M371.1 168.9h.6M354.5 157.3h.6M375.6 164.5h.6M372.5 165h.6M375.4 169.2h.6M357.2 170.2h.6M361.8 168.9h.6M377.3 162.5h.6M375.9 169.4h.6M362.3 151.8h.6M355.7 158.9h.6M369 148.1h.6M378.6 145.6h.6M370.4 169.3h.6M359.5 154.7h.6M362.2 147.3h.6M355.4 148h.6M371 163.8h.6M383.1 150h.6M372.6 164.3h.6M379.4 145.1h.6M386 160.3h.6M370.2 163.4h.6M363.9 149h.6M362 153.7h.6M374.6 146.1h.6M367.5 145.8h.6M377.2 157.2h.6M361.3 142.5h.6M378.7 155.5h.6M367 142.8h.6M351.5 165.9h.6M353.8 169.5h.6M381.3 147.6h.6M379.3 158.8h.6M378.4 144.4h.6M360.9 154.1h.6M395.9 148.6h.6M353.4 158.7h.6M373.1 168.8h.6M370.7 161.7h.6M362.9 146.4h.6M369.8 166.9h.6M379.8 141.8h.6M353.5 175h.6M375 160.9h.6M364.5 149.8h.6M380 156.1h.6M410.3 151h.6M400.1 153.2h.6M405.2 155h.6M405.5 151.4h.6M404.7 157.5h.6M399.8 159h.6M391.5 154.6h.6M400.4 153.2h.6M395.3 156h.6M382.9 157.5h.6M400.7 154.1h.6M402.3 153h.6M397.9 156.1h.6M394.2 158.2h.6M390.7 156.5h.6M397.2 155.1h.6M382.2 153.7h.6M403.8 153.2h.6M389.3 157.9h.6M389.4 154.2h.6M408.7 160.2h.6M396.6 157.4h.6M402.4 147h.6M387.5 157h.6M389.4 158h.6M392.4 157.1h.6M408.7 159.9h.6M389.9 147.9h.6M394.6 153.1h.6M397.5 150.9h.6M396.4 151.8h.6M378.8 160.3h.6M392.7 161h.6M392.7 153.5h.6M388.5 158.2h.6M392.6 153.5h.6M392.6 158.5h.6M384.7 164h.6M399.7 159.7h.6M391.9 151.9h.6M396.2 155.9h.6M387 157.2h.6M397.5 153.3h.6M397 155.9h.6M397 156h.6M393.2 158.7h.6M401.4 158.3h.6M391.6 152.7h.6M385.8 160.9h.6M378.4 156h.6M401 156h.6M391.2 155.2h.6M384.5 155.3h.6M390.7 159.2h.6M388.9 157.9h.6M405.5 158.2h.6M382.5 157.3h.6M390.5 154.6h.6M393.5 161.9h.6M405.3 158.1h.6M404 153.6h.6M389.9 157.7h.6M381.8 152.4h.6M389.9 159.7h.6M391.7 157.1h.6M396.5 153.3h.6M399.4 156.3h.6M392.2 148.5h.6M397.2 153.9h.6M402.1 163.3h.6M405.6 155.5h.6M381.8 153h.6M398.9 155.4h.6M398.3 156.6h.6M398.8 155.6h.6M385 158.9h.6M407.9 157.7h.6M390.5 152.2h.6M403.7 161.1h.6M398.6 160.9h.6M396.4 150.4h.6M383.1 155h.6M387.4 155.7h.6M408.5 151.1h.6M393.8 151.9h.6M390 153.3h.6M401 156.4h.6M383.8 150.7h.6M397.5 156.4h.6M386.3 159.9h.6M393.8 148.5h.6M396.9 150.6h.6M401.3 162.7h.6M405.7 158.2h.6M389.9 154.3h.6M396.9 154.5h.6M395.2 155.8h.6M394.1 154.6h.6M394.5 156.3h.6M400.4 154.1h.6M393 151.5h.6M402.1 152.1h.6M403.1 156.8h.6M389.7 155.5h.6M392.3 157.1h.6M396.2 152.5h.6M401 156.5h.6M403.3 156.8h.6M383.6 161.6h.6M404.5 152.3h.6M391.8 157h.6M406.3 154.4h.6M396.5 156h.6M383.9 156.1h.6M399.2 153.3h.6M404.1 156.1h.6M386.8 154.1h.6M383.4 156.1h.6M391.6 156.1h.6M405.7 154.1h.6M394.3 160.1h.6M381.2 155.7h.6M391.5 155.1h.6M387.7 155.6h.6M384.8 155.2h.6M378.7 156.3h.6M396.7 157.7h.6M398.3 159.6h.6M393.6 151.1h.6M394.1 156.4h.6M396.5 156.6h.6M396.1 154h.6M406.8 155.1h.6M401.7 156.2h.6M391.7 156.6h.6M391.1 162.1h.6M393 156.5h.6M390.4 157.8h.6M403.9 153.9h.6M380.3 156.7h.6M402.4 161.7h.6M397.6 156.2h.6M384.7 158.6h.6M400.2 157.9h.6M389.7 154.3h.6M395.3 150.3h.6M399.2 149h.6M397.5 156.8h.6M385 155.8h.6M404.3 153.9h.6M395.5 151h.6M406.9 154.8h.6M384.9 158.3h.6M394.1 153.8h.6M408.1 152.3h.6M410.7 157.7h.6M388.8 154.7h.6M402.5 152.4h.6M384.3 158h.6M391.2 156.6h.6M402.3 154.9h.6M397.1 155.7h.6M387.1 161.1h.6M379.4 159.6h.6M392.5 157.8h.6M393.4 155.8h.6M393.6 153.7h.6M390.4 154.2h.6M392.1 152.4h.6M380.8 158.9h.6M395.9 156h.6M379.1 155.3h.6M399.2 150.3h.6M390.6 159.8h.6M403.4 151.8h.6M389.5 156.1h.6M404.6 156.3h.6M403.7 155.2h.6M391 156.7h.6M383.7 156.6h.6M394.3 157.6h.6M394.4 155.7h.6M400.9 155.7h.6M402.9 151.6h.6M387.8 156.2h.6M378.8 155.2h.6M385.6 162.1h.6M386.1 158.6h.6M383.7 154.9h.6M398.9 157.1h.6M395.6 157.6h.6M407.8 153.2h.6M398.8 154.8h.6M392.2 159.4h.6M392.2 150.9h.6M390 155.3h.6M384.6 158h.6M386.4 146.1h.6M397.9 158.5h.6M396.8 145.7h.6M398.7 135.9h.6M398.2 121.1h.6M384.1 134.9h.6M396.9 145.4h.6M389.1 160.8h.6M402.1 143.2h.6M395.6 145.9h.6M404 141.6h.6M385.8 136.9h.6M388.9 129h.6M397.4 139.2h.6M399.8 141.7h.6M404.5 142.4h.6M402.5 134.3h.6M388.6 139.3h.6M396.2 131.8h.6M404.3 134.4h.6M394.2 139.2h.6M400.8 128.5h.6M402.4 139.7h.6M402.1 139.7h.6M400.5 137.3h.6M393 133h.6M402.8 137.8h.6M405.2 143.2h.6M393.2 149.5h.6M381.9 134.6h.6M403 141.1h.6M404.1 128.8h.6M410.6 139.6h.6M400.7 165.1h.6M383.9 149.1h.6M406.5 156.9h.6M389.3 147.4h.6M392.3 136.8h.6M403.3 139.5h.6M402.8 129h.6M406.3 139.2h.6M404.5 125.8h.6M390.9 127.6h.6M395 135.3h.6M403 137.9h.6M396.8 140h.6M390.1 123.6h.6M396 148.7h.6M395.2 141.4h.6M407 138h.6M408.4 147.3h.6M385.4 152.4h.6M395.3 144.9h.6M409.3 151h.6M408.1 136.7h.6M406.7 139.8h.6M398.2 149h.6M397.4 126.7h.6M406.7 128.3h.6M395.9 141.4h.6M403.2 137.5h.6M385.1 146.6h.6M404 147.2h.6M386 143.1h.6M395.2 134.2h.6M406.8 135.3h.6M410.8 129.3h.6M388.1 147.4h.6M386.6 142.4h.6M409.7 120.6h.6M375.4 138.5h.6M384.2 150.3h.6M394.2 140.7h.6M404.7 141.1h.6M399.8 124.1h.6M394.6 142.2h.6M399 147.3h.6M407.3 124.8h.6M396.5 131.3h.6M400.2 154.9h.6M391.4 146.1h.6M395.4 126.3h.6M400.2 136.5h.6M394.1 137.5h.6M405 136.2h.6M398.8 127.3h.6M389.7 139.9h.6M386.5 140.1h.6M395.7 135.5h.6M392.2 144.4h.6M386.3 133.7h.6M401.4 145.5h.6M406.3 134.7h.6M391.3 137.8h.6M399.2 132.5h.6M391.8 147.6h.6M393 147.5h.6M382.6 134.3h.6M393.1 159.1h.6M400.7 137.5h.6M387.7 127.9h.6M406.4 124.7h.6M395.8 144.1h.6M393.4 141.7h.6M407.8 143.2h.6M400.1 135.2h.6M409.5 146.2h.6M407.2 139.5h.6M393.6 125.8h.6M400.1 138h.6M410.1 136.2h.6M408.8 122.5h.6M409.2 151.2h.6M383.3 139h.6M384.7 138.9h.6M394.5 132.5h.6M400.8 140.3h.6M377.9 138.4h.6M388.8 130.9h.6M391.1 143.6h.6M408.7 141.4h.6M405.1 157.3h.6M405.2 147.8h.6M407.3 144.2h.6M404.7 139.4h.6M388.1 131.5h.6M403.8 147h.6M404.2 137.6h.6M399.9 144.2h.6M404.7 139h.6M395.6 128.1h.6M391 148.6h.6M407.9 133h.6M407.2 154.5h.6M404.7 145h.6M405 143.7h.6M399.7 146.4h.6M407.6 143.3h.6M391.6 136.8h.6M398.3 141.2h.6M398.8 157.6h.6M399.6 141.1h.6M381.3 140.1h.6M376.8 140.7h.6M386 131.6h.6M388.5 144.3h.6M407.8 120.3h.6M403.7 136.6h.6M381.9 146.2h.6M391 130.8h.6M408.1 147.7h.6M397.2 148.9h.6M396.1 137.6h.6M398.5 137.1h.6M388.8 143.9h.6M388.9 157.6h.6M404.6 140h.6M399.5 140.4h.6M388.2 132.6h.6M393.1 143.1h.6M400 142h.6M392.7 137.9h.6M403.7 144.1h.6M408.8 126.5h.6M390.9 145.1h.6M403.7 140.3h.6M404.7 149.8h.6M399.5 126.4h.6M400 151.3h.6M391.1 134.7h.6M407.4 133.7h.6M386.4 165.3h.6M387.6 156.8h.6M398.5 140.3h.6M381.2 151.6h.6M410.5 150.3h.6M407.4 124.3h.6M391.8 146.3h.6M395.1 138.4h.6M400.8 141.6h.6M395.3 154.3h.6M410.1 135.9h.6M385.5 136.5h.6M396.9 124.3h.6M397.8 139.4h.6M399.2 152.6h.6M399 145.1h.6M387.1 121.2h.6M380.6 155.7h.6M385.5 157.2h.6M381 157.3h.6M382.3 146.5h.6M387.1 152.1h.6M380.4 148.7h.6M383.6 159.7h.6M381.3 162h.6M381.8 154.8h.6M384.6 142.7h.6M386.2 161.7h.6M387.3 144.4h.6M379.3 156.5h.6M381.8 154.3h.6M383.9 155.4h.6M381.7 158.1h.6M382.4 146.6h.6M382.1 146.5h.6M377.7 144.6h.6M380.5 152.8h.6M383.1 151.5h.6M382.9 156.8h.6M381 156.2h.6M382.5 160.8h.6M386 150.3h.6M380.3 146h.6M383.7 151.6h.6M383.1 158.4h.6M384.4 153.5h.6M382.3 153.7h.6M383.7 161.9h.6M380.8 159.8h.6M381.6 152.2h.6M380.9 158.4h.6M381.2 157.4h.6M383.1 146.7h.6M384.2 143.7h.6M384 151h.6M380.3 167.5h.6M382 163.9h.6M378 162.5h.6M384.7 158.3h.6M382.5 161h.6M380.5 149.6h.6M381.8 153.1h.6M383.8 151.6h.6M382.7 153.9h.6M381.5 162h.6M384.7 150.1h.6M383.9 150.2h.6M382.7 154.6h.6M384.5 155.3h.6M382.4 157.6h.6M382.1 154h.6M382.2 157.5h.6M381.6 150.3h.6M385.1 147.1h.6M380.9 149.8h.6M383 153.8h.6M381.3 155.8h.6M381.7 155.6h.6M381.3 150.4h.6M380.1 153.5h.6M383.9 155.5h.6M381.2 155.3h.6M383.3 161.8h.6M381.6 153.6h.6M386.1 144.5h.6M383.1 147.1h.6M383.9 153.9h.6M382.4 157.6h.6M385.2 149.8h.6M379 156.7h.6M387.4 153.4h.6M379.6 154.5h.6M382.4 154.1h.6M383.6 158.2h.6M376.2 143.4h.6M384.8 154.5h.6M383.1 152.5h.6M382.4 152.5h.6M380.7 157.8h.6M378.8 162.3h.6M380.8 164.1h.6M381.1 154.9h.6M380.6 154.7h.6M379.8 159.1h.6M384.9 150.4h.6M383.8 152.5h.6M343.1 185.5h.6M385 139.6h.6M378.4 134.9h.6M396.1 138.9h.6M344.6 156.9h.6M367.2 135.9h.6M360.2 138.4h.6" stroke="#000" stroke-opacity="0.45" stroke-width=".6" fill="none"/><linearGradient id="og11" gradientUnits="userSpaceOnUse" x1="356.5" y1="168.5" x2="378.5" y2="147.5"><stop offset="0" stop-color="#000"/><stop offset="1" stop-color="#999"/></linearGradient><path d="M359.1 169.4 357.4 169.5 355.9 169.1 354.6 168.2 353.7 166.9 353.3 165.4 353.3 163.9 353.9 162.4 354.9 161 358.4 158 370.1 149 372.9 147.1 374.6 146.4 376.4 146.2 377.9 146.5 379.2 147.4 380.3 148.9 380.8 150.9 380.3 152.9 379.1 154.7 376.4 157.1 363.1 167.3 360.9 168.7 359.1 169.4ZM359.4 164.6 358.4 164.9 357.6 164.7 357.4 164.4 357.4 163.9 358.7 161.9 361.1 159.6 364.1 157.3 367.6 155.2 370.1 154.2 370.9 154.1 371.5 154.4 371.6 155.1 370.9 156.4 367.9 159.4 363.4 162.7 361.1 163.9 359.4 164.6Z" fill="none" stroke="url(#og11)" stroke-width="1.8"/><path d="M359.1 169.4 357.4 169.5 355.9 169.1 354.6 168.2 353.7 166.9 353.3 165.4 353.3 163.9 353.9 162.4 354.9 161 358.4 158 370.1 149 372.9 147.1 374.6 146.4 376.4 146.2 377.9 146.5 379.2 147.4 380.3 148.9 380.8 150.9 380.3 152.9 379.1 154.7 376.4 157.1 363.1 167.3 360.9 168.7 359.1 169.4ZM359.4 164.6 358.4 164.9 357.6 164.7 357.4 164.4 357.4 163.9 358.7 161.9 361.1 159.6 364.1 157.3 367.6 155.2 370.1 154.2 370.9 154.1 371.5 154.4 371.6 155.1 370.9 156.4 367.9 159.4 363.4 162.7 361.1 163.9 359.4 164.6Z" fill="#fff"/><path d="M359.1 167.7 357.9 167.8 356.6 167.5 355.8 166.9 355.1 165.9 354.9 164.9 355.2 163.6 355.7 162.6 356.6 161.5 360.9 158 373.1 148.8 374.6 148.1 375.9 147.9 377.1 148.1 378.1 148.7 378.9 149.9 379 151.4 378.5 152.9 377.4 154.2 374.9 156.3 362.6 165.7 360.6 167.1 359.1 167.7Z" fill="rgb(255,255,255)" stroke="#000" stroke-width=".45"/><path d="M360.6 163.2 359.6 163.1 359.6 162.4 360.5 161.1 362.4 159.4 364.4 157.9 366.6 156.5 368.4 155.8 369.4 155.9 369.4 156.4 368.9 157.4 366.6 159.6 363.4 161.9 360.6 163.2Z" fill="rgb(140,140,140)" stroke="#000" stroke-width=".45"/><path d="M362.9 161.4 362.1 161.6 361.7 161.4 362.3 160.4 364 158.9 366.1 157.6 367.1 157.4 367.2 157.9 366.2 159.1 364.6 160.4 362.9 161.4Z" fill="rgb(60,60,60)" stroke="#000" stroke-width=".45"/></g>
<rect x="340.60" y="116.50" width="70.90" height="71.30" fill="none" stroke="#a8a8a8" stroke-width="1.1"/>
<line x1="385.00" y1="117.00" x2="385.00" y2="187.80" stroke="#222" stroke-width="1.3" />
<line x1="385.00" y1="150.20" x2="411.60" y2="150.20" stroke="#222" stroke-width="1.3" />
<text x="397.10" y="125.80" font-size="6.5" text-anchor="middle" font-weight="bold" style="stroke-width:0">0.552</text>
<text x="398.00" y="182.50" font-size="6.5" text-anchor="middle" font-weight="bold" style="stroke-width:0">3.08</text>
<g clip-path="url(#cp12)"><clipPath id="cp12"><rect x="433.5" y="116.5" width="71.30" height="71.80"/></clipPath><path d="M499 118.4 498.7 118.3 498.3 117.9 498.6 116.7 499.4 116.7 499.7 117.3 499.5 118 499 118.4ZM482.7 118.5 482.3 118.6 481.8 118.3 481.7 118 482 117.4 482.3 117.3 482.9 117.7 483 118 482.7 118.5ZM490.7 122.8 489.7 122.9 488.7 122.3 488.4 121.3 488.8 120.3 488.3 119.9 487.8 120 487.4 121 487 121.3 486.3 121.3 486.1 121 486.1 120.3 487 119.6 487.3 118.4 487.7 118 489.7 117.7 490.3 118 491 118.7 491.2 119.3 491 120.7 491.2 122 490.7 122.8ZM479 119.4 478.7 119.2 478.4 118.7 478.7 118.1 479 118 479.5 118.3 479.7 118.7 479.3 119.3 479 119.4ZM456 178.2 455.3 178.2 455 177.7 454.9 176.7 452.7 175.3 450.7 176.2 445.7 175 444 175.9 443 176 442.3 175.8 441.7 175 441.7 173.3 440.8 172.3 440.4 171 439 170.1 438.5 169.3 438.2 166.3 438.5 165.7 439.4 165 440.2 162.3 441.1 158.7 440.8 157.3 440.9 156.7 441.3 156.1 442.7 155.5 443.7 154.5 445.7 154.3 446.4 153.7 446.4 152 444.8 150 444.8 149.3 445.1 148.7 446 148.1 447 148.3 448.7 149.6 448.8 151.3 449.3 151.5 449.7 151.3 450 150.6 450.2 148.7 450.6 148 451 147.7 452.3 147.7 452.3 147.2 452 146.8 451 146.9 450.7 146.7 450.3 146 450.4 145.3 451.3 145.3 452.3 146 453.7 145.8 455.7 146.2 456.7 145.1 458 144.6 459.3 143.6 462.1 143.3 461.6 142.3 462.1 140.7 461.1 139 461.3 138.1 462 137.5 462.7 137.4 463.3 137.8 463.7 139.7 464.3 140.9 464.7 141.1 466.7 140.5 469.3 140.5 471.3 140.9 471.9 140.7 473.8 138.7 473.6 137 474.2 135.3 473.7 134.3 473.6 133.3 474 132.2 475 132.3 476.3 133.5 478.3 133.1 479.4 132 479.3 131.7 477.3 131.3 475 129.7 474.7 129.3 474.8 128.7 475.3 128.3 477.3 128.9 478.7 127.7 479.3 127.4 480 127.5 481 128 481.3 127.9 481.9 127 481.7 125 482.1 124.3 483.3 123.3 483.2 122.3 483.7 121.8 484.7 121.9 486.3 123.2 487 124.1 488.7 124.5 490 125.7 491 125.9 491.7 125.3 491.9 123 492.7 122.1 493.7 121.9 494.3 122.1 495.7 123.3 497.3 122.2 497.4 121.3 496.7 120 497 119.4 497.7 119.3 498.6 120.3 500 121 500.5 122 500.2 122.7 499.4 123.3 499.4 123.7 500.3 124.7 500.6 126 501.8 127.3 503.2 128.3 504.1 131 503.5 133 504.3 133.4 504.5 134 504.3 135.5 503.9 136 503.8 137.7 504.3 139.4 504.4 141 504.3 141.4 502.7 142.3 501.7 142 500.7 141.1 500.3 141 500 141.4 499.8 142.3 500.1 143 500.7 143.6 501.9 144.3 502 145 501.7 145.5 499.3 145.5 497.7 145 497 145.3 496.9 145.7 497.2 146.3 498 146.7 500 146.3 501.3 146.8 502.3 146.2 503.2 146.7 503.2 147.3 502.4 148 502.3 148.3 502.6 148.7 504.3 149.5 504.6 152.3 504.3 154.6 502.5 156 502 157.3 502 158.3 503.3 159.7 503.4 160.3 503.1 161 502.3 161.5 500.3 161.8 497.3 160.7 496 162.3 495 162.8 494.3 162.6 493.3 161.6 492.7 161.5 492.2 162 491.5 164 490.7 164.7 489.7 164.7 488.6 163.7 485.7 163.3 484.3 164.1 482.7 164.5 482.5 166 482 166.7 481.3 166.9 479.7 166.3 478.3 167.1 476.3 167.2 475.3 167.7 474 167.9 473 168.3 472.3 168.3 471.3 166.8 469.7 166.6 469 168 467.3 169.4 466.7 169.7 466 169.3 465.3 168.1 464.3 168 464.2 168.7 465.1 171 464.7 172 463.7 172.3 461.7 171.4 460 171.6 459.3 171.9 458.9 172.7 459.1 174.3 458.7 176 458 176.8 456.7 177.3 456 178.2ZM479.7 123.1 478.7 123.3 477.8 122.7 477.7 121.7 478.3 120.8 479.3 120.7 481.3 121.3 481.6 121.7 481.6 122.3 481.3 122.6 479.7 123.1ZM503.3 121.9 503 122 502.5 121.7 502.4 121.3 502.7 120.8 503 120.7 503.6 121 503.7 121.3 503.3 121.9ZM464.3 123.2 464 123.3 463.5 123 463.4 122.7 463.7 122.1 464 122 464.5 122.3 464.6 122.7 464.3 123.2ZM477.3 126.2 477 126.3 476.5 126 476.4 125.7 476.7 125.1 477 125 477.5 125.3 477.6 125.7 477.3 126.2ZM465.3 128.5 465 128.6 464.5 128.3 464.4 128 464.7 127.5 465 127.4 465.5 127.7 465.6 128 465.3 128.5ZM489.1 130 490.2 128 490 127.6 489.3 127.6 488.6 128.3 488.7 129.8 489.1 130ZM447 130.9 446.7 131 446.1 130.7 446 130.3 446.3 129.8 446.7 129.7 447.2 130 447.3 130.3 447 130.9ZM457.3 130.9 457 131 456.5 130.7 456.4 130.3 456.7 129.8 457 129.7 457.5 130 457.6 130.3 457.3 130.9ZM473.3 131.8 472.7 131.6 472.4 131 472.5 130.7 473 130.3 473.6 130.7 473.7 131 473.7 131.6 473.3 131.8ZM469.3 133.7 469 133.6 468.7 133 469 132.5 469.3 132.4 469.7 132.5 470 133 469.9 133.3 469.3 133.7ZM458 134.9 457.7 135 457.1 134.7 457 134.3 457.3 133.8 457.7 133.7 458.2 134 458.3 134.3 458 134.9ZM454.7 135.2 454.3 135.3 453.8 135 453.7 134.7 454 134.1 454.3 134 454.9 134.3 455 134.7 454.7 135.2ZM469.3 137.3 467.3 136 467 135.3 467.3 134.8 468.1 134.7 469.7 136 470 136.7 469.7 137.3 469.3 137.3ZM440.7 138.2 440.3 138.3 439.8 138 439.7 137.7 440 137.1 440.3 137 440.9 137.3 441 137.7 440.7 138.2ZM500.5 138.3 500.7 137.4 500.3 137.2 500.1 138 500.3 138.6 500.5 138.3ZM457.7 139.5 457 139.6 456 139.3 455.5 138.3 455.8 137.7 456.7 137.4 457.7 137.7 458.2 138.7 457.7 139.5ZM471.3 140 470.7 140 470.4 139.7 470.3 139.3 470.7 138.8 471 138.7 471.6 139 471.7 139.7 471.3 140ZM483 139 482.6 139 483 139ZM456 143.9 455.7 144 455.1 143.7 455 143.3 455.3 142.8 455.7 142.7 456.2 143 456.3 143.3 456 143.9ZM449.7 144.8 448.8 144.3 448.7 144 449 143.5 449.3 143.4 449.9 143.7 450.1 144.3 449.7 144.8ZM453 167.3 454 166.7 456 164.8 459.7 162.3 464.3 158.5 468 155.9 469.7 153.6 470 152.7 469.7 151 468.8 149.7 468.2 149.3 467.3 149.3 464.3 150.3 462 152.5 457 155.6 454.3 158.1 452.3 159.6 450.8 160.3 449.2 162 448 164 448 165.3 448.3 166.2 449.1 167 450 167.4 451.3 167.6 453 167.3ZM436.3 161.9 436 162 435.5 161.7 435.4 161.3 435.7 160.8 436 160.7 436.5 161 436.6 161.3 436.3 161.9ZM489 166.9 488.7 167 488.1 166.7 488 166.3 488.3 165.8 489 165.7 489.3 166 489.3 166.3 489 166.9ZM485.7 167.9 485.3 168 484.8 167.7 484.7 167.3 485 166.8 485.3 166.7 485.9 167 486 167.3 485.7 167.9ZM499 169.9 498.7 170 498.1 169.7 498 169.3 498.3 168.8 498.7 168.7 499.2 169 499.3 169.3 499 169.9ZM479.7 171.9 479.3 172 478.8 171.7 478.7 171.3 479 170.8 479.3 170.7 479.9 171 480 171.3 479.7 171.9ZM466.7 174.9 466.3 175 465.8 174.7 465.7 174.3 466 173.8 466.3 173.7 466.9 174 467 174.3 466.7 174.9ZM448.7 178.7 447.3 177.8 446.7 178 446 177.9 445.7 177.3 445.8 177 446.3 176.6 447.7 177.5 448.3 177.3 449 177.4 449.3 178 449 178.6 448.7 178.7ZM444.3 182.4 443.3 182.1 442.7 180.7 441.8 180 441.7 179.7 442 179.1 442.7 179.1 443.3 179.7 444.7 179.8 445.3 180.2 445.4 181.3 445 182 444.3 182.4ZM450.7 181.2 450.3 181.3 449.8 181 449.7 180.7 450 180.1 450.3 180 450.9 180.3 451 180.7 450.7 181.2Z" fill="rgb(245,245,245)"/><path d="M457.7 175.7 456.3 175.9 454.7 175.7 454 175.3 453 174.3 452 174.3 450.7 174.8 449.3 174.5 447.3 174.5 445.7 173.7 444.7 174 443.7 175 443 175 442.8 174.7 442.8 173.3 441.8 172 440.4 168 439.5 166.7 440.2 165.7 440.2 164 441 162.3 441.7 159.7 442.3 158.6 443.4 157.7 443.7 155.7 444.3 155.2 445.7 155 447 154.3 447.7 152.3 449.7 152.3 450.3 152 452.2 149 453 148.5 455 148.3 456.3 147.3 457.2 145.7 458.7 145.1 459.7 144.2 462 144.2 463.4 144 463.9 143.7 464.7 142.3 466.3 141.4 469 141.2 471.7 141.7 474 140.4 477.3 141.1 477.7 141.3 478.3 142.3 478.7 142.5 479 142.3 479 142 478 140.7 478.2 140 478.7 139.5 480.7 140.4 483.3 140.8 484.3 140.7 484.2 138.7 483 137.7 482.3 137.7 480.7 138.8 475.7 138.9 475 138.7 474.3 137.3 474.7 136.4 476 135.5 477 135.2 478.3 135.2 479 133.7 481 132.1 481.3 132 482 132.6 482.7 132.3 483.1 131.7 482.7 130.3 483.3 129.3 484.3 129.1 486 129.3 486.4 129 486.5 128.7 485.4 127.3 482.7 125.7 482.7 125 485.3 123.7 485.8 124 486.3 125.4 488 125.1 488.7 125.5 488.9 126.3 488.7 127 487.1 128.7 487.5 129.7 487.1 130.7 488.9 131.7 489.1 132.3 488.9 133.7 489.1 134 489.7 134.3 491.3 132.3 491.2 132 490.3 131.3 490.1 130.3 490.3 129.6 491.3 128.6 491.7 127 492.5 125.3 492.4 123.7 492.6 123 493.3 122.5 494.3 122.8 494.7 123.3 494.8 124.7 495.3 125.1 496 124.9 496.6 123.7 496.9 123.3 497.3 123.2 498 123.5 498.6 124.7 497.7 126 498 126.7 498.7 126.9 500 126.7 500.7 127.1 501.3 128.2 502.4 129 502.3 129.5 501.2 129.7 501.2 130.7 501.3 131 502.7 130.8 502.9 131.3 502.7 132 501.8 133 502 134.3 501.7 135 500.3 135.3 499.8 136 499 140.7 498.7 140.9 497.7 140.1 497.3 140 495.4 142 495.7 142.3 496.3 142.4 497.3 141.8 498.3 141.6 499.4 143.3 499.5 144 499 144.4 497.3 143.9 497 144 496.1 145 495.8 146 496.2 146.7 497.3 147.4 499.7 147.3 500.5 147.7 501 148.3 501.2 149.3 500.3 150.3 500.3 151 500.7 151.4 501.2 151.3 501.6 149.7 503 149.7 504.3 150.5 504.3 153.6 502 155.7 501.3 158.3 501.3 159.3 502.3 159.9 502.4 160.3 501.7 160.6 499.3 160.5 497.3 159.6 496.7 160 495.7 161.5 495 161.8 493.3 160.7 492.7 160.7 491.5 161.7 490.9 163 490.3 163.4 487 162.7 485.3 161.6 484 163.2 483.3 163.1 482.7 162.6 482 162.4 479.3 164.7 478.7 166 478 166.5 477.3 166.5 476.5 166 476 164.5 474 163.8 473.1 164.3 473.3 165.7 473 166 469 165.9 468.6 167.3 467.7 168.1 466.7 168.1 465 167.2 463.7 167.2 463.3 168 464 170.3 464 171.1 463.7 171.2 462.3 170.9 460 170.9 458.7 171.5 458.2 172 458.1 172.7 458.3 174.7 457.7 175.7ZM481 131.1 480 130.5 479.1 129.7 479 129 479.3 128.7 479.7 128.7 481 130 481.3 130.7 481.3 131 481 131.1ZM494.7 131.7 495 131.3 495.3 130 495.1 129.3 494.7 129.2 493.7 129.7 493.4 130.3 493.8 131.3 494.7 131.7ZM501 132.3 501 131.7 500.7 131.6 500.6 132.3 501 132.3ZM502.7 141.4 501.7 141 501.1 140 501.1 139.3 501.6 137.7 501.6 136.3 502 135.5 502.7 135.8 503 136.3 503.1 138 503.6 139.7 503.5 140.7 502.7 141.4ZM490.4 146.7 490.3 145.7 491.9 144 491.9 143.7 491.3 143.3 490.4 143.7 489.5 144.7 489.6 145.7 489.4 146.7 490 146.9 490.4 146.7ZM483.2 148.3 484.3 148.2 485.7 148.3 486.1 148 486.2 147.3 484.7 146.6 483.3 146.5 482.5 147 481.9 147.7 482.3 148.3 483.2 148.3ZM452.2 168 453.9 167.3 456 165.2 460 162.6 464.7 158.7 468.3 156.1 470 153.8 470.4 152.7 470 150.8 469 149.3 468.3 148.9 467.7 148.8 464 149.9 461.7 152.2 459.7 153.3 458.3 154.5 456.7 155.3 454 157.9 452.3 159.1 450.5 160 448.9 161.7 447.6 163.7 447.5 165 447.7 166 448.5 167 449.5 167.7 450.8 168 452.2 168ZM442.3 157.4 442 157.5 442 157 442.3 157 442.3 157.4Z" fill="rgb(232,232,232)"/><path d="M493.7 124.9 493.3 124.8 492.9 124 493 123.3 493.7 123.1 494.2 123.7 494.1 124.3 493.7 124.9ZM493.3 129.1 492.7 129.2 492.3 129 492.1 128 492.7 126.5 493.7 125.6 494.4 126.3 494.3 128 494 128.7 493.3 129.1ZM487.7 127 487.2 127 487.1 126.7 487.7 126.1 488 126.3 487.7 127ZM497 128.4 496.7 128.6 496.5 128.3 496.3 126.8 497.2 127.7 497 128.4ZM499.7 128.7 499.1 128.3 499 128 499.3 127.6 500 127.5 500.3 128 499.7 128.7ZM492.3 131.1 491.7 131.3 491 131 490.8 130.7 491 130 492 129.8 492.4 130.3 492.3 131.1ZM496.7 132.2 496.3 131.9 496.2 131 496.3 130.5 496.7 130.2 497 130.5 497.1 131 496.7 132.2ZM488 146.9 487.7 146.8 485.7 145.4 482.3 146.1 481.8 146 481.5 145.3 482.5 144 482.3 142.3 482.7 141.7 483 141.5 484 141.6 484.7 142 485.7 144.4 486 144.5 488 143.7 487.2 142 485.7 141.2 485.2 140.3 485.3 139.2 486.7 137.8 486.7 137.3 485.8 136.7 485.3 135.3 484.3 134.9 483.3 133.7 483.4 132.7 484.6 130.7 488 132.1 488.3 132.7 488.2 134 488.4 134.3 491 136.4 491.3 136.3 491.4 136 490.6 134.7 490.7 133.8 491.3 133.1 492.7 132.5 493.7 132.4 495.7 133 496.3 133.4 497.3 132.9 498.7 132.8 499.3 133.1 499.9 134 499.2 135.3 498.7 138.7 498 139.1 496.7 138.1 496.3 138.1 495.7 140.3 494.3 141.3 493.3 142.9 492.7 143.1 491 142.7 488.4 144 488.8 145.7 488 146.9ZM480.3 134.8 479.7 134.7 479.6 134.3 480 133.7 480.3 133.6 480.7 133.7 481 134.3 480.3 134.8ZM477 138.1 476 138.3 475.3 138 475 137.6 475 137 476 136.2 476.7 136.1 477.3 136.2 477.8 136.7 477.9 137.3 477 138.1ZM485.3 137.4 485 137.6 484.1 137.3 483.6 136.7 483.6 136.3 484 136.1 484.8 136.3 485.3 136.7 485.3 137.4ZM480.7 138.1 479.9 138 479.5 137.3 480.3 136.9 481.3 137 481.2 137.7 480.7 138.1ZM502.7 140.3 502 140.3 501.7 139.7 501.8 139 502.3 138.6 502.9 139.3 502.7 140.3ZM490.7 140.3 491.1 139.7 489.1 139.3 489 139.7 489.3 140.3 490 140.6 490.7 140.3ZM493.8 139.7 493.7 139.2 492.9 139.3 492.8 139.7 493.3 139.9 493.8 139.7ZM456.3 175 454.9 175 454.6 174.7 454.5 173.7 454 173.4 448 173.6 445 172.3 444.7 171.3 443 170.8 442 169.8 441.6 168.7 441.4 166 440.6 164.3 441 163.3 442.1 162.3 442.3 160 444.4 157.7 444.7 156.3 447.6 154.7 448.3 152.9 450.2 152.7 450.9 152.3 452.2 150.7 452.8 149.3 453.3 149 454.7 149.1 455.3 148.8 457.1 147.3 457.7 146.3 459 145.7 460 144.8 463.8 144.3 465.3 143.2 467 143.1 468 142.2 469 141.8 470.3 141.9 472 142.4 473.3 141.7 476.3 141.4 477.2 142 477.7 143.1 479.3 143.5 480.3 144.3 480.4 145 478.8 147 478.7 147.5 480.7 147.6 482 149 484 148.8 485.7 149.1 486.4 149 488 147.3 490 147.7 492.7 147.2 492.8 147 492.7 146.7 491.7 145.7 491.7 145.3 493.3 144.2 495 144 495.3 144.3 494.8 146 493.5 147.7 493.7 148.8 494 148.9 495.3 148 496 148 497 149.4 497.7 149.7 498.5 149.3 499.1 148.7 499.7 148.6 499.6 150.3 500.1 151.7 501 152.1 502 152.1 502.5 151.7 502.4 151 502.7 150.6 503.2 151 503.8 152 503.5 153.3 501.7 155.4 500.9 158 500 159.4 499.3 159.6 498 159 497 159.1 495 160.8 493.3 160 492.7 160 489.7 162.3 487.7 162.2 486.3 161 485.3 160.7 483.7 161.5 481.3 161.6 480 163.3 478.4 164.3 478 165.5 477.7 165.7 477.3 165.3 477.5 164.3 477 163.7 474 163.2 472.9 163.7 471.7 165.5 470.7 165.6 469 165.2 468.6 165.3 468.3 165.7 468.1 167 467.7 167.5 466.7 167.5 465 166.6 463.7 166.7 463.1 167 462.7 167.7 463.1 169.3 462.9 170 461.7 170.4 459.7 170.4 458 171.1 457.7 171.6 456.8 174.7 456.3 175ZM452.1 168.3 454 167.6 456 165.6 460.3 162.7 465 158.8 468.5 156.3 470.3 153.7 470.7 152.7 470.3 151 469 148.9 468.3 148.5 467.7 148.5 464 149.6 461.7 151.9 459.7 153 458.3 154.1 456.5 155 455 156.6 452.7 158.5 450.3 159.7 448.5 161.7 447.5 163 447.2 164 447.2 165.3 447.5 166.3 448.4 167.3 449.3 167.9 451 168.3 452.1 168.3ZM444.3 172.4 443.7 172.6 443.3 172.4 443.1 172 443.3 171.5 443.7 171.4 444.6 172 444.3 172.4Z" fill="rgb(215,215,215)"/><path d="M493.3 128 493 128 493 127.8 493.3 128ZM485.3 133.7 484.7 133.9 484.1 133.3 484.1 132.7 485 132 485.7 132 486.7 132.7 486.6 133 485.3 133.7ZM492.7 138 492 138.2 491.5 138 492.8 137 491.3 134.3 491.7 133.6 493 133.2 493.9 133.7 493.9 135.7 492.7 138ZM498 137.6 496.8 136.7 496.4 136 496.7 135.2 497.7 134.4 498.2 134.7 498.5 136.3 498.3 137.3 498 137.6ZM489.7 137.7 488.7 137.6 488 137.2 486.8 135.7 487 135.1 488 135 489.3 135.7 490 137 489.7 137.7ZM489.7 142.8 488.7 142.7 487.9 141.3 486.3 140.7 486 140.3 486.1 139.7 486.7 139.2 487.3 139.1 488 139.7 488.7 140.9 490 141.4 490.7 141.3 492 140.5 492.7 140.6 493.2 141 493.3 141.7 492.8 142.3 492.3 142.4 491 142 489.7 142.8ZM456.3 173.1 455.7 173.2 454 172.7 452.7 172.9 451 172.7 449 173.2 447.7 172.9 446.4 172 445.1 170.7 443.3 170 442.7 169.4 442.4 168.7 442.1 165.7 441.1 164.3 441.4 163.7 442.8 163 443.7 159.3 445 158 446.1 157.3 446.8 156 448.4 154.7 449 153.5 451.3 152.8 452.9 151 453.7 149.8 455.3 149.3 458.3 147.3 460.7 145.2 467.3 143.9 469.7 142.4 470.7 142.5 471.7 143.6 472 143.7 474 143 475.3 142.1 476 142 476.5 142.3 476.6 142.7 476 143.7 476.2 144.3 477 144.7 478.3 144.3 479.1 144.7 479 145.7 477.7 147.7 478 148.9 478.3 148.9 479.3 148 480 147.9 480.7 148.3 481.3 149.3 482 149.6 487 149.6 488.3 149.4 488.9 148.7 489.6 148.3 491.7 148.1 492.3 148.3 492.9 150 493.2 150.3 493.8 150.3 495 149.5 495.7 149.4 497.3 150.8 497.7 150.9 498.7 150.6 499.7 152 502.1 153.3 500.6 157.7 499.7 158.7 498 158.4 497.3 158.5 494.7 159.8 493 159.3 490.7 160.6 490.3 160.6 489.3 159.6 487.7 160.7 485 160.1 483 161.1 481 161.2 479.7 162.6 478.7 163 474 162.7 473 163 472.3 163.4 471.6 164.7 471 165.1 470 165 469 164.4 468.3 164.5 467.5 165.3 467.3 166.8 466.7 166.8 465.7 165.9 465.3 165.8 462.9 166.7 462.2 167.7 462.3 169 462 169.6 461.3 169.9 459.7 169.9 457.7 170.7 457.3 171 456.9 172.3 456.3 173.1ZM484 143 483.7 143.1 483.4 142.7 483.7 142.5 484 143ZM451.8 168.7 453 168.5 454 168 456.3 165.7 460.4 163 465 159.1 468.7 156.6 470.6 153.7 470.9 152.7 470.4 150.7 469.1 148.7 468.3 148.2 467.7 148.2 463.8 149.3 461.5 151.7 459.7 152.7 458 154 456.3 154.8 453.7 157.5 452 158.7 449.9 159.7 448.3 161.4 447.3 162.7 446.9 163.7 446.8 165 447 166 448 167.3 448.9 168 451.8 168.7Z" fill="rgb(197,197,197)"/><path d="M449 172.7 447.7 172.3 445.7 170.5 443.7 169.5 443.1 168.7 442.8 166.3 443.5 165 443.6 162.7 444.5 159.3 445.3 158.4 446.8 157.7 447.6 156 449.7 154 451.7 153.2 452.7 152 454.3 150.6 457 148.6 459 147.7 461.3 145.5 467.3 144.5 470 143.2 470.4 143.3 471.3 145 472.7 144.6 475 144.6 478 145.7 477.2 148 477.4 149.3 478 150.2 478.3 150.3 478.9 150 479.3 149 479.7 148.6 480 148.7 480.7 149.9 483 150.9 485.7 150.1 488 150.5 488.7 150.4 489.5 150 490.4 149 491.3 148.8 491.7 149 492.2 150.3 493 150.9 494 151.2 495.3 150.6 496 150.7 497 152.7 497.7 153.3 499.3 152.5 500.6 153 501.1 153.7 501 154.7 500.2 157 499.7 157.8 498 157.7 494.7 159.1 493 158.7 491 159.8 489.7 158.8 489 158.6 488 159.7 487.3 160 484.7 159.4 483 160.6 480.5 160.7 477.7 162.1 476 161.9 472 162.4 471.6 162.7 471.1 164 470.7 164.3 470.3 164.3 469.3 163.2 468.3 163.1 466.7 164.5 462.3 166.6 460.7 168.9 459.3 169.3 457 170.6 456.4 172 456 172.5 453.7 172 450.3 172.2 449 172.7ZM453.5 168.7 454.7 167.8 456.3 165.9 460.7 163.2 465.1 159.3 468.9 156.7 470.8 153.7 471.1 152.7 470.7 150.7 469.7 149 469.1 148.3 468.3 147.9 467.7 147.9 463.7 149.1 461.3 151.5 459.3 152.6 458 153.7 456.3 154.4 452.7 157.9 449.7 159.4 447.1 162.3 446.6 163.7 446.5 165.3 446.9 166.3 447.7 167.4 449 168.3 451 168.9 452 169 453.5 168.7Z" fill="rgb(176,176,176)"/><path d="M452 171.7 450 171.6 448.3 171.9 446 170.1 444.3 169.3 443.7 168.7 443.6 167 444.1 165.3 444.2 163 444.7 161.7 445.2 159.3 445.8 158.7 447.4 158 447.8 156.7 448.3 155.9 450 154.9 451.1 154.7 453.4 152 456 150.3 457.3 149.1 459.5 148.3 461.7 145.9 467.3 145 469.3 144.3 470 144.5 471 145.7 471.7 146.1 473.3 146 475 145.5 476.4 146 476.8 146.3 476.6 147.7 477 149.7 478 151.1 479.3 151.3 479.7 151.6 479.2 153 479.3 153.5 479.7 153.7 481 153.3 481.7 152 484 151.4 485.3 150.7 486.2 150.7 488 151.4 491 150.2 491.8 151 494 152.2 495.7 152.3 497.1 154 497.1 157 496.7 157.5 495.1 158.3 494.3 158.4 493 158 491 159.1 489.7 158 488.7 157.8 488.2 158 487.6 159 487 159.3 484.7 158.2 484 158.6 483.1 160 482 160.3 481 160 479.7 158.6 478.3 158.2 478.1 160 477.7 160.8 477 160.8 476 160.3 474.7 161.5 473.7 161.8 473 161.7 471.7 160.6 470 162.1 468.3 162.1 467.7 162.3 466.3 163.9 462 166.3 460.3 168.3 459 168.8 456.6 170.3 455.7 171.5 453.7 171.3 452 171.7ZM452.6 169.3 454 168.9 456.3 166.2 460.9 163.3 465.3 159.4 469 157 471.1 153.7 471.3 152.7 470.9 150.7 469.3 148.1 468.3 147.6 467.7 147.5 463.3 148.9 461 151.3 459.3 152.2 457.7 153.5 456 154.3 454.7 155.8 452.6 157.7 449.1 159.3 446.5 162.3 446.2 163 446.1 165.3 446.5 166.3 447.2 167.3 448 168.1 449.3 168.8 451.3 169.3 452.6 169.3ZM500 155.2 499.7 155.3 499.1 154.3 499 153.7 499.3 153.3 499.9 153.3 500.2 153.7 500.3 154.3 500 155.2Z" fill="rgb(154,154,154)"/><path d="M456.3 169.7 455.3 170 454.6 169.7 454.8 169 456.3 166.6 461 163.8 465.5 159.7 469.1 157.3 471.2 154 471.5 153 471.4 151.3 470 148.4 469 147.4 468 147 463.3 148.3 461 150.9 459 151.8 457.6 153 456 153.7 454.3 155.6 452 157.7 448.7 158.7 448.2 158.3 448.3 157 449.3 155.9 451.8 155.3 453.7 152.7 454.4 152 455.7 151.4 457 151.1 458.3 149.8 459.9 149.3 462.6 146.3 463.7 146.1 465 146.2 466.3 145.7 467.7 145.5 469 144.9 469.7 145.1 471.3 146.6 474.3 147 476 148.3 476.5 150 478 152.3 478.5 154 479 154.4 480.7 154.4 482.3 154.1 483 153.7 483.7 152.4 484.3 152.2 484.8 152.3 485.1 154 485.4 154.3 486 154.4 487.3 153.2 488.4 152.7 489.2 151.7 490 151.4 491.4 152 492 152.7 491.6 153.3 490.3 154 490.1 154.3 490.3 156 490.7 156.2 491.7 155.8 493 156 494.7 154.8 495.7 153.6 496 153.7 496.3 154.3 495.7 157 494.7 157.8 494 157.7 493 157 492.7 157.1 491.7 158 491 158.1 490.6 157.7 490.3 156.7 489 157.1 487.7 157 486.7 157.8 486.3 157.8 483.3 156.4 483 156.5 482.7 157 482.9 159 482.3 159.7 481.7 159.6 480.3 157.9 478.7 157.1 477.7 156.1 477.3 156.1 476.8 157.3 476.9 159 475.4 159.7 474.3 161 473.3 161.1 472 159.8 471.3 159.6 470 161.2 468 161.4 467.4 161.7 465.7 163.6 461 166.3 460 167.8 458.7 168.2 457.4 169.3 456.3 169.7ZM447 161 446.3 161.3 446 161.2 445.7 160.3 445.9 159.3 446.7 158.9 447.7 158.9 448 159.3 447.7 160.3 447 161ZM445.3 164.6 445 164.7 445 163.7 445.3 163.7 445.3 164.6ZM451.3 171 448 170.8 446.7 169.8 444.9 169 444.4 168.3 444.4 167.7 445 166 445.3 165.8 448 168.6 452.2 170.3 452.2 170.7 451.3 171Z" fill="rgb(128,128,128)"/><path d="M470 146.9 469.7 147 469 146.7 468.7 146 469 145.8 469.6 146 470 146.9ZM462 164.7 461.3 164.7 462.9 163 463.7 161.7 466.6 159.3 469.3 158 471.7 153.7 471.8 152 470.5 148.7 470.5 147.3 472.7 147.3 474 147.9 475.3 149 476.4 151 477.3 154 476.3 156 475.6 158.3 473.7 160.3 472 159 470.7 159 469.7 160.5 467.7 160.9 466.6 161.3 465.1 163 463.5 163.7 462 164.7ZM453.7 155.1 453.4 155 453.6 154.7 454.3 153.9 454.3 154.4 453.7 155.1ZM489 155.7 488.7 156 488 155.8 487.6 155.3 487.7 155 488 154.7 488.7 154.7 489 155 489 155.7ZM479.7 156 479.2 156 479.3 155.7 479.7 155.7 479.7 156ZM449.7 157.7 449.5 157.3 450.3 156.7 452.1 156.3 452.2 156.7 451.5 157.3 449.7 157.7ZM456.7 168.7 456.3 168.5 456.2 168 456.7 167 457.8 166.3 459.5 166 459.6 166.3 459.3 166.9 458.3 167.2 457.3 168.5 456.7 168.7ZM446.3 168.7 445.6 168.3 445.7 167.8 446.4 168 446.5 168.3 446.3 168.7Z" fill="rgb(101,101,101)"/><path d="M451.5 169.6h.6M472 148.6h.6M474.7 154.8h.6M469 145.1h.6M470.7 147.2h.6M444.5 174.8h.6M445.1 164.3h.6M445.4 170h.6M460.5 148.2h.6M457.7 167.2h.6M464.4 148.2h.6M473.3 157.7h.6M470.3 156.4h.6M444.6 161.3h.6M474.3 153.6h.6M460.8 149.5h.6M461.7 149.1h.6M460.9 150.9h.6M459.7 151h.6M450.2 173.2h.6M465.2 147.5h.6M444.7 157.5h.6M466.9 161.9h.6M469.9 146.5h.6M453.7 156.5h.6M463.9 161.6h.6M466.8 145.9h.6M465.5 162.5h.6M446.8 159.6h.6M453.3 146.6h.6M453 154.1h.6M459.4 150h.6M464 164.7h.6M449.9 154.2h.6M447.6 159.2h.6M463.3 146.7h.6M473.2 147.4h.6M456.5 167.7h.6M447.9 169.7h.6M460.8 147.4h.6M451.2 158h.6M451.7 157.1h.6M464.9 161.1h.6M445.8 166.4h.6M447.8 169.1h.6M467.1 144h.6M451.5 157.6h.6M453.4 169.2h.6M467.7 159.4h.6M456.7 167.1h.6M470.1 146.5h.6M466.1 159.9h.6M470.5 160.5h.6M454.7 153.8h.6M445.2 161.4h.6M466.8 147.1h.6M470.7 159.5h.6M449.7 169.8h.6M472.9 154.3h.6M445.2 166.9h.6M461.3 147.2h.6M460.5 149.1h.6M451.8 154.1h.6M452.9 169.4h.6M441.5 164.3h.6M463.3 148h.6M461.9 168.1h.6M459.5 169.6h.6M459.3 151.2h.6M451.8 156.5h.6M466.1 164h.6M459.9 167.1h.6M462 168.5h.6M467.6 166.9h.6M448.7 160h.6M465.5 166.1h.6M456.2 151.4h.6M468 158.7h.6M468.1 161.1h.6M470.2 147.8h.6M456.8 167.6h.6M471.7 156h.6M446.7 171.6h.6M471.6 154.9h.6M464 162.1h.6M471.5 148.5h.6M444.5 155.5h.6M457.9 172.3h.6M454.6 169.4h.6M459.5 166.5h.6M445.4 162.8h.6M457.6 153.5h.6M462 149.4h.6M470.8 148.6h.6M454.5 152.3h.6M448.4 156.4h.6M454.1 174.7h.6M446.4 170.1h.6M442 164.3h.6M453.2 169.5h.6M450.4 154.1h.6M460.5 164.2h.6M469.4 147.6h.6M453.5 151.6h.6M467 145.8h.6M458 174h.6M449.3 158.2h.6M461.5 150.2h.6M465.6 142.3h.6M453.8 149.9h.6M464.9 162.1h.6M452.9 155.3h.6M459.9 145.1h.6M443.6 172.5h.6M458.3 152.1h.6M471.8 148.8h.6M456.8 153.2h.6M466.8 146.9h.6M466.6 147.4h.6M472 149.4h.6M449.4 172.5h.6M468.8 146.2h.6M455 169.2h.6M471.2 158.2h.6M456.7 152.1h.6M446.3 161.3h.6M444.1 159.1h.6M461 151h.6M466 160.1h.6M464.1 148.2h.6M458.6 167.5h.6M461.7 146.1h.6M474.3 149.8h.6M469.1 146h.6M459.8 149h.6M444 168.8h.6M461 169.1h.6M444.8 169.2h.6M462.9 168.8h.6M450.8 170.8h.6M459.8 168h.6M465.9 160.3h.6M476.5 151.9h.6M472.2 158.4h.6M460.7 145.1h.6M470.9 164.9h.6M443.5 169.2h.6M456.6 150.8h.6M452.8 154.9h.6M443.9 167.3h.6M458.8 170.5h.6M463 147.5h.6M453.1 152.6h.6M472.9 165.5h.6M468.4 158.9h.6M471.6 149.8h.6M447.3 174h.6M451.3 158.1h.6M457.3 146.7h.6M454.6 169.2h.6M454.9 152.9h.6M455.7 154h.6M472.6 152.1h.6M471.8 154.7h.6M448.8 169.3h.6M448.7 170.1h.6M456.8 168.1h.6M449.7 159h.6M470.5 157.3h.6M461.5 147.4h.6M469.3 159.7h.6M444.5 163.3h.6M465.5 160.7h.6M446.1 170.4h.6M477.5 154.7h.6M447.7 161.1h.6M444.3 162.8h.6M473.9 156.2h.6M458 151.1h.6M466.2 147.3h.6M454.3 150.5h.6M466.6 160.5h.6M458.7 150.2h.6M460.5 150.3h.6M455.1 174.6h.6M462.6 164.6h.6M446.5 159.4h.6M453 173.1h.6M452.3 155.2h.6M450.2 157.7h.6M455.1 168.9h.6M448.2 169.1h.6M442.2 170.9h.6M455.9 174.2h.6M460.1 151.3h.6M458.3 152.4h.6M457.4 151.3h.6M468.3 159.6h.6M472.8 145.7h.6M476.8 146.5h.6M458.2 151.2h.6M467.5 146.3h.6M463.9 161.7h.6M468.2 159h.6M448 159.7h.6M452.8 156.7h.6M472.9 155h.6M472.9 157.8h.6M472.1 149.9h.6M470 147.8h.6M451 151.9h.6M469.9 146.5h.6M453.1 156.6h.6M449.1 157h.6M446.4 168.4h.6M454.6 171.2h.6M468.1 160h.6M447.2 167.5h.6M463.4 147.4h.6M459.1 149.9h.6M455 153.9h.6M470.7 156.3h.6M460.7 150.6h.6M471.8 157.3h.6M469.6 144.2h.6M462.5 148.9h.6M461.6 146h.6M445.7 168.3h.6M465.7 164h.6M452.2 170.2h.6M460.4 150.2h.6M448 170.2h.6M456.4 152.5h.6M451.6 171.3h.6M472.1 157.7h.6M444.6 167.7h.6M466.8 159.8h.6M460.6 164.4h.6M470.1 147.3h.6M443.1 160.1h.6M465.1 162.8h.6M469.4 161.5h.6M465.9 163.1h.6M470.4 156.6h.6M473.2 152.9h.6M457.6 168.2h.6M448.1 169.4h.6M446.3 168.1h.6M448.7 153.4h.6M448.6 156h.6M470.1 157h.6M448.1 171.6h.6M443.3 161.3h.6M473.5 159.8h.6M445.1 166.8h.6M457.7 148.8h.6M443.5 174.3h.6M461.9 165.2h.6M472.1 149.7h.6M464.4 162.5h.6M453.8 154.5h.6M460 165.5h.6M459 168.9h.6M445.2 169.8h.6M450.4 156.9h.6M444 166.8h.6M458 149.7h.6M449.4 156.8h.6M455 155h.6M469.5 163.9h.6M475.3 152.3h.6M457.5 166.8h.6M467.3 159.6h.6M458.5 168.7h.6M466.4 160.4h.6M474.9 160.7h.6M473.9 154.8h.6M477 159.3h.6M450.4 170.4h.6M456.2 167.6h.6M446.9 168.7h.6M471 148.6h.6M461.6 166.8h.6M466.4 146.5h.6M445.1 165.5h.6M475.7 153.2h.6M473.6 155.6h.6M461.8 146.2h.6M470.6 160.8h.6M459.6 150.7h.6M450.3 169.8h.6M459.4 167.3h.6M453.8 152.9h.6M451.4 174.4h.6M446.7 162.5h.6M466.4 161.7h.6M467.5 146.8h.6M459.9 144.6h.6M470.5 156.4h.6M443.4 168.1h.6M445.8 158.4h.6M472.8 151.5h.6M456.8 166.8h.6M447.4 160.8h.6M465 161.1h.6M457.7 166.4h.6M449.8 158h.6M462.6 163.5h.6M447.8 169.4h.6M472.7 153.4h.6M443 166.4h.6M473.1 149.3h.6M461.9 165.3h.6M452.8 152.2h.6M447 168.3h.6M465.8 147.8h.6M458.9 166.1h.6M458.5 152h.6M475.1 150.4h.6M454.7 172.6h.6M451.3 157.5h.6M467.4 159.7h.6M465.4 160.8h.6M457.9 149.3h.6M445.5 166.4h.6M468.9 144.9h.6M468.9 145h.6M476.6 149.3h.6M452.6 155.4h.6M445.9 159.2h.6M473.4 154.1h.6M472.3 157.2h.6M463.8 163.4h.6M472.7 155.5h.6M471.8 148.3h.6M448.6 160.1h.6M467.5 164.9h.6M459.3 167.6h.6M459 165.8h.6M449.2 158.2h.6M475.7 152.7h.6M460.1 151.1h.6M467.3 147h.6M461.3 147.1h.6M446.5 156.6h.6M450.6 154h.6M463 147.7h.6M453.7 169.6h.6M466.7 145.8h.6M459.5 167.4h.6M445.4 160.9h.6M462 146.6h.6M449 158h.6M457.6 166.5h.6M467 166.7h.6M465.8 146.8h.6M466.1 159.8h.6M444.6 180.8h.6M470 147.4h.6M446.4 177.5h.6M474.2 160.7h.6M459.4 148.6h.6M471 156h.6M474.7 162.5h.6M461.5 167h.6M474.1 160.9h.6M443.2 170h.6M477.9 146.2h.6M465.2 161.6h.6M442.3 179.8h.6M455.7 169.2h.6M444 181.9h.6M457.8 174.7h.6M448.3 156.9h.6M473.2 142.8h.6M463.9 148.1h.6M457.7 153.4h.6M470 143.4h.6M469.4 146.2h.6M473.1 144.6h.6M478.6 156.3h.6M468.5 159.6h.6M460.3 148.1h.6M450.7 171.4h.6M453 150.1h.6M448.8 178.1h.6M445.7 149.6h.6M476.8 155.7h.6M448.2 170h.6M453.6 170.5h.6M471.9 149.2h.6M457.3 146.2h.6M457.3 149.2h.6M475.1 143.1h.6M446.3 159.3h.6M443.8 172.8h.6M499.4 158.9h.6M495.3 152.8h.6M489.9 152.5h.6M500.8 159.3h.6M489.6 151.5h.6M499.5 154h.6M491.7 157.2h.6M497.1 157.2h.6M489.8 155.4h.6M475.2 155.8h.6M495.1 157.4h.6M489.4 155.1h.6M489.3 157.2h.6M498.8 157.1h.6M482.2 159.1h.6M482.9 158.2h.6M489.5 148.8h.6M478.6 158.6h.6M494 157.3h.6M488.4 154.8h.6M491 156.7h.6M476.6 155.3h.6M494.4 154.6h.6M498.5 150.2h.6M481 158.1h.6M477.2 157.7h.6M496.6 152.1h.6M491.3 152.2h.6M480.2 156.9h.6M483.6 155.2h.6M479.3 158.1h.6M495.3 158.5h.6M483.9 153.6h.6M492.5 154.1h.6M491.7 158.1h.6M488.4 156.8h.6M483.2 159.7h.6M487.8 147.3h.6M487.1 155.5h.6M482.6 159.7h.6M499.3 151.5h.6M486.9 156.1h.6M477.9 153.3h.6M494.1 155.6h.6M474.2 149.6h.6M495.2 158.1h.6M486.6 159.8h.6M482.4 157.2h.6M491.4 162.7h.6M472.9 157.9h.6M475.3 158.4h.6M477.1 155.2h.6M493.9 154.3h.6M492.7 151.7h.6M494.2 158.9h.6M473 150.5h.6M483.7 157.2h.6M465.9 163.5h.6M487.3 159.8h.6M483.4 155.9h.6M496.3 156.5h.6M486.2 156h.6M478.1 150.1h.6M476.4 153.7h.6M487.3 153.1h.6M491 150.3h.6M483.1 158.6h.6M482 158.1h.6M478.5 154.6h.6M491.7 153.4h.6M484.5 154.4h.6M488.1 153.1h.6M486 158.5h.6M500.7 156h.6M483.7 154.7h.6M474.4 158.2h.6M482.9 159.3h.6M496.8 151.4h.6M488.7 156.6h.6M484 157h.6M482.3 154.9h.6M480.4 157.5h.6M481.8 155.9h.6M482.8 154.5h.6M478.8 153.1h.6M487.6 155.1h.6M494.8 157.3h.6M481.6 154.2h.6M476.1 158.5h.6M487.8 156h.6M475.5 154.7h.6M482.3 151.9h.6M489.5 156.5h.6M498.8 155.6h.6M490.6 156.3h.6M479.4 154.3h.6M501.1 155.5h.6M488.4 151.3h.6M499.8 157.6h.6M488.1 155.4h.6M486.8 156h.6M473.4 155.6h.6M480.7 155.9h.6M487.9 152.7h.6M500.6 157.3h.6M497.9 158.7h.6M489 154.7h.6M496.2 151.1h.6M489.4 159.8h.6M476.6 159.1h.6M480.8 160.1h.6M480 155.4h.6M500.2 155.1h.6M498.1 157.3h.6M472.1 154.5h.6M477.8 154.1h.6M477.2 155.2h.6M480.4 152.1h.6M496.1 154.8h.6M489.2 152.9h.6M474.6 158.8h.6M494 156.3h.6M494.5 156.8h.6M477.2 160.6h.6M484.2 157.2h.6M501 154.2h.6M486.4 161.9h.6M498.8 151.7h.6M488.7 156.5h.6M499.2 155.9h.6M478.8 161.8h.6M495.5 157.1h.6M481.6 150.6h.6M487.9 151.3h.6M501.2 153.1h.6M488.8 154.7h.6M491.9 148.9h.6M492.3 153.1h.6M484 151.9h.6M490.4 164.1h.6M495.8 153h.6M487.1 153.8h.6M479.5 156.2h.6M477.3 161.8h.6M480.6 157.6h.6M488.1 159h.6M489.2 155.7h.6M494.6 158.7h.6M481.1 155.7h.6M474.6 150.3h.6M471.9 156.2h.6M492.9 151.9h.6M494.5 150.2h.6M499.3 155.2h.6M475.9 156.3h.6M494.9 154.9h.6M476.9 151.7h.6M479.4 163.6h.6M477.3 156.4h.6M472.8 156.2h.6M491.5 155.1h.6M490.2 151.1h.6M489.5 157.3h.6M492.2 151.7h.6M470.8 158h.6M482.5 152.5h.6M478.6 159.3h.6M487.4 159.9h.6M490.9 149.7h.6M490.4 155.1h.6M492.2 156.1h.6M492.9 153h.6M480.4 162.9h.6M486.8 154.7h.6M499.6 158.3h.6M481.4 150.2h.6M482.2 161.6h.6M485.8 152.3h.6M479.5 156.1h.6M478.9 155.3h.6M484.7 152.4h.6M483.9 151.6h.6M487.7 155.1h.6M493.7 156.7h.6M498 152.8h.6M494.6 157.1h.6M490.7 154.6h.6M490.6 157.6h.6M490.2 154.7h.6M495.6 153.5h.6M479.1 158.3h.6M486.6 158.9h.6M481.9 152.7h.6M484.6 152.1h.6M481.6 159.4h.6M488.2 156.9h.6M480.4 155.7h.6M486.1 155.3h.6M497.1 150.4h.6M476.9 157.9h.6M489.8 152.3h.6M477.4 162.4h.6M487.1 153.1h.6M481.5 157.4h.6M489 155.6h.6M475.4 159.3h.6M474.3 160.8h.6M474.3 153.5h.6M486.8 156.9h.6M486.8 142.5h.6M495.9 144.2h.6M492.2 145h.6M503.6 150.4h.6M483 142.5h.6M498.8 143.7h.6M493 127h.6M489.5 142.9h.6M482.1 145.7h.6M499.3 117.6h.6M480.4 130.1h.6M494.3 157.1h.6M477.8 159.7h.6M503.6 140.8h.6M493.3 132.9h.6M481.5 140.7h.6M484.3 142.8h.6M493.9 136.3h.6M475.9 137.3h.6M495.6 136.8h.6M482.8 133.5h.6M491.6 140.9h.6M492.7 148.8h.6M481.3 132.3h.6M489.4 137.4h.6M502.8 128.9h.6M501.9 131.9h.6M500.6 130.3h.6M502.7 153.6h.6M503.1 147h.6M490.9 141.8h.6M488.2 143.6h.6M496.1 149.7h.6M499.8 132.4h.6M492.1 141.5h.6M476.9 135.6h.6M496.8 130.3h.6M486.4 140h.6M485.4 123.9h.6M496.5 127.2h.6M494.7 141.3h.6M483.8 144.1h.6M479.3 145.7h.6M484.4 137.1h.6M488.3 132.7h.6M492.1 134.9h.6M496.2 147.9h.6M497.8 124.9h.6M496 129.2h.6M490.6 119.7h.6M495.2 136.3h.6M486.7 132.7h.6M501.9 140.1h.6M503.4 121.3h.6M488.5 153.6h.6M494.8 140.7h.6M472.8 143.8h.6M477.7 136.5h.6M485 139.2h.6M481.9 155.7h.6M493.3 137.8h.6M496.9 136.4h.6M497.8 134.6h.6M497.8 130.7h.6M493.9 147.7h.6M499 169.4h.6M484.2 144.5h.6M497.4 124h.6M489.7 118.8h.6M484.6 149h.6M492 133.8h.6M489.1 140.6h.6M484.8 133.2h.6M496.9 155.1h.6M482.1 131.2h.6M499.7 133.9h.6M497.5 123.7h.6M493 154h.6M496.9 130.7h.6M492.5 141.5h.6M499.5 158.9h.6M502.6 139.5h.6M495.7 140h.6M498.4 136.8h.6M480 146h.6M491.4 134.5h.6M499.1 140.9h.6M477.1 151.1h.6M502.8 137.2h.6M498.8 138.9h.6M493.2 151.8h.6M496.3 154.4h.6M483 125.5h.6M483.3 124.9h.6M486.3 128.1h.6M485.2 126.5h.6M493 141.2h.6M494.5 138h.6M484.6 144.7h.6M500 153.4h.6M489.9 136h.6M485.3 133.3h.6M502.5 138.7h.6M498.4 127.7h.6M476.4 136.9h.6M485.5 131.1h.6M490.7 126.6h.6M483.6 149.9h.6M486.8 132.9h.6M488.4 126.7h.6M482.9 144.2h.6M495 147.5h.6M480.3 148.7h.6M475.8 145.1h.6M487.6 127.4h.6M492.1 145.3h.6M502.7 139h.6M481.1 143.8h.6M493.3 127.9h.6M482.6 140.2h.6M479.1 135h.6M485.2 137.4h.6M490.3 142.5h.6M487.7 127h.6M492.1 148.2h.6M495.8 137.9h.6M471.5 144.9h.6M472 155h.6M474.7 151.7h.6M474.3 155h.6M478 153h.6M475.8 147.9h.6M474.4 157.6h.6M468.7 160.8h.6M475 148h.6M473.2 160.2h.6M475.2 146.1h.6M472.5 149.7h.6M474 142.5h.6M473.1 151.9h.6M474.3 145.6h.6M472.9 149.2h.6M477.2 154.4h.6M477.4 146.2h.6M473.3 162.5h.6M474.7 156.6h.6M470.7 158.6h.6M477.2 157.1h.6M474.5 159.3h.6M473.1 156.3h.6M475.6 144.3h.6M470.5 157.2h.6M477.4 154.8h.6M472.6 148.5h.6M474.1 156.7h.6M479.4 151.7h.6M475 153.6h.6M473.5 151h.6M470.6 145.1h.6M474.5 156.5h.6M475.4 152.8h.6M470.7 160.8h.6M472.2 154.6h.6M475.4 151.5h.6M470.6 142.9h.6M473.4 151.4h.6M473.5 141.5h.6M475.6 150h.6M475.5 150.5h.6M476.3 143.8h.6M474.7 150.7h.6M473.4 150.1h.6M474.5 154.5h.6M475.8 153.4h.6M475 158.5h.6M472.7 147.9h.6M473.7 166h.6M474.4 150.7h.6M472.7 156.4h.6M473.2 156.9h.6M468.8 145.6h.6M474 153.3h.6M471.8 156.9h.6M468.7 146.3h.6M471.4 155.5h.6M473.7 155.3h.6M472.2 157h.6M472.8 150.1h.6M479.7 150.2h.6M471.4 155.5h.6M472.7 152h.6M480 149.2h.6M475.6 157.3h.6M472.4 155.9h.6M474.5 150.5h.6M475.1 155.8h.6M471.1 148.8h.6M473.9 150.8h.6M473.6 151.5h.6M471.7 163.7h.6M472.4 150.4h.6M473.4 157.5h.6M476.4 148.5h.6M474 151h.6M474.5 149.9h.6M468.7 159.1h.6M477.6 164.8h.6M472.3 157.3h.6M472.2 150h.6M474.4 148.7h.6M473.6 153.8h.6M474.1 150.1h.6M473.6 152.8h.6M470.4 156.4h.6M474 147.4h.6M470.7 164.5h.6M474.6 154.2h.6M476.1 148h.6M473.7 156.8h.6M470.1 157.4h.6M472.7 158h.6M477.7 161.1h.6M475.7 159.9h.6M473.9 150h.6M471.8 158.5h.6M476.9 142.4h.6M476.7 151.9h.6M474.5 153.2h.6M474 156.3h.6M474.2 156h.6M472.7 152.3h.6M472.7 153.1h.6M475.5 145.7h.6M474.1 150.6h.6M479.8 149.8h.6M471.7 155.2h.6M472.8 150.4h.6M472.3 157.6h.6M475.8 156.1h.6M474.7 149.9h.6M475 156.8h.6M474.6 154.9h.6M464.3 145.8h.6M478.2 166.2h.6M449.3 144h.6M474.5 158h.6M440.5 137.8h.6M457.5 138.7h.6" stroke="#000" stroke-opacity="0.45" stroke-width=".6" fill="none"/><linearGradient id="og12" gradientUnits="userSpaceOnUse" x1="449.5" y1="168.5" x2="470.5" y2="148.5"><stop offset="0" stop-color="#000"/><stop offset="1" stop-color="#999"/></linearGradient><path d="M452.1 169.4 450.4 169.5 448.9 169.1 447.6 168.2 446.7 166.9 446.3 165.4 446.3 163.9 446.9 162.4 447.9 161.1 451.6 157.9 461.9 150.2 464.4 148.6 466.1 147.8 467.9 147.6 469.4 148 470.7 148.9 471.8 150.4 472.3 152.4 471.8 154.4 470.6 156.1 467.9 158.5 456.1 167.3 453.9 168.8 452.1 169.4ZM452.4 164.6 451.4 164.9 450.6 164.7 450.4 164.4 450.4 163.9 451.7 161.9 454.1 159.6 457.1 157.3 460.6 155.2 463.1 154.2 463.9 154.1 464.5 154.4 464.6 155.1 463.9 156.4 460.9 159.4 456.4 162.7 454.1 163.9 452.4 164.6Z" fill="none" stroke="url(#og12)" stroke-width="1.8"/><path d="M452.1 169.4 450.4 169.5 448.9 169.1 447.6 168.2 446.7 166.9 446.3 165.4 446.3 163.9 446.9 162.4 447.9 161.1 451.6 157.9 461.9 150.2 464.4 148.6 466.1 147.8 467.9 147.6 469.4 148 470.7 148.9 471.8 150.4 472.3 152.4 471.8 154.4 470.6 156.1 467.9 158.5 456.1 167.3 453.9 168.8 452.1 169.4ZM452.4 164.6 451.4 164.9 450.6 164.7 450.4 164.4 450.4 163.9 451.7 161.9 454.1 159.6 457.1 157.3 460.6 155.2 463.1 154.2 463.9 154.1 464.5 154.4 464.6 155.1 463.9 156.4 460.9 159.4 456.4 162.7 454.1 163.9 452.4 164.6Z" fill="#fff"/><path d="M452.4 167.7 451.1 167.9 449.9 167.6 448.9 167 448.2 166.1 448 165.1 448.1 163.9 448.6 162.8 449.5 161.6 453.1 158.7 464.6 150.2 466.1 149.5 467.4 149.3 468.6 149.6 469.6 150.2 470.4 151.4 470.5 152.9 469.9 154.4 468.9 155.6 466.5 157.6 455.9 165.6 453.9 167 452.4 167.7Z" fill="rgb(255,255,255)" stroke="#000" stroke-width=".45"/><path d="M453.6 163.2 452.6 163.1 452.6 162.4 453.5 161.1 455.4 159.4 457.4 157.9 459.6 156.5 461.4 155.8 462.4 155.9 462.4 156.4 461.9 157.4 459.6 159.6 456.4 161.9 453.6 163.2Z" fill="rgb(140,140,140)" stroke="#000" stroke-width=".45"/><path d="M455.9 161.4 455.1 161.6 454.7 161.4 455.3 160.4 457 158.9 459.1 157.6 460.1 157.4 460.2 157.9 459.2 159.1 457.6 160.4 455.9 161.4Z" fill="rgb(60,60,60)" stroke="#000" stroke-width=".45"/></g>
<rect x="433.60" y="116.50" width="70.60" height="71.30" fill="none" stroke="#a8a8a8" stroke-width="1.1"/>
<line x1="478.10" y1="117.00" x2="478.10" y2="187.80" stroke="#222" stroke-width="1.3" />
<line x1="478.10" y1="150.20" x2="504.30" y2="150.20" stroke="#222" stroke-width="1.3" />
<text x="490.90" y="125.80" font-size="6.5" text-anchor="middle" font-weight="bold" style="stroke-width:0">0.315</text>
<text x="490.00" y="182.50" font-size="6.5" text-anchor="middle" font-weight="bold" style="stroke-width:0">2.47</text>
<text x="202.40" y="74.80" font-size="13.9" text-anchor="middle">Untreated</text>
<text x="201.95" y="158.70" font-size="13.9" text-anchor="middle">Depleted</text>
<line x1="241.90" y1="46.30" x2="241.90" y2="175.80" stroke="#000" stroke-width="1.3" />
<text x="238.60" y="111.20" font-size="12" text-anchor="middle" transform="rotate(-90 238.60 111.20)">TNF&#945;</text>
<line x1="290.80" y1="196.20" x2="454.20" y2="196.20" stroke="#000" stroke-width="1.3" />
<text x="376.50" y="208.00" font-size="12" text-anchor="middle">IFN&#947;</text>
<text x="175.60" y="228.70" font-size="14.2" text-anchor="start" font-weight="bold">C</text>
<path d="M210.30 362.60V265.50H235.20V362.60" fill="#fff" stroke="#000" stroke-width="2"/>
<rect x="247.30" y="283.10" width="25.00" height="79.50" fill="#000" stroke="none" stroke-width="0"/>
<line x1="222.70" y1="264.50" x2="222.70" y2="258.50" stroke="#000" stroke-width="1.6" />
<line x1="216.30" y1="258.50" x2="229.00" y2="258.50" stroke="#000" stroke-width="1.6" />
<line x1="260.00" y1="283.10" x2="260.00" y2="272.50" stroke="#000" stroke-width="1.6" />
<line x1="253.20" y1="272.50" x2="266.80" y2="272.50" stroke="#000" stroke-width="1.6" />
<line x1="204.00" y1="249.40" x2="204.00" y2="363.60" stroke="#000" stroke-width="2" />
<line x1="200.00" y1="250.20" x2="204.00" y2="250.20" stroke="#000" stroke-width="1.5" />
<text x="199.10" y="253.00" font-size="7.6" text-anchor="end" style="stroke-width:0.15px">4</text>
<line x1="200.00" y1="278.30" x2="204.00" y2="278.30" stroke="#000" stroke-width="1.5" />
<text x="199.10" y="281.10" font-size="7.6" text-anchor="end" style="stroke-width:0.15px">3</text>
<line x1="200.00" y1="306.40" x2="204.00" y2="306.40" stroke="#000" stroke-width="1.5" />
<text x="199.10" y="309.20" font-size="7.6" text-anchor="end" style="stroke-width:0.15px">2</text>
<line x1="200.00" y1="334.50" x2="204.00" y2="334.50" stroke="#000" stroke-width="1.5" />
<text x="199.10" y="337.30" font-size="7.6" text-anchor="end" style="stroke-width:0.15px">1</text>
<line x1="200.00" y1="362.60" x2="204.00" y2="362.60" stroke="#000" stroke-width="1.5" />
<text x="199.10" y="365.40" font-size="7.6" text-anchor="end" style="stroke-width:0.15px">0</text>
<line x1="200.00" y1="362.60" x2="278.00" y2="362.60" stroke="#000" stroke-width="2" />
<text x="188.40" y="306.30" font-size="8" text-anchor="middle" transform="rotate(-90 188.40 306.30)" style="stroke-width:0.15px">% of D<tspan dy="-2.6" font-size="5.5">b</tspan><tspan dy="2.6">GP33 tet</tspan><tspan dy="-2.6" font-size="5.5">+</tspan><tspan dy="2.6">/CD8</tspan><tspan dy="-2.6" font-size="5.5">+</tspan></text>
<path d="M329.00 362.50V263.50H353.70V362.50" fill="#fff" stroke="#000" stroke-width="2"/>
<rect x="365.40" y="294.20" width="26.60" height="68.30" fill="#000" stroke="none" stroke-width="0"/>
<line x1="341.10" y1="262.50" x2="341.10" y2="257.50" stroke="#000" stroke-width="1.6" />
<line x1="334.30" y1="257.50" x2="347.80" y2="257.50" stroke="#000" stroke-width="1.6" />
<line x1="378.60" y1="294.20" x2="378.60" y2="280.40" stroke="#000" stroke-width="1.6" />
<line x1="372.10" y1="280.40" x2="385.30" y2="280.40" stroke="#000" stroke-width="1.6" />
<line x1="322.50" y1="249.20" x2="322.50" y2="363.50" stroke="#000" stroke-width="2" />
<line x1="318.50" y1="250.00" x2="322.50" y2="250.00" stroke="#000" stroke-width="1.5" />
<text x="317.60" y="252.80" font-size="7.6" text-anchor="end" style="stroke-width:0.15px">8</text>
<line x1="318.50" y1="287.50" x2="322.50" y2="287.50" stroke="#000" stroke-width="1.5" />
<text x="317.60" y="290.30" font-size="7.6" text-anchor="end" style="stroke-width:0.15px">5</text>
<line x1="318.50" y1="325.00" x2="322.50" y2="325.00" stroke="#000" stroke-width="1.5" />
<text x="317.60" y="327.80" font-size="7.6" text-anchor="end" style="stroke-width:0.15px">2</text>
<line x1="318.50" y1="362.50" x2="322.50" y2="362.50" stroke="#000" stroke-width="1.5" />
<text x="317.60" y="365.30" font-size="7.6" text-anchor="end" style="stroke-width:0.15px">0</text>
<line x1="318.50" y1="362.50" x2="396.80" y2="362.50" stroke="#000" stroke-width="2" />
<text x="302.70" y="303.20" font-size="8" text-anchor="middle" transform="rotate(-90 302.70 303.20)" style="stroke-width:0.15px">% of D<tspan dy="-2.6" font-size="5.5">b</tspan><tspan dy="2.6">GP276 tet</tspan><tspan dy="-2.6" font-size="5.5">+</tspan><tspan dy="2.6">/CD8</tspan><tspan dy="-2.6" font-size="5.5">+</tspan></text>
<path d="M447.90 363.00V281.00H472.10V363.00" fill="#fff" stroke="#000" stroke-width="2"/>
<rect x="484.00" y="316.20" width="27.20" height="46.80" fill="#000" stroke="none" stroke-width="0"/>
<line x1="460.00" y1="280.00" x2="460.00" y2="259.80" stroke="#000" stroke-width="1.6" />
<line x1="453.20" y1="259.80" x2="466.50" y2="259.80" stroke="#000" stroke-width="1.6" />
<line x1="497.50" y1="316.20" x2="497.50" y2="313.10" stroke="#000" stroke-width="1.6" />
<line x1="491.00" y1="313.10" x2="503.80" y2="313.10" stroke="#000" stroke-width="1.6" />
<line x1="441.40" y1="249.40" x2="441.40" y2="364.00" stroke="#000" stroke-width="2" />
<line x1="437.40" y1="250.20" x2="441.40" y2="250.20" stroke="#000" stroke-width="1.5" />
<line x1="437.40" y1="262.70" x2="441.40" y2="262.70" stroke="#000" stroke-width="1.5" />
<text x="436.50" y="265.50" font-size="7.6" text-anchor="end" style="stroke-width:0.15px">4</text>
<line x1="437.40" y1="287.80" x2="441.40" y2="287.80" stroke="#000" stroke-width="1.5" />
<text x="436.50" y="290.60" font-size="7.6" text-anchor="end" style="stroke-width:0.15px">3</text>
<line x1="437.40" y1="312.90" x2="441.40" y2="312.90" stroke="#000" stroke-width="1.5" />
<text x="436.50" y="315.70" font-size="7.6" text-anchor="end" style="stroke-width:0.15px">2</text>
<line x1="437.40" y1="338.00" x2="441.40" y2="338.00" stroke="#000" stroke-width="1.5" />
<text x="436.50" y="340.80" font-size="7.6" text-anchor="end" style="stroke-width:0.15px">1</text>
<line x1="437.40" y1="363.10" x2="441.40" y2="363.10" stroke="#000" stroke-width="1.5" />
<text x="436.50" y="365.90" font-size="7.6" text-anchor="end" style="stroke-width:0.15px">0</text>
<line x1="437.40" y1="363.00" x2="516.20" y2="363.00" stroke="#000" stroke-width="2" />
<text x="423.60" y="303.30" font-size="8" text-anchor="middle" transform="rotate(-90 423.60 303.30)" style="stroke-width:0.15px">% of D<tspan dy="-2.6" font-size="5.5">b</tspan><tspan dy="2.6">NP396 tet</tspan><tspan dy="-2.6" font-size="5.5">+</tspan><tspan dy="2.6">/CD8</tspan><tspan dy="-2.6" font-size="5.5">+</tspan></text>
<path d="M209.10 510.20V411.80H233.20V510.20" fill="#fff" stroke="#000" stroke-width="2"/>
<rect x="246.20" y="456.70" width="24.80" height="53.50" fill="#000" stroke="none" stroke-width="0"/>
<line x1="221.50" y1="410.80" x2="221.50" y2="404.10" stroke="#000" stroke-width="1.6" />
<line x1="215.00" y1="404.10" x2="227.70" y2="404.10" stroke="#000" stroke-width="1.6" />
<line x1="258.80" y1="456.70" x2="258.80" y2="449.40" stroke="#000" stroke-width="1.6" />
<line x1="251.80" y1="449.40" x2="265.30" y2="449.40" stroke="#000" stroke-width="1.6" />
<line x1="202.80" y1="398.00" x2="202.80" y2="511.20" stroke="#000" stroke-width="2" />
<line x1="198.80" y1="398.80" x2="202.80" y2="398.80" stroke="#000" stroke-width="1.5" />
<text x="198.40" y="402.40" font-size="8.4" text-anchor="end" style="stroke-width:0.15px">10<tspan dx="0.2" dy="-3.7" font-size="6.0">6</tspan></text>
<line x1="198.80" y1="454.50" x2="202.80" y2="454.50" stroke="#000" stroke-width="1.5" />
<text x="198.40" y="458.10" font-size="8.4" text-anchor="end" style="stroke-width:0.15px">10<tspan dx="0.2" dy="-3.7" font-size="6.0">5</tspan></text>
<line x1="198.80" y1="510.20" x2="202.80" y2="510.20" stroke="#000" stroke-width="1.5" />
<text x="198.40" y="513.80" font-size="8.4" text-anchor="end" style="stroke-width:0.15px">10<tspan dx="0.2" dy="-3.7" font-size="6.0">4</tspan></text>
<line x1="198.80" y1="510.20" x2="276.20" y2="510.20" stroke="#000" stroke-width="2" />
<polyline points="222.70,399.30 222.70,390.70 259.30,390.70 259.30,399.30" stroke="#000" stroke-width="1.5" fill="none" stroke-linejoin="round"/>
<text x="240.60" y="390.80" font-size="14.2" text-anchor="middle" font-weight="bold">*</text>
<text x="183.00" y="453.20" font-size="7.9" text-anchor="middle" transform="rotate(-90 183.00 453.20)" style="stroke-width:0.15px"># D<tspan dy="-2.8" font-size="6">b</tspan><tspan dy="2.8">GP33 tet</tspan><tspan dy="-2.8" font-size="6">+</tspan><tspan dy="2.8">/Spleen</tspan></text>
<text x="223.90" y="518.10" font-size="8.5" text-anchor="end" transform="rotate(-45 223.90 518.10)" style="stroke-width:0.15px">Untreated</text>
<text x="261.00" y="518.10" font-size="8.5" text-anchor="end" transform="rotate(-45 261.00 518.10)" style="stroke-width:0.15px">Depleted</text>
<path d="M328.10 510.20V405.70H352.50V510.20" fill="#fff" stroke="#000" stroke-width="2"/>
<rect x="365.10" y="449.90" width="24.90" height="60.30" fill="#000" stroke="none" stroke-width="0"/>
<line x1="340.50" y1="404.70" x2="340.50" y2="400.80" stroke="#000" stroke-width="1.6" />
<line x1="334.00" y1="400.80" x2="346.80" y2="400.80" stroke="#000" stroke-width="1.6" />
<line x1="377.90" y1="449.90" x2="377.90" y2="447.30" stroke="#000" stroke-width="1.6" />
<line x1="371.50" y1="447.30" x2="384.00" y2="447.30" stroke="#000" stroke-width="1.6" />
<line x1="321.70" y1="397.80" x2="321.70" y2="511.20" stroke="#000" stroke-width="2" />
<line x1="317.70" y1="398.60" x2="321.70" y2="398.60" stroke="#000" stroke-width="1.5" />
<line x1="317.70" y1="405.80" x2="321.70" y2="405.80" stroke="#000" stroke-width="1.5" />
<text x="317.30" y="409.40" font-size="8.4" text-anchor="end" style="stroke-width:0.15px">10<tspan dx="0.2" dy="-3.7" font-size="6.0">6</tspan></text>
<line x1="317.70" y1="458.00" x2="321.70" y2="458.00" stroke="#000" stroke-width="1.5" />
<text x="317.30" y="461.60" font-size="8.4" text-anchor="end" style="stroke-width:0.15px">10<tspan dx="0.2" dy="-3.7" font-size="6.0">5</tspan></text>
<line x1="317.70" y1="510.20" x2="321.70" y2="510.20" stroke="#000" stroke-width="1.5" />
<text x="317.30" y="513.80" font-size="8.4" text-anchor="end" style="stroke-width:0.15px">10<tspan dx="0.2" dy="-3.7" font-size="6.0">4</tspan></text>
<line x1="317.70" y1="510.20" x2="396.20" y2="510.20" stroke="#000" stroke-width="2" />
<polyline points="341.00,394.60 341.00,386.20 377.80,386.20 377.80,394.60" stroke="#000" stroke-width="1.5" fill="none" stroke-linejoin="round"/>
<text x="359.60" y="387.00" font-size="14.2" text-anchor="middle" font-weight="bold">*</text>
<text x="302.80" y="452.60" font-size="7.9" text-anchor="middle" transform="rotate(-90 302.80 452.60)" style="stroke-width:0.15px"># D<tspan dy="-2.8" font-size="6">b</tspan><tspan dy="2.8">GP276 tet</tspan><tspan dy="-2.8" font-size="6">+</tspan><tspan dy="2.8">/Spleen</tspan></text>
<text x="343.50" y="518.10" font-size="8.5" text-anchor="end" transform="rotate(-45 343.50 518.10)" style="stroke-width:0.15px">Untreated</text>
<text x="380.70" y="518.10" font-size="8.5" text-anchor="end" transform="rotate(-45 380.70 518.10)" style="stroke-width:0.15px">Depleted</text>
<path d="M447.20 510.00V412.20H470.90V510.00" fill="#fff" stroke="#000" stroke-width="2"/>
<rect x="484.00" y="469.20" width="24.00" height="40.80" fill="#000" stroke="none" stroke-width="0"/>
<line x1="459.00" y1="411.20" x2="459.00" y2="402.30" stroke="#000" stroke-width="1.6" />
<line x1="452.70" y1="402.30" x2="465.40" y2="402.30" stroke="#000" stroke-width="1.6" />
<line x1="496.20" y1="469.20" x2="496.20" y2="465.60" stroke="#000" stroke-width="1.6" />
<line x1="489.60" y1="465.60" x2="502.70" y2="465.60" stroke="#000" stroke-width="1.6" />
<line x1="440.50" y1="397.80" x2="440.50" y2="511.00" stroke="#000" stroke-width="2" />
<line x1="436.50" y1="398.60" x2="440.50" y2="398.60" stroke="#000" stroke-width="1.5" />
<text x="436.10" y="402.20" font-size="8.4" text-anchor="end" style="stroke-width:0.15px">10<tspan dx="0.2" dy="-3.7" font-size="6.0">6</tspan></text>
<line x1="436.50" y1="454.30" x2="440.50" y2="454.30" stroke="#000" stroke-width="1.5" />
<text x="436.10" y="457.90" font-size="8.4" text-anchor="end" style="stroke-width:0.15px">10<tspan dx="0.2" dy="-3.7" font-size="6.0">5</tspan></text>
<line x1="436.50" y1="510.00" x2="440.50" y2="510.00" stroke="#000" stroke-width="1.5" />
<text x="436.10" y="513.60" font-size="8.4" text-anchor="end" style="stroke-width:0.15px">10<tspan dx="0.2" dy="-3.7" font-size="6.0">4</tspan></text>
<line x1="436.50" y1="510.00" x2="514.60" y2="510.00" stroke="#000" stroke-width="2" />
<polyline points="458.10,396.30 458.10,387.50 495.00,387.50 495.00,396.30" stroke="#000" stroke-width="1.5" fill="none" stroke-linejoin="round"/>
<text x="476.20" y="388.60" font-size="14.2" text-anchor="middle" font-weight="bold">*</text>
<text x="423.20" y="453.20" font-size="7.9" text-anchor="middle" transform="rotate(-90 423.20 453.20)" style="stroke-width:0.15px"># D<tspan dy="-2.8" font-size="6">b</tspan><tspan dy="2.8">NP396 tet</tspan><tspan dy="-2.8" font-size="6">+</tspan><tspan dy="2.8">/Spleen</tspan></text>
<text x="462.70" y="518.10" font-size="8.5" text-anchor="end" transform="rotate(-45 462.70 518.10)" style="stroke-width:0.15px">Untreated</text>
<text x="500.20" y="518.10" font-size="8.5" text-anchor="end" transform="rotate(-45 500.20 518.10)" style="stroke-width:0.15px">Depleted</text>
</svg></body></html>
